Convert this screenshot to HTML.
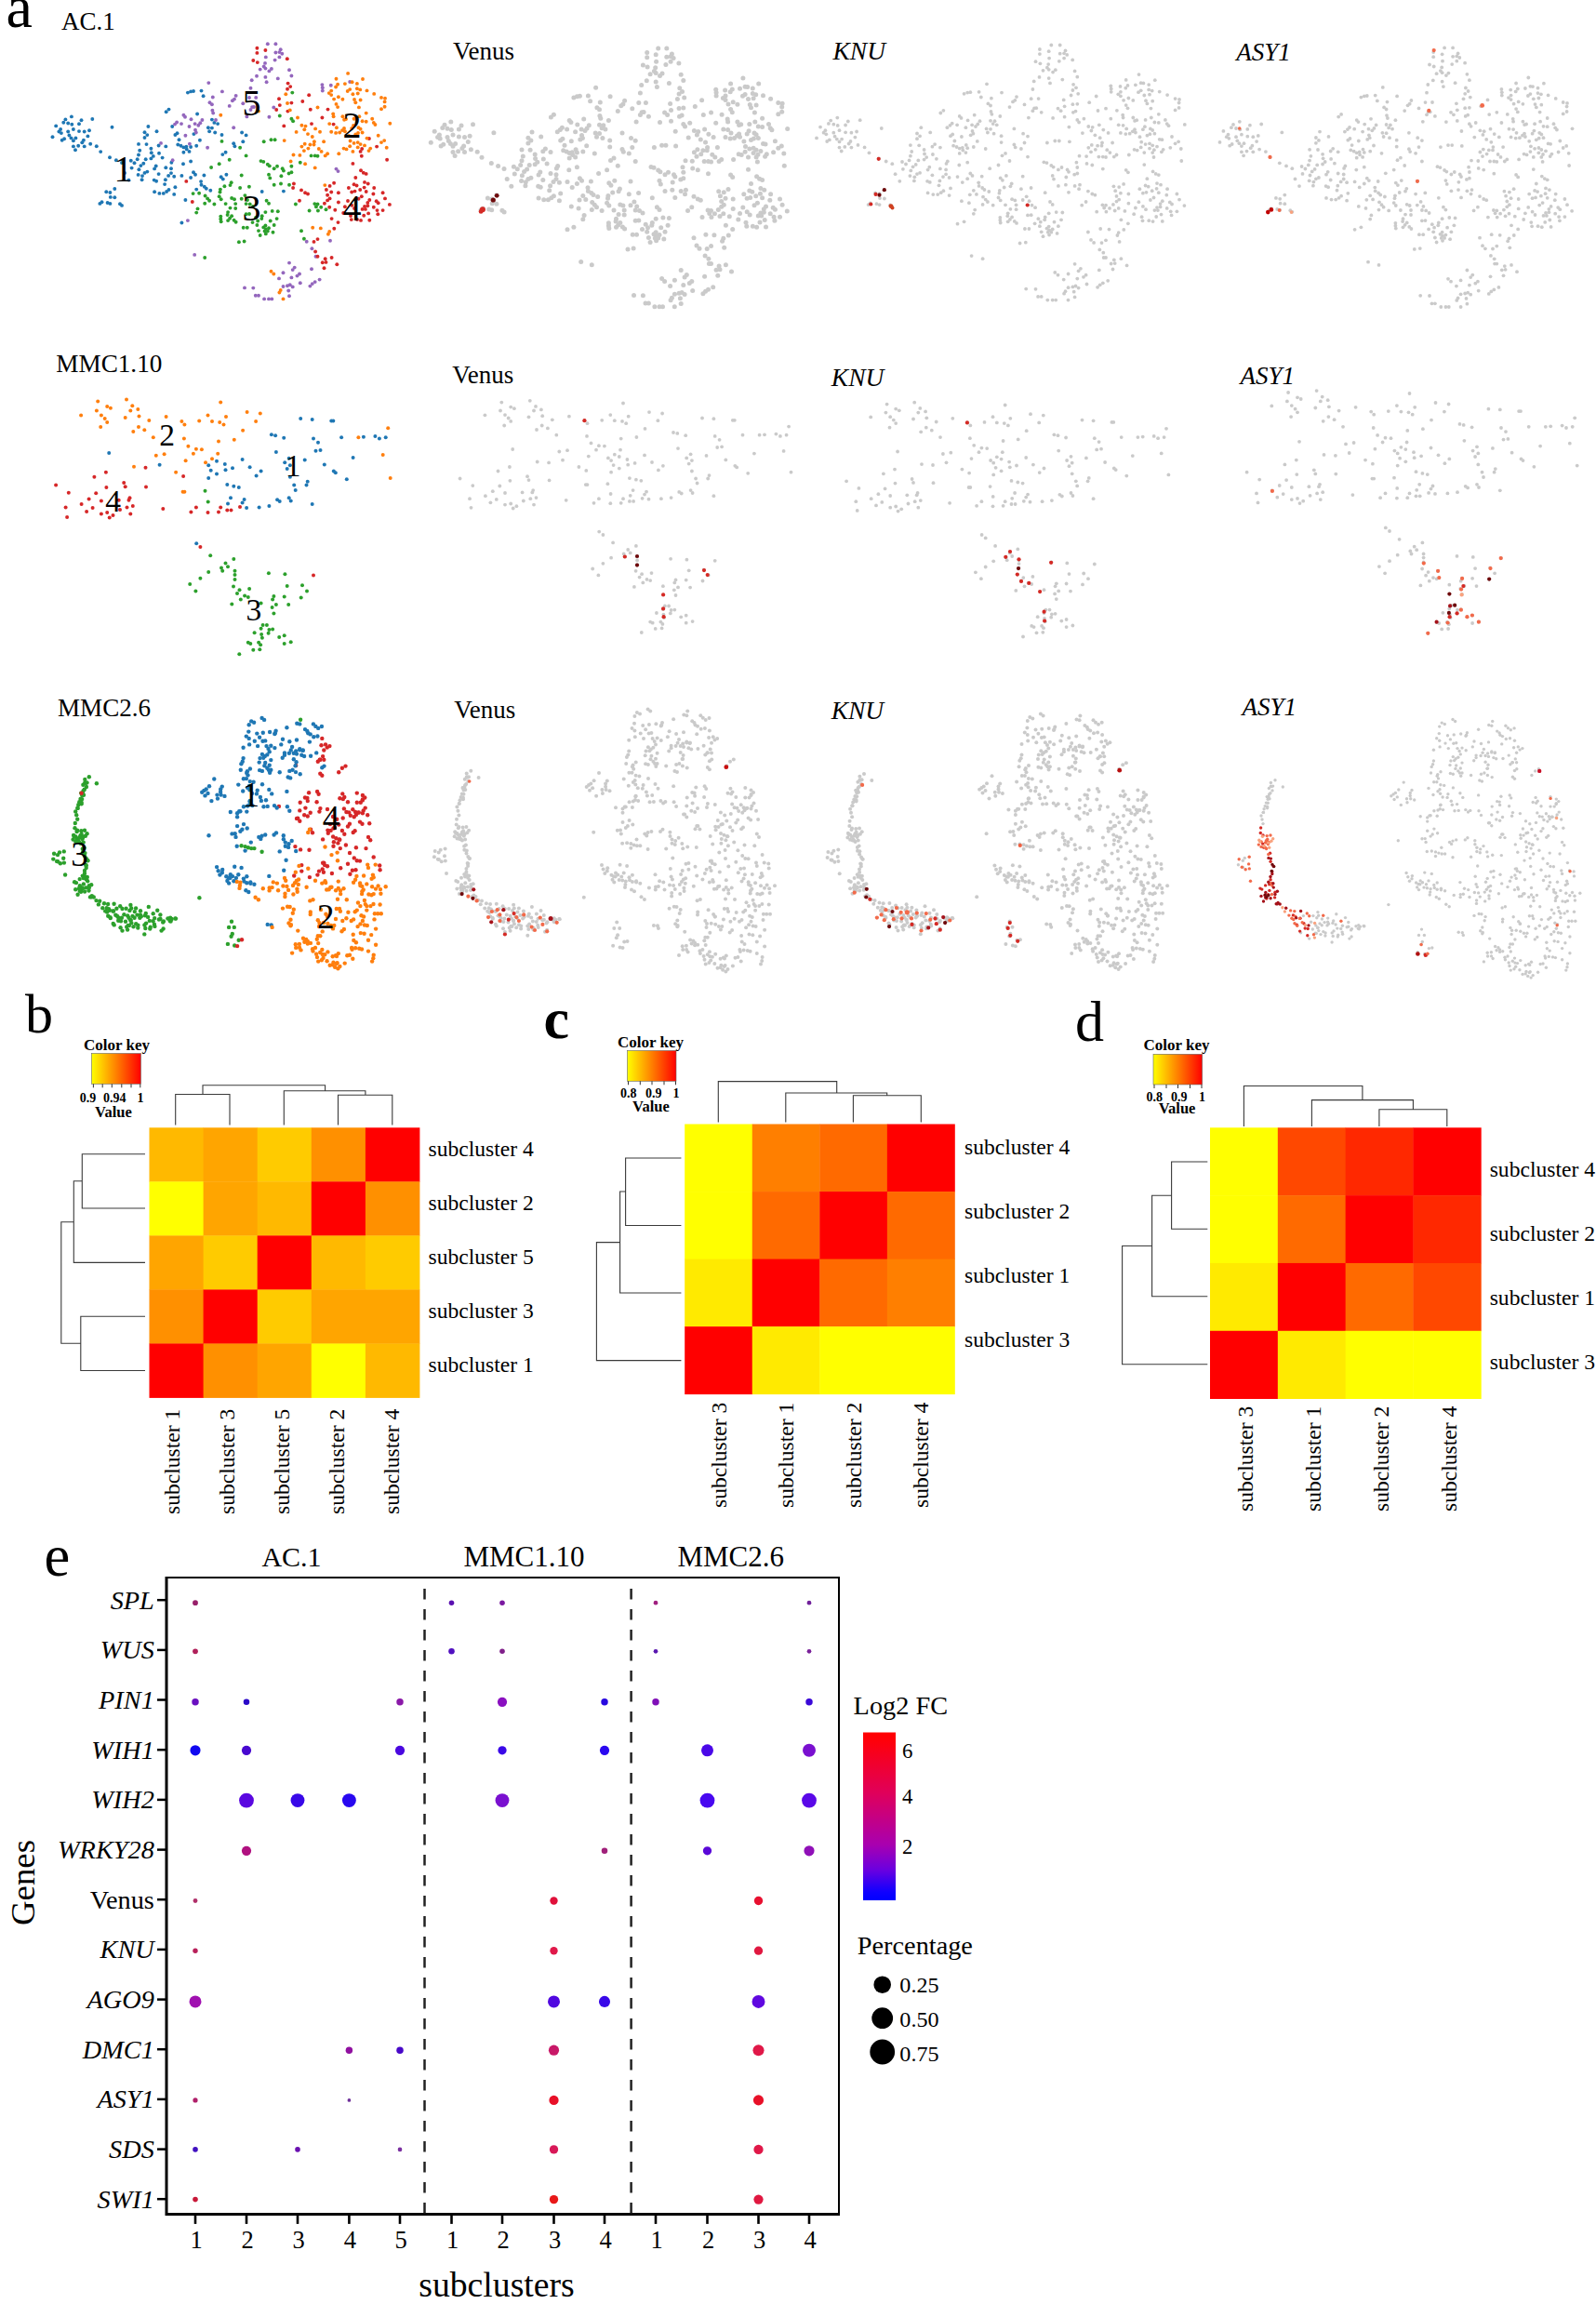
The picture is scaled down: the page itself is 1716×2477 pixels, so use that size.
<!DOCTYPE html>
<html><head><meta charset="utf-8"><title>Figure</title>
<style>
html,body{margin:0;padding:0;background:#fff}
svg{display:block}
text{font-family:"Liberation Serif",serif;fill:#000}
</style></head><body>
<svg width="1716" height="2477" viewBox="0 0 1716 2477">
<rect width="1716" height="2477" fill="#fff"/>
<g fill="#1f77b4">
<circle cx="76.9" cy="125.4" r="1.95"/><circle cx="99.3" cy="128.0" r="1.95"/><circle cx="70.4" cy="128.4" r="1.95"/><circle cx="68.3" cy="131.7" r="1.95"/><circle cx="73.2" cy="132.5" r="1.95"/><circle cx="77.3" cy="133.7" r="1.95"/><circle cx="87.5" cy="129.3" r="1.95"/><circle cx="85.0" cy="133.3" r="1.95"/><circle cx="60.2" cy="135.4" r="1.95"/><circle cx="65.1" cy="139.0" r="1.95"/><circle cx="78.9" cy="139.0" r="1.95"/><circle cx="85.0" cy="141.1" r="1.95"/><circle cx="73.2" cy="141.5" r="1.95"/><circle cx="63.4" cy="141.5" r="1.95"/><circle cx="65.9" cy="143.1" r="1.95"/><circle cx="90.7" cy="141.5" r="1.95"/><circle cx="96.0" cy="140.3" r="1.95"/><circle cx="74.4" cy="145.5" r="1.95"/><circle cx="94.4" cy="146.4" r="1.95"/><circle cx="56.5" cy="147.2" r="1.95"/><circle cx="76.5" cy="148.4" r="1.95"/><circle cx="81.4" cy="148.4" r="1.95"/><circle cx="78.9" cy="151.2" r="1.95"/><circle cx="69.1" cy="149.2" r="1.95"/><circle cx="66.7" cy="150.8" r="1.95"/><circle cx="89.9" cy="150.8" r="1.95"/><circle cx="88.3" cy="153.3" r="1.95"/><circle cx="97.2" cy="154.7" r="1.95"/><circle cx="90.7" cy="157.4" r="1.95"/><circle cx="84.2" cy="156.7" r="1.95"/><circle cx="78.9" cy="157.4" r="1.95"/><circle cx="81.0" cy="161.3" r="1.95"/><circle cx="103.8" cy="157.2" r="1.95"/><circle cx="108.2" cy="163.1" r="1.95"/><circle cx="118.0" cy="169.2" r="1.95"/><circle cx="124.9" cy="172.3" r="1.95"/><circle cx="120.5" cy="136.8" r="1.95"/><circle cx="159.4" cy="136.0" r="1.95"/><circle cx="168.5" cy="141.2" r="1.95"/><circle cx="155.5" cy="142.3" r="1.95"/><circle cx="158.3" cy="145.1" r="1.95"/><circle cx="155.5" cy="148.0" r="1.95"/><circle cx="149.0" cy="154.9" r="1.95"/><circle cx="157.5" cy="155.1" r="1.95"/><circle cx="170.6" cy="156.5" r="1.95"/><circle cx="162.4" cy="159.8" r="1.95"/><circle cx="150.2" cy="161.8" r="1.95"/><circle cx="162.8" cy="164.3" r="1.95"/><circle cx="171.0" cy="164.8" r="1.95"/><circle cx="149.0" cy="166.5" r="1.95"/><circle cx="164.8" cy="167.9" r="1.95"/><circle cx="162.4" cy="170.4" r="1.95"/><circle cx="174.6" cy="169.6" r="1.95"/><circle cx="147.7" cy="171.2" r="1.95"/><circle cx="156.7" cy="171.2" r="1.95"/><circle cx="140.8" cy="172.8" r="1.95"/><circle cx="144.5" cy="175.3" r="1.95"/><circle cx="154.3" cy="175.7" r="1.95"/><circle cx="151.4" cy="178.1" r="1.95"/><circle cx="167.7" cy="178.5" r="1.95"/><circle cx="141.6" cy="180.6" r="1.95"/><circle cx="149.4" cy="182.2" r="1.95"/><circle cx="166.1" cy="181.4" r="1.95"/><circle cx="158.3" cy="184.6" r="1.95"/><circle cx="155.5" cy="185.9" r="1.95"/><circle cx="148.6" cy="187.9" r="1.95"/><circle cx="153.0" cy="189.1" r="1.95"/><circle cx="170.6" cy="187.1" r="1.95"/><circle cx="152.6" cy="193.2" r="1.95"/><circle cx="138.4" cy="193.6" r="1.95"/><circle cx="165.7" cy="193.6" r="1.95"/><circle cx="168.1" cy="194.7" r="1.95"/><circle cx="177.9" cy="193.2" r="1.95"/><circle cx="177.1" cy="198.1" r="1.95"/><circle cx="178.3" cy="180.2" r="1.95"/><circle cx="178.3" cy="157.4" r="1.95"/><circle cx="166.1" cy="206.2" r="1.95"/><circle cx="171.4" cy="207.9" r="1.95"/><circle cx="175.8" cy="207.9" r="1.95"/><circle cx="178.7" cy="120.3" r="1.95"/><circle cx="123.3" cy="203.0" r="1.95"/><circle cx="114.3" cy="206.2" r="1.95"/><circle cx="118.4" cy="207.0" r="1.95"/><circle cx="118.8" cy="211.9" r="1.95"/><circle cx="123.3" cy="212.3" r="1.95"/><circle cx="109.5" cy="217.2" r="1.95"/><circle cx="107.4" cy="218.9" r="1.95"/><circle cx="115.6" cy="218.0" r="1.95"/><circle cx="118.4" cy="218.9" r="1.95"/><circle cx="129.0" cy="219.3" r="1.95"/><circle cx="131.0" cy="220.9" r="1.95"/><circle cx="201.9" cy="99.6" r="1.95"/><circle cx="205.1" cy="98.4" r="1.95"/><circle cx="208.0" cy="98.0" r="1.95"/><circle cx="216.5" cy="97.6" r="1.95"/><circle cx="218.6" cy="103.3" r="1.95"/><circle cx="181.5" cy="117.6" r="1.95"/><circle cx="212.1" cy="122.5" r="1.95"/><circle cx="227.9" cy="128.6" r="1.95"/><circle cx="304.9" cy="205.6" r="1.95"/><circle cx="230.4" cy="131.9" r="1.95"/><circle cx="234.1" cy="133.1" r="1.95"/><circle cx="223.9" cy="137.2" r="1.95"/><circle cx="227.9" cy="137.6" r="1.95"/><circle cx="225.1" cy="141.3" r="1.95"/><circle cx="231.2" cy="142.5" r="1.95"/><circle cx="185.2" cy="136.0" r="1.95"/><circle cx="190.5" cy="143.3" r="1.95"/><circle cx="188.4" cy="145.0" r="1.95"/><circle cx="208.4" cy="144.1" r="1.95"/><circle cx="238.5" cy="145.0" r="1.95"/><circle cx="260.1" cy="142.5" r="1.95"/><circle cx="264.6" cy="145.4" r="1.95"/><circle cx="214.9" cy="150.7" r="1.95"/><circle cx="192.5" cy="150.3" r="1.95"/><circle cx="261.3" cy="152.3" r="1.95"/><circle cx="191.3" cy="155.5" r="1.95"/><circle cx="194.5" cy="156.8" r="1.95"/><circle cx="197.4" cy="158.4" r="1.95"/><circle cx="200.3" cy="157.6" r="1.95"/><circle cx="205.1" cy="158.0" r="1.95"/><circle cx="211.2" cy="156.8" r="1.95"/><circle cx="200.7" cy="160.4" r="1.95"/><circle cx="197.4" cy="163.7" r="1.95"/><circle cx="203.5" cy="162.9" r="1.95"/><circle cx="251.2" cy="154.3" r="1.95"/><circle cx="252.4" cy="157.2" r="1.95"/><circle cx="242.6" cy="163.7" r="1.95"/><circle cx="239.3" cy="166.1" r="1.95"/><circle cx="205.1" cy="173.5" r="1.95"/><circle cx="184.4" cy="174.7" r="1.95"/><circle cx="197.0" cy="176.3" r="1.95"/><circle cx="184.0" cy="181.2" r="1.95"/><circle cx="208.0" cy="185.3" r="1.95"/><circle cx="210.0" cy="187.7" r="1.95"/><circle cx="184.0" cy="186.1" r="1.95"/><circle cx="181.1" cy="188.9" r="1.95"/><circle cx="187.2" cy="189.8" r="1.95"/><circle cx="195.4" cy="188.9" r="1.95"/><circle cx="219.4" cy="188.5" r="1.95"/><circle cx="205.1" cy="191.0" r="1.95"/><circle cx="237.7" cy="190.2" r="1.95"/><circle cx="239.8" cy="192.6" r="1.95"/><circle cx="243.4" cy="187.7" r="1.95"/><circle cx="216.1" cy="195.1" r="1.95"/><circle cx="216.5" cy="198.7" r="1.95"/><circle cx="219.8" cy="200.8" r="1.95"/><circle cx="221.8" cy="202.8" r="1.95"/><circle cx="188.4" cy="201.2" r="1.95"/><circle cx="211.2" cy="203.6" r="1.95"/><circle cx="226.3" cy="204.8" r="1.95"/><circle cx="181.5" cy="204.0" r="1.95"/><circle cx="179.1" cy="206.0" r="1.95"/><circle cx="187.2" cy="208.9" r="1.95"/><circle cx="199.4" cy="215.0" r="1.95"/><circle cx="281.7" cy="206.0" r="1.95"/><circle cx="195.4" cy="239.5" r="1.95"/><circle cx="131.0" cy="175.0" r="1.95"/><circle cx="134.0" cy="186.0" r="1.95"/>
</g>
<g fill="#9467bd">
<circle cx="173.0" cy="153.9" r="1.95"/><circle cx="287.8" cy="47.3" r="1.95"/><circle cx="296.4" cy="47.3" r="1.95"/><circle cx="301.7" cy="53.2" r="1.95"/><circle cx="296.4" cy="56.5" r="1.95"/><circle cx="300.4" cy="56.1" r="1.95"/><circle cx="303.3" cy="57.7" r="1.95"/><circle cx="285.8" cy="61.4" r="1.95"/><circle cx="300.4" cy="61.4" r="1.95"/><circle cx="295.6" cy="64.6" r="1.95"/><circle cx="285.0" cy="67.9" r="1.95"/><circle cx="283.7" cy="71.5" r="1.95"/><circle cx="285.4" cy="73.6" r="1.95"/><circle cx="279.7" cy="74.6" r="1.95"/><circle cx="291.9" cy="74.0" r="1.95"/><circle cx="289.4" cy="76.4" r="1.95"/><circle cx="276.0" cy="81.7" r="1.95"/><circle cx="285.4" cy="82.9" r="1.95"/><circle cx="270.7" cy="86.2" r="1.95"/><circle cx="286.6" cy="88.2" r="1.95"/><circle cx="298.8" cy="84.4" r="1.95"/><circle cx="269.5" cy="94.8" r="1.95"/><circle cx="238.9" cy="98.4" r="1.95"/><circle cx="253.6" cy="102.9" r="1.95"/><circle cx="252.0" cy="106.6" r="1.95"/><circle cx="249.9" cy="108.2" r="1.95"/><circle cx="228.8" cy="104.5" r="1.95"/><circle cx="225.5" cy="110.2" r="1.95"/><circle cx="227.9" cy="112.3" r="1.95"/><circle cx="246.7" cy="113.9" r="1.95"/><circle cx="261.3" cy="111.2" r="1.95"/><circle cx="275.2" cy="104.9" r="1.95"/><circle cx="271.1" cy="115.1" r="1.95"/><circle cx="269.5" cy="118.0" r="1.95"/><circle cx="228.4" cy="118.8" r="1.95"/><circle cx="229.2" cy="121.6" r="1.95"/><circle cx="197.4" cy="123.7" r="1.95"/><circle cx="199.0" cy="125.7" r="1.95"/><circle cx="205.5" cy="128.2" r="1.95"/><circle cx="289.4" cy="125.7" r="1.95"/><circle cx="294.3" cy="115.5" r="1.95"/><circle cx="217.4" cy="129.0" r="1.95"/><circle cx="232.0" cy="129.0" r="1.95"/><circle cx="224.3" cy="89.1" r="1.95"/><circle cx="311.0" cy="75.2" r="1.95"/><circle cx="313.4" cy="81.5" r="1.95"/><circle cx="346.4" cy="91.1" r="1.95"/><circle cx="346.8" cy="94.3" r="1.95"/><circle cx="346.8" cy="97.6" r="1.95"/><circle cx="355.8" cy="91.7" r="1.95"/><circle cx="376.2" cy="88.0" r="1.95"/><circle cx="361.5" cy="181.6" r="1.95"/><circle cx="363.5" cy="184.1" r="1.95"/><circle cx="190.1" cy="131.5" r="1.95"/><circle cx="188.0" cy="133.6" r="1.95"/><circle cx="195.0" cy="133.1" r="1.95"/><circle cx="215.3" cy="132.3" r="1.95"/><circle cx="213.3" cy="134.8" r="1.95"/><circle cx="209.6" cy="133.1" r="1.95"/><circle cx="203.5" cy="136.0" r="1.95"/><circle cx="210.0" cy="139.7" r="1.95"/><circle cx="210.8" cy="142.5" r="1.95"/><circle cx="199.4" cy="145.8" r="1.95"/><circle cx="251.2" cy="137.2" r="1.95"/><circle cx="265.4" cy="125.4" r="1.95"/><circle cx="203.9" cy="154.7" r="1.95"/><circle cx="223.1" cy="158.8" r="1.95"/><circle cx="185.6" cy="172.2" r="1.95"/><circle cx="201.9" cy="237.1" r="1.95"/><circle cx="209.2" cy="273.9" r="1.95"/><circle cx="263.0" cy="309.4" r="1.95"/><circle cx="272.3" cy="309.6" r="1.95"/><circle cx="274.8" cy="317.7" r="1.95"/><circle cx="278.0" cy="317.7" r="1.95"/><circle cx="284.1" cy="321.4" r="1.95"/><circle cx="289.0" cy="321.4" r="1.95"/><circle cx="292.3" cy="321.4" r="1.95"/><circle cx="300.0" cy="299.4" r="1.95"/><circle cx="304.5" cy="293.3" r="1.95"/><circle cx="304.5" cy="308.0" r="1.95"/><circle cx="329.7" cy="259.7" r="1.95"/><circle cx="355.0" cy="258.7" r="1.95"/><circle cx="335.4" cy="267.2" r="1.95"/><circle cx="339.5" cy="275.8" r="1.95"/><circle cx="311.0" cy="282.6" r="1.95"/><circle cx="316.7" cy="287.6" r="1.95"/><circle cx="314.7" cy="290.1" r="1.95"/><circle cx="335.0" cy="289.2" r="1.95"/><circle cx="322.0" cy="294.5" r="1.95"/><circle cx="319.5" cy="296.6" r="1.95"/><circle cx="313.4" cy="298.4" r="1.95"/><circle cx="343.6" cy="300.6" r="1.95"/><circle cx="338.7" cy="303.1" r="1.95"/><circle cx="335.8" cy="305.1" r="1.95"/><circle cx="333.4" cy="307.6" r="1.95"/><circle cx="322.8" cy="304.3" r="1.95"/><circle cx="309.0" cy="307.2" r="1.95"/><circle cx="311.8" cy="306.3" r="1.95"/><circle cx="314.7" cy="308.4" r="1.95"/><circle cx="310.2" cy="312.5" r="1.95"/><circle cx="311.0" cy="318.2" r="1.95"/><circle cx="268.0" cy="105.0" r="1.95"/><circle cx="273.0" cy="115.0" r="1.95"/>
</g>
<g fill="#d62728">
<circle cx="276.4" cy="51.8" r="1.95"/><circle cx="285.4" cy="54.0" r="1.95"/><circle cx="276.4" cy="56.9" r="1.95"/><circle cx="272.3" cy="65.0" r="1.95"/><circle cx="276.8" cy="67.1" r="1.95"/><circle cx="300.0" cy="106.2" r="1.95"/><circle cx="300.8" cy="113.1" r="1.95"/><circle cx="297.2" cy="118.0" r="1.95"/><circle cx="308.8" cy="63.2" r="1.95"/><circle cx="309.6" cy="89.6" r="1.95"/><circle cx="312.2" cy="93.1" r="1.95"/><circle cx="309.0" cy="95.8" r="1.95"/><circle cx="313.4" cy="110.6" r="1.95"/><circle cx="325.3" cy="109.0" r="1.95"/><circle cx="332.2" cy="102.3" r="1.95"/><circle cx="333.8" cy="117.8" r="1.95"/><circle cx="352.5" cy="117.6" r="1.95"/><circle cx="309.4" cy="119.6" r="1.95"/><circle cx="346.4" cy="126.5" r="1.95"/><circle cx="305.3" cy="135.4" r="1.95"/><circle cx="335.0" cy="133.1" r="1.95"/><circle cx="358.6" cy="133.6" r="1.95"/><circle cx="396.9" cy="149.0" r="1.95"/><circle cx="405.1" cy="157.6" r="1.95"/><circle cx="389.2" cy="160.0" r="1.95"/><circle cx="387.6" cy="162.9" r="1.95"/><circle cx="388.8" cy="167.8" r="1.95"/><circle cx="416.1" cy="171.8" r="1.95"/><circle cx="379.4" cy="175.9" r="1.95"/><circle cx="388.0" cy="183.2" r="1.95"/><circle cx="390.8" cy="185.7" r="1.95"/><circle cx="393.7" cy="186.9" r="1.95"/><circle cx="382.3" cy="191.0" r="1.95"/><circle cx="359.1" cy="196.7" r="1.95"/><circle cx="392.0" cy="195.9" r="1.95"/><circle cx="395.7" cy="197.5" r="1.95"/><circle cx="380.6" cy="198.3" r="1.95"/><circle cx="383.5" cy="199.5" r="1.95"/><circle cx="354.6" cy="199.9" r="1.95"/><circle cx="374.9" cy="202.0" r="1.95"/><circle cx="391.6" cy="201.6" r="1.95"/><circle cx="402.2" cy="202.0" r="1.95"/><circle cx="387.2" cy="204.0" r="1.95"/><circle cx="350.9" cy="204.0" r="1.95"/><circle cx="315.9" cy="197.5" r="1.95"/><circle cx="315.1" cy="202.0" r="1.95"/><circle cx="324.0" cy="204.4" r="1.95"/><circle cx="356.2" cy="206.5" r="1.95"/><circle cx="363.9" cy="207.3" r="1.95"/><circle cx="378.2" cy="206.5" r="1.95"/><circle cx="381.5" cy="205.6" r="1.95"/><circle cx="393.7" cy="206.0" r="1.95"/><circle cx="401.4" cy="208.5" r="1.95"/><circle cx="411.6" cy="207.3" r="1.95"/><circle cx="328.1" cy="207.3" r="1.95"/><circle cx="331.0" cy="208.5" r="1.95"/><circle cx="352.1" cy="209.7" r="1.95"/><circle cx="354.6" cy="213.4" r="1.95"/><circle cx="352.1" cy="215.4" r="1.95"/><circle cx="348.9" cy="218.7" r="1.95"/><circle cx="363.9" cy="217.5" r="1.95"/><circle cx="388.8" cy="211.3" r="1.95"/><circle cx="385.5" cy="213.8" r="1.95"/><circle cx="397.3" cy="215.0" r="1.95"/><circle cx="395.3" cy="217.9" r="1.95"/><circle cx="404.7" cy="216.2" r="1.95"/><circle cx="406.7" cy="218.3" r="1.95"/><circle cx="414.0" cy="213.4" r="1.95"/><circle cx="418.9" cy="219.9" r="1.95"/><circle cx="322.0" cy="215.8" r="1.95"/><circle cx="378.2" cy="220.7" r="1.95"/><circle cx="370.9" cy="222.3" r="1.95"/><circle cx="392.0" cy="221.9" r="1.95"/><circle cx="401.8" cy="222.7" r="1.95"/><circle cx="354.2" cy="222.7" r="1.95"/><circle cx="200.3" cy="194.9" r="1.95"/><circle cx="206.8" cy="217.0" r="1.95"/><circle cx="360.3" cy="225.7" r="1.95"/><circle cx="369.2" cy="229.0" r="1.95"/><circle cx="395.3" cy="221.2" r="1.95"/><circle cx="389.6" cy="224.9" r="1.95"/><circle cx="392.9" cy="224.9" r="1.95"/><circle cx="396.1" cy="229.4" r="1.95"/><circle cx="391.2" cy="231.8" r="1.95"/><circle cx="405.5" cy="226.1" r="1.95"/><circle cx="406.3" cy="230.2" r="1.95"/><circle cx="411.6" cy="226.1" r="1.95"/><circle cx="356.6" cy="235.1" r="1.95"/><circle cx="363.5" cy="239.1" r="1.95"/><circle cx="377.8" cy="236.1" r="1.95"/><circle cx="388.0" cy="236.9" r="1.95"/><circle cx="397.3" cy="236.7" r="1.95"/><circle cx="359.3" cy="245.7" r="1.95"/><circle cx="341.5" cy="257.1" r="1.95"/><circle cx="337.5" cy="259.9" r="1.95"/><circle cx="339.1" cy="270.5" r="1.95"/><circle cx="341.5" cy="275.8" r="1.95"/><circle cx="356.6" cy="277.0" r="1.95"/><circle cx="349.7" cy="278.2" r="1.95"/><circle cx="346.8" cy="282.3" r="1.95"/><circle cx="350.5" cy="281.9" r="1.95"/><circle cx="362.3" cy="284.2" r="1.95"/><circle cx="348.5" cy="288.3" r="1.95"/><circle cx="374.0" cy="216.0" r="1.95"/><circle cx="381.0" cy="224.0" r="1.95"/><circle cx="377.0" cy="232.0" r="1.95"/><circle cx="384.0" cy="236.0" r="1.95"/>
</g>
<g fill="#ff7f0e">
<circle cx="237.3" cy="123.8" r="1.95"/><circle cx="278.0" cy="119.6" r="1.95"/><circle cx="374.1" cy="78.9" r="1.95"/><circle cx="361.5" cy="84.7" r="1.95"/><circle cx="390.0" cy="85.0" r="1.95"/><circle cx="378.6" cy="88.2" r="1.95"/><circle cx="370.9" cy="90.1" r="1.95"/><circle cx="383.9" cy="89.9" r="1.95"/><circle cx="363.1" cy="90.7" r="1.95"/><circle cx="361.1" cy="93.5" r="1.95"/><circle cx="356.2" cy="97.6" r="1.95"/><circle cx="353.8" cy="100.1" r="1.95"/><circle cx="356.2" cy="102.1" r="1.95"/><circle cx="376.2" cy="96.1" r="1.95"/><circle cx="373.7" cy="98.0" r="1.95"/><circle cx="383.9" cy="95.2" r="1.95"/><circle cx="387.2" cy="96.4" r="1.95"/><circle cx="394.5" cy="97.4" r="1.95"/><circle cx="384.7" cy="100.5" r="1.95"/><circle cx="379.4" cy="101.3" r="1.95"/><circle cx="402.2" cy="100.9" r="1.95"/><circle cx="363.9" cy="104.3" r="1.95"/><circle cx="359.1" cy="106.6" r="1.95"/><circle cx="368.4" cy="106.7" r="1.95"/><circle cx="381.0" cy="107.0" r="1.95"/><circle cx="387.6" cy="107.5" r="1.95"/><circle cx="382.3" cy="110.2" r="1.95"/><circle cx="410.0" cy="104.9" r="1.95"/><circle cx="414.0" cy="105.8" r="1.95"/><circle cx="413.6" cy="109.4" r="1.95"/><circle cx="361.5" cy="111.9" r="1.95"/><circle cx="363.1" cy="115.1" r="1.95"/><circle cx="385.9" cy="115.4" r="1.95"/><circle cx="413.6" cy="114.7" r="1.95"/><circle cx="410.0" cy="117.2" r="1.95"/><circle cx="307.3" cy="101.3" r="1.95"/><circle cx="309.0" cy="111.0" r="1.95"/><circle cx="341.5" cy="115.5" r="1.95"/><circle cx="311.8" cy="118.4" r="1.95"/><circle cx="393.7" cy="121.6" r="1.95"/><circle cx="358.2" cy="122.5" r="1.95"/><circle cx="358.6" cy="125.3" r="1.95"/><circle cx="320.0" cy="126.5" r="1.95"/><circle cx="368.4" cy="125.3" r="1.95"/><circle cx="386.3" cy="125.3" r="1.95"/><circle cx="380.6" cy="127.7" r="1.95"/><circle cx="400.2" cy="127.7" r="1.95"/><circle cx="370.1" cy="128.7" r="1.95"/><circle cx="389.6" cy="130.3" r="1.95"/><circle cx="393.7" cy="130.7" r="1.95"/><circle cx="401.8" cy="131.9" r="1.95"/><circle cx="403.4" cy="134.0" r="1.95"/><circle cx="419.3" cy="132.7" r="1.95"/><circle cx="324.4" cy="134.8" r="1.95"/><circle cx="328.5" cy="135.6" r="1.95"/><circle cx="327.3" cy="139.3" r="1.95"/><circle cx="354.2" cy="133.1" r="1.95"/><circle cx="361.9" cy="137.2" r="1.95"/><circle cx="339.1" cy="138.4" r="1.95"/><circle cx="344.0" cy="141.7" r="1.95"/><circle cx="356.2" cy="141.7" r="1.95"/><circle cx="361.1" cy="142.9" r="1.95"/><circle cx="365.2" cy="142.5" r="1.95"/><circle cx="368.0" cy="140.1" r="1.95"/><circle cx="370.9" cy="141.3" r="1.95"/><circle cx="378.2" cy="138.0" r="1.95"/><circle cx="385.5" cy="137.2" r="1.95"/><circle cx="387.6" cy="138.8" r="1.95"/><circle cx="389.6" cy="142.5" r="1.95"/><circle cx="382.3" cy="144.5" r="1.95"/><circle cx="318.6" cy="141.9" r="1.95"/><circle cx="331.0" cy="144.1" r="1.95"/><circle cx="335.8" cy="147.0" r="1.95"/><circle cx="406.7" cy="145.8" r="1.95"/><circle cx="394.5" cy="148.6" r="1.95"/><circle cx="305.7" cy="151.1" r="1.95"/><circle cx="348.1" cy="152.3" r="1.95"/><circle cx="337.9" cy="152.3" r="1.95"/><circle cx="337.5" cy="155.5" r="1.95"/><circle cx="376.6" cy="151.5" r="1.95"/><circle cx="380.6" cy="153.9" r="1.95"/><circle cx="384.7" cy="153.1" r="1.95"/><circle cx="387.6" cy="155.1" r="1.95"/><circle cx="392.0" cy="156.4" r="1.95"/><circle cx="410.0" cy="153.1" r="1.95"/><circle cx="413.2" cy="151.1" r="1.95"/><circle cx="327.7" cy="154.7" r="1.95"/><circle cx="333.4" cy="155.5" r="1.95"/><circle cx="324.4" cy="157.6" r="1.95"/><circle cx="331.4" cy="159.6" r="1.95"/><circle cx="326.9" cy="162.1" r="1.95"/><circle cx="342.8" cy="160.0" r="1.95"/><circle cx="345.6" cy="162.9" r="1.95"/><circle cx="352.1" cy="165.3" r="1.95"/><circle cx="349.7" cy="167.4" r="1.95"/><circle cx="369.6" cy="159.6" r="1.95"/><circle cx="372.5" cy="160.4" r="1.95"/><circle cx="376.2" cy="157.2" r="1.95"/><circle cx="384.7" cy="158.4" r="1.95"/><circle cx="398.2" cy="159.6" r="1.95"/><circle cx="396.5" cy="162.1" r="1.95"/><circle cx="415.7" cy="158.8" r="1.95"/><circle cx="379.4" cy="162.9" r="1.95"/><circle cx="364.3" cy="165.3" r="1.95"/><circle cx="315.5" cy="166.5" r="1.95"/><circle cx="322.4" cy="166.9" r="1.95"/><circle cx="312.6" cy="173.5" r="1.95"/><circle cx="328.1" cy="176.3" r="1.95"/><circle cx="338.7" cy="180.4" r="1.95"/><circle cx="349.3" cy="199.1" r="1.95"/><circle cx="291.5" cy="291.7" r="1.95"/><circle cx="294.3" cy="294.5" r="1.95"/><circle cx="301.7" cy="312.0" r="1.95"/><circle cx="300.4" cy="314.5" r="1.95"/><circle cx="336.2" cy="244.8" r="1.95"/><circle cx="344.8" cy="245.4" r="1.95"/><circle cx="354.2" cy="248.9" r="1.95"/><circle cx="352.9" cy="251.8" r="1.95"/><circle cx="304.5" cy="321.4" r="1.95"/><circle cx="372.0" cy="128.0" r="1.95"/><circle cx="380.0" cy="135.0" r="1.95"/><circle cx="385.0" cy="143.0" r="1.95"/><circle cx="375.0" cy="146.0" r="1.95"/><circle cx="370.0" cy="138.0" r="1.95"/>
</g>
<g fill="#2ca02c">
<circle cx="300.8" cy="124.5" r="1.95"/><circle cx="314.3" cy="99.6" r="1.95"/><circle cx="313.4" cy="127.7" r="1.95"/><circle cx="315.1" cy="130.3" r="1.95"/><circle cx="334.6" cy="167.4" r="1.95"/><circle cx="338.7" cy="167.4" r="1.95"/><circle cx="341.5" cy="167.8" r="1.95"/><circle cx="322.8" cy="174.7" r="1.95"/><circle cx="313.4" cy="178.8" r="1.95"/><circle cx="303.7" cy="181.2" r="1.95"/><circle cx="304.9" cy="183.6" r="1.95"/><circle cx="310.6" cy="186.5" r="1.95"/><circle cx="313.4" cy="185.3" r="1.95"/><circle cx="302.4" cy="189.3" r="1.95"/><circle cx="302.0" cy="197.5" r="1.95"/><circle cx="311.0" cy="198.7" r="1.95"/><circle cx="317.9" cy="219.5" r="1.95"/><circle cx="338.3" cy="219.1" r="1.95"/><circle cx="341.5" cy="219.5" r="1.95"/><circle cx="339.9" cy="222.3" r="1.95"/><circle cx="345.2" cy="222.7" r="1.95"/><circle cx="238.5" cy="151.9" r="1.95"/><circle cx="258.1" cy="158.8" r="1.95"/><circle cx="283.7" cy="152.3" r="1.95"/><circle cx="291.5" cy="150.3" r="1.95"/><circle cx="295.6" cy="150.3" r="1.95"/><circle cx="264.6" cy="167.4" r="1.95"/><circle cx="246.7" cy="171.8" r="1.95"/><circle cx="235.7" cy="176.3" r="1.95"/><circle cx="227.1" cy="180.0" r="1.95"/><circle cx="280.5" cy="173.1" r="1.95"/><circle cx="283.3" cy="173.9" r="1.95"/><circle cx="287.8" cy="176.7" r="1.95"/><circle cx="289.8" cy="178.4" r="1.95"/><circle cx="294.7" cy="181.2" r="1.95"/><circle cx="298.0" cy="178.8" r="1.95"/><circle cx="259.7" cy="188.5" r="1.95"/><circle cx="289.0" cy="187.7" r="1.95"/><circle cx="290.3" cy="191.4" r="1.95"/><circle cx="248.7" cy="196.3" r="1.95"/><circle cx="247.5" cy="199.1" r="1.95"/><circle cx="241.4" cy="200.3" r="1.95"/><circle cx="258.1" cy="202.0" r="1.95"/><circle cx="267.9" cy="200.8" r="1.95"/><circle cx="294.7" cy="198.7" r="1.95"/><circle cx="236.9" cy="203.6" r="1.95"/><circle cx="236.5" cy="206.5" r="1.95"/><circle cx="207.6" cy="208.1" r="1.95"/><circle cx="214.1" cy="207.7" r="1.95"/><circle cx="220.6" cy="210.5" r="1.95"/><circle cx="223.1" cy="213.4" r="1.95"/><circle cx="225.1" cy="215.8" r="1.95"/><circle cx="235.7" cy="211.3" r="1.95"/><circle cx="237.7" cy="214.2" r="1.95"/><circle cx="249.1" cy="213.0" r="1.95"/><circle cx="252.0" cy="214.2" r="1.95"/><circle cx="259.7" cy="213.8" r="1.95"/><circle cx="263.4" cy="210.1" r="1.95"/><circle cx="220.2" cy="218.7" r="1.95"/><circle cx="230.4" cy="219.5" r="1.95"/><circle cx="242.6" cy="219.1" r="1.95"/><circle cx="253.2" cy="219.1" r="1.95"/><circle cx="264.6" cy="219.1" r="1.95"/><circle cx="268.7" cy="219.5" r="1.95"/><circle cx="286.6" cy="215.8" r="1.95"/><circle cx="289.0" cy="218.7" r="1.95"/><circle cx="247.5" cy="223.6" r="1.95"/><circle cx="253.2" cy="224.0" r="1.95"/><circle cx="212.5" cy="224.4" r="1.95"/><circle cx="211.2" cy="228.6" r="1.95"/><circle cx="245.1" cy="228.1" r="1.95"/><circle cx="244.6" cy="231.0" r="1.95"/><circle cx="237.3" cy="232.6" r="1.95"/><circle cx="237.3" cy="235.5" r="1.95"/><circle cx="237.7" cy="238.3" r="1.95"/><circle cx="249.1" cy="232.2" r="1.95"/><circle cx="247.1" cy="234.7" r="1.95"/><circle cx="245.1" cy="237.1" r="1.95"/><circle cx="251.6" cy="236.7" r="1.95"/><circle cx="253.6" cy="238.7" r="1.95"/><circle cx="264.6" cy="230.2" r="1.95"/><circle cx="285.4" cy="228.1" r="1.95"/><circle cx="292.7" cy="226.9" r="1.95"/><circle cx="298.8" cy="227.3" r="1.95"/><circle cx="281.7" cy="232.2" r="1.95"/><circle cx="281.3" cy="235.1" r="1.95"/><circle cx="297.6" cy="235.1" r="1.95"/><circle cx="277.2" cy="237.5" r="1.95"/><circle cx="271.5" cy="239.1" r="1.95"/><circle cx="290.7" cy="237.5" r="1.95"/><circle cx="276.4" cy="242.0" r="1.95"/><circle cx="294.7" cy="242.0" r="1.95"/><circle cx="285.4" cy="242.4" r="1.95"/><circle cx="283.3" cy="244.4" r="1.95"/><circle cx="261.7" cy="244.8" r="1.95"/><circle cx="265.8" cy="244.8" r="1.95"/><circle cx="285.8" cy="246.1" r="1.95"/><circle cx="289.0" cy="245.3" r="1.95"/><circle cx="278.0" cy="248.1" r="1.95"/><circle cx="284.6" cy="248.5" r="1.95"/><circle cx="287.8" cy="248.5" r="1.95"/><circle cx="293.5" cy="249.7" r="1.95"/><circle cx="285.8" cy="251.4" r="1.95"/><circle cx="279.7" cy="253.0" r="1.95"/><circle cx="256.9" cy="260.3" r="1.95"/><circle cx="262.6" cy="259.5" r="1.95"/><circle cx="220.2" cy="277.0" r="1.95"/><circle cx="332.6" cy="226.5" r="1.95"/><circle cx="341.9" cy="226.5" r="1.95"/><circle cx="350.5" cy="225.3" r="1.95"/><circle cx="324.0" cy="248.3" r="1.95"/><circle cx="326.9" cy="256.7" r="1.95"/><circle cx="266.0" cy="215.0" r="1.95"/><circle cx="272.0" cy="222.0" r="1.95"/><circle cx="268.0" cy="230.0" r="1.95"/><circle cx="275.0" cy="234.0" r="1.95"/>
</g>
<g fill="#ff7f0e">
<circle cx="87.1" cy="446.6" r="2.0"/><circle cx="105.2" cy="431.6" r="2.0"/><circle cx="103.9" cy="441.4" r="2.0"/><circle cx="115.2" cy="437.1" r="2.0"/><circle cx="118.9" cy="438.8" r="2.0"/><circle cx="108.9" cy="446.4" r="2.0"/><circle cx="112.7" cy="450.1" r="2.0"/><circle cx="115.2" cy="453.9" r="2.0"/><circle cx="108.2" cy="458.9" r="2.0"/><circle cx="136.0" cy="429.6" r="2.0"/><circle cx="142.3" cy="436.3" r="2.0"/><circle cx="140.3" cy="441.4" r="2.0"/><circle cx="148.3" cy="440.1" r="2.0"/><circle cx="134.7" cy="448.9" r="2.0"/><circle cx="149.5" cy="447.6" r="2.0"/><circle cx="160.3" cy="452.1" r="2.0"/><circle cx="149.0" cy="458.9" r="2.0"/><circle cx="143.3" cy="463.9" r="2.0"/><circle cx="155.3" cy="462.2" r="2.0"/><circle cx="178.6" cy="448.1" r="2.0"/><circle cx="195.4" cy="453.1" r="2.0"/><circle cx="198.4" cy="456.4" r="2.0"/><circle cx="164.8" cy="470.2" r="2.0"/><circle cx="197.9" cy="471.4" r="2.0"/><circle cx="202.4" cy="479.7" r="2.0"/><circle cx="210.9" cy="482.7" r="2.0"/><circle cx="216.9" cy="483.2" r="2.0"/><circle cx="207.9" cy="487.7" r="2.0"/><circle cx="176.6" cy="488.2" r="2.0"/><circle cx="167.8" cy="489.7" r="2.0"/><circle cx="199.6" cy="495.2" r="2.0"/><circle cx="189.1" cy="507.8" r="2.0"/><circle cx="144.0" cy="501.8" r="2.0"/><circle cx="196.6" cy="528.8" r="2.0"/><circle cx="198.4" cy="528.8" r="2.0"/><circle cx="214.2" cy="452.6" r="2.0"/><circle cx="223.5" cy="446.4" r="2.0"/><circle cx="228.0" cy="453.1" r="2.0"/><circle cx="237.2" cy="432.6" r="2.0"/><circle cx="243.0" cy="448.1" r="2.0"/><circle cx="236.2" cy="453.9" r="2.0"/><circle cx="240.5" cy="456.4" r="2.0"/><circle cx="265.6" cy="443.1" r="2.0"/><circle cx="279.8" cy="444.6" r="2.0"/><circle cx="275.1" cy="453.1" r="2.0"/><circle cx="261.1" cy="462.7" r="2.0"/><circle cx="251.8" cy="472.7" r="2.0"/><circle cx="235.0" cy="474.4" r="2.0"/><circle cx="234.2" cy="487.7" r="2.0"/><circle cx="228.0" cy="493.2" r="2.0"/><circle cx="221.0" cy="497.2" r="2.0"/><circle cx="417.2" cy="460.2" r="2.0"/><circle cx="385.4" cy="470.2" r="2.0"/><circle cx="411.7" cy="489.0" r="2.0"/><circle cx="419.7" cy="514.0" r="2.0"/>
</g>
<g fill="#1f77b4">
<circle cx="117.2" cy="487.0" r="2.0"/><circle cx="171.6" cy="499.7" r="2.0"/><circle cx="323.2" cy="450.1" r="2.0"/><circle cx="335.7" cy="450.9" r="2.0"/><circle cx="356.3" cy="452.6" r="2.0"/><circle cx="358.3" cy="452.6" r="2.0"/><circle cx="291.9" cy="467.2" r="2.0"/><circle cx="296.1" cy="468.2" r="2.0"/><circle cx="305.2" cy="470.7" r="2.0"/><circle cx="337.0" cy="471.4" r="2.0"/><circle cx="342.0" cy="475.7" r="2.0"/><circle cx="367.1" cy="470.2" r="2.0"/><circle cx="390.9" cy="469.7" r="2.0"/><circle cx="403.4" cy="468.9" r="2.0"/><circle cx="407.9" cy="471.4" r="2.0"/><circle cx="414.7" cy="470.2" r="2.0"/><circle cx="296.9" cy="486.0" r="2.0"/><circle cx="339.5" cy="484.7" r="2.0"/><circle cx="344.5" cy="484.0" r="2.0"/><circle cx="379.6" cy="492.0" r="2.0"/><circle cx="260.6" cy="494.0" r="2.0"/><circle cx="233.0" cy="495.7" r="2.0"/><circle cx="224.2" cy="500.3" r="2.0"/><circle cx="241.8" cy="499.0" r="2.0"/><circle cx="242.5" cy="505.3" r="2.0"/><circle cx="250.0" cy="503.3" r="2.0"/><circle cx="268.6" cy="502.3" r="2.0"/><circle cx="280.6" cy="506.5" r="2.0"/><circle cx="275.6" cy="511.5" r="2.0"/><circle cx="226.7" cy="505.8" r="2.0"/><circle cx="233.0" cy="509.5" r="2.0"/><circle cx="224.2" cy="514.0" r="2.0"/><circle cx="310.7" cy="492.7" r="2.0"/><circle cx="306.2" cy="497.2" r="2.0"/><circle cx="311.9" cy="500.3" r="2.0"/><circle cx="308.7" cy="504.0" r="2.0"/><circle cx="327.7" cy="494.5" r="2.0"/><circle cx="348.8" cy="499.5" r="2.0"/><circle cx="358.8" cy="506.5" r="2.0"/><circle cx="360.8" cy="508.3" r="2.0"/><circle cx="372.8" cy="515.3" r="2.0"/><circle cx="311.9" cy="512.8" r="2.0"/><circle cx="330.7" cy="517.8" r="2.0"/><circle cx="329.5" cy="521.6" r="2.0"/><circle cx="316.2" cy="521.6" r="2.0"/><circle cx="317.7" cy="527.1" r="2.0"/><circle cx="244.3" cy="521.1" r="2.0"/><circle cx="251.3" cy="522.8" r="2.0"/><circle cx="256.8" cy="524.1" r="2.0"/><circle cx="248.0" cy="535.3" r="2.0"/><circle cx="262.6" cy="537.1" r="2.0"/><circle cx="245.0" cy="541.6" r="2.0"/><circle cx="260.6" cy="540.4" r="2.0"/><circle cx="265.1" cy="545.9" r="2.0"/><circle cx="278.6" cy="545.4" r="2.0"/><circle cx="289.4" cy="544.1" r="2.0"/><circle cx="298.1" cy="537.3" r="2.0"/><circle cx="300.7" cy="539.1" r="2.0"/><circle cx="310.7" cy="535.3" r="2.0"/><circle cx="312.7" cy="538.6" r="2.0"/><circle cx="335.7" cy="542.1" r="2.0"/><circle cx="211.2" cy="584.2" r="2.0"/>
</g>
<g fill="#d62728">
<circle cx="60.1" cy="521.6" r="2.0"/><circle cx="101.4" cy="512.8" r="2.0"/><circle cx="113.9" cy="507.8" r="2.0"/><circle cx="156.5" cy="502.8" r="2.0"/><circle cx="197.1" cy="512.0" r="2.0"/><circle cx="133.2" cy="519.0" r="2.0"/><circle cx="134.7" cy="523.3" r="2.0"/><circle cx="157.0" cy="523.6" r="2.0"/><circle cx="114.4" cy="524.1" r="2.0"/><circle cx="73.8" cy="529.8" r="2.0"/><circle cx="103.2" cy="530.3" r="2.0"/><circle cx="95.6" cy="536.6" r="2.0"/><circle cx="108.9" cy="538.6" r="2.0"/><circle cx="127.7" cy="537.8" r="2.0"/><circle cx="139.5" cy="535.3" r="2.0"/><circle cx="138.5" cy="537.8" r="2.0"/><circle cx="87.6" cy="542.1" r="2.0"/><circle cx="70.6" cy="545.4" r="2.0"/><circle cx="99.6" cy="546.1" r="2.0"/><circle cx="93.1" cy="549.9" r="2.0"/><circle cx="108.9" cy="552.4" r="2.0"/><circle cx="115.2" cy="551.1" r="2.0"/><circle cx="121.5" cy="554.1" r="2.0"/><circle cx="117.7" cy="556.6" r="2.0"/><circle cx="129.0" cy="547.9" r="2.0"/><circle cx="136.5" cy="545.4" r="2.0"/><circle cx="142.8" cy="544.1" r="2.0"/><circle cx="140.3" cy="552.4" r="2.0"/><circle cx="72.1" cy="555.9" r="2.0"/><circle cx="175.3" cy="547.1" r="2.0"/><circle cx="205.4" cy="550.4" r="2.0"/><circle cx="210.9" cy="545.4" r="2.0"/><circle cx="223.5" cy="550.9" r="2.0"/><circle cx="235.0" cy="550.4" r="2.0"/><circle cx="237.2" cy="545.4" r="2.0"/><circle cx="244.3" cy="548.4" r="2.0"/><circle cx="248.5" cy="548.4" r="2.0"/><circle cx="258.0" cy="544.9" r="2.0"/><circle cx="215.4" cy="588.0" r="2.0"/><circle cx="337.0" cy="618.5" r="2.0"/>
</g>
<g fill="#2ca02c">
<circle cx="220.5" cy="527.8" r="2.0"/><circle cx="223.7" cy="539.6" r="2.0"/><circle cx="226.2" cy="597.2" r="2.0"/><circle cx="251.3" cy="601.0" r="2.0"/><circle cx="242.5" cy="605.5" r="2.0"/><circle cx="245.0" cy="609.3" r="2.0"/><circle cx="238.0" cy="610.5" r="2.0"/><circle cx="239.2" cy="613.8" r="2.0"/><circle cx="252.5" cy="613.8" r="2.0"/><circle cx="252.5" cy="618.0" r="2.0"/><circle cx="224.2" cy="615.0" r="2.0"/><circle cx="215.4" cy="621.8" r="2.0"/><circle cx="204.2" cy="628.1" r="2.0"/><circle cx="210.4" cy="635.6" r="2.0"/><circle cx="252.5" cy="623.1" r="2.0"/><circle cx="251.0" cy="630.6" r="2.0"/><circle cx="257.5" cy="634.3" r="2.0"/><circle cx="255.0" cy="638.1" r="2.0"/><circle cx="268.1" cy="633.1" r="2.0"/><circle cx="263.1" cy="640.6" r="2.0"/><circle cx="266.8" cy="641.9" r="2.0"/><circle cx="258.8" cy="644.4" r="2.0"/><circle cx="249.3" cy="649.4" r="2.0"/><circle cx="288.9" cy="616.3" r="2.0"/><circle cx="306.4" cy="617.3" r="2.0"/><circle cx="308.7" cy="630.1" r="2.0"/><circle cx="325.0" cy="629.3" r="2.0"/><circle cx="330.0" cy="635.6" r="2.0"/><circle cx="323.7" cy="642.4" r="2.0"/><circle cx="305.7" cy="641.4" r="2.0"/><circle cx="294.4" cy="641.1" r="2.0"/><circle cx="293.1" cy="644.4" r="2.0"/><circle cx="280.6" cy="648.6" r="2.0"/><circle cx="296.9" cy="649.9" r="2.0"/><circle cx="292.6" cy="653.1" r="2.0"/><circle cx="310.2" cy="650.1" r="2.0"/><circle cx="294.4" cy="659.4" r="2.0"/><circle cx="282.6" cy="671.9" r="2.0"/><circle cx="286.9" cy="671.9" r="2.0"/><circle cx="280.6" cy="675.7" r="2.0"/><circle cx="289.4" cy="676.9" r="2.0"/><circle cx="293.1" cy="676.4" r="2.0"/><circle cx="288.6" cy="680.7" r="2.0"/><circle cx="273.6" cy="680.2" r="2.0"/><circle cx="281.1" cy="682.0" r="2.0"/><circle cx="281.9" cy="685.7" r="2.0"/><circle cx="305.7" cy="683.2" r="2.0"/><circle cx="300.2" cy="685.0" r="2.0"/><circle cx="266.8" cy="690.7" r="2.0"/><circle cx="269.3" cy="692.0" r="2.0"/><circle cx="278.1" cy="690.7" r="2.0"/><circle cx="280.1" cy="693.2" r="2.0"/><circle cx="305.7" cy="692.0" r="2.0"/><circle cx="312.7" cy="690.2" r="2.0"/><circle cx="272.3" cy="698.7" r="2.0"/><circle cx="279.3" cy="698.2" r="2.0"/><circle cx="257.3" cy="703.3" r="2.0"/>
</g>
<g fill="#2ca02c">
<circle cx="95.8" cy="835.3" r="2.2"/><circle cx="91.3" cy="837.9" r="2.2"/><circle cx="91.3" cy="841.5" r="2.2"/><circle cx="92.1" cy="841.9" r="2.2"/><circle cx="93.5" cy="841.4" r="2.2"/><circle cx="89.4" cy="843.8" r="2.2"/><circle cx="92.9" cy="846.0" r="2.2"/><circle cx="89.6" cy="850.1" r="2.2"/><circle cx="90.8" cy="848.8" r="2.2"/><circle cx="88.9" cy="852.4" r="2.2"/><circle cx="90.0" cy="854.7" r="2.2"/><circle cx="87.2" cy="852.6" r="2.2"/><circle cx="88.2" cy="855.1" r="2.2"/><circle cx="88.2" cy="859.1" r="2.2"/><circle cx="86.5" cy="858.9" r="2.2"/><circle cx="85.3" cy="862.3" r="2.2"/><circle cx="87.6" cy="862.8" r="2.2"/><circle cx="87.6" cy="864.3" r="2.2"/><circle cx="84.3" cy="865.3" r="2.2"/><circle cx="83.4" cy="868.8" r="2.2"/><circle cx="83.6" cy="868.9" r="2.2"/><circle cx="81.2" cy="872.4" r="2.2"/><circle cx="82.2" cy="876.3" r="2.2"/><circle cx="83.2" cy="880.7" r="2.2"/><circle cx="80.8" cy="885.0" r="2.2"/><circle cx="80.5" cy="890.3" r="2.2"/><circle cx="82.8" cy="901.5" r="2.2"/><circle cx="87.3" cy="893.3" r="2.2"/><circle cx="81.4" cy="899.5" r="2.2"/><circle cx="89.2" cy="899.9" r="2.2"/><circle cx="78.6" cy="902.5" r="2.2"/><circle cx="82.6" cy="894.0" r="2.2"/><circle cx="85.5" cy="905.7" r="2.2"/><circle cx="87.5" cy="898.6" r="2.2"/><circle cx="93.6" cy="896.3" r="2.2"/><circle cx="83.1" cy="892.7" r="2.2"/><circle cx="85.6" cy="900.5" r="2.2"/><circle cx="81.3" cy="904.8" r="2.2"/><circle cx="91.0" cy="892.8" r="2.2"/><circle cx="86.5" cy="898.3" r="2.2"/><circle cx="91.9" cy="898.8" r="2.2"/><circle cx="89.7" cy="905.6" r="2.2"/><circle cx="84.3" cy="903.9" r="2.2"/><circle cx="86.7" cy="906.8" r="2.2"/><circle cx="83.8" cy="905.3" r="2.2"/><circle cx="79.1" cy="897.9" r="2.2"/><circle cx="80.0" cy="899.4" r="2.2"/><circle cx="87.7" cy="896.9" r="2.2"/><circle cx="88.5" cy="902.0" r="2.2"/><circle cx="88.9" cy="900.6" r="2.2"/><circle cx="88.8" cy="912.7" r="2.2"/><circle cx="90.5" cy="911.4" r="2.2"/><circle cx="91.4" cy="917.1" r="2.2"/><circle cx="89.0" cy="916.5" r="2.2"/><circle cx="91.1" cy="920.2" r="2.2"/><circle cx="92.9" cy="923.2" r="2.2"/><circle cx="94.0" cy="925.1" r="2.2"/><circle cx="94.5" cy="925.3" r="2.2"/><circle cx="92.2" cy="930.0" r="2.2"/><circle cx="92.8" cy="930.5" r="2.2"/><circle cx="92.7" cy="933.1" r="2.2"/><circle cx="91.0" cy="935.9" r="2.2"/><circle cx="91.0" cy="939.0" r="2.2"/><circle cx="88.8" cy="941.6" r="2.2"/><circle cx="68.9" cy="927.6" r="2.2"/><circle cx="61.1" cy="925.9" r="2.2"/><circle cx="68.2" cy="922.7" r="2.2"/><circle cx="62.0" cy="919.1" r="2.2"/><circle cx="57.3" cy="923.6" r="2.2"/><circle cx="58.1" cy="917.7" r="2.2"/><circle cx="64.0" cy="916.4" r="2.2"/><circle cx="62.2" cy="926.3" r="2.2"/><circle cx="64.9" cy="928.3" r="2.2"/><circle cx="68.8" cy="915.4" r="2.2"/><circle cx="97.0" cy="964.4" r="2.2"/><circle cx="87.0" cy="957.2" r="2.2"/><circle cx="94.2" cy="947.2" r="2.2"/><circle cx="88.5" cy="954.5" r="2.2"/><circle cx="92.4" cy="954.4" r="2.2"/><circle cx="82.0" cy="949.1" r="2.2"/><circle cx="80.1" cy="948.2" r="2.2"/><circle cx="81.2" cy="956.3" r="2.2"/><circle cx="85.9" cy="952.3" r="2.2"/><circle cx="85.7" cy="945.1" r="2.2"/><circle cx="95.5" cy="957.6" r="2.2"/><circle cx="88.9" cy="955.4" r="2.2"/><circle cx="91.1" cy="958.6" r="2.2"/><circle cx="85.4" cy="955.0" r="2.2"/><circle cx="89.9" cy="950.4" r="2.2"/><circle cx="93.8" cy="942.9" r="2.2"/><circle cx="95.8" cy="954.4" r="2.2"/><circle cx="98.2" cy="951.3" r="2.2"/><circle cx="91.8" cy="942.6" r="2.2"/><circle cx="95.8" cy="952.2" r="2.2"/><circle cx="92.6" cy="945.2" r="2.2"/><circle cx="87.0" cy="958.8" r="2.2"/><circle cx="83.6" cy="961.7" r="2.2"/><circle cx="89.7" cy="944.0" r="2.2"/><circle cx="85.1" cy="955.3" r="2.2"/><circle cx="85.7" cy="957.9" r="2.2"/><circle cx="98.8" cy="963.2" r="2.2"/><circle cx="98.2" cy="964.3" r="2.2"/><circle cx="100.8" cy="964.5" r="2.2"/><circle cx="103.5" cy="968.1" r="2.2"/><circle cx="107.2" cy="968.7" r="2.2"/><circle cx="105.9" cy="972.4" r="2.2"/><circle cx="155.4" cy="994.5" r="2.2"/><circle cx="140.6" cy="989.1" r="2.2"/><circle cx="146.1" cy="976.4" r="2.2"/><circle cx="124.3" cy="983.8" r="2.2"/><circle cx="137.1" cy="999.6" r="2.2"/><circle cx="133.4" cy="983.2" r="2.2"/><circle cx="112.0" cy="971.3" r="2.2"/><circle cx="129.2" cy="974.2" r="2.2"/><circle cx="136.2" cy="996.4" r="2.2"/><circle cx="148.3" cy="997.5" r="2.2"/><circle cx="172.4" cy="983.5" r="2.2"/><circle cx="182.7" cy="990.0" r="2.2"/><circle cx="139.4" cy="978.9" r="2.2"/><circle cx="150.3" cy="986.8" r="2.2"/><circle cx="117.8" cy="978.8" r="2.2"/><circle cx="151.0" cy="979.2" r="2.2"/><circle cx="125.4" cy="976.8" r="2.2"/><circle cx="156.0" cy="984.3" r="2.2"/><circle cx="166.4" cy="995.9" r="2.2"/><circle cx="180.4" cy="987.5" r="2.2"/><circle cx="147.5" cy="983.6" r="2.2"/><circle cx="173.6" cy="1000.6" r="2.2"/><circle cx="188.4" cy="987.4" r="2.2"/><circle cx="164.7" cy="982.2" r="2.2"/><circle cx="175.9" cy="990.4" r="2.2"/><circle cx="130.9" cy="986.8" r="2.2"/><circle cx="122.6" cy="971.8" r="2.2"/><circle cx="166.2" cy="987.1" r="2.2"/><circle cx="157.1" cy="992.6" r="2.2"/><circle cx="121.7" cy="992.9" r="2.2"/><circle cx="169.2" cy="978.7" r="2.2"/><circle cx="110.3" cy="976.3" r="2.2"/><circle cx="113.2" cy="979.4" r="2.2"/><circle cx="160.8" cy="989.9" r="2.2"/><circle cx="140.4" cy="972.9" r="2.2"/><circle cx="127.3" cy="986.5" r="2.2"/><circle cx="142.5" cy="984.9" r="2.2"/><circle cx="175.6" cy="998.5" r="2.2"/><circle cx="135.0" cy="990.8" r="2.2"/><circle cx="165.9" cy="993.8" r="2.2"/><circle cx="116.1" cy="972.0" r="2.2"/><circle cx="156.8" cy="982.0" r="2.2"/><circle cx="148.4" cy="994.7" r="2.2"/><circle cx="161.7" cy="996.8" r="2.2"/><circle cx="143.5" cy="996.3" r="2.2"/><circle cx="115.1" cy="980.6" r="2.2"/><circle cx="189.0" cy="987.6" r="2.2"/><circle cx="141.3" cy="992.3" r="2.2"/><circle cx="127.2" cy="989.8" r="2.2"/><circle cx="159.8" cy="974.9" r="2.2"/><circle cx="116.2" cy="984.7" r="2.2"/><circle cx="161.3" cy="998.5" r="2.2"/><circle cx="118.8" cy="987.1" r="2.2"/><circle cx="175.2" cy="991.6" r="2.2"/><circle cx="184.6" cy="988.0" r="2.2"/><circle cx="159.1" cy="985.9" r="2.2"/><circle cx="131.5" cy="977.0" r="2.2"/><circle cx="114.7" cy="976.1" r="2.2"/><circle cx="117.0" cy="977.3" r="2.2"/><circle cx="156.3" cy="998.0" r="2.2"/><circle cx="172.5" cy="988.0" r="2.2"/><circle cx="130.0" cy="990.3" r="2.2"/><circle cx="122.1" cy="979.5" r="2.2"/><circle cx="140.3" cy="989.3" r="2.2"/><circle cx="164.6" cy="990.3" r="2.2"/><circle cx="138.5" cy="986.8" r="2.2"/><circle cx="141.2" cy="976.5" r="2.2"/><circle cx="137.8" cy="994.9" r="2.2"/><circle cx="121.4" cy="979.5" r="2.2"/><circle cx="137.2" cy="984.4" r="2.2"/><circle cx="135.6" cy="976.8" r="2.2"/><circle cx="183.1" cy="986.6" r="2.2"/><circle cx="129.6" cy="997.2" r="2.2"/><circle cx="144.8" cy="980.1" r="2.2"/><circle cx="122.7" cy="994.4" r="2.2"/><circle cx="118.5" cy="986.2" r="2.2"/><circle cx="150.9" cy="983.4" r="2.2"/><circle cx="138.9" cy="995.0" r="2.2"/><circle cx="125.9" cy="984.7" r="2.2"/><circle cx="144.6" cy="986.7" r="2.2"/><circle cx="170.9" cy="988.5" r="2.2"/><circle cx="146.2" cy="993.3" r="2.2"/><circle cx="151.8" cy="985.2" r="2.2"/><circle cx="183.6" cy="990.5" r="2.2"/><circle cx="103.9" cy="842.2" r="2.2"/><circle cx="70.1" cy="940.5" r="2.2"/><circle cx="131.5" cy="1000.6" r="2.2"/><circle cx="155.3" cy="1004.4" r="2.2"/><circle cx="323.1" cy="773.8" r="2.2"/><circle cx="259.6" cy="909.3" r="2.2"/><circle cx="263.6" cy="910.1" r="2.2"/><circle cx="266.9" cy="911.3" r="2.2"/><circle cx="270.2" cy="912.1" r="2.2"/><circle cx="273.4" cy="912.1" r="2.2"/><circle cx="281.6" cy="915.8" r="2.2"/><circle cx="214.4" cy="965.2" r="2.2"/><circle cx="249.0" cy="990.8" r="2.2"/><circle cx="246.1" cy="996.9" r="2.2"/><circle cx="251.8" cy="996.9" r="2.2"/><circle cx="249.8" cy="1003.9" r="2.2"/><circle cx="248.6" cy="1006.7" r="2.2"/><circle cx="256.7" cy="1010.8" r="2.2"/><circle cx="244.9" cy="1014.9" r="2.2"/><circle cx="252.2" cy="1016.5" r="2.2"/>
</g>
<g fill="#d62728">
<circle cx="87.6" cy="852.8" r="2.2"/><circle cx="318.2" cy="823.0" r="2.2"/><circle cx="332.1" cy="852.2" r="2.2"/><circle cx="328.0" cy="857.5" r="2.2"/><circle cx="330.8" cy="861.1" r="2.2"/><circle cx="322.7" cy="862.7" r="2.2"/><circle cx="346.3" cy="793.9" r="2.2"/><circle cx="345.5" cy="801.2" r="2.2"/><circle cx="350.0" cy="800.4" r="2.2"/><circle cx="354.4" cy="802.1" r="2.2"/><circle cx="348.3" cy="806.5" r="2.2"/><circle cx="347.1" cy="813.1" r="2.2"/><circle cx="344.3" cy="816.7" r="2.2"/><circle cx="341.8" cy="818.8" r="2.2"/><circle cx="371.5" cy="823.6" r="2.2"/><circle cx="367.9" cy="825.7" r="2.2"/><circle cx="364.2" cy="830.2" r="2.2"/><circle cx="344.3" cy="831.8" r="2.2"/><circle cx="346.3" cy="833.8" r="2.2"/><circle cx="342.6" cy="853.8" r="2.2"/><circle cx="330.4" cy="857.9" r="2.2"/><circle cx="340.6" cy="862.3" r="2.2"/><circle cx="368.3" cy="853.4" r="2.2"/><circle cx="370.3" cy="857.0" r="2.2"/><circle cx="365.4" cy="858.3" r="2.2"/><circle cx="374.0" cy="862.3" r="2.2"/><circle cx="383.8" cy="852.6" r="2.2"/><circle cx="389.9" cy="855.0" r="2.2"/><circle cx="392.3" cy="857.5" r="2.2"/><circle cx="383.8" cy="862.7" r="2.2"/><circle cx="387.8" cy="862.7" r="2.2"/><circle cx="299.9" cy="866.9" r="2.2"/><circle cx="322.3" cy="871.4" r="2.2"/><circle cx="328.4" cy="868.6" r="2.2"/><circle cx="319.0" cy="880.0" r="2.2"/><circle cx="322.3" cy="882.8" r="2.2"/><circle cx="327.2" cy="876.3" r="2.2"/><circle cx="330.8" cy="877.5" r="2.2"/><circle cx="333.7" cy="873.8" r="2.2"/><circle cx="317.4" cy="910.1" r="2.2"/><circle cx="323.1" cy="913.4" r="2.2"/><circle cx="332.5" cy="913.8" r="2.2"/><circle cx="324.3" cy="930.1" r="2.2"/><circle cx="324.3" cy="936.6" r="2.2"/><circle cx="316.2" cy="941.5" r="2.2"/><circle cx="332.9" cy="943.1" r="2.2"/><circle cx="343.4" cy="872.6" r="2.2"/><circle cx="369.9" cy="869.4" r="2.2"/><circle cx="379.3" cy="870.2" r="2.2"/><circle cx="375.2" cy="873.4" r="2.2"/><circle cx="382.1" cy="873.0" r="2.2"/><circle cx="376.8" cy="876.7" r="2.2"/><circle cx="382.9" cy="875.9" r="2.2"/><circle cx="392.7" cy="868.6" r="2.2"/><circle cx="390.7" cy="871.4" r="2.2"/><circle cx="389.9" cy="874.3" r="2.2"/><circle cx="395.2" cy="876.3" r="2.2"/><circle cx="368.7" cy="879.5" r="2.2"/><circle cx="362.2" cy="880.8" r="2.2"/><circle cx="387.0" cy="883.6" r="2.2"/><circle cx="389.5" cy="885.7" r="2.2"/><circle cx="397.2" cy="885.3" r="2.2"/><circle cx="364.2" cy="886.5" r="2.2"/><circle cx="374.0" cy="888.5" r="2.2"/><circle cx="334.1" cy="891.8" r="2.2"/><circle cx="358.5" cy="890.5" r="2.2"/><circle cx="352.4" cy="892.6" r="2.2"/><circle cx="352.8" cy="895.8" r="2.2"/><circle cx="367.9" cy="893.0" r="2.2"/><circle cx="370.3" cy="896.7" r="2.2"/><circle cx="379.7" cy="895.0" r="2.2"/><circle cx="358.1" cy="899.5" r="2.2"/><circle cx="396.0" cy="899.9" r="2.2"/><circle cx="347.1" cy="902.4" r="2.2"/><circle cx="364.6" cy="902.4" r="2.2"/><circle cx="358.9" cy="905.2" r="2.2"/><circle cx="363.4" cy="906.4" r="2.2"/><circle cx="371.9" cy="908.5" r="2.2"/><circle cx="358.5" cy="909.7" r="2.2"/><circle cx="365.8" cy="912.1" r="2.2"/><circle cx="382.9" cy="911.3" r="2.2"/><circle cx="393.5" cy="912.1" r="2.2"/><circle cx="376.0" cy="917.0" r="2.2"/><circle cx="401.7" cy="921.5" r="2.2"/><circle cx="383.8" cy="925.2" r="2.2"/><circle cx="387.0" cy="925.6" r="2.2"/><circle cx="374.0" cy="928.8" r="2.2"/><circle cx="348.3" cy="927.6" r="2.2"/><circle cx="352.0" cy="931.3" r="2.2"/><circle cx="349.1" cy="930.1" r="2.2"/><circle cx="408.2" cy="930.5" r="2.2"/><circle cx="408.6" cy="935.3" r="2.2"/><circle cx="366.2" cy="933.3" r="2.2"/><circle cx="346.7" cy="934.5" r="2.2"/><circle cx="343.0" cy="936.6" r="2.2"/><circle cx="347.9" cy="937.8" r="2.2"/><circle cx="356.9" cy="939.0" r="2.2"/><circle cx="341.4" cy="940.6" r="2.2"/><circle cx="378.9" cy="935.8" r="2.2"/><circle cx="382.5" cy="935.3" r="2.2"/><circle cx="376.4" cy="939.8" r="2.2"/><circle cx="260.0" cy="1010.2" r="2.2"/><circle cx="255.1" cy="1017.1" r="2.2"/><circle cx="351.8" cy="803.6" r="2.2"/><circle cx="348.3" cy="816.8" r="2.2"/><circle cx="343.8" cy="816.8" r="2.2"/><circle cx="341.1" cy="851.0" r="2.2"/><circle cx="368.9" cy="859.0" r="2.2"/><circle cx="389.8" cy="860.4" r="2.2"/><circle cx="389.9" cy="859.4" r="2.2"/><circle cx="320.2" cy="879.8" r="2.2"/><circle cx="344.4" cy="869.1" r="2.2"/><circle cx="372.4" cy="873.0" r="2.2"/><circle cx="385.2" cy="873.6" r="2.2"/><circle cx="380.7" cy="878.3" r="2.2"/><circle cx="385.8" cy="873.5" r="2.2"/><circle cx="375.9" cy="885.7" r="2.2"/><circle cx="336.0" cy="895.2" r="2.2"/><circle cx="355.6" cy="892.9" r="2.2"/><circle cx="381.6" cy="893.2" r="2.2"/><circle cx="398.2" cy="903.2" r="2.2"/><circle cx="361.4" cy="901.2" r="2.2"/><circle cx="365.3" cy="902.7" r="2.2"/><circle cx="380.8" cy="922.4" r="2.2"/><circle cx="347.1" cy="927.8" r="2.2"/><circle cx="352.0" cy="870.0" r="2.2"/><circle cx="358.0" cy="878.0" r="2.2"/><circle cx="355.0" cy="886.0" r="2.2"/><circle cx="360.0" cy="890.0" r="2.2"/>
</g>
<g fill="#1f77b4">
<circle cx="281.6" cy="771.9" r="2.2"/><circle cx="270.2" cy="775.4" r="2.2"/><circle cx="267.7" cy="779.3" r="2.2"/><circle cx="267.3" cy="786.6" r="2.2"/><circle cx="308.4" cy="782.3" r="2.2"/><circle cx="322.3" cy="778.4" r="2.2"/><circle cx="328.0" cy="784.1" r="2.2"/><circle cx="331.3" cy="788.2" r="2.2"/><circle cx="333.7" cy="789.4" r="2.2"/><circle cx="282.8" cy="787.8" r="2.2"/><circle cx="290.1" cy="787.0" r="2.2"/><circle cx="296.6" cy="785.8" r="2.2"/><circle cx="295.8" cy="788.2" r="2.2"/><circle cx="276.3" cy="788.6" r="2.2"/><circle cx="279.1" cy="792.7" r="2.2"/><circle cx="267.7" cy="793.9" r="2.2"/><circle cx="273.8" cy="796.8" r="2.2"/><circle cx="285.2" cy="796.4" r="2.2"/><circle cx="304.0" cy="794.7" r="2.2"/><circle cx="319.0" cy="795.5" r="2.2"/><circle cx="311.3" cy="797.2" r="2.2"/><circle cx="332.9" cy="797.6" r="2.2"/><circle cx="268.1" cy="800.4" r="2.2"/><circle cx="277.1" cy="802.1" r="2.2"/><circle cx="302.3" cy="800.4" r="2.2"/><circle cx="261.6" cy="803.7" r="2.2"/><circle cx="286.5" cy="802.1" r="2.2"/><circle cx="291.3" cy="801.7" r="2.2"/><circle cx="288.5" cy="804.9" r="2.2"/><circle cx="295.4" cy="804.1" r="2.2"/><circle cx="314.1" cy="802.9" r="2.2"/><circle cx="322.3" cy="805.3" r="2.2"/><circle cx="325.6" cy="806.9" r="2.2"/><circle cx="289.7" cy="808.2" r="2.2"/><circle cx="318.2" cy="807.4" r="2.2"/><circle cx="287.3" cy="811.4" r="2.2"/><circle cx="306.0" cy="809.4" r="2.2"/><circle cx="306.0" cy="811.8" r="2.2"/><circle cx="310.9" cy="809.8" r="2.2"/><circle cx="315.8" cy="809.8" r="2.2"/><circle cx="319.0" cy="810.6" r="2.2"/><circle cx="324.3" cy="811.8" r="2.2"/><circle cx="334.1" cy="812.7" r="2.2"/><circle cx="261.6" cy="815.1" r="2.2"/><circle cx="260.8" cy="818.8" r="2.2"/><circle cx="279.5" cy="815.1" r="2.2"/><circle cx="283.2" cy="814.7" r="2.2"/><circle cx="278.7" cy="819.6" r="2.2"/><circle cx="291.3" cy="817.1" r="2.2"/><circle cx="315.8" cy="816.3" r="2.2"/><circle cx="318.6" cy="819.2" r="2.2"/><circle cx="285.2" cy="820.0" r="2.2"/><circle cx="284.4" cy="823.2" r="2.2"/><circle cx="289.7" cy="822.8" r="2.2"/><circle cx="287.3" cy="825.7" r="2.2"/><circle cx="291.3" cy="827.7" r="2.2"/><circle cx="288.9" cy="827.7" r="2.2"/><circle cx="268.9" cy="826.5" r="2.2"/><circle cx="258.8" cy="827.7" r="2.2"/><circle cx="279.1" cy="828.1" r="2.2"/><circle cx="300.7" cy="830.2" r="2.2"/><circle cx="311.3" cy="828.9" r="2.2"/><circle cx="314.6" cy="827.7" r="2.2"/><circle cx="322.7" cy="832.2" r="2.2"/><circle cx="309.7" cy="835.5" r="2.2"/><circle cx="266.5" cy="833.4" r="2.2"/><circle cx="264.9" cy="837.1" r="2.2"/><circle cx="230.3" cy="837.5" r="2.2"/><circle cx="272.6" cy="840.8" r="2.2"/><circle cx="282.0" cy="843.2" r="2.2"/><circle cx="256.3" cy="843.6" r="2.2"/><circle cx="225.0" cy="845.2" r="2.2"/><circle cx="221.7" cy="848.5" r="2.2"/><circle cx="217.2" cy="851.7" r="2.2"/><circle cx="220.5" cy="855.4" r="2.2"/><circle cx="238.8" cy="845.6" r="2.2"/><circle cx="237.2" cy="848.5" r="2.2"/><circle cx="233.5" cy="854.6" r="2.2"/><circle cx="237.6" cy="854.6" r="2.2"/><circle cx="266.1" cy="846.9" r="2.2"/><circle cx="268.5" cy="849.3" r="2.2"/><circle cx="261.2" cy="850.5" r="2.2"/><circle cx="276.7" cy="849.7" r="2.2"/><circle cx="275.9" cy="853.4" r="2.2"/><circle cx="289.3" cy="848.9" r="2.2"/><circle cx="292.2" cy="853.4" r="2.2"/><circle cx="308.4" cy="850.9" r="2.2"/><circle cx="279.9" cy="857.0" r="2.2"/><circle cx="286.0" cy="860.3" r="2.2"/><circle cx="227.4" cy="861.1" r="2.2"/><circle cx="268.5" cy="861.5" r="2.2"/><circle cx="336.9" cy="778.4" r="2.2"/><circle cx="339.4" cy="780.9" r="2.2"/><circle cx="342.2" cy="782.9" r="2.2"/><circle cx="337.3" cy="792.3" r="2.2"/><circle cx="340.2" cy="809.4" r="2.2"/><circle cx="346.3" cy="825.3" r="2.2"/><circle cx="271.4" cy="866.1" r="2.2"/><circle cx="266.1" cy="866.5" r="2.2"/><circle cx="262.0" cy="867.3" r="2.2"/><circle cx="287.7" cy="866.9" r="2.2"/><circle cx="295.0" cy="866.1" r="2.2"/><circle cx="308.9" cy="867.3" r="2.2"/><circle cx="311.3" cy="871.8" r="2.2"/><circle cx="247.8" cy="873.0" r="2.2"/><circle cx="265.3" cy="872.6" r="2.2"/><circle cx="258.4" cy="872.2" r="2.2"/><circle cx="255.1" cy="874.3" r="2.2"/><circle cx="255.1" cy="878.3" r="2.2"/><circle cx="262.0" cy="886.1" r="2.2"/><circle cx="255.1" cy="888.1" r="2.2"/><circle cx="265.7" cy="890.5" r="2.2"/><circle cx="258.4" cy="893.8" r="2.2"/><circle cx="252.7" cy="896.2" r="2.2"/><circle cx="253.5" cy="899.9" r="2.2"/><circle cx="224.5" cy="898.3" r="2.2"/><circle cx="285.2" cy="897.5" r="2.2"/><circle cx="281.6" cy="898.7" r="2.2"/><circle cx="278.3" cy="899.9" r="2.2"/><circle cx="297.0" cy="895.4" r="2.2"/><circle cx="294.6" cy="897.5" r="2.2"/><circle cx="304.8" cy="898.3" r="2.2"/><circle cx="269.8" cy="905.6" r="2.2"/><circle cx="313.7" cy="904.0" r="2.2"/><circle cx="306.8" cy="905.6" r="2.2"/><circle cx="310.5" cy="907.2" r="2.2"/><circle cx="306.8" cy="909.7" r="2.2"/><circle cx="310.1" cy="910.9" r="2.2"/><circle cx="254.7" cy="909.7" r="2.2"/><circle cx="263.6" cy="914.6" r="2.2"/><circle cx="300.7" cy="915.4" r="2.2"/><circle cx="318.2" cy="915.0" r="2.2"/><circle cx="307.6" cy="924.8" r="2.2"/><circle cx="233.1" cy="932.1" r="2.2"/><circle cx="252.2" cy="931.7" r="2.2"/><circle cx="259.6" cy="932.9" r="2.2"/><circle cx="234.7" cy="936.2" r="2.2"/><circle cx="238.8" cy="938.2" r="2.2"/><circle cx="236.4" cy="940.6" r="2.2"/><circle cx="243.3" cy="942.3" r="2.2"/><circle cx="247.8" cy="940.2" r="2.2"/><circle cx="247.4" cy="943.9" r="2.2"/><circle cx="256.3" cy="940.2" r="2.2"/><circle cx="253.9" cy="943.9" r="2.2"/><circle cx="251.4" cy="947.2" r="2.2"/><circle cx="265.3" cy="942.3" r="2.2"/><circle cx="246.1" cy="949.6" r="2.2"/><circle cx="262.4" cy="947.6" r="2.2"/><circle cx="265.3" cy="949.2" r="2.2"/><circle cx="269.3" cy="948.4" r="2.2"/><circle cx="273.4" cy="950.8" r="2.2"/><circle cx="289.3" cy="941.9" r="2.2"/><circle cx="305.2" cy="935.8" r="2.2"/><circle cx="267.3" cy="959.0" r="2.2"/><circle cx="287.7" cy="993.9" r="2.2"/><circle cx="284.1" cy="773.9" r="2.2"/><circle cx="273.1" cy="776.7" r="2.2"/><circle cx="319.3" cy="777.7" r="2.2"/><circle cx="330.3" cy="786.0" r="2.2"/><circle cx="295.3" cy="789.1" r="2.2"/><circle cx="264.8" cy="791.6" r="2.2"/><circle cx="282.5" cy="796.8" r="2.2"/><circle cx="312.8" cy="806.5" r="2.2"/><circle cx="325.7" cy="806.4" r="2.2"/><circle cx="322.3" cy="806.2" r="2.2"/><circle cx="284.8" cy="813.0" r="2.2"/><circle cx="303.7" cy="814.8" r="2.2"/><circle cx="327.1" cy="813.0" r="2.2"/><circle cx="259.4" cy="821.3" r="2.2"/><circle cx="281.9" cy="810.9" r="2.2"/><circle cx="317.6" cy="823.2" r="2.2"/><circle cx="290.1" cy="830.8" r="2.2"/><circle cx="265.9" cy="829.3" r="2.2"/><circle cx="281.9" cy="828.9" r="2.2"/><circle cx="318.0" cy="830.1" r="2.2"/><circle cx="312.2" cy="836.4" r="2.2"/><circle cx="265.2" cy="830.9" r="2.2"/><circle cx="261.9" cy="837.3" r="2.2"/><circle cx="268.8" cy="840.1" r="2.2"/><circle cx="219.4" cy="849.9" r="2.2"/><circle cx="223.5" cy="852.9" r="2.2"/><circle cx="237.1" cy="851.5" r="2.2"/><circle cx="234.0" cy="858.6" r="2.2"/><circle cx="241.5" cy="855.9" r="2.2"/><circle cx="280.9" cy="860.9" r="2.2"/><circle cx="345.9" cy="781.0" r="2.2"/><circle cx="341.4" cy="791.5" r="2.2"/><circle cx="348.5" cy="823.6" r="2.2"/><circle cx="268.3" cy="865.2" r="2.2"/><circle cx="283.5" cy="867.3" r="2.2"/><circle cx="297.7" cy="868.5" r="2.2"/><circle cx="257.2" cy="872.3" r="2.2"/><circle cx="260.4" cy="891.8" r="2.2"/><circle cx="249.5" cy="896.4" r="2.2"/><circle cx="280.3" cy="901.9" r="2.2"/><circle cx="304.9" cy="902.2" r="2.2"/><circle cx="239.2" cy="935.0" r="2.2"/><circle cx="245.7" cy="943.7" r="2.2"/><circle cx="250.0" cy="942.1" r="2.2"/><circle cx="261.9" cy="944.6" r="2.2"/><circle cx="244.4" cy="947.0" r="2.2"/><circle cx="269.4" cy="949.7" r="2.2"/><circle cx="264.4" cy="957.3" r="2.2"/><circle cx="291.7" cy="994.4" r="2.2"/><circle cx="268.0" cy="845.0" r="2.2"/><circle cx="271.0" cy="853.0" r="2.2"/><circle cx="269.0" cy="861.0" r="2.2"/>
</g>
<g fill="#ff7f0e">
<circle cx="332.9" cy="891.8" r="2.2"/><circle cx="321.5" cy="930.9" r="2.2"/><circle cx="331.3" cy="933.7" r="2.2"/><circle cx="317.8" cy="937.8" r="2.2"/><circle cx="306.0" cy="943.9" r="2.2"/><circle cx="307.2" cy="946.7" r="2.2"/><circle cx="321.1" cy="945.5" r="2.2"/><circle cx="258.4" cy="948.8" r="2.2"/><circle cx="257.9" cy="952.0" r="2.2"/><circle cx="257.5" cy="954.9" r="2.2"/><circle cx="293.8" cy="948.4" r="2.2"/><circle cx="297.9" cy="949.6" r="2.2"/><circle cx="317.0" cy="949.2" r="2.2"/><circle cx="315.0" cy="952.0" r="2.2"/><circle cx="304.4" cy="952.5" r="2.2"/><circle cx="308.4" cy="952.9" r="2.2"/><circle cx="282.8" cy="955.3" r="2.2"/><circle cx="289.7" cy="954.5" r="2.2"/><circle cx="292.6" cy="954.1" r="2.2"/><circle cx="299.1" cy="957.3" r="2.2"/><circle cx="310.1" cy="956.9" r="2.2"/><circle cx="319.4" cy="955.7" r="2.2"/><circle cx="329.6" cy="953.7" r="2.2"/><circle cx="349.5" cy="910.5" r="2.2"/><circle cx="362.6" cy="916.6" r="2.2"/><circle cx="356.5" cy="919.1" r="2.2"/><circle cx="363.0" cy="925.2" r="2.2"/><circle cx="403.7" cy="929.6" r="2.2"/><circle cx="396.0" cy="932.9" r="2.2"/><circle cx="383.4" cy="941.9" r="2.2"/><circle cx="391.1" cy="941.5" r="2.2"/><circle cx="400.9" cy="940.6" r="2.2"/><circle cx="399.6" cy="944.7" r="2.2"/><circle cx="339.0" cy="946.7" r="2.2"/><circle cx="349.5" cy="947.2" r="2.2"/><circle cx="346.3" cy="949.6" r="2.2"/><circle cx="363.8" cy="947.6" r="2.2"/><circle cx="380.1" cy="948.8" r="2.2"/><circle cx="394.3" cy="950.4" r="2.2"/><circle cx="387.4" cy="952.0" r="2.2"/><circle cx="400.1" cy="953.3" r="2.2"/><circle cx="406.6" cy="952.5" r="2.2"/><circle cx="414.7" cy="953.3" r="2.2"/><circle cx="356.5" cy="953.7" r="2.2"/><circle cx="363.8" cy="954.9" r="2.2"/><circle cx="369.5" cy="955.3" r="2.2"/><circle cx="351.2" cy="956.5" r="2.2"/><circle cx="409.0" cy="956.1" r="2.2"/><circle cx="390.7" cy="956.5" r="2.2"/><circle cx="315.4" cy="961.5" r="2.2"/><circle cx="306.4" cy="964.0" r="2.2"/><circle cx="274.6" cy="964.8" r="2.2"/><circle cx="277.9" cy="967.2" r="2.2"/><circle cx="333.3" cy="968.4" r="2.2"/><circle cx="304.0" cy="976.6" r="2.2"/><circle cx="311.7" cy="975.0" r="2.2"/><circle cx="315.8" cy="977.8" r="2.2"/><circle cx="333.7" cy="983.1" r="2.2"/><circle cx="312.5" cy="988.8" r="2.2"/><circle cx="310.5" cy="992.5" r="2.2"/><circle cx="312.5" cy="995.3" r="2.2"/><circle cx="292.6" cy="996.9" r="2.2"/><circle cx="320.3" cy="1000.6" r="2.2"/><circle cx="326.0" cy="1008.8" r="2.2"/><circle cx="329.2" cy="1010.0" r="2.2"/><circle cx="317.8" cy="1015.3" r="2.2"/><circle cx="321.9" cy="1014.9" r="2.2"/><circle cx="330.8" cy="1014.5" r="2.2"/><circle cx="318.2" cy="1018.9" r="2.2"/><circle cx="323.5" cy="1021.4" r="2.2"/><circle cx="314.1" cy="1024.6" r="2.2"/><circle cx="353.6" cy="956.2" r="2.2"/><circle cx="366.2" cy="961.1" r="2.2"/><circle cx="389.1" cy="961.1" r="2.2"/><circle cx="396.4" cy="961.5" r="2.2"/><circle cx="401.7" cy="961.1" r="2.2"/><circle cx="409.4" cy="960.7" r="2.2"/><circle cx="363.0" cy="966.8" r="2.2"/><circle cx="372.8" cy="967.2" r="2.2"/><circle cx="336.5" cy="967.2" r="2.2"/><circle cx="391.9" cy="968.0" r="2.2"/><circle cx="385.0" cy="970.5" r="2.2"/><circle cx="387.4" cy="974.1" r="2.2"/><circle cx="394.3" cy="974.1" r="2.2"/><circle cx="398.4" cy="974.1" r="2.2"/><circle cx="408.6" cy="972.5" r="2.2"/><circle cx="361.8" cy="977.0" r="2.2"/><circle cx="365.0" cy="977.0" r="2.2"/><circle cx="374.4" cy="980.7" r="2.2"/><circle cx="381.7" cy="980.3" r="2.2"/><circle cx="383.8" cy="978.6" r="2.2"/><circle cx="394.3" cy="978.6" r="2.2"/><circle cx="402.9" cy="982.3" r="2.2"/><circle cx="406.2" cy="982.3" r="2.2"/><circle cx="409.8" cy="982.3" r="2.2"/><circle cx="350.4" cy="982.7" r="2.2"/><circle cx="391.1" cy="985.5" r="2.2"/><circle cx="361.0" cy="988.0" r="2.2"/><circle cx="368.3" cy="990.0" r="2.2"/><circle cx="372.4" cy="987.2" r="2.2"/><circle cx="377.7" cy="990.0" r="2.2"/><circle cx="380.1" cy="988.4" r="2.2"/><circle cx="389.9" cy="990.0" r="2.2"/><circle cx="391.9" cy="994.5" r="2.2"/><circle cx="402.5" cy="988.4" r="2.2"/><circle cx="341.8" cy="989.2" r="2.2"/><circle cx="343.4" cy="992.1" r="2.2"/><circle cx="352.4" cy="992.9" r="2.2"/><circle cx="359.3" cy="994.9" r="2.2"/><circle cx="384.6" cy="996.1" r="2.2"/><circle cx="369.9" cy="999.0" r="2.2"/><circle cx="404.1" cy="998.6" r="2.2"/><circle cx="346.7" cy="1001.4" r="2.2"/><circle cx="387.8" cy="1003.1" r="2.2"/><circle cx="379.7" cy="1004.7" r="2.2"/><circle cx="399.2" cy="1005.1" r="2.2"/><circle cx="341.8" cy="1006.3" r="2.2"/><circle cx="344.3" cy="1006.3" r="2.2"/><circle cx="396.0" cy="1010.8" r="2.2"/><circle cx="330.8" cy="1012.0" r="2.2"/><circle cx="342.2" cy="1014.1" r="2.2"/><circle cx="382.9" cy="1013.2" r="2.2"/><circle cx="404.1" cy="1015.7" r="2.2"/><circle cx="378.1" cy="1018.9" r="2.2"/><circle cx="382.1" cy="1019.3" r="2.2"/><circle cx="386.2" cy="1019.8" r="2.2"/><circle cx="339.0" cy="1018.9" r="2.2"/><circle cx="336.5" cy="1022.6" r="2.2"/><circle cx="346.3" cy="1021.0" r="2.2"/><circle cx="352.4" cy="1023.4" r="2.2"/><circle cx="346.7" cy="1025.9" r="2.2"/><circle cx="396.0" cy="1022.6" r="2.2"/><circle cx="363.8" cy="1025.1" r="2.2"/><circle cx="361.0" cy="1027.1" r="2.2"/><circle cx="357.7" cy="1028.3" r="2.2"/><circle cx="401.7" cy="1026.7" r="2.2"/><circle cx="376.0" cy="1026.7" r="2.2"/><circle cx="379.3" cy="1030.8" r="2.2"/><circle cx="401.3" cy="1030.3" r="2.2"/><circle cx="400.1" cy="1033.6" r="2.2"/><circle cx="341.0" cy="1029.1" r="2.2"/><circle cx="347.5" cy="1029.9" r="2.2"/><circle cx="342.2" cy="1033.6" r="2.2"/><circle cx="351.6" cy="1033.2" r="2.2"/><circle cx="370.7" cy="1035.6" r="2.2"/><circle cx="358.5" cy="1034.8" r="2.2"/><circle cx="362.6" cy="1035.2" r="2.2"/><circle cx="357.7" cy="1037.3" r="2.2"/><circle cx="365.4" cy="1038.9" r="2.2"/><circle cx="360.1" cy="1039.7" r="2.2"/><circle cx="363.4" cy="1041.3" r="2.2"/><circle cx="331.2" cy="895.0" r="2.2"/><circle cx="318.8" cy="946.9" r="2.2"/><circle cx="254.8" cy="947.9" r="2.2"/><circle cx="320.8" cy="950.9" r="2.2"/><circle cx="289.6" cy="957.4" r="2.2"/><circle cx="319.7" cy="958.8" r="2.2"/><circle cx="395.2" cy="929.6" r="2.2"/><circle cx="401.7" cy="943.2" r="2.2"/><circle cx="350.2" cy="949.1" r="2.2"/><circle cx="382.1" cy="945.8" r="2.2"/><circle cx="387.1" cy="949.4" r="2.2"/><circle cx="404.0" cy="955.6" r="2.2"/><circle cx="361.1" cy="957.2" r="2.2"/><circle cx="366.0" cy="957.5" r="2.2"/><circle cx="389.3" cy="952.9" r="2.2"/><circle cx="306.5" cy="960.7" r="2.2"/><circle cx="309.1" cy="974.8" r="2.2"/><circle cx="314.8" cy="981.8" r="2.2"/><circle cx="333.8" cy="980.4" r="2.2"/><circle cx="312.9" cy="994.1" r="2.2"/><circle cx="327.4" cy="1012.8" r="2.2"/><circle cx="322.0" cy="1018.8" r="2.2"/><circle cx="333.9" cy="1013.9" r="2.2"/><circle cx="355.3" cy="953.9" r="2.2"/><circle cx="389.4" cy="958.2" r="2.2"/><circle cx="399.4" cy="962.2" r="2.2"/><circle cx="392.8" cy="972.1" r="2.2"/><circle cx="401.5" cy="972.0" r="2.2"/><circle cx="365.9" cy="979.7" r="2.2"/><circle cx="352.1" cy="985.1" r="2.2"/><circle cx="388.5" cy="984.2" r="2.2"/><circle cx="387.5" cy="993.4" r="2.2"/><circle cx="394.8" cy="995.0" r="2.2"/><circle cx="358.0" cy="998.4" r="2.2"/><circle cx="367.5" cy="1001.3" r="2.2"/><circle cx="391.6" cy="1003.8" r="2.2"/><circle cx="340.8" cy="1009.7" r="2.2"/><circle cx="380.3" cy="1010.9" r="2.2"/><circle cx="378.6" cy="1020.8" r="2.2"/><circle cx="389.0" cy="1020.5" r="2.2"/><circle cx="336.1" cy="1020.2" r="2.2"/><circle cx="344.2" cy="1024.0" r="2.2"/><circle cx="362.0" cy="1028.0" r="2.2"/><circle cx="373.3" cy="1027.2" r="2.2"/><circle cx="340.1" cy="1025.7" r="2.2"/><circle cx="349.2" cy="1026.3" r="2.2"/><circle cx="345.8" cy="1032.2" r="2.2"/><circle cx="361.7" cy="1036.0" r="2.2"/><circle cx="354.7" cy="1037.8" r="2.2"/><circle cx="345.0" cy="978.0" r="2.2"/><circle cx="352.0" cy="985.0" r="2.2"/><circle cx="348.0" cy="992.0" r="2.2"/><circle cx="356.0" cy="995.0" r="2.2"/><circle cx="343.0" cy="996.0" r="2.2"/>
</g>
<g fill="#cacaca">
<circle cx="484.8" cy="131.1" r="2.5"/><circle cx="508.5" cy="133.8" r="2.5"/><circle cx="478.0" cy="134.2" r="2.5"/><circle cx="475.8" cy="137.5" r="2.5"/><circle cx="481.0" cy="138.3" r="2.5"/><circle cx="485.3" cy="139.6" r="2.5"/><circle cx="496.0" cy="135.0" r="2.5"/><circle cx="493.4" cy="139.1" r="2.5"/><circle cx="467.2" cy="141.2" r="2.5"/><circle cx="472.4" cy="144.9" r="2.5"/><circle cx="487.0" cy="144.9" r="2.5"/><circle cx="493.4" cy="147.0" r="2.5"/><circle cx="481.0" cy="147.4" r="2.5"/><circle cx="470.6" cy="147.4" r="2.5"/><circle cx="473.2" cy="149.0" r="2.5"/><circle cx="499.5" cy="147.4" r="2.5"/><circle cx="505.1" cy="146.2" r="2.5"/><circle cx="482.3" cy="151.5" r="2.5"/><circle cx="503.3" cy="152.4" r="2.5"/><circle cx="463.3" cy="153.2" r="2.5"/><circle cx="484.4" cy="154.4" r="2.5"/><circle cx="489.6" cy="154.4" r="2.5"/><circle cx="487.0" cy="157.3" r="2.5"/><circle cx="476.7" cy="155.2" r="2.5"/><circle cx="474.1" cy="156.9" r="2.5"/><circle cx="498.6" cy="156.9" r="2.5"/><circle cx="496.9" cy="159.4" r="2.5"/><circle cx="506.4" cy="160.8" r="2.5"/><circle cx="499.5" cy="163.5" r="2.5"/><circle cx="492.6" cy="162.8" r="2.5"/><circle cx="487.0" cy="163.5" r="2.5"/><circle cx="489.1" cy="167.5" r="2.5"/><circle cx="513.2" cy="163.3" r="2.5"/><circle cx="518.0" cy="169.3" r="2.5"/><circle cx="528.3" cy="175.5" r="2.5"/><circle cx="535.6" cy="178.6" r="2.5"/><circle cx="530.9" cy="142.7" r="2.5"/><circle cx="572.0" cy="141.9" r="2.5"/><circle cx="581.7" cy="147.1" r="2.5"/><circle cx="567.9" cy="148.2" r="2.5"/><circle cx="570.9" cy="151.1" r="2.5"/><circle cx="567.9" cy="154.0" r="2.5"/><circle cx="561.0" cy="161.0" r="2.5"/><circle cx="570.1" cy="161.2" r="2.5"/><circle cx="583.8" cy="162.7" r="2.5"/><circle cx="575.2" cy="166.0" r="2.5"/><circle cx="562.3" cy="168.0" r="2.5"/><circle cx="575.6" cy="170.5" r="2.5"/><circle cx="584.3" cy="171.1" r="2.5"/><circle cx="561.0" cy="172.7" r="2.5"/><circle cx="577.8" cy="174.2" r="2.5"/><circle cx="575.2" cy="176.7" r="2.5"/><circle cx="588.1" cy="175.9" r="2.5"/><circle cx="559.7" cy="177.5" r="2.5"/><circle cx="569.2" cy="177.5" r="2.5"/><circle cx="552.4" cy="179.2" r="2.5"/><circle cx="556.3" cy="181.7" r="2.5"/><circle cx="566.6" cy="182.1" r="2.5"/><circle cx="563.6" cy="184.5" r="2.5"/><circle cx="580.8" cy="185.0" r="2.5"/><circle cx="553.3" cy="187.0" r="2.5"/><circle cx="561.4" cy="188.7" r="2.5"/><circle cx="579.1" cy="187.9" r="2.5"/><circle cx="570.9" cy="191.2" r="2.5"/><circle cx="567.9" cy="192.4" r="2.5"/><circle cx="560.6" cy="194.5" r="2.5"/><circle cx="565.3" cy="195.7" r="2.5"/><circle cx="583.8" cy="193.6" r="2.5"/><circle cx="564.9" cy="199.8" r="2.5"/><circle cx="549.8" cy="200.2" r="2.5"/><circle cx="578.7" cy="200.2" r="2.5"/><circle cx="581.2" cy="201.3" r="2.5"/><circle cx="591.6" cy="199.8" r="2.5"/><circle cx="590.7" cy="204.8" r="2.5"/><circle cx="592.0" cy="186.6" r="2.5"/><circle cx="592.0" cy="163.5" r="2.5"/><circle cx="579.1" cy="213.0" r="2.5"/><circle cx="584.7" cy="214.7" r="2.5"/><circle cx="589.4" cy="214.7" r="2.5"/><circle cx="592.4" cy="125.9" r="2.5"/><circle cx="533.9" cy="209.7" r="2.5"/><circle cx="524.4" cy="213.0" r="2.5"/><circle cx="528.7" cy="213.9" r="2.5"/><circle cx="529.2" cy="218.8" r="2.5"/><circle cx="533.9" cy="219.2" r="2.5"/><circle cx="519.3" cy="224.2" r="2.5"/><circle cx="517.1" cy="225.8" r="2.5"/><circle cx="525.7" cy="225.0" r="2.5"/><circle cx="528.7" cy="225.8" r="2.5"/><circle cx="539.9" cy="226.2" r="2.5"/><circle cx="542.1" cy="227.9" r="2.5"/><circle cx="586.4" cy="160.0" r="2.5"/><circle cx="695.7" cy="56.5" r="2.5"/><circle cx="705.2" cy="58.8" r="2.5"/><circle cx="695.7" cy="61.7" r="2.5"/><circle cx="691.4" cy="69.9" r="2.5"/><circle cx="696.1" cy="72.0" r="2.5"/><circle cx="720.6" cy="111.6" r="2.5"/><circle cx="721.5" cy="118.6" r="2.5"/><circle cx="717.6" cy="123.6" r="2.5"/><circle cx="707.7" cy="51.9" r="2.5"/><circle cx="716.8" cy="51.9" r="2.5"/><circle cx="722.4" cy="57.9" r="2.5"/><circle cx="716.8" cy="61.2" r="2.5"/><circle cx="721.1" cy="60.8" r="2.5"/><circle cx="724.1" cy="62.5" r="2.5"/><circle cx="705.6" cy="66.2" r="2.5"/><circle cx="721.1" cy="66.2" r="2.5"/><circle cx="715.9" cy="69.5" r="2.5"/><circle cx="704.7" cy="72.8" r="2.5"/><circle cx="703.4" cy="76.5" r="2.5"/><circle cx="705.2" cy="78.6" r="2.5"/><circle cx="699.1" cy="79.7" r="2.5"/><circle cx="712.0" cy="79.0" r="2.5"/><circle cx="709.5" cy="81.5" r="2.5"/><circle cx="695.3" cy="86.8" r="2.5"/><circle cx="705.2" cy="88.1" r="2.5"/><circle cx="689.7" cy="91.4" r="2.5"/><circle cx="706.4" cy="93.4" r="2.5"/><circle cx="719.4" cy="89.6" r="2.5"/><circle cx="688.4" cy="100.0" r="2.5"/><circle cx="656.1" cy="103.8" r="2.5"/><circle cx="671.6" cy="108.3" r="2.5"/><circle cx="669.9" cy="112.0" r="2.5"/><circle cx="667.7" cy="113.7" r="2.5"/><circle cx="645.3" cy="110.0" r="2.5"/><circle cx="641.9" cy="115.7" r="2.5"/><circle cx="644.5" cy="117.8" r="2.5"/><circle cx="664.3" cy="119.4" r="2.5"/><circle cx="679.8" cy="116.7" r="2.5"/><circle cx="694.4" cy="110.4" r="2.5"/><circle cx="690.1" cy="120.7" r="2.5"/><circle cx="688.4" cy="123.6" r="2.5"/><circle cx="644.9" cy="124.4" r="2.5"/><circle cx="645.8" cy="127.3" r="2.5"/><circle cx="612.2" cy="129.4" r="2.5"/><circle cx="613.9" cy="131.4" r="2.5"/><circle cx="620.8" cy="133.9" r="2.5"/><circle cx="709.5" cy="131.4" r="2.5"/><circle cx="714.6" cy="121.1" r="2.5"/><circle cx="633.3" cy="134.7" r="2.5"/><circle cx="648.8" cy="134.7" r="2.5"/><circle cx="640.6" cy="94.3" r="2.5"/><circle cx="616.9" cy="105.0" r="2.5"/><circle cx="620.4" cy="103.8" r="2.5"/><circle cx="623.4" cy="103.3" r="2.5"/><circle cx="632.4" cy="102.9" r="2.5"/><circle cx="634.6" cy="108.7" r="2.5"/><circle cx="595.4" cy="123.2" r="2.5"/><circle cx="627.7" cy="128.1" r="2.5"/><circle cx="644.5" cy="134.3" r="2.5"/><circle cx="654.4" cy="129.5" r="2.5"/><circle cx="697.4" cy="125.2" r="2.5"/><circle cx="721.5" cy="130.2" r="2.5"/><circle cx="732.2" cy="80.2" r="2.5"/><circle cx="734.8" cy="86.6" r="2.5"/><circle cx="769.7" cy="96.3" r="2.5"/><circle cx="770.1" cy="99.6" r="2.5"/><circle cx="770.1" cy="102.9" r="2.5"/><circle cx="779.6" cy="97.0" r="2.5"/><circle cx="801.1" cy="93.2" r="2.5"/><circle cx="729.9" cy="68.1" r="2.5"/><circle cx="730.8" cy="94.8" r="2.5"/><circle cx="733.5" cy="98.4" r="2.5"/><circle cx="730.1" cy="101.1" r="2.5"/><circle cx="734.8" cy="116.1" r="2.5"/><circle cx="747.3" cy="114.5" r="2.5"/><circle cx="754.6" cy="107.7" r="2.5"/><circle cx="756.3" cy="123.4" r="2.5"/><circle cx="776.1" cy="123.2" r="2.5"/><circle cx="730.5" cy="125.2" r="2.5"/><circle cx="769.7" cy="132.2" r="2.5"/><circle cx="735.7" cy="105.0" r="2.5"/><circle cx="734.8" cy="133.5" r="2.5"/><circle cx="798.9" cy="83.9" r="2.5"/><circle cx="785.6" cy="89.9" r="2.5"/><circle cx="815.7" cy="90.1" r="2.5"/><circle cx="803.7" cy="93.4" r="2.5"/><circle cx="795.5" cy="95.3" r="2.5"/><circle cx="809.3" cy="95.1" r="2.5"/><circle cx="787.3" cy="95.9" r="2.5"/><circle cx="785.2" cy="98.8" r="2.5"/><circle cx="780.0" cy="102.9" r="2.5"/><circle cx="777.4" cy="105.4" r="2.5"/><circle cx="780.0" cy="107.5" r="2.5"/><circle cx="801.1" cy="101.4" r="2.5"/><circle cx="798.5" cy="103.3" r="2.5"/><circle cx="809.3" cy="100.5" r="2.5"/><circle cx="812.7" cy="101.7" r="2.5"/><circle cx="820.5" cy="102.8" r="2.5"/><circle cx="810.1" cy="105.8" r="2.5"/><circle cx="804.5" cy="106.6" r="2.5"/><circle cx="828.6" cy="106.2" r="2.5"/><circle cx="788.2" cy="109.7" r="2.5"/><circle cx="783.0" cy="112.0" r="2.5"/><circle cx="792.9" cy="112.2" r="2.5"/><circle cx="806.3" cy="112.4" r="2.5"/><circle cx="813.1" cy="113.0" r="2.5"/><circle cx="807.5" cy="115.7" r="2.5"/><circle cx="836.8" cy="110.4" r="2.5"/><circle cx="841.1" cy="111.2" r="2.5"/><circle cx="840.7" cy="114.9" r="2.5"/><circle cx="785.6" cy="117.4" r="2.5"/><circle cx="787.3" cy="120.7" r="2.5"/><circle cx="811.4" cy="120.9" r="2.5"/><circle cx="840.7" cy="120.3" r="2.5"/><circle cx="836.8" cy="122.7" r="2.5"/><circle cx="728.4" cy="106.6" r="2.5"/><circle cx="730.1" cy="116.6" r="2.5"/><circle cx="764.5" cy="121.1" r="2.5"/><circle cx="733.1" cy="124.0" r="2.5"/><circle cx="819.6" cy="127.3" r="2.5"/><circle cx="782.2" cy="128.1" r="2.5"/><circle cx="782.6" cy="131.0" r="2.5"/><circle cx="741.7" cy="132.2" r="2.5"/><circle cx="792.9" cy="131.0" r="2.5"/><circle cx="811.8" cy="131.0" r="2.5"/><circle cx="805.8" cy="133.5" r="2.5"/><circle cx="826.5" cy="133.5" r="2.5"/><circle cx="794.6" cy="134.4" r="2.5"/><circle cx="815.3" cy="136.1" r="2.5"/><circle cx="819.6" cy="136.5" r="2.5"/><circle cx="828.2" cy="137.7" r="2.5"/><circle cx="829.9" cy="139.8" r="2.5"/><circle cx="846.7" cy="138.5" r="2.5"/><circle cx="746.4" cy="140.6" r="2.5"/><circle cx="750.7" cy="141.4" r="2.5"/><circle cx="749.4" cy="145.1" r="2.5"/><circle cx="777.8" cy="139.0" r="2.5"/><circle cx="786.0" cy="143.1" r="2.5"/><circle cx="761.9" cy="144.3" r="2.5"/><circle cx="767.1" cy="147.6" r="2.5"/><circle cx="780.0" cy="147.6" r="2.5"/><circle cx="785.2" cy="148.9" r="2.5"/><circle cx="789.5" cy="148.5" r="2.5"/><circle cx="792.5" cy="146.0" r="2.5"/><circle cx="795.5" cy="147.2" r="2.5"/><circle cx="803.2" cy="143.9" r="2.5"/><circle cx="811.0" cy="143.1" r="2.5"/><circle cx="813.1" cy="144.7" r="2.5"/><circle cx="815.3" cy="148.5" r="2.5"/><circle cx="807.5" cy="150.5" r="2.5"/><circle cx="740.2" cy="147.9" r="2.5"/><circle cx="753.3" cy="150.1" r="2.5"/><circle cx="758.5" cy="153.0" r="2.5"/><circle cx="833.4" cy="151.8" r="2.5"/><circle cx="820.5" cy="154.6" r="2.5"/><circle cx="726.6" cy="157.1" r="2.5"/><circle cx="771.4" cy="158.4" r="2.5"/><circle cx="760.6" cy="158.4" r="2.5"/><circle cx="760.2" cy="161.7" r="2.5"/><circle cx="801.5" cy="157.5" r="2.5"/><circle cx="805.8" cy="160.0" r="2.5"/><circle cx="810.1" cy="159.2" r="2.5"/><circle cx="813.1" cy="161.2" r="2.5"/><circle cx="817.9" cy="162.5" r="2.5"/><circle cx="836.8" cy="159.2" r="2.5"/><circle cx="840.3" cy="157.1" r="2.5"/><circle cx="749.9" cy="160.8" r="2.5"/><circle cx="755.9" cy="161.7" r="2.5"/><circle cx="746.4" cy="163.7" r="2.5"/><circle cx="753.7" cy="165.8" r="2.5"/><circle cx="749.0" cy="168.3" r="2.5"/><circle cx="765.8" cy="166.2" r="2.5"/><circle cx="768.8" cy="169.1" r="2.5"/><circle cx="775.7" cy="171.6" r="2.5"/><circle cx="773.1" cy="173.6" r="2.5"/><circle cx="794.2" cy="165.8" r="2.5"/><circle cx="797.2" cy="166.6" r="2.5"/><circle cx="801.1" cy="163.3" r="2.5"/><circle cx="810.1" cy="164.6" r="2.5"/><circle cx="824.3" cy="165.8" r="2.5"/><circle cx="822.6" cy="168.3" r="2.5"/><circle cx="842.8" cy="165.0" r="2.5"/><circle cx="804.5" cy="169.1" r="2.5"/><circle cx="788.6" cy="171.6" r="2.5"/><circle cx="737.0" cy="172.8" r="2.5"/><circle cx="744.3" cy="173.2" r="2.5"/><circle cx="734.0" cy="179.8" r="2.5"/><circle cx="750.3" cy="182.7" r="2.5"/><circle cx="761.5" cy="186.8" r="2.5"/><circle cx="772.7" cy="205.8" r="2.5"/><circle cx="726.2" cy="141.3" r="2.5"/><circle cx="757.6" cy="139.0" r="2.5"/><circle cx="782.6" cy="139.4" r="2.5"/><circle cx="823.0" cy="155.1" r="2.5"/><circle cx="831.6" cy="163.7" r="2.5"/><circle cx="814.9" cy="166.2" r="2.5"/><circle cx="813.1" cy="169.1" r="2.5"/><circle cx="814.4" cy="174.0" r="2.5"/><circle cx="843.3" cy="178.2" r="2.5"/><circle cx="804.5" cy="182.3" r="2.5"/><circle cx="813.6" cy="189.7" r="2.5"/><circle cx="816.6" cy="192.2" r="2.5"/><circle cx="819.6" cy="193.4" r="2.5"/><circle cx="807.5" cy="197.6" r="2.5"/><circle cx="783.0" cy="203.4" r="2.5"/><circle cx="817.9" cy="202.5" r="2.5"/><circle cx="821.7" cy="204.2" r="2.5"/><circle cx="805.8" cy="205.0" r="2.5"/><circle cx="808.8" cy="206.2" r="2.5"/><circle cx="778.3" cy="206.7" r="2.5"/><circle cx="799.8" cy="208.7" r="2.5"/><circle cx="817.4" cy="208.3" r="2.5"/><circle cx="828.6" cy="208.7" r="2.5"/><circle cx="812.7" cy="210.8" r="2.5"/><circle cx="774.4" cy="210.8" r="2.5"/><circle cx="737.4" cy="204.2" r="2.5"/><circle cx="736.5" cy="208.7" r="2.5"/><circle cx="746.0" cy="211.2" r="2.5"/><circle cx="780.0" cy="213.3" r="2.5"/><circle cx="788.2" cy="214.1" r="2.5"/><circle cx="803.2" cy="213.3" r="2.5"/><circle cx="806.7" cy="212.4" r="2.5"/><circle cx="819.6" cy="212.8" r="2.5"/><circle cx="827.8" cy="215.3" r="2.5"/><circle cx="838.5" cy="214.1" r="2.5"/><circle cx="750.3" cy="214.1" r="2.5"/><circle cx="753.3" cy="215.3" r="2.5"/><circle cx="775.7" cy="216.6" r="2.5"/><circle cx="778.3" cy="220.3" r="2.5"/><circle cx="775.7" cy="222.3" r="2.5"/><circle cx="772.3" cy="225.6" r="2.5"/><circle cx="788.2" cy="224.4" r="2.5"/><circle cx="814.4" cy="218.2" r="2.5"/><circle cx="811.0" cy="220.7" r="2.5"/><circle cx="823.5" cy="221.9" r="2.5"/><circle cx="821.3" cy="224.8" r="2.5"/><circle cx="831.2" cy="223.2" r="2.5"/><circle cx="833.4" cy="225.2" r="2.5"/><circle cx="841.1" cy="220.3" r="2.5"/><circle cx="846.3" cy="226.9" r="2.5"/><circle cx="743.8" cy="222.8" r="2.5"/><circle cx="803.2" cy="227.7" r="2.5"/><circle cx="795.5" cy="229.4" r="2.5"/><circle cx="817.9" cy="228.9" r="2.5"/><circle cx="828.2" cy="229.8" r="2.5"/><circle cx="777.8" cy="229.8" r="2.5"/><circle cx="736.5" cy="136.1" r="2.5"/><circle cx="757.2" cy="173.6" r="2.5"/><circle cx="761.5" cy="173.6" r="2.5"/><circle cx="764.5" cy="174.0" r="2.5"/><circle cx="744.7" cy="181.1" r="2.5"/><circle cx="734.8" cy="185.2" r="2.5"/><circle cx="724.5" cy="187.7" r="2.5"/><circle cx="725.8" cy="190.1" r="2.5"/><circle cx="731.8" cy="193.0" r="2.5"/><circle cx="734.8" cy="191.8" r="2.5"/><circle cx="723.2" cy="195.9" r="2.5"/><circle cx="722.8" cy="204.2" r="2.5"/><circle cx="732.2" cy="205.4" r="2.5"/><circle cx="739.5" cy="226.5" r="2.5"/><circle cx="761.1" cy="226.1" r="2.5"/><circle cx="764.5" cy="226.5" r="2.5"/><circle cx="762.8" cy="229.4" r="2.5"/><circle cx="768.4" cy="229.8" r="2.5"/><circle cx="725.8" cy="212.4" r="2.5"/><circle cx="785.6" cy="188.1" r="2.5"/><circle cx="787.7" cy="190.6" r="2.5"/><circle cx="604.4" cy="137.3" r="2.5"/><circle cx="602.3" cy="139.4" r="2.5"/><circle cx="609.6" cy="139.0" r="2.5"/><circle cx="631.1" cy="138.1" r="2.5"/><circle cx="629.0" cy="140.6" r="2.5"/><circle cx="625.1" cy="139.0" r="2.5"/><circle cx="618.6" cy="141.8" r="2.5"/><circle cx="625.5" cy="145.6" r="2.5"/><circle cx="626.4" cy="148.5" r="2.5"/><circle cx="614.3" cy="151.8" r="2.5"/><circle cx="669.0" cy="143.1" r="2.5"/><circle cx="684.1" cy="131.1" r="2.5"/><circle cx="619.1" cy="160.8" r="2.5"/><circle cx="639.3" cy="165.0" r="2.5"/><circle cx="599.7" cy="178.6" r="2.5"/><circle cx="647.1" cy="137.7" r="2.5"/><circle cx="650.9" cy="139.0" r="2.5"/><circle cx="640.2" cy="143.1" r="2.5"/><circle cx="644.5" cy="143.5" r="2.5"/><circle cx="641.5" cy="147.2" r="2.5"/><circle cx="647.9" cy="148.5" r="2.5"/><circle cx="599.3" cy="141.8" r="2.5"/><circle cx="604.9" cy="149.3" r="2.5"/><circle cx="602.7" cy="150.9" r="2.5"/><circle cx="623.8" cy="150.1" r="2.5"/><circle cx="655.7" cy="150.9" r="2.5"/><circle cx="678.5" cy="148.5" r="2.5"/><circle cx="683.2" cy="151.3" r="2.5"/><circle cx="630.7" cy="156.7" r="2.5"/><circle cx="607.0" cy="156.3" r="2.5"/><circle cx="679.8" cy="158.4" r="2.5"/><circle cx="605.7" cy="161.7" r="2.5"/><circle cx="609.2" cy="162.9" r="2.5"/><circle cx="612.2" cy="164.6" r="2.5"/><circle cx="615.2" cy="163.7" r="2.5"/><circle cx="620.4" cy="164.1" r="2.5"/><circle cx="626.8" cy="162.9" r="2.5"/><circle cx="615.6" cy="166.6" r="2.5"/><circle cx="612.2" cy="169.9" r="2.5"/><circle cx="618.6" cy="169.1" r="2.5"/><circle cx="669.0" cy="160.4" r="2.5"/><circle cx="670.3" cy="163.3" r="2.5"/><circle cx="660.0" cy="169.9" r="2.5"/><circle cx="656.5" cy="172.4" r="2.5"/><circle cx="620.4" cy="179.8" r="2.5"/><circle cx="598.4" cy="181.1" r="2.5"/><circle cx="611.8" cy="182.7" r="2.5"/><circle cx="598.0" cy="187.7" r="2.5"/><circle cx="623.4" cy="191.8" r="2.5"/><circle cx="625.5" cy="194.3" r="2.5"/><circle cx="598.0" cy="192.6" r="2.5"/><circle cx="595.0" cy="195.5" r="2.5"/><circle cx="601.4" cy="196.3" r="2.5"/><circle cx="610.0" cy="195.5" r="2.5"/><circle cx="635.4" cy="195.1" r="2.5"/><circle cx="620.4" cy="197.6" r="2.5"/><circle cx="654.8" cy="196.7" r="2.5"/><circle cx="656.9" cy="199.2" r="2.5"/><circle cx="660.8" cy="194.3" r="2.5"/><circle cx="632.0" cy="201.7" r="2.5"/><circle cx="632.4" cy="205.4" r="2.5"/><circle cx="635.9" cy="207.5" r="2.5"/><circle cx="638.0" cy="209.5" r="2.5"/><circle cx="602.7" cy="207.9" r="2.5"/><circle cx="626.8" cy="210.4" r="2.5"/><circle cx="642.7" cy="211.6" r="2.5"/><circle cx="595.4" cy="210.8" r="2.5"/><circle cx="592.8" cy="212.8" r="2.5"/><circle cx="601.4" cy="215.7" r="2.5"/><circle cx="614.3" cy="221.9" r="2.5"/><circle cx="701.3" cy="212.8" r="2.5"/><circle cx="655.7" cy="157.9" r="2.5"/><circle cx="676.3" cy="165.0" r="2.5"/><circle cx="703.4" cy="158.4" r="2.5"/><circle cx="711.6" cy="156.3" r="2.5"/><circle cx="715.9" cy="156.3" r="2.5"/><circle cx="683.2" cy="173.6" r="2.5"/><circle cx="664.3" cy="178.2" r="2.5"/><circle cx="652.6" cy="182.7" r="2.5"/><circle cx="643.6" cy="186.4" r="2.5"/><circle cx="700.0" cy="179.4" r="2.5"/><circle cx="703.0" cy="180.2" r="2.5"/><circle cx="707.7" cy="183.1" r="2.5"/><circle cx="709.9" cy="184.8" r="2.5"/><circle cx="715.0" cy="187.7" r="2.5"/><circle cx="718.5" cy="185.2" r="2.5"/><circle cx="678.0" cy="195.1" r="2.5"/><circle cx="709.0" cy="194.3" r="2.5"/><circle cx="710.3" cy="198.0" r="2.5"/><circle cx="666.4" cy="202.9" r="2.5"/><circle cx="665.1" cy="205.8" r="2.5"/><circle cx="658.7" cy="207.1" r="2.5"/><circle cx="676.3" cy="208.7" r="2.5"/><circle cx="686.6" cy="207.5" r="2.5"/><circle cx="715.0" cy="205.4" r="2.5"/><circle cx="653.9" cy="210.4" r="2.5"/><circle cx="653.5" cy="213.3" r="2.5"/><circle cx="623.0" cy="214.9" r="2.5"/><circle cx="629.8" cy="214.5" r="2.5"/><circle cx="636.7" cy="217.4" r="2.5"/><circle cx="639.3" cy="220.3" r="2.5"/><circle cx="641.5" cy="222.8" r="2.5"/><circle cx="652.6" cy="218.2" r="2.5"/><circle cx="654.8" cy="221.1" r="2.5"/><circle cx="666.8" cy="219.9" r="2.5"/><circle cx="669.9" cy="221.1" r="2.5"/><circle cx="678.0" cy="220.7" r="2.5"/><circle cx="681.9" cy="217.0" r="2.5"/><circle cx="636.3" cy="225.6" r="2.5"/><circle cx="647.1" cy="226.5" r="2.5"/><circle cx="660.0" cy="226.1" r="2.5"/><circle cx="671.2" cy="226.1" r="2.5"/><circle cx="683.2" cy="226.1" r="2.5"/><circle cx="687.5" cy="226.5" r="2.5"/><circle cx="706.4" cy="222.8" r="2.5"/><circle cx="709.0" cy="225.6" r="2.5"/><circle cx="665.1" cy="230.6" r="2.5"/><circle cx="671.2" cy="231.0" r="2.5"/><circle cx="628.1" cy="231.4" r="2.5"/><circle cx="615.2" cy="201.5" r="2.5"/><circle cx="622.1" cy="224.0" r="2.5"/><circle cx="626.8" cy="235.7" r="2.5"/><circle cx="662.5" cy="235.2" r="2.5"/><circle cx="662.1" cy="238.1" r="2.5"/><circle cx="654.4" cy="239.8" r="2.5"/><circle cx="654.4" cy="242.7" r="2.5"/><circle cx="654.8" cy="245.6" r="2.5"/><circle cx="666.8" cy="239.4" r="2.5"/><circle cx="664.7" cy="241.9" r="2.5"/><circle cx="662.5" cy="244.3" r="2.5"/><circle cx="669.4" cy="243.9" r="2.5"/><circle cx="671.6" cy="246.0" r="2.5"/><circle cx="683.2" cy="237.3" r="2.5"/><circle cx="705.2" cy="235.2" r="2.5"/><circle cx="712.9" cy="234.0" r="2.5"/><circle cx="719.4" cy="234.4" r="2.5"/><circle cx="701.3" cy="239.4" r="2.5"/><circle cx="700.8" cy="242.3" r="2.5"/><circle cx="718.1" cy="242.3" r="2.5"/><circle cx="696.5" cy="244.7" r="2.5"/><circle cx="690.5" cy="246.4" r="2.5"/><circle cx="710.7" cy="244.7" r="2.5"/><circle cx="695.7" cy="249.3" r="2.5"/><circle cx="715.0" cy="249.3" r="2.5"/><circle cx="705.2" cy="249.7" r="2.5"/><circle cx="703.0" cy="251.8" r="2.5"/><circle cx="680.2" cy="252.2" r="2.5"/><circle cx="684.5" cy="252.2" r="2.5"/><circle cx="705.6" cy="253.4" r="2.5"/><circle cx="709.0" cy="252.6" r="2.5"/><circle cx="697.4" cy="255.5" r="2.5"/><circle cx="704.3" cy="255.9" r="2.5"/><circle cx="707.7" cy="255.9" r="2.5"/><circle cx="713.8" cy="257.1" r="2.5"/><circle cx="705.6" cy="258.8" r="2.5"/><circle cx="699.1" cy="260.4" r="2.5"/><circle cx="675.0" cy="267.9" r="2.5"/><circle cx="681.1" cy="267.0" r="2.5"/><circle cx="636.3" cy="284.8" r="2.5"/><circle cx="610.0" cy="246.8" r="2.5"/><circle cx="616.9" cy="244.3" r="2.5"/><circle cx="624.7" cy="281.6" r="2.5"/><circle cx="681.5" cy="317.6" r="2.5"/><circle cx="691.4" cy="317.8" r="2.5"/><circle cx="694.0" cy="326.1" r="2.5"/><circle cx="697.4" cy="326.1" r="2.5"/><circle cx="703.9" cy="329.8" r="2.5"/><circle cx="709.0" cy="329.8" r="2.5"/><circle cx="712.5" cy="329.8" r="2.5"/><circle cx="720.6" cy="307.5" r="2.5"/><circle cx="725.4" cy="301.3" r="2.5"/><circle cx="725.4" cy="316.2" r="2.5"/><circle cx="711.6" cy="299.6" r="2.5"/><circle cx="714.6" cy="302.5" r="2.5"/><circle cx="722.4" cy="320.3" r="2.5"/><circle cx="721.1" cy="322.8" r="2.5"/><circle cx="755.0" cy="233.6" r="2.5"/><circle cx="764.9" cy="233.6" r="2.5"/><circle cx="774.0" cy="232.4" r="2.5"/><circle cx="746.0" cy="255.7" r="2.5"/><circle cx="749.0" cy="264.1" r="2.5"/><circle cx="784.3" cy="232.8" r="2.5"/><circle cx="793.8" cy="236.1" r="2.5"/><circle cx="821.3" cy="228.2" r="2.5"/><circle cx="815.3" cy="231.9" r="2.5"/><circle cx="818.7" cy="231.9" r="2.5"/><circle cx="822.2" cy="236.5" r="2.5"/><circle cx="817.0" cy="239.0" r="2.5"/><circle cx="832.1" cy="233.2" r="2.5"/><circle cx="832.9" cy="237.3" r="2.5"/><circle cx="838.5" cy="233.2" r="2.5"/><circle cx="780.4" cy="242.3" r="2.5"/><circle cx="787.7" cy="246.4" r="2.5"/><circle cx="802.8" cy="243.3" r="2.5"/><circle cx="813.6" cy="244.2" r="2.5"/><circle cx="823.5" cy="243.9" r="2.5"/><circle cx="783.3" cy="253.0" r="2.5"/><circle cx="764.5" cy="264.6" r="2.5"/><circle cx="760.2" cy="267.4" r="2.5"/><circle cx="761.9" cy="278.2" r="2.5"/><circle cx="764.5" cy="283.5" r="2.5"/><circle cx="780.4" cy="284.8" r="2.5"/><circle cx="773.1" cy="286.0" r="2.5"/><circle cx="770.1" cy="290.2" r="2.5"/><circle cx="774.0" cy="289.7" r="2.5"/><circle cx="786.5" cy="292.1" r="2.5"/><circle cx="771.8" cy="296.2" r="2.5"/><circle cx="758.9" cy="252.2" r="2.5"/><circle cx="767.9" cy="252.8" r="2.5"/><circle cx="777.8" cy="256.3" r="2.5"/><circle cx="776.6" cy="259.2" r="2.5"/><circle cx="725.3" cy="329.8" r="2.5"/><circle cx="752.0" cy="267.3" r="2.5"/><circle cx="778.7" cy="266.2" r="2.5"/><circle cx="758.1" cy="274.9" r="2.5"/><circle cx="762.4" cy="283.5" r="2.5"/><circle cx="732.2" cy="290.4" r="2.5"/><circle cx="738.3" cy="295.5" r="2.5"/><circle cx="736.1" cy="298.0" r="2.5"/><circle cx="757.6" cy="297.2" r="2.5"/><circle cx="743.8" cy="302.5" r="2.5"/><circle cx="741.3" cy="304.6" r="2.5"/><circle cx="734.8" cy="306.4" r="2.5"/><circle cx="766.7" cy="308.7" r="2.5"/><circle cx="761.5" cy="311.2" r="2.5"/><circle cx="758.5" cy="313.3" r="2.5"/><circle cx="755.9" cy="315.7" r="2.5"/><circle cx="744.7" cy="312.4" r="2.5"/><circle cx="730.1" cy="315.3" r="2.5"/><circle cx="733.1" cy="314.5" r="2.5"/><circle cx="736.1" cy="316.6" r="2.5"/><circle cx="731.4" cy="320.7" r="2.5"/><circle cx="732.2" cy="326.5" r="2.5"/><circle cx="796.7" cy="133.7" r="2.5"/><circle cx="805.1" cy="140.8" r="2.5"/><circle cx="810.4" cy="148.9" r="2.5"/><circle cx="799.9" cy="152.0" r="2.5"/><circle cx="794.6" cy="143.9" r="2.5"/><circle cx="684.7" cy="221.9" r="2.5"/><circle cx="691.0" cy="229.0" r="2.5"/><circle cx="686.8" cy="237.1" r="2.5"/><circle cx="694.2" cy="241.2" r="2.5"/><circle cx="798.8" cy="222.9" r="2.5"/><circle cx="806.2" cy="231.0" r="2.5"/><circle cx="802.0" cy="239.2" r="2.5"/><circle cx="809.4" cy="243.2" r="2.5"/><circle cx="542.0" cy="181.4" r="2.5"/><circle cx="545.2" cy="192.5" r="2.5"/><circle cx="686.8" cy="110.4" r="2.5"/><circle cx="692.1" cy="120.6" r="2.5"/>
</g>
<circle cx="534.2" cy="210.3" r="2.4" fill="#6e0a0c"/>
<circle cx="530.3" cy="215.0" r="2.6" fill="#6e0a0c"/>
<circle cx="518.9" cy="225.3" r="3.0" fill="#d42a25"/>
<circle cx="517.1" cy="227.4" r="2.4" fill="#d42a25"/>
<g fill="#cacaca">
<circle cx="900.3" cy="126.6" r="1.9"/><circle cx="924.7" cy="129.2" r="1.9"/><circle cx="893.2" cy="129.6" r="1.9"/><circle cx="890.9" cy="132.9" r="1.9"/><circle cx="896.3" cy="133.7" r="1.9"/><circle cx="900.7" cy="134.9" r="1.9"/><circle cx="911.8" cy="130.5" r="1.9"/><circle cx="909.1" cy="134.5" r="1.9"/><circle cx="882.0" cy="136.6" r="1.9"/><circle cx="887.4" cy="140.2" r="1.9"/><circle cx="902.5" cy="140.2" r="1.9"/><circle cx="909.1" cy="142.3" r="1.9"/><circle cx="896.3" cy="142.7" r="1.9"/><circle cx="885.6" cy="142.7" r="1.9"/><circle cx="888.3" cy="144.3" r="1.9"/><circle cx="915.4" cy="142.7" r="1.9"/><circle cx="921.1" cy="141.5" r="1.9"/><circle cx="897.6" cy="146.7" r="1.9"/><circle cx="919.4" cy="147.6" r="1.9"/><circle cx="878.0" cy="148.4" r="1.9"/><circle cx="899.8" cy="149.6" r="1.9"/><circle cx="905.1" cy="149.6" r="1.9"/><circle cx="902.5" cy="152.4" r="1.9"/><circle cx="891.8" cy="150.4" r="1.9"/><circle cx="889.2" cy="152.0" r="1.9"/><circle cx="914.5" cy="152.0" r="1.9"/><circle cx="912.7" cy="154.5" r="1.9"/><circle cx="922.5" cy="155.9" r="1.9"/><circle cx="915.4" cy="158.6" r="1.9"/><circle cx="908.3" cy="157.9" r="1.9"/><circle cx="902.5" cy="158.6" r="1.9"/><circle cx="904.7" cy="162.5" r="1.9"/><circle cx="929.6" cy="158.4" r="1.9"/><circle cx="934.5" cy="164.3" r="1.9"/><circle cx="945.1" cy="170.4" r="1.9"/><circle cx="952.7" cy="173.5" r="1.9"/><circle cx="947.8" cy="138.0" r="1.9"/><circle cx="990.3" cy="137.2" r="1.9"/><circle cx="1000.2" cy="142.4" r="1.9"/><circle cx="986.0" cy="143.5" r="1.9"/><circle cx="989.1" cy="146.3" r="1.9"/><circle cx="986.0" cy="149.2" r="1.9"/><circle cx="978.9" cy="156.1" r="1.9"/><circle cx="988.2" cy="156.3" r="1.9"/><circle cx="1002.4" cy="157.7" r="1.9"/><circle cx="993.6" cy="161.0" r="1.9"/><circle cx="980.2" cy="163.0" r="1.9"/><circle cx="994.0" cy="165.5" r="1.9"/><circle cx="1002.9" cy="166.0" r="1.9"/><circle cx="978.9" cy="167.7" r="1.9"/><circle cx="996.2" cy="169.1" r="1.9"/><circle cx="993.6" cy="171.6" r="1.9"/><circle cx="1006.9" cy="170.8" r="1.9"/><circle cx="977.6" cy="172.4" r="1.9"/><circle cx="987.3" cy="172.4" r="1.9"/><circle cx="970.0" cy="174.0" r="1.9"/><circle cx="974.0" cy="176.5" r="1.9"/><circle cx="984.7" cy="176.9" r="1.9"/><circle cx="981.6" cy="179.3" r="1.9"/><circle cx="999.3" cy="179.7" r="1.9"/><circle cx="970.9" cy="181.8" r="1.9"/><circle cx="979.3" cy="183.4" r="1.9"/><circle cx="997.6" cy="182.6" r="1.9"/><circle cx="989.1" cy="185.8" r="1.9"/><circle cx="986.0" cy="187.1" r="1.9"/><circle cx="978.4" cy="189.1" r="1.9"/><circle cx="983.3" cy="190.3" r="1.9"/><circle cx="1002.4" cy="188.3" r="1.9"/><circle cx="982.9" cy="194.4" r="1.9"/><circle cx="967.3" cy="194.8" r="1.9"/><circle cx="997.1" cy="194.8" r="1.9"/><circle cx="999.8" cy="195.9" r="1.9"/><circle cx="1010.4" cy="194.4" r="1.9"/><circle cx="1009.5" cy="199.3" r="1.9"/><circle cx="1010.9" cy="181.4" r="1.9"/><circle cx="1010.9" cy="158.6" r="1.9"/><circle cx="997.6" cy="207.4" r="1.9"/><circle cx="1003.3" cy="209.1" r="1.9"/><circle cx="1008.2" cy="209.1" r="1.9"/><circle cx="1011.3" cy="121.5" r="1.9"/><circle cx="950.9" cy="204.2" r="1.9"/><circle cx="941.1" cy="207.4" r="1.9"/><circle cx="945.6" cy="208.2" r="1.9"/><circle cx="946.0" cy="213.1" r="1.9"/><circle cx="950.9" cy="213.5" r="1.9"/><circle cx="935.8" cy="218.4" r="1.9"/><circle cx="933.6" cy="220.1" r="1.9"/><circle cx="942.5" cy="219.2" r="1.9"/><circle cx="945.6" cy="220.1" r="1.9"/><circle cx="957.1" cy="220.5" r="1.9"/><circle cx="959.3" cy="222.1" r="1.9"/><circle cx="1005.1" cy="155.1" r="1.9"/><circle cx="1117.9" cy="53.0" r="1.9"/><circle cx="1127.7" cy="55.2" r="1.9"/><circle cx="1117.9" cy="58.1" r="1.9"/><circle cx="1113.5" cy="66.2" r="1.9"/><circle cx="1118.4" cy="68.3" r="1.9"/><circle cx="1143.7" cy="107.4" r="1.9"/><circle cx="1144.6" cy="114.3" r="1.9"/><circle cx="1140.6" cy="119.2" r="1.9"/><circle cx="1130.3" cy="48.5" r="1.9"/><circle cx="1139.7" cy="48.5" r="1.9"/><circle cx="1145.5" cy="54.4" r="1.9"/><circle cx="1139.7" cy="57.7" r="1.9"/><circle cx="1144.1" cy="57.3" r="1.9"/><circle cx="1147.2" cy="58.9" r="1.9"/><circle cx="1128.1" cy="62.6" r="1.9"/><circle cx="1144.1" cy="62.6" r="1.9"/><circle cx="1138.8" cy="65.8" r="1.9"/><circle cx="1127.2" cy="69.1" r="1.9"/><circle cx="1125.9" cy="72.7" r="1.9"/><circle cx="1127.7" cy="74.8" r="1.9"/><circle cx="1121.5" cy="75.8" r="1.9"/><circle cx="1134.8" cy="75.2" r="1.9"/><circle cx="1132.1" cy="77.6" r="1.9"/><circle cx="1117.5" cy="82.9" r="1.9"/><circle cx="1127.7" cy="84.1" r="1.9"/><circle cx="1111.7" cy="87.4" r="1.9"/><circle cx="1129.0" cy="89.4" r="1.9"/><circle cx="1142.3" cy="85.6" r="1.9"/><circle cx="1110.4" cy="96.0" r="1.9"/><circle cx="1077.0" cy="99.6" r="1.9"/><circle cx="1093.0" cy="104.1" r="1.9"/><circle cx="1091.3" cy="107.8" r="1.9"/><circle cx="1089.0" cy="109.4" r="1.9"/><circle cx="1065.9" cy="105.7" r="1.9"/><circle cx="1062.4" cy="111.4" r="1.9"/><circle cx="1065.0" cy="113.5" r="1.9"/><circle cx="1085.5" cy="115.1" r="1.9"/><circle cx="1101.5" cy="112.4" r="1.9"/><circle cx="1116.6" cy="106.1" r="1.9"/><circle cx="1112.1" cy="116.3" r="1.9"/><circle cx="1110.4" cy="119.2" r="1.9"/><circle cx="1065.5" cy="120.0" r="1.9"/><circle cx="1066.4" cy="122.8" r="1.9"/><circle cx="1031.7" cy="124.9" r="1.9"/><circle cx="1033.5" cy="126.9" r="1.9"/><circle cx="1040.6" cy="129.4" r="1.9"/><circle cx="1132.1" cy="126.9" r="1.9"/><circle cx="1137.5" cy="116.7" r="1.9"/><circle cx="1053.5" cy="130.2" r="1.9"/><circle cx="1069.5" cy="130.2" r="1.9"/><circle cx="1061.0" cy="90.3" r="1.9"/><circle cx="1036.6" cy="100.8" r="1.9"/><circle cx="1040.2" cy="99.6" r="1.9"/><circle cx="1043.3" cy="99.2" r="1.9"/><circle cx="1052.6" cy="98.8" r="1.9"/><circle cx="1054.8" cy="104.5" r="1.9"/><circle cx="1014.4" cy="118.8" r="1.9"/><circle cx="1047.7" cy="123.7" r="1.9"/><circle cx="1065.0" cy="129.8" r="1.9"/><circle cx="1075.3" cy="125.0" r="1.9"/><circle cx="1119.7" cy="120.8" r="1.9"/><circle cx="1144.6" cy="125.7" r="1.9"/><circle cx="1155.6" cy="76.4" r="1.9"/><circle cx="1158.3" cy="82.7" r="1.9"/><circle cx="1194.3" cy="92.3" r="1.9"/><circle cx="1194.7" cy="95.5" r="1.9"/><circle cx="1194.7" cy="98.8" r="1.9"/><circle cx="1204.5" cy="92.9" r="1.9"/><circle cx="1226.7" cy="89.2" r="1.9"/><circle cx="1153.2" cy="64.4" r="1.9"/><circle cx="1154.1" cy="90.8" r="1.9"/><circle cx="1157.0" cy="94.3" r="1.9"/><circle cx="1153.4" cy="97.0" r="1.9"/><circle cx="1158.3" cy="111.8" r="1.9"/><circle cx="1171.2" cy="110.2" r="1.9"/><circle cx="1178.7" cy="103.5" r="1.9"/><circle cx="1180.5" cy="119.0" r="1.9"/><circle cx="1200.9" cy="118.8" r="1.9"/><circle cx="1153.9" cy="120.8" r="1.9"/><circle cx="1194.3" cy="127.7" r="1.9"/><circle cx="1159.2" cy="100.8" r="1.9"/><circle cx="1158.3" cy="128.9" r="1.9"/><circle cx="1224.5" cy="80.1" r="1.9"/><circle cx="1210.7" cy="85.9" r="1.9"/><circle cx="1241.8" cy="86.2" r="1.9"/><circle cx="1229.4" cy="89.4" r="1.9"/><circle cx="1220.9" cy="91.3" r="1.9"/><circle cx="1235.2" cy="91.1" r="1.9"/><circle cx="1212.5" cy="91.9" r="1.9"/><circle cx="1210.3" cy="94.7" r="1.9"/><circle cx="1204.9" cy="98.8" r="1.9"/><circle cx="1202.3" cy="101.3" r="1.9"/><circle cx="1204.9" cy="103.3" r="1.9"/><circle cx="1226.7" cy="97.3" r="1.9"/><circle cx="1224.0" cy="99.2" r="1.9"/><circle cx="1235.2" cy="96.4" r="1.9"/><circle cx="1238.7" cy="97.6" r="1.9"/><circle cx="1246.7" cy="98.6" r="1.9"/><circle cx="1236.0" cy="101.7" r="1.9"/><circle cx="1230.3" cy="102.5" r="1.9"/><circle cx="1255.1" cy="102.1" r="1.9"/><circle cx="1213.4" cy="105.5" r="1.9"/><circle cx="1208.1" cy="107.8" r="1.9"/><circle cx="1218.3" cy="107.9" r="1.9"/><circle cx="1232.0" cy="108.2" r="1.9"/><circle cx="1239.2" cy="108.7" r="1.9"/><circle cx="1233.4" cy="111.4" r="1.9"/><circle cx="1263.6" cy="106.1" r="1.9"/><circle cx="1268.0" cy="107.0" r="1.9"/><circle cx="1267.6" cy="110.6" r="1.9"/><circle cx="1210.7" cy="113.1" r="1.9"/><circle cx="1212.5" cy="116.3" r="1.9"/><circle cx="1237.4" cy="116.6" r="1.9"/><circle cx="1267.6" cy="115.9" r="1.9"/><circle cx="1263.6" cy="118.4" r="1.9"/><circle cx="1151.6" cy="102.5" r="1.9"/><circle cx="1153.4" cy="112.2" r="1.9"/><circle cx="1189.0" cy="116.7" r="1.9"/><circle cx="1156.5" cy="119.6" r="1.9"/><circle cx="1245.8" cy="122.8" r="1.9"/><circle cx="1207.2" cy="123.7" r="1.9"/><circle cx="1207.6" cy="126.5" r="1.9"/><circle cx="1165.4" cy="127.7" r="1.9"/><circle cx="1218.3" cy="126.5" r="1.9"/><circle cx="1237.8" cy="126.5" r="1.9"/><circle cx="1231.6" cy="128.9" r="1.9"/><circle cx="1252.9" cy="128.9" r="1.9"/><circle cx="1220.1" cy="129.9" r="1.9"/><circle cx="1241.4" cy="131.5" r="1.9"/><circle cx="1245.8" cy="131.9" r="1.9"/><circle cx="1254.7" cy="133.1" r="1.9"/><circle cx="1256.5" cy="135.2" r="1.9"/><circle cx="1273.8" cy="133.9" r="1.9"/><circle cx="1170.3" cy="136.0" r="1.9"/><circle cx="1174.7" cy="136.8" r="1.9"/><circle cx="1173.4" cy="140.5" r="1.9"/><circle cx="1202.7" cy="134.3" r="1.9"/><circle cx="1211.2" cy="138.4" r="1.9"/><circle cx="1186.3" cy="139.6" r="1.9"/><circle cx="1191.6" cy="142.9" r="1.9"/><circle cx="1204.9" cy="142.9" r="1.9"/><circle cx="1210.3" cy="144.1" r="1.9"/><circle cx="1214.7" cy="143.7" r="1.9"/><circle cx="1217.8" cy="141.3" r="1.9"/><circle cx="1220.9" cy="142.5" r="1.9"/><circle cx="1228.9" cy="139.2" r="1.9"/><circle cx="1236.9" cy="138.4" r="1.9"/><circle cx="1239.2" cy="140.0" r="1.9"/><circle cx="1241.4" cy="143.7" r="1.9"/><circle cx="1233.4" cy="145.7" r="1.9"/><circle cx="1163.9" cy="143.1" r="1.9"/><circle cx="1177.4" cy="145.3" r="1.9"/><circle cx="1182.7" cy="148.2" r="1.9"/><circle cx="1260.0" cy="147.0" r="1.9"/><circle cx="1246.7" cy="149.8" r="1.9"/><circle cx="1149.9" cy="152.3" r="1.9"/><circle cx="1196.1" cy="153.5" r="1.9"/><circle cx="1185.0" cy="153.5" r="1.9"/><circle cx="1184.5" cy="156.7" r="1.9"/><circle cx="1227.2" cy="152.7" r="1.9"/><circle cx="1231.6" cy="155.1" r="1.9"/><circle cx="1236.0" cy="154.3" r="1.9"/><circle cx="1239.2" cy="156.3" r="1.9"/><circle cx="1244.0" cy="157.6" r="1.9"/><circle cx="1263.6" cy="154.3" r="1.9"/><circle cx="1267.1" cy="152.3" r="1.9"/><circle cx="1173.8" cy="155.9" r="1.9"/><circle cx="1180.1" cy="156.7" r="1.9"/><circle cx="1170.3" cy="158.8" r="1.9"/><circle cx="1177.8" cy="160.8" r="1.9"/><circle cx="1173.0" cy="163.3" r="1.9"/><circle cx="1190.3" cy="161.2" r="1.9"/><circle cx="1193.4" cy="164.1" r="1.9"/><circle cx="1200.5" cy="166.5" r="1.9"/><circle cx="1197.8" cy="168.6" r="1.9"/><circle cx="1219.6" cy="160.8" r="1.9"/><circle cx="1222.7" cy="161.6" r="1.9"/><circle cx="1226.7" cy="158.4" r="1.9"/><circle cx="1236.0" cy="159.6" r="1.9"/><circle cx="1250.7" cy="160.8" r="1.9"/><circle cx="1248.9" cy="163.3" r="1.9"/><circle cx="1269.8" cy="160.0" r="1.9"/><circle cx="1230.3" cy="164.1" r="1.9"/><circle cx="1213.8" cy="166.5" r="1.9"/><circle cx="1160.5" cy="167.7" r="1.9"/><circle cx="1168.1" cy="168.1" r="1.9"/><circle cx="1157.4" cy="174.7" r="1.9"/><circle cx="1174.3" cy="177.5" r="1.9"/><circle cx="1185.8" cy="181.6" r="1.9"/><circle cx="1197.4" cy="200.3" r="1.9"/><circle cx="1149.4" cy="136.6" r="1.9"/><circle cx="1181.8" cy="134.3" r="1.9"/><circle cx="1207.6" cy="134.8" r="1.9"/><circle cx="1249.4" cy="150.2" r="1.9"/><circle cx="1258.3" cy="158.8" r="1.9"/><circle cx="1240.9" cy="161.2" r="1.9"/><circle cx="1239.2" cy="164.1" r="1.9"/><circle cx="1240.5" cy="169.0" r="1.9"/><circle cx="1270.3" cy="173.0" r="1.9"/><circle cx="1230.3" cy="177.1" r="1.9"/><circle cx="1239.6" cy="184.4" r="1.9"/><circle cx="1242.7" cy="186.9" r="1.9"/><circle cx="1245.8" cy="188.1" r="1.9"/><circle cx="1233.4" cy="192.2" r="1.9"/><circle cx="1208.1" cy="197.9" r="1.9"/><circle cx="1244.0" cy="197.1" r="1.9"/><circle cx="1248.0" cy="198.7" r="1.9"/><circle cx="1231.6" cy="199.5" r="1.9"/><circle cx="1234.7" cy="200.7" r="1.9"/><circle cx="1203.2" cy="201.1" r="1.9"/><circle cx="1225.4" cy="203.2" r="1.9"/><circle cx="1243.6" cy="202.8" r="1.9"/><circle cx="1255.1" cy="203.2" r="1.9"/><circle cx="1238.7" cy="205.2" r="1.9"/><circle cx="1199.2" cy="205.2" r="1.9"/><circle cx="1161.0" cy="198.7" r="1.9"/><circle cx="1160.1" cy="203.2" r="1.9"/><circle cx="1169.9" cy="205.6" r="1.9"/><circle cx="1204.9" cy="207.7" r="1.9"/><circle cx="1213.4" cy="208.5" r="1.9"/><circle cx="1228.9" cy="207.7" r="1.9"/><circle cx="1232.5" cy="206.8" r="1.9"/><circle cx="1245.8" cy="207.2" r="1.9"/><circle cx="1254.3" cy="209.7" r="1.9"/><circle cx="1265.4" cy="208.5" r="1.9"/><circle cx="1174.3" cy="208.5" r="1.9"/><circle cx="1177.4" cy="209.7" r="1.9"/><circle cx="1200.5" cy="210.9" r="1.9"/><circle cx="1203.2" cy="214.6" r="1.9"/><circle cx="1200.5" cy="216.6" r="1.9"/><circle cx="1196.9" cy="219.9" r="1.9"/><circle cx="1213.4" cy="218.7" r="1.9"/><circle cx="1240.5" cy="212.5" r="1.9"/><circle cx="1236.9" cy="215.0" r="1.9"/><circle cx="1249.8" cy="216.2" r="1.9"/><circle cx="1247.6" cy="219.1" r="1.9"/><circle cx="1257.8" cy="217.4" r="1.9"/><circle cx="1260.0" cy="219.5" r="1.9"/><circle cx="1268.0" cy="214.6" r="1.9"/><circle cx="1273.4" cy="221.1" r="1.9"/><circle cx="1167.6" cy="217.0" r="1.9"/><circle cx="1228.9" cy="221.9" r="1.9"/><circle cx="1220.9" cy="223.5" r="1.9"/><circle cx="1244.0" cy="223.1" r="1.9"/><circle cx="1254.7" cy="223.9" r="1.9"/><circle cx="1202.7" cy="223.9" r="1.9"/><circle cx="1160.1" cy="131.5" r="1.9"/><circle cx="1181.4" cy="168.6" r="1.9"/><circle cx="1185.8" cy="168.6" r="1.9"/><circle cx="1189.0" cy="169.0" r="1.9"/><circle cx="1168.5" cy="175.9" r="1.9"/><circle cx="1158.3" cy="180.0" r="1.9"/><circle cx="1147.6" cy="182.4" r="1.9"/><circle cx="1149.0" cy="184.8" r="1.9"/><circle cx="1155.2" cy="187.7" r="1.9"/><circle cx="1158.3" cy="186.5" r="1.9"/><circle cx="1146.3" cy="190.5" r="1.9"/><circle cx="1145.9" cy="198.7" r="1.9"/><circle cx="1155.6" cy="199.9" r="1.9"/><circle cx="1163.2" cy="220.7" r="1.9"/><circle cx="1185.4" cy="220.3" r="1.9"/><circle cx="1189.0" cy="220.7" r="1.9"/><circle cx="1187.2" cy="223.5" r="1.9"/><circle cx="1193.0" cy="223.9" r="1.9"/><circle cx="1149.0" cy="206.8" r="1.9"/><circle cx="1210.7" cy="182.8" r="1.9"/><circle cx="1212.9" cy="185.3" r="1.9"/><circle cx="1023.7" cy="132.7" r="1.9"/><circle cx="1021.5" cy="134.8" r="1.9"/><circle cx="1029.1" cy="134.3" r="1.9"/><circle cx="1051.3" cy="133.5" r="1.9"/><circle cx="1049.0" cy="136.0" r="1.9"/><circle cx="1045.1" cy="134.3" r="1.9"/><circle cx="1038.4" cy="137.2" r="1.9"/><circle cx="1045.5" cy="140.9" r="1.9"/><circle cx="1046.4" cy="143.7" r="1.9"/><circle cx="1033.9" cy="147.0" r="1.9"/><circle cx="1090.4" cy="138.4" r="1.9"/><circle cx="1105.9" cy="126.6" r="1.9"/><circle cx="1038.8" cy="155.9" r="1.9"/><circle cx="1059.7" cy="160.0" r="1.9"/><circle cx="1018.8" cy="173.4" r="1.9"/><circle cx="1067.7" cy="133.1" r="1.9"/><circle cx="1071.7" cy="134.3" r="1.9"/><circle cx="1060.6" cy="138.4" r="1.9"/><circle cx="1065.0" cy="138.8" r="1.9"/><circle cx="1061.9" cy="142.5" r="1.9"/><circle cx="1068.6" cy="143.7" r="1.9"/><circle cx="1018.4" cy="137.2" r="1.9"/><circle cx="1024.2" cy="144.5" r="1.9"/><circle cx="1022.0" cy="146.2" r="1.9"/><circle cx="1043.7" cy="145.3" r="1.9"/><circle cx="1076.6" cy="146.2" r="1.9"/><circle cx="1100.1" cy="143.7" r="1.9"/><circle cx="1105.0" cy="146.6" r="1.9"/><circle cx="1050.8" cy="151.9" r="1.9"/><circle cx="1026.4" cy="151.5" r="1.9"/><circle cx="1101.5" cy="153.5" r="1.9"/><circle cx="1025.1" cy="156.7" r="1.9"/><circle cx="1028.6" cy="158.0" r="1.9"/><circle cx="1031.7" cy="159.6" r="1.9"/><circle cx="1034.8" cy="158.8" r="1.9"/><circle cx="1040.2" cy="159.2" r="1.9"/><circle cx="1046.8" cy="158.0" r="1.9"/><circle cx="1035.3" cy="161.6" r="1.9"/><circle cx="1031.7" cy="164.9" r="1.9"/><circle cx="1038.4" cy="164.1" r="1.9"/><circle cx="1090.4" cy="155.5" r="1.9"/><circle cx="1091.7" cy="158.4" r="1.9"/><circle cx="1081.0" cy="164.9" r="1.9"/><circle cx="1077.5" cy="167.3" r="1.9"/><circle cx="1040.2" cy="174.7" r="1.9"/><circle cx="1017.5" cy="175.9" r="1.9"/><circle cx="1031.3" cy="177.5" r="1.9"/><circle cx="1017.1" cy="182.4" r="1.9"/><circle cx="1043.3" cy="186.5" r="1.9"/><circle cx="1045.5" cy="188.9" r="1.9"/><circle cx="1017.1" cy="187.3" r="1.9"/><circle cx="1014.0" cy="190.1" r="1.9"/><circle cx="1020.6" cy="191.0" r="1.9"/><circle cx="1029.5" cy="190.1" r="1.9"/><circle cx="1055.7" cy="189.7" r="1.9"/><circle cx="1040.2" cy="192.2" r="1.9"/><circle cx="1075.7" cy="191.4" r="1.9"/><circle cx="1077.9" cy="193.8" r="1.9"/><circle cx="1081.9" cy="188.9" r="1.9"/><circle cx="1052.2" cy="196.3" r="1.9"/><circle cx="1052.6" cy="199.9" r="1.9"/><circle cx="1056.2" cy="202.0" r="1.9"/><circle cx="1058.4" cy="204.0" r="1.9"/><circle cx="1022.0" cy="202.4" r="1.9"/><circle cx="1046.8" cy="204.8" r="1.9"/><circle cx="1063.3" cy="206.0" r="1.9"/><circle cx="1014.4" cy="205.2" r="1.9"/><circle cx="1011.7" cy="207.2" r="1.9"/><circle cx="1020.6" cy="210.1" r="1.9"/><circle cx="1033.9" cy="216.2" r="1.9"/><circle cx="1123.7" cy="207.2" r="1.9"/><circle cx="1076.6" cy="153.1" r="1.9"/><circle cx="1097.9" cy="160.0" r="1.9"/><circle cx="1125.9" cy="153.5" r="1.9"/><circle cx="1134.3" cy="151.5" r="1.9"/><circle cx="1138.8" cy="151.5" r="1.9"/><circle cx="1105.0" cy="168.6" r="1.9"/><circle cx="1085.5" cy="173.0" r="1.9"/><circle cx="1073.5" cy="177.5" r="1.9"/><circle cx="1064.2" cy="181.2" r="1.9"/><circle cx="1122.4" cy="174.3" r="1.9"/><circle cx="1125.5" cy="175.1" r="1.9"/><circle cx="1130.3" cy="177.9" r="1.9"/><circle cx="1132.6" cy="179.6" r="1.9"/><circle cx="1137.9" cy="182.4" r="1.9"/><circle cx="1141.5" cy="180.0" r="1.9"/><circle cx="1099.7" cy="189.7" r="1.9"/><circle cx="1131.7" cy="188.9" r="1.9"/><circle cx="1133.0" cy="192.6" r="1.9"/><circle cx="1087.7" cy="197.5" r="1.9"/><circle cx="1086.4" cy="200.3" r="1.9"/><circle cx="1079.7" cy="201.5" r="1.9"/><circle cx="1097.9" cy="203.2" r="1.9"/><circle cx="1108.6" cy="202.0" r="1.9"/><circle cx="1137.9" cy="199.9" r="1.9"/><circle cx="1074.8" cy="204.8" r="1.9"/><circle cx="1074.4" cy="207.7" r="1.9"/><circle cx="1042.8" cy="209.3" r="1.9"/><circle cx="1049.9" cy="208.9" r="1.9"/><circle cx="1057.0" cy="211.7" r="1.9"/><circle cx="1059.7" cy="214.6" r="1.9"/><circle cx="1061.9" cy="217.0" r="1.9"/><circle cx="1073.5" cy="212.5" r="1.9"/><circle cx="1075.7" cy="215.4" r="1.9"/><circle cx="1088.1" cy="214.2" r="1.9"/><circle cx="1091.3" cy="215.4" r="1.9"/><circle cx="1099.7" cy="215.0" r="1.9"/><circle cx="1103.7" cy="211.3" r="1.9"/><circle cx="1056.6" cy="219.9" r="1.9"/><circle cx="1067.7" cy="220.7" r="1.9"/><circle cx="1081.0" cy="220.3" r="1.9"/><circle cx="1092.6" cy="220.3" r="1.9"/><circle cx="1105.0" cy="220.3" r="1.9"/><circle cx="1109.5" cy="220.7" r="1.9"/><circle cx="1129.0" cy="217.0" r="1.9"/><circle cx="1131.7" cy="219.9" r="1.9"/><circle cx="1086.4" cy="224.8" r="1.9"/><circle cx="1092.6" cy="225.2" r="1.9"/><circle cx="1048.2" cy="225.6" r="1.9"/><circle cx="1034.8" cy="196.1" r="1.9"/><circle cx="1041.9" cy="218.2" r="1.9"/><circle cx="1046.8" cy="229.8" r="1.9"/><circle cx="1083.7" cy="229.3" r="1.9"/><circle cx="1083.3" cy="232.2" r="1.9"/><circle cx="1075.3" cy="233.8" r="1.9"/><circle cx="1075.3" cy="236.7" r="1.9"/><circle cx="1075.7" cy="239.5" r="1.9"/><circle cx="1088.1" cy="233.4" r="1.9"/><circle cx="1085.9" cy="235.9" r="1.9"/><circle cx="1083.7" cy="238.3" r="1.9"/><circle cx="1090.8" cy="237.9" r="1.9"/><circle cx="1093.0" cy="239.9" r="1.9"/><circle cx="1105.0" cy="231.4" r="1.9"/><circle cx="1127.7" cy="229.3" r="1.9"/><circle cx="1135.7" cy="228.1" r="1.9"/><circle cx="1142.3" cy="228.5" r="1.9"/><circle cx="1123.7" cy="233.4" r="1.9"/><circle cx="1123.2" cy="236.3" r="1.9"/><circle cx="1141.0" cy="236.3" r="1.9"/><circle cx="1118.8" cy="238.7" r="1.9"/><circle cx="1112.6" cy="240.3" r="1.9"/><circle cx="1133.5" cy="238.7" r="1.9"/><circle cx="1117.9" cy="243.2" r="1.9"/><circle cx="1137.9" cy="243.2" r="1.9"/><circle cx="1127.7" cy="243.6" r="1.9"/><circle cx="1125.5" cy="245.6" r="1.9"/><circle cx="1101.9" cy="246.0" r="1.9"/><circle cx="1106.4" cy="246.0" r="1.9"/><circle cx="1128.1" cy="247.3" r="1.9"/><circle cx="1131.7" cy="246.5" r="1.9"/><circle cx="1119.7" cy="249.3" r="1.9"/><circle cx="1126.8" cy="249.7" r="1.9"/><circle cx="1130.3" cy="249.7" r="1.9"/><circle cx="1136.6" cy="250.9" r="1.9"/><circle cx="1128.1" cy="252.6" r="1.9"/><circle cx="1121.5" cy="254.2" r="1.9"/><circle cx="1096.6" cy="261.5" r="1.9"/><circle cx="1102.8" cy="260.7" r="1.9"/><circle cx="1056.6" cy="278.2" r="1.9"/><circle cx="1029.5" cy="240.7" r="1.9"/><circle cx="1036.6" cy="238.3" r="1.9"/><circle cx="1044.6" cy="275.1" r="1.9"/><circle cx="1103.2" cy="310.6" r="1.9"/><circle cx="1113.5" cy="310.8" r="1.9"/><circle cx="1116.1" cy="318.9" r="1.9"/><circle cx="1119.7" cy="318.9" r="1.9"/><circle cx="1126.3" cy="322.6" r="1.9"/><circle cx="1131.7" cy="322.6" r="1.9"/><circle cx="1135.2" cy="322.6" r="1.9"/><circle cx="1143.7" cy="300.6" r="1.9"/><circle cx="1148.6" cy="294.5" r="1.9"/><circle cx="1148.6" cy="309.2" r="1.9"/><circle cx="1134.3" cy="292.9" r="1.9"/><circle cx="1137.5" cy="295.7" r="1.9"/><circle cx="1145.5" cy="313.2" r="1.9"/><circle cx="1144.1" cy="315.7" r="1.9"/><circle cx="1179.2" cy="227.7" r="1.9"/><circle cx="1189.4" cy="227.7" r="1.9"/><circle cx="1198.7" cy="226.5" r="1.9"/><circle cx="1169.9" cy="249.5" r="1.9"/><circle cx="1173.0" cy="257.9" r="1.9"/><circle cx="1209.4" cy="226.9" r="1.9"/><circle cx="1219.2" cy="230.2" r="1.9"/><circle cx="1247.6" cy="222.4" r="1.9"/><circle cx="1241.4" cy="226.1" r="1.9"/><circle cx="1244.9" cy="226.1" r="1.9"/><circle cx="1248.5" cy="230.6" r="1.9"/><circle cx="1243.2" cy="233.0" r="1.9"/><circle cx="1258.7" cy="227.3" r="1.9"/><circle cx="1259.6" cy="231.4" r="1.9"/><circle cx="1265.4" cy="227.3" r="1.9"/><circle cx="1205.4" cy="236.3" r="1.9"/><circle cx="1212.9" cy="240.3" r="1.9"/><circle cx="1228.5" cy="237.3" r="1.9"/><circle cx="1239.6" cy="238.1" r="1.9"/><circle cx="1249.8" cy="237.9" r="1.9"/><circle cx="1208.3" cy="246.9" r="1.9"/><circle cx="1189.0" cy="258.3" r="1.9"/><circle cx="1184.5" cy="261.1" r="1.9"/><circle cx="1186.3" cy="271.7" r="1.9"/><circle cx="1189.0" cy="277.0" r="1.9"/><circle cx="1205.4" cy="278.2" r="1.9"/><circle cx="1197.8" cy="279.4" r="1.9"/><circle cx="1194.7" cy="283.5" r="1.9"/><circle cx="1198.7" cy="283.1" r="1.9"/><circle cx="1211.6" cy="285.4" r="1.9"/><circle cx="1196.5" cy="289.5" r="1.9"/><circle cx="1183.2" cy="246.0" r="1.9"/><circle cx="1192.5" cy="246.6" r="1.9"/><circle cx="1202.7" cy="250.1" r="1.9"/><circle cx="1201.4" cy="253.0" r="1.9"/><circle cx="1148.5" cy="322.6" r="1.9"/><circle cx="1176.1" cy="260.9" r="1.9"/><circle cx="1203.6" cy="259.9" r="1.9"/><circle cx="1182.3" cy="268.4" r="1.9"/><circle cx="1186.7" cy="277.0" r="1.9"/><circle cx="1155.6" cy="283.8" r="1.9"/><circle cx="1161.9" cy="288.8" r="1.9"/><circle cx="1159.6" cy="291.3" r="1.9"/><circle cx="1181.8" cy="290.4" r="1.9"/><circle cx="1167.6" cy="295.7" r="1.9"/><circle cx="1165.0" cy="297.8" r="1.9"/><circle cx="1158.3" cy="299.6" r="1.9"/><circle cx="1191.2" cy="301.8" r="1.9"/><circle cx="1185.8" cy="304.3" r="1.9"/><circle cx="1182.7" cy="306.3" r="1.9"/><circle cx="1180.1" cy="308.8" r="1.9"/><circle cx="1168.5" cy="305.5" r="1.9"/><circle cx="1153.4" cy="308.4" r="1.9"/><circle cx="1156.5" cy="307.5" r="1.9"/><circle cx="1159.6" cy="309.6" r="1.9"/><circle cx="1154.7" cy="313.7" r="1.9"/><circle cx="1155.6" cy="319.4" r="1.9"/><circle cx="1222.2" cy="129.2" r="1.9"/><circle cx="1230.9" cy="136.2" r="1.9"/><circle cx="1236.4" cy="144.2" r="1.9"/><circle cx="1225.5" cy="147.2" r="1.9"/><circle cx="1220.0" cy="139.2" r="1.9"/><circle cx="1106.6" cy="216.2" r="1.9"/><circle cx="1113.1" cy="223.2" r="1.9"/><circle cx="1108.7" cy="231.2" r="1.9"/><circle cx="1116.4" cy="235.2" r="1.9"/><circle cx="1224.4" cy="217.2" r="1.9"/><circle cx="1232.0" cy="225.2" r="1.9"/><circle cx="1227.6" cy="233.2" r="1.9"/><circle cx="1235.3" cy="237.2" r="1.9"/><circle cx="959.3" cy="176.2" r="1.9"/><circle cx="962.6" cy="187.2" r="1.9"/><circle cx="1108.7" cy="106.2" r="1.9"/><circle cx="1114.2" cy="116.2" r="1.9"/>
</g>
<circle cx="944.7" cy="170.8" r="2.1" fill="#d42a25"/>
<circle cx="950.8" cy="204.2" r="2.1" fill="#6e0a0c"/>
<circle cx="945.5" cy="209.7" r="2.1" fill="#6e0a0c"/>
<circle cx="941.6" cy="208.9" r="2.1" fill="#d42a25"/>
<circle cx="936.3" cy="219.5" r="2.1" fill="#d42a25"/>
<circle cx="957.9" cy="221.6" r="2.4" fill="#d04020"/>
<circle cx="959.5" cy="223.4" r="2.0" fill="#d04020"/>
<circle cx="1104.7" cy="220.5" r="2.1" fill="#d42a25"/>
<g fill="#cacaca">
<circle cx="1332.8" cy="130.8" r="1.9"/><circle cx="1356.2" cy="133.5" r="1.9"/><circle cx="1326.0" cy="133.9" r="1.9"/><circle cx="1323.9" cy="137.2" r="1.9"/><circle cx="1329.0" cy="138.0" r="1.9"/><circle cx="1333.2" cy="139.3" r="1.9"/><circle cx="1343.9" cy="134.7" r="1.9"/><circle cx="1341.3" cy="138.9" r="1.9"/><circle cx="1315.4" cy="140.9" r="1.9"/><circle cx="1320.5" cy="144.7" r="1.9"/><circle cx="1334.9" cy="144.7" r="1.9"/><circle cx="1341.3" cy="146.7" r="1.9"/><circle cx="1329.0" cy="147.2" r="1.9"/><circle cx="1318.8" cy="147.2" r="1.9"/><circle cx="1321.3" cy="148.8" r="1.9"/><circle cx="1347.3" cy="147.2" r="1.9"/><circle cx="1352.8" cy="145.9" r="1.9"/><circle cx="1330.3" cy="151.3" r="1.9"/><circle cx="1351.1" cy="152.1" r="1.9"/><circle cx="1311.5" cy="152.9" r="1.9"/><circle cx="1332.4" cy="154.2" r="1.9"/><circle cx="1337.5" cy="154.2" r="1.9"/><circle cx="1334.9" cy="157.1" r="1.9"/><circle cx="1324.7" cy="155.0" r="1.9"/><circle cx="1322.2" cy="156.7" r="1.9"/><circle cx="1346.4" cy="156.7" r="1.9"/><circle cx="1344.7" cy="159.2" r="1.9"/><circle cx="1354.1" cy="160.6" r="1.9"/><circle cx="1347.3" cy="163.3" r="1.9"/><circle cx="1340.5" cy="162.6" r="1.9"/><circle cx="1334.9" cy="163.3" r="1.9"/><circle cx="1337.1" cy="167.3" r="1.9"/><circle cx="1360.9" cy="163.1" r="1.9"/><circle cx="1365.6" cy="169.1" r="1.9"/><circle cx="1375.8" cy="175.3" r="1.9"/><circle cx="1383.0" cy="178.4" r="1.9"/><circle cx="1378.3" cy="142.4" r="1.9"/><circle cx="1419.0" cy="141.6" r="1.9"/><circle cx="1428.5" cy="146.9" r="1.9"/><circle cx="1414.9" cy="148.0" r="1.9"/><circle cx="1417.9" cy="150.9" r="1.9"/><circle cx="1414.9" cy="153.8" r="1.9"/><circle cx="1408.1" cy="160.8" r="1.9"/><circle cx="1417.0" cy="161.0" r="1.9"/><circle cx="1430.7" cy="162.5" r="1.9"/><circle cx="1422.1" cy="165.8" r="1.9"/><circle cx="1409.4" cy="167.8" r="1.9"/><circle cx="1422.6" cy="170.3" r="1.9"/><circle cx="1431.1" cy="170.9" r="1.9"/><circle cx="1408.1" cy="172.6" r="1.9"/><circle cx="1424.7" cy="174.0" r="1.9"/><circle cx="1422.1" cy="176.5" r="1.9"/><circle cx="1434.9" cy="175.7" r="1.9"/><circle cx="1406.8" cy="177.4" r="1.9"/><circle cx="1416.2" cy="177.4" r="1.9"/><circle cx="1399.6" cy="179.0" r="1.9"/><circle cx="1403.4" cy="181.5" r="1.9"/><circle cx="1413.6" cy="181.9" r="1.9"/><circle cx="1410.7" cy="184.4" r="1.9"/><circle cx="1427.7" cy="184.8" r="1.9"/><circle cx="1400.5" cy="186.9" r="1.9"/><circle cx="1408.5" cy="188.5" r="1.9"/><circle cx="1426.0" cy="187.7" r="1.9"/><circle cx="1417.9" cy="191.0" r="1.9"/><circle cx="1414.9" cy="192.3" r="1.9"/><circle cx="1407.7" cy="194.3" r="1.9"/><circle cx="1412.4" cy="195.6" r="1.9"/><circle cx="1430.7" cy="193.5" r="1.9"/><circle cx="1411.9" cy="199.7" r="1.9"/><circle cx="1397.0" cy="200.1" r="1.9"/><circle cx="1425.6" cy="200.1" r="1.9"/><circle cx="1428.1" cy="201.2" r="1.9"/><circle cx="1438.3" cy="199.7" r="1.9"/><circle cx="1437.5" cy="204.7" r="1.9"/><circle cx="1438.7" cy="186.5" r="1.9"/><circle cx="1438.7" cy="163.3" r="1.9"/><circle cx="1426.0" cy="212.9" r="1.9"/><circle cx="1431.5" cy="214.6" r="1.9"/><circle cx="1436.2" cy="214.6" r="1.9"/><circle cx="1439.2" cy="125.6" r="1.9"/><circle cx="1381.3" cy="209.6" r="1.9"/><circle cx="1371.9" cy="212.9" r="1.9"/><circle cx="1376.2" cy="213.8" r="1.9"/><circle cx="1376.6" cy="218.7" r="1.9"/><circle cx="1381.3" cy="219.2" r="1.9"/><circle cx="1366.8" cy="224.1" r="1.9"/><circle cx="1364.7" cy="225.8" r="1.9"/><circle cx="1373.2" cy="224.9" r="1.9"/><circle cx="1376.2" cy="225.8" r="1.9"/><circle cx="1387.3" cy="226.2" r="1.9"/><circle cx="1389.4" cy="227.8" r="1.9"/><circle cx="1433.2" cy="159.8" r="1.9"/><circle cx="1541.2" cy="56.1" r="1.9"/><circle cx="1550.6" cy="58.3" r="1.9"/><circle cx="1541.2" cy="61.2" r="1.9"/><circle cx="1537.0" cy="69.5" r="1.9"/><circle cx="1541.7" cy="71.5" r="1.9"/><circle cx="1565.9" cy="111.3" r="1.9"/><circle cx="1566.8" cy="118.3" r="1.9"/><circle cx="1562.9" cy="123.3" r="1.9"/><circle cx="1553.1" cy="51.4" r="1.9"/><circle cx="1562.1" cy="51.4" r="1.9"/><circle cx="1567.6" cy="57.5" r="1.9"/><circle cx="1562.1" cy="60.8" r="1.9"/><circle cx="1566.3" cy="60.4" r="1.9"/><circle cx="1569.3" cy="62.0" r="1.9"/><circle cx="1551.0" cy="65.7" r="1.9"/><circle cx="1566.3" cy="65.7" r="1.9"/><circle cx="1561.2" cy="69.1" r="1.9"/><circle cx="1550.2" cy="72.4" r="1.9"/><circle cx="1548.9" cy="76.1" r="1.9"/><circle cx="1550.6" cy="78.2" r="1.9"/><circle cx="1544.6" cy="79.2" r="1.9"/><circle cx="1557.4" cy="78.6" r="1.9"/><circle cx="1554.9" cy="81.1" r="1.9"/><circle cx="1540.8" cy="86.4" r="1.9"/><circle cx="1550.6" cy="87.7" r="1.9"/><circle cx="1535.3" cy="91.0" r="1.9"/><circle cx="1551.9" cy="93.1" r="1.9"/><circle cx="1564.6" cy="89.2" r="1.9"/><circle cx="1534.0" cy="99.7" r="1.9"/><circle cx="1502.1" cy="103.4" r="1.9"/><circle cx="1517.4" cy="108.0" r="1.9"/><circle cx="1515.7" cy="111.7" r="1.9"/><circle cx="1513.6" cy="113.3" r="1.9"/><circle cx="1491.5" cy="109.6" r="1.9"/><circle cx="1488.1" cy="115.4" r="1.9"/><circle cx="1490.6" cy="117.5" r="1.9"/><circle cx="1510.2" cy="119.1" r="1.9"/><circle cx="1525.5" cy="116.4" r="1.9"/><circle cx="1540.0" cy="110.0" r="1.9"/><circle cx="1535.7" cy="120.4" r="1.9"/><circle cx="1534.0" cy="123.3" r="1.9"/><circle cx="1491.0" cy="124.1" r="1.9"/><circle cx="1491.9" cy="127.0" r="1.9"/><circle cx="1458.7" cy="129.1" r="1.9"/><circle cx="1460.4" cy="131.1" r="1.9"/><circle cx="1467.2" cy="133.6" r="1.9"/><circle cx="1554.9" cy="131.1" r="1.9"/><circle cx="1560.0" cy="120.8" r="1.9"/><circle cx="1479.6" cy="134.4" r="1.9"/><circle cx="1494.9" cy="134.4" r="1.9"/><circle cx="1486.8" cy="93.9" r="1.9"/><circle cx="1463.4" cy="104.6" r="1.9"/><circle cx="1466.8" cy="103.4" r="1.9"/><circle cx="1469.8" cy="103.0" r="1.9"/><circle cx="1478.7" cy="102.6" r="1.9"/><circle cx="1480.8" cy="108.4" r="1.9"/><circle cx="1442.1" cy="122.9" r="1.9"/><circle cx="1474.0" cy="127.8" r="1.9"/><circle cx="1490.6" cy="134.0" r="1.9"/><circle cx="1500.4" cy="129.2" r="1.9"/><circle cx="1542.9" cy="124.9" r="1.9"/><circle cx="1566.8" cy="129.9" r="1.9"/><circle cx="1577.4" cy="79.8" r="1.9"/><circle cx="1579.9" cy="86.2" r="1.9"/><circle cx="1614.4" cy="96.0" r="1.9"/><circle cx="1614.8" cy="99.3" r="1.9"/><circle cx="1614.8" cy="102.6" r="1.9"/><circle cx="1624.2" cy="96.6" r="1.9"/><circle cx="1645.4" cy="92.8" r="1.9"/><circle cx="1575.1" cy="67.7" r="1.9"/><circle cx="1575.9" cy="94.5" r="1.9"/><circle cx="1578.6" cy="98.0" r="1.9"/><circle cx="1575.2" cy="100.8" r="1.9"/><circle cx="1579.9" cy="115.8" r="1.9"/><circle cx="1592.3" cy="114.2" r="1.9"/><circle cx="1599.5" cy="107.4" r="1.9"/><circle cx="1601.2" cy="123.1" r="1.9"/><circle cx="1620.8" cy="122.9" r="1.9"/><circle cx="1575.7" cy="124.9" r="1.9"/><circle cx="1614.4" cy="132.0" r="1.9"/><circle cx="1580.8" cy="104.6" r="1.9"/><circle cx="1579.9" cy="133.2" r="1.9"/><circle cx="1643.3" cy="83.5" r="1.9"/><circle cx="1630.1" cy="89.5" r="1.9"/><circle cx="1659.9" cy="89.7" r="1.9"/><circle cx="1648.0" cy="93.1" r="1.9"/><circle cx="1639.9" cy="95.0" r="1.9"/><circle cx="1653.5" cy="94.7" r="1.9"/><circle cx="1631.8" cy="95.5" r="1.9"/><circle cx="1629.7" cy="98.4" r="1.9"/><circle cx="1624.6" cy="102.6" r="1.9"/><circle cx="1622.0" cy="105.1" r="1.9"/><circle cx="1624.6" cy="107.1" r="1.9"/><circle cx="1645.4" cy="101.1" r="1.9"/><circle cx="1642.9" cy="103.0" r="1.9"/><circle cx="1653.5" cy="100.1" r="1.9"/><circle cx="1656.9" cy="101.3" r="1.9"/><circle cx="1664.6" cy="102.4" r="1.9"/><circle cx="1654.4" cy="105.5" r="1.9"/><circle cx="1648.8" cy="106.3" r="1.9"/><circle cx="1672.7" cy="105.9" r="1.9"/><circle cx="1632.7" cy="109.4" r="1.9"/><circle cx="1627.6" cy="111.7" r="1.9"/><circle cx="1637.4" cy="111.8" r="1.9"/><circle cx="1650.5" cy="112.1" r="1.9"/><circle cx="1657.3" cy="112.7" r="1.9"/><circle cx="1651.8" cy="115.4" r="1.9"/><circle cx="1680.7" cy="110.0" r="1.9"/><circle cx="1685.0" cy="110.9" r="1.9"/><circle cx="1684.6" cy="114.6" r="1.9"/><circle cx="1630.1" cy="117.1" r="1.9"/><circle cx="1631.8" cy="120.4" r="1.9"/><circle cx="1655.6" cy="120.6" r="1.9"/><circle cx="1684.6" cy="120.0" r="1.9"/><circle cx="1680.7" cy="122.4" r="1.9"/><circle cx="1573.5" cy="106.3" r="1.9"/><circle cx="1575.2" cy="116.2" r="1.9"/><circle cx="1609.3" cy="120.8" r="1.9"/><circle cx="1578.2" cy="123.7" r="1.9"/><circle cx="1663.7" cy="127.0" r="1.9"/><circle cx="1626.7" cy="127.8" r="1.9"/><circle cx="1627.1" cy="130.7" r="1.9"/><circle cx="1586.7" cy="132.0" r="1.9"/><circle cx="1637.4" cy="130.7" r="1.9"/><circle cx="1656.1" cy="130.7" r="1.9"/><circle cx="1650.1" cy="133.2" r="1.9"/><circle cx="1670.5" cy="133.2" r="1.9"/><circle cx="1639.1" cy="134.1" r="1.9"/><circle cx="1659.5" cy="135.8" r="1.9"/><circle cx="1663.7" cy="136.2" r="1.9"/><circle cx="1672.2" cy="137.4" r="1.9"/><circle cx="1673.9" cy="139.5" r="1.9"/><circle cx="1690.5" cy="138.3" r="1.9"/><circle cx="1591.4" cy="140.3" r="1.9"/><circle cx="1595.7" cy="141.2" r="1.9"/><circle cx="1594.4" cy="144.9" r="1.9"/><circle cx="1622.5" cy="138.7" r="1.9"/><circle cx="1630.5" cy="142.8" r="1.9"/><circle cx="1606.7" cy="144.1" r="1.9"/><circle cx="1611.8" cy="147.4" r="1.9"/><circle cx="1624.6" cy="147.4" r="1.9"/><circle cx="1629.7" cy="148.6" r="1.9"/><circle cx="1633.9" cy="148.2" r="1.9"/><circle cx="1636.9" cy="145.7" r="1.9"/><circle cx="1639.9" cy="147.0" r="1.9"/><circle cx="1647.6" cy="143.7" r="1.9"/><circle cx="1655.2" cy="142.8" r="1.9"/><circle cx="1657.3" cy="144.5" r="1.9"/><circle cx="1659.5" cy="148.2" r="1.9"/><circle cx="1651.8" cy="150.3" r="1.9"/><circle cx="1585.3" cy="147.6" r="1.9"/><circle cx="1598.2" cy="149.9" r="1.9"/><circle cx="1603.3" cy="152.8" r="1.9"/><circle cx="1677.3" cy="151.5" r="1.9"/><circle cx="1664.6" cy="154.4" r="1.9"/><circle cx="1571.8" cy="156.9" r="1.9"/><circle cx="1616.1" cy="158.1" r="1.9"/><circle cx="1605.4" cy="158.1" r="1.9"/><circle cx="1605.0" cy="161.4" r="1.9"/><circle cx="1645.9" cy="157.3" r="1.9"/><circle cx="1650.1" cy="159.8" r="1.9"/><circle cx="1654.4" cy="159.0" r="1.9"/><circle cx="1657.3" cy="161.0" r="1.9"/><circle cx="1662.0" cy="162.3" r="1.9"/><circle cx="1680.7" cy="159.0" r="1.9"/><circle cx="1684.2" cy="156.9" r="1.9"/><circle cx="1594.8" cy="160.6" r="1.9"/><circle cx="1600.8" cy="161.4" r="1.9"/><circle cx="1591.4" cy="163.5" r="1.9"/><circle cx="1598.6" cy="165.6" r="1.9"/><circle cx="1594.0" cy="168.1" r="1.9"/><circle cx="1610.6" cy="166.0" r="1.9"/><circle cx="1613.5" cy="168.9" r="1.9"/><circle cx="1620.3" cy="171.4" r="1.9"/><circle cx="1617.8" cy="173.5" r="1.9"/><circle cx="1638.6" cy="165.6" r="1.9"/><circle cx="1641.6" cy="166.4" r="1.9"/><circle cx="1645.4" cy="163.1" r="1.9"/><circle cx="1654.4" cy="164.3" r="1.9"/><circle cx="1668.4" cy="165.6" r="1.9"/><circle cx="1666.7" cy="168.1" r="1.9"/><circle cx="1686.7" cy="164.8" r="1.9"/><circle cx="1648.8" cy="168.9" r="1.9"/><circle cx="1633.1" cy="171.4" r="1.9"/><circle cx="1582.0" cy="172.6" r="1.9"/><circle cx="1589.3" cy="173.0" r="1.9"/><circle cx="1579.1" cy="179.7" r="1.9"/><circle cx="1595.2" cy="182.6" r="1.9"/><circle cx="1606.3" cy="186.7" r="1.9"/><circle cx="1617.4" cy="205.7" r="1.9"/><circle cx="1571.4" cy="141.0" r="1.9"/><circle cx="1602.5" cy="138.7" r="1.9"/><circle cx="1627.1" cy="139.1" r="1.9"/><circle cx="1667.1" cy="154.8" r="1.9"/><circle cx="1675.6" cy="163.5" r="1.9"/><circle cx="1659.0" cy="166.0" r="1.9"/><circle cx="1657.3" cy="168.9" r="1.9"/><circle cx="1658.6" cy="173.9" r="1.9"/><circle cx="1687.1" cy="178.0" r="1.9"/><circle cx="1648.8" cy="182.1" r="1.9"/><circle cx="1657.8" cy="189.6" r="1.9"/><circle cx="1660.8" cy="192.1" r="1.9"/><circle cx="1663.7" cy="193.3" r="1.9"/><circle cx="1651.8" cy="197.5" r="1.9"/><circle cx="1627.6" cy="203.2" r="1.9"/><circle cx="1662.0" cy="202.4" r="1.9"/><circle cx="1665.9" cy="204.1" r="1.9"/><circle cx="1650.1" cy="204.9" r="1.9"/><circle cx="1653.1" cy="206.1" r="1.9"/><circle cx="1622.9" cy="206.6" r="1.9"/><circle cx="1644.2" cy="208.6" r="1.9"/><circle cx="1661.6" cy="208.2" r="1.9"/><circle cx="1672.7" cy="208.6" r="1.9"/><circle cx="1656.9" cy="210.7" r="1.9"/><circle cx="1619.1" cy="210.7" r="1.9"/><circle cx="1582.5" cy="204.1" r="1.9"/><circle cx="1581.6" cy="208.6" r="1.9"/><circle cx="1591.0" cy="211.1" r="1.9"/><circle cx="1624.6" cy="213.2" r="1.9"/><circle cx="1632.7" cy="214.0" r="1.9"/><circle cx="1647.6" cy="213.2" r="1.9"/><circle cx="1651.0" cy="212.4" r="1.9"/><circle cx="1663.7" cy="212.8" r="1.9"/><circle cx="1671.8" cy="215.2" r="1.9"/><circle cx="1682.4" cy="214.0" r="1.9"/><circle cx="1595.2" cy="214.0" r="1.9"/><circle cx="1598.2" cy="215.2" r="1.9"/><circle cx="1620.3" cy="216.5" r="1.9"/><circle cx="1622.9" cy="220.2" r="1.9"/><circle cx="1620.3" cy="222.3" r="1.9"/><circle cx="1616.9" cy="225.6" r="1.9"/><circle cx="1632.7" cy="224.4" r="1.9"/><circle cx="1658.6" cy="218.1" r="1.9"/><circle cx="1655.2" cy="220.6" r="1.9"/><circle cx="1667.6" cy="221.9" r="1.9"/><circle cx="1665.4" cy="224.8" r="1.9"/><circle cx="1675.2" cy="223.1" r="1.9"/><circle cx="1677.3" cy="225.2" r="1.9"/><circle cx="1685.0" cy="220.2" r="1.9"/><circle cx="1690.1" cy="226.8" r="1.9"/><circle cx="1588.9" cy="222.7" r="1.9"/><circle cx="1647.6" cy="227.7" r="1.9"/><circle cx="1639.9" cy="229.3" r="1.9"/><circle cx="1662.0" cy="228.9" r="1.9"/><circle cx="1672.2" cy="229.7" r="1.9"/><circle cx="1622.5" cy="229.7" r="1.9"/><circle cx="1581.6" cy="135.8" r="1.9"/><circle cx="1602.0" cy="173.5" r="1.9"/><circle cx="1606.3" cy="173.5" r="1.9"/><circle cx="1609.3" cy="173.9" r="1.9"/><circle cx="1589.7" cy="180.9" r="1.9"/><circle cx="1579.9" cy="185.0" r="1.9"/><circle cx="1569.7" cy="187.5" r="1.9"/><circle cx="1571.0" cy="190.0" r="1.9"/><circle cx="1576.9" cy="192.9" r="1.9"/><circle cx="1579.9" cy="191.7" r="1.9"/><circle cx="1568.4" cy="195.8" r="1.9"/><circle cx="1568.0" cy="204.1" r="1.9"/><circle cx="1577.4" cy="205.3" r="1.9"/><circle cx="1584.6" cy="226.4" r="1.9"/><circle cx="1605.9" cy="226.0" r="1.9"/><circle cx="1609.3" cy="226.4" r="1.9"/><circle cx="1607.6" cy="229.3" r="1.9"/><circle cx="1613.1" cy="229.7" r="1.9"/><circle cx="1571.0" cy="212.4" r="1.9"/><circle cx="1630.1" cy="187.9" r="1.9"/><circle cx="1632.2" cy="190.4" r="1.9"/><circle cx="1451.0" cy="137.0" r="1.9"/><circle cx="1448.9" cy="139.1" r="1.9"/><circle cx="1456.2" cy="138.7" r="1.9"/><circle cx="1477.4" cy="137.9" r="1.9"/><circle cx="1475.3" cy="140.3" r="1.9"/><circle cx="1471.5" cy="138.7" r="1.9"/><circle cx="1465.1" cy="141.6" r="1.9"/><circle cx="1471.9" cy="145.3" r="1.9"/><circle cx="1472.7" cy="148.2" r="1.9"/><circle cx="1460.8" cy="151.5" r="1.9"/><circle cx="1514.9" cy="142.8" r="1.9"/><circle cx="1529.8" cy="130.8" r="1.9"/><circle cx="1465.5" cy="160.6" r="1.9"/><circle cx="1485.5" cy="164.8" r="1.9"/><circle cx="1446.4" cy="178.4" r="1.9"/><circle cx="1493.2" cy="137.4" r="1.9"/><circle cx="1497.0" cy="138.7" r="1.9"/><circle cx="1486.4" cy="142.8" r="1.9"/><circle cx="1490.6" cy="143.2" r="1.9"/><circle cx="1487.6" cy="147.0" r="1.9"/><circle cx="1494.0" cy="148.2" r="1.9"/><circle cx="1445.9" cy="141.6" r="1.9"/><circle cx="1451.5" cy="149.0" r="1.9"/><circle cx="1449.3" cy="150.7" r="1.9"/><circle cx="1470.2" cy="149.9" r="1.9"/><circle cx="1501.7" cy="150.7" r="1.9"/><circle cx="1524.2" cy="148.2" r="1.9"/><circle cx="1528.9" cy="151.1" r="1.9"/><circle cx="1477.0" cy="156.5" r="1.9"/><circle cx="1453.6" cy="156.1" r="1.9"/><circle cx="1525.5" cy="158.1" r="1.9"/><circle cx="1452.3" cy="161.4" r="1.9"/><circle cx="1455.7" cy="162.7" r="1.9"/><circle cx="1458.7" cy="164.3" r="1.9"/><circle cx="1461.7" cy="163.5" r="1.9"/><circle cx="1466.8" cy="163.9" r="1.9"/><circle cx="1473.2" cy="162.7" r="1.9"/><circle cx="1462.1" cy="166.4" r="1.9"/><circle cx="1458.7" cy="169.7" r="1.9"/><circle cx="1465.1" cy="168.9" r="1.9"/><circle cx="1514.9" cy="160.2" r="1.9"/><circle cx="1516.1" cy="163.1" r="1.9"/><circle cx="1505.9" cy="169.7" r="1.9"/><circle cx="1502.5" cy="172.2" r="1.9"/><circle cx="1466.8" cy="179.7" r="1.9"/><circle cx="1445.1" cy="180.9" r="1.9"/><circle cx="1458.3" cy="182.6" r="1.9"/><circle cx="1444.7" cy="187.5" r="1.9"/><circle cx="1469.8" cy="191.7" r="1.9"/><circle cx="1471.9" cy="194.1" r="1.9"/><circle cx="1444.7" cy="192.5" r="1.9"/><circle cx="1441.7" cy="195.4" r="1.9"/><circle cx="1448.1" cy="196.2" r="1.9"/><circle cx="1456.6" cy="195.4" r="1.9"/><circle cx="1481.7" cy="195.0" r="1.9"/><circle cx="1466.8" cy="197.5" r="1.9"/><circle cx="1500.8" cy="196.6" r="1.9"/><circle cx="1502.9" cy="199.1" r="1.9"/><circle cx="1506.8" cy="194.1" r="1.9"/><circle cx="1478.3" cy="201.6" r="1.9"/><circle cx="1478.7" cy="205.3" r="1.9"/><circle cx="1482.1" cy="207.4" r="1.9"/><circle cx="1484.2" cy="209.5" r="1.9"/><circle cx="1449.3" cy="207.8" r="1.9"/><circle cx="1473.2" cy="210.3" r="1.9"/><circle cx="1488.9" cy="211.5" r="1.9"/><circle cx="1442.1" cy="210.7" r="1.9"/><circle cx="1439.6" cy="212.8" r="1.9"/><circle cx="1448.1" cy="215.7" r="1.9"/><circle cx="1460.8" cy="221.9" r="1.9"/><circle cx="1546.8" cy="212.8" r="1.9"/><circle cx="1501.7" cy="157.7" r="1.9"/><circle cx="1522.1" cy="164.8" r="1.9"/><circle cx="1548.9" cy="158.1" r="1.9"/><circle cx="1557.0" cy="156.1" r="1.9"/><circle cx="1561.2" cy="156.1" r="1.9"/><circle cx="1528.9" cy="173.5" r="1.9"/><circle cx="1510.2" cy="178.0" r="1.9"/><circle cx="1498.7" cy="182.6" r="1.9"/><circle cx="1489.8" cy="186.3" r="1.9"/><circle cx="1545.5" cy="179.2" r="1.9"/><circle cx="1548.5" cy="180.1" r="1.9"/><circle cx="1553.1" cy="183.0" r="1.9"/><circle cx="1555.3" cy="184.6" r="1.9"/><circle cx="1560.4" cy="187.5" r="1.9"/><circle cx="1563.8" cy="185.0" r="1.9"/><circle cx="1523.8" cy="195.0" r="1.9"/><circle cx="1554.4" cy="194.1" r="1.9"/><circle cx="1555.7" cy="197.9" r="1.9"/><circle cx="1512.3" cy="202.8" r="1.9"/><circle cx="1511.0" cy="205.7" r="1.9"/><circle cx="1504.7" cy="207.0" r="1.9"/><circle cx="1522.1" cy="208.6" r="1.9"/><circle cx="1532.3" cy="207.4" r="1.9"/><circle cx="1560.4" cy="205.3" r="1.9"/><circle cx="1500.0" cy="210.3" r="1.9"/><circle cx="1499.5" cy="213.2" r="1.9"/><circle cx="1469.3" cy="214.8" r="1.9"/><circle cx="1476.1" cy="214.4" r="1.9"/><circle cx="1483.0" cy="217.3" r="1.9"/><circle cx="1485.5" cy="220.2" r="1.9"/><circle cx="1487.6" cy="222.7" r="1.9"/><circle cx="1498.7" cy="218.1" r="1.9"/><circle cx="1500.8" cy="221.0" r="1.9"/><circle cx="1512.7" cy="219.8" r="1.9"/><circle cx="1515.7" cy="221.0" r="1.9"/><circle cx="1523.8" cy="220.6" r="1.9"/><circle cx="1527.6" cy="216.9" r="1.9"/><circle cx="1482.5" cy="225.6" r="1.9"/><circle cx="1493.2" cy="226.4" r="1.9"/><circle cx="1505.9" cy="226.0" r="1.9"/><circle cx="1517.0" cy="226.0" r="1.9"/><circle cx="1528.9" cy="226.0" r="1.9"/><circle cx="1533.2" cy="226.4" r="1.9"/><circle cx="1551.9" cy="222.7" r="1.9"/><circle cx="1554.4" cy="225.6" r="1.9"/><circle cx="1511.0" cy="230.6" r="1.9"/><circle cx="1517.0" cy="231.0" r="1.9"/><circle cx="1474.4" cy="231.4" r="1.9"/><circle cx="1461.7" cy="201.4" r="1.9"/><circle cx="1468.5" cy="223.9" r="1.9"/><circle cx="1473.2" cy="235.6" r="1.9"/><circle cx="1508.5" cy="235.2" r="1.9"/><circle cx="1508.1" cy="238.1" r="1.9"/><circle cx="1500.4" cy="239.8" r="1.9"/><circle cx="1500.4" cy="242.7" r="1.9"/><circle cx="1500.8" cy="245.6" r="1.9"/><circle cx="1512.7" cy="239.4" r="1.9"/><circle cx="1510.6" cy="241.8" r="1.9"/><circle cx="1508.5" cy="244.3" r="1.9"/><circle cx="1515.3" cy="243.9" r="1.9"/><circle cx="1517.4" cy="246.0" r="1.9"/><circle cx="1528.9" cy="237.3" r="1.9"/><circle cx="1550.6" cy="235.2" r="1.9"/><circle cx="1558.3" cy="234.0" r="1.9"/><circle cx="1564.6" cy="234.4" r="1.9"/><circle cx="1546.8" cy="239.4" r="1.9"/><circle cx="1546.3" cy="242.3" r="1.9"/><circle cx="1563.4" cy="242.3" r="1.9"/><circle cx="1542.1" cy="244.7" r="1.9"/><circle cx="1536.1" cy="246.4" r="1.9"/><circle cx="1556.1" cy="244.7" r="1.9"/><circle cx="1541.2" cy="249.3" r="1.9"/><circle cx="1560.4" cy="249.3" r="1.9"/><circle cx="1550.6" cy="249.7" r="1.9"/><circle cx="1548.5" cy="251.8" r="1.9"/><circle cx="1525.9" cy="252.2" r="1.9"/><circle cx="1530.2" cy="252.2" r="1.9"/><circle cx="1551.0" cy="253.4" r="1.9"/><circle cx="1554.4" cy="252.6" r="1.9"/><circle cx="1542.9" cy="255.5" r="1.9"/><circle cx="1549.7" cy="255.9" r="1.9"/><circle cx="1553.1" cy="255.9" r="1.9"/><circle cx="1559.1" cy="257.2" r="1.9"/><circle cx="1551.0" cy="258.8" r="1.9"/><circle cx="1544.6" cy="260.5" r="1.9"/><circle cx="1520.8" cy="267.9" r="1.9"/><circle cx="1526.8" cy="267.1" r="1.9"/><circle cx="1482.5" cy="284.9" r="1.9"/><circle cx="1456.6" cy="246.8" r="1.9"/><circle cx="1463.4" cy="244.3" r="1.9"/><circle cx="1471.0" cy="281.7" r="1.9"/><circle cx="1527.2" cy="317.8" r="1.9"/><circle cx="1537.0" cy="318.0" r="1.9"/><circle cx="1539.5" cy="326.3" r="1.9"/><circle cx="1542.9" cy="326.3" r="1.9"/><circle cx="1549.3" cy="330.0" r="1.9"/><circle cx="1554.4" cy="330.0" r="1.9"/><circle cx="1557.8" cy="330.0" r="1.9"/><circle cx="1565.9" cy="307.6" r="1.9"/><circle cx="1570.6" cy="301.4" r="1.9"/><circle cx="1570.6" cy="316.3" r="1.9"/><circle cx="1557.0" cy="299.8" r="1.9"/><circle cx="1560.0" cy="302.7" r="1.9"/><circle cx="1567.6" cy="320.5" r="1.9"/><circle cx="1566.3" cy="322.9" r="1.9"/><circle cx="1599.9" cy="233.6" r="1.9"/><circle cx="1609.7" cy="233.6" r="1.9"/><circle cx="1618.6" cy="232.3" r="1.9"/><circle cx="1591.0" cy="255.7" r="1.9"/><circle cx="1594.0" cy="264.2" r="1.9"/><circle cx="1628.8" cy="232.7" r="1.9"/><circle cx="1638.2" cy="236.0" r="1.9"/><circle cx="1665.4" cy="228.2" r="1.9"/><circle cx="1659.5" cy="231.9" r="1.9"/><circle cx="1662.9" cy="231.9" r="1.9"/><circle cx="1666.3" cy="236.5" r="1.9"/><circle cx="1661.2" cy="238.9" r="1.9"/><circle cx="1676.1" cy="233.1" r="1.9"/><circle cx="1676.9" cy="237.3" r="1.9"/><circle cx="1682.4" cy="233.1" r="1.9"/><circle cx="1625.0" cy="242.3" r="1.9"/><circle cx="1632.2" cy="246.4" r="1.9"/><circle cx="1647.1" cy="243.3" r="1.9"/><circle cx="1657.8" cy="244.2" r="1.9"/><circle cx="1667.6" cy="243.9" r="1.9"/><circle cx="1627.8" cy="253.0" r="1.9"/><circle cx="1609.3" cy="264.6" r="1.9"/><circle cx="1605.0" cy="267.5" r="1.9"/><circle cx="1606.7" cy="278.3" r="1.9"/><circle cx="1609.3" cy="283.6" r="1.9"/><circle cx="1625.0" cy="284.9" r="1.9"/><circle cx="1617.8" cy="286.1" r="1.9"/><circle cx="1614.8" cy="290.3" r="1.9"/><circle cx="1618.6" cy="289.8" r="1.9"/><circle cx="1631.0" cy="292.2" r="1.9"/><circle cx="1616.5" cy="296.3" r="1.9"/><circle cx="1603.7" cy="252.2" r="1.9"/><circle cx="1612.7" cy="252.8" r="1.9"/><circle cx="1622.5" cy="256.3" r="1.9"/><circle cx="1621.2" cy="259.2" r="1.9"/><circle cx="1570.6" cy="330.0" r="1.9"/><circle cx="1596.9" cy="267.3" r="1.9"/><circle cx="1623.3" cy="266.3" r="1.9"/><circle cx="1602.9" cy="274.9" r="1.9"/><circle cx="1607.1" cy="283.6" r="1.9"/><circle cx="1577.4" cy="290.5" r="1.9"/><circle cx="1583.3" cy="295.6" r="1.9"/><circle cx="1581.2" cy="298.1" r="1.9"/><circle cx="1602.5" cy="297.3" r="1.9"/><circle cx="1588.9" cy="302.7" r="1.9"/><circle cx="1586.3" cy="304.7" r="1.9"/><circle cx="1579.9" cy="306.6" r="1.9"/><circle cx="1611.4" cy="308.9" r="1.9"/><circle cx="1606.3" cy="311.4" r="1.9"/><circle cx="1603.3" cy="313.4" r="1.9"/><circle cx="1600.8" cy="315.9" r="1.9"/><circle cx="1589.7" cy="312.6" r="1.9"/><circle cx="1575.2" cy="315.5" r="1.9"/><circle cx="1578.2" cy="314.7" r="1.9"/><circle cx="1581.2" cy="316.7" r="1.9"/><circle cx="1576.5" cy="320.9" r="1.9"/><circle cx="1577.4" cy="326.7" r="1.9"/><circle cx="1641.1" cy="133.5" r="1.9"/><circle cx="1649.4" cy="140.6" r="1.9"/><circle cx="1654.7" cy="148.7" r="1.9"/><circle cx="1644.2" cy="151.8" r="1.9"/><circle cx="1639.0" cy="143.6" r="1.9"/><circle cx="1530.4" cy="221.9" r="1.9"/><circle cx="1536.6" cy="229.0" r="1.9"/><circle cx="1532.5" cy="237.1" r="1.9"/><circle cx="1539.8" cy="241.2" r="1.9"/><circle cx="1643.2" cy="222.9" r="1.9"/><circle cx="1650.5" cy="231.0" r="1.9"/><circle cx="1646.3" cy="239.1" r="1.9"/><circle cx="1653.6" cy="243.2" r="1.9"/><circle cx="1389.3" cy="181.2" r="1.9"/><circle cx="1392.5" cy="192.4" r="1.9"/><circle cx="1532.5" cy="110.1" r="1.9"/><circle cx="1537.7" cy="120.3" r="1.9"/>
</g>
<circle cx="1541.7" cy="54.1" r="2.1" fill="#f26a4a"/>
<circle cx="1536.3" cy="118.9" r="2.1" fill="#f26a4a"/>
<circle cx="1593.7" cy="113.4" r="2.4" fill="#f26a4a"/>
<circle cx="1332.7" cy="138.0" r="1.8" fill="#f26a4a"/>
<circle cx="1365.5" cy="168.9" r="2.1" fill="#f26a4a"/>
<circle cx="1524.0" cy="194.8" r="2.1" fill="#f26a4a"/>
<circle cx="1363.3" cy="228.1" r="2.3" fill="#c00000"/>
<circle cx="1366.9" cy="225.4" r="2.3" fill="#c00000"/>
<circle cx="1375.6" cy="226.0" r="1.9" fill="#f26a4a"/>
<circle cx="1388.5" cy="228.1" r="1.9" fill="#f9a27e"/>
<g fill="#cacaca">
<circle cx="521.4" cy="446.3" r="1.9"/><circle cx="539.3" cy="432.6" r="1.9"/><circle cx="538.0" cy="441.5" r="1.9"/><circle cx="549.2" cy="437.6" r="1.9"/><circle cx="552.9" cy="439.2" r="1.9"/><circle cx="543.0" cy="446.1" r="1.9"/><circle cx="546.7" cy="449.5" r="1.9"/><circle cx="549.2" cy="452.9" r="1.9"/><circle cx="542.2" cy="457.5" r="1.9"/><circle cx="569.8" cy="430.8" r="1.9"/><circle cx="576.0" cy="436.9" r="1.9"/><circle cx="574.0" cy="441.5" r="1.9"/><circle cx="581.9" cy="440.4" r="1.9"/><circle cx="568.5" cy="448.3" r="1.9"/><circle cx="583.2" cy="447.2" r="1.9"/><circle cx="593.8" cy="451.3" r="1.9"/><circle cx="582.7" cy="457.5" r="1.9"/><circle cx="577.0" cy="462.0" r="1.9"/><circle cx="588.9" cy="460.4" r="1.9"/><circle cx="611.9" cy="447.7" r="1.9"/><circle cx="628.6" cy="452.2" r="1.9"/><circle cx="631.5" cy="455.2" r="1.9"/><circle cx="598.3" cy="467.7" r="1.9"/><circle cx="631.0" cy="468.9" r="1.9"/><circle cx="635.5" cy="476.4" r="1.9"/><circle cx="643.9" cy="479.2" r="1.9"/><circle cx="649.9" cy="479.6" r="1.9"/><circle cx="641.0" cy="483.7" r="1.9"/><circle cx="610.0" cy="484.2" r="1.9"/><circle cx="601.3" cy="485.5" r="1.9"/><circle cx="632.8" cy="490.6" r="1.9"/><circle cx="622.4" cy="502.0" r="1.9"/><circle cx="577.7" cy="496.5" r="1.9"/><circle cx="629.8" cy="521.1" r="1.9"/><circle cx="631.5" cy="521.1" r="1.9"/><circle cx="647.2" cy="451.8" r="1.9"/><circle cx="656.3" cy="446.1" r="1.9"/><circle cx="660.8" cy="452.2" r="1.9"/><circle cx="670.0" cy="433.5" r="1.9"/><circle cx="675.7" cy="447.7" r="1.9"/><circle cx="669.0" cy="452.9" r="1.9"/><circle cx="673.2" cy="455.2" r="1.9"/><circle cx="698.0" cy="443.1" r="1.9"/><circle cx="712.1" cy="444.5" r="1.9"/><circle cx="707.4" cy="452.2" r="1.9"/><circle cx="693.5" cy="460.9" r="1.9"/><circle cx="684.4" cy="470.0" r="1.9"/><circle cx="667.7" cy="471.6" r="1.9"/><circle cx="667.0" cy="483.7" r="1.9"/><circle cx="660.8" cy="488.7" r="1.9"/><circle cx="653.9" cy="492.4" r="1.9"/><circle cx="848.1" cy="458.6" r="1.9"/><circle cx="816.6" cy="467.7" r="1.9"/><circle cx="842.6" cy="484.9" r="1.9"/><circle cx="850.5" cy="507.7" r="1.9"/><circle cx="551.2" cy="483.0" r="1.9"/><circle cx="605.0" cy="494.7" r="1.9"/><circle cx="755.0" cy="449.5" r="1.9"/><circle cx="767.4" cy="450.2" r="1.9"/><circle cx="787.8" cy="451.8" r="1.9"/><circle cx="789.8" cy="451.8" r="1.9"/><circle cx="724.0" cy="465.0" r="1.9"/><circle cx="728.3" cy="465.9" r="1.9"/><circle cx="737.2" cy="468.2" r="1.9"/><circle cx="768.7" cy="468.9" r="1.9"/><circle cx="773.6" cy="472.8" r="1.9"/><circle cx="798.5" cy="467.7" r="1.9"/><circle cx="822.0" cy="467.3" r="1.9"/><circle cx="834.4" cy="466.6" r="1.9"/><circle cx="838.9" cy="468.9" r="1.9"/><circle cx="845.6" cy="467.7" r="1.9"/><circle cx="729.0" cy="482.1" r="1.9"/><circle cx="771.2" cy="481.0" r="1.9"/><circle cx="776.1" cy="480.3" r="1.9"/><circle cx="810.9" cy="487.6" r="1.9"/><circle cx="693.0" cy="489.4" r="1.9"/><circle cx="665.8" cy="491.0" r="1.9"/><circle cx="657.1" cy="495.1" r="1.9"/><circle cx="674.4" cy="494.0" r="1.9"/><circle cx="675.2" cy="499.7" r="1.9"/><circle cx="682.6" cy="497.9" r="1.9"/><circle cx="701.0" cy="497.0" r="1.9"/><circle cx="712.9" cy="500.8" r="1.9"/><circle cx="707.9" cy="505.4" r="1.9"/><circle cx="659.6" cy="500.1" r="1.9"/><circle cx="665.8" cy="503.6" r="1.9"/><circle cx="657.1" cy="507.7" r="1.9"/><circle cx="742.6" cy="488.3" r="1.9"/><circle cx="738.2" cy="492.4" r="1.9"/><circle cx="743.9" cy="495.1" r="1.9"/><circle cx="740.7" cy="498.6" r="1.9"/><circle cx="759.5" cy="489.9" r="1.9"/><circle cx="780.3" cy="494.4" r="1.9"/><circle cx="790.3" cy="500.8" r="1.9"/><circle cx="792.2" cy="502.4" r="1.9"/><circle cx="804.2" cy="508.8" r="1.9"/><circle cx="743.9" cy="506.5" r="1.9"/><circle cx="762.5" cy="511.1" r="1.9"/><circle cx="761.2" cy="514.5" r="1.9"/><circle cx="748.1" cy="514.5" r="1.9"/><circle cx="749.6" cy="519.5" r="1.9"/><circle cx="676.9" cy="514.1" r="1.9"/><circle cx="683.9" cy="515.7" r="1.9"/><circle cx="689.3" cy="516.8" r="1.9"/><circle cx="680.6" cy="527.1" r="1.9"/><circle cx="695.0" cy="528.7" r="1.9"/><circle cx="677.7" cy="532.8" r="1.9"/><circle cx="693.0" cy="531.6" r="1.9"/><circle cx="697.5" cy="536.7" r="1.9"/><circle cx="710.9" cy="536.2" r="1.9"/><circle cx="721.6" cy="535.1" r="1.9"/><circle cx="730.2" cy="528.9" r="1.9"/><circle cx="732.7" cy="530.5" r="1.9"/><circle cx="742.6" cy="527.1" r="1.9"/><circle cx="744.6" cy="530.0" r="1.9"/><circle cx="767.4" cy="533.2" r="1.9"/><circle cx="644.2" cy="571.6" r="1.9"/><circle cx="494.6" cy="514.5" r="1.9"/><circle cx="535.5" cy="506.5" r="1.9"/><circle cx="547.9" cy="502.0" r="1.9"/><circle cx="590.1" cy="497.4" r="1.9"/><circle cx="630.3" cy="505.9" r="1.9"/><circle cx="567.0" cy="512.2" r="1.9"/><circle cx="568.5" cy="516.1" r="1.9"/><circle cx="590.6" cy="516.4" r="1.9"/><circle cx="548.4" cy="516.8" r="1.9"/><circle cx="508.3" cy="522.1" r="1.9"/><circle cx="537.3" cy="522.5" r="1.9"/><circle cx="529.8" cy="528.2" r="1.9"/><circle cx="543.0" cy="530.0" r="1.9"/><circle cx="561.6" cy="529.4" r="1.9"/><circle cx="573.2" cy="527.1" r="1.9"/><circle cx="572.3" cy="529.4" r="1.9"/><circle cx="521.9" cy="533.2" r="1.9"/><circle cx="505.0" cy="536.2" r="1.9"/><circle cx="533.8" cy="536.9" r="1.9"/><circle cx="527.4" cy="540.3" r="1.9"/><circle cx="543.0" cy="542.6" r="1.9"/><circle cx="549.2" cy="541.5" r="1.9"/><circle cx="555.4" cy="544.2" r="1.9"/><circle cx="551.7" cy="546.5" r="1.9"/><circle cx="562.8" cy="538.5" r="1.9"/><circle cx="570.3" cy="536.2" r="1.9"/><circle cx="576.5" cy="535.1" r="1.9"/><circle cx="574.0" cy="542.6" r="1.9"/><circle cx="506.5" cy="545.8" r="1.9"/><circle cx="608.7" cy="537.8" r="1.9"/><circle cx="638.5" cy="540.8" r="1.9"/><circle cx="643.9" cy="536.2" r="1.9"/><circle cx="656.3" cy="541.2" r="1.9"/><circle cx="667.7" cy="540.8" r="1.9"/><circle cx="670.0" cy="536.2" r="1.9"/><circle cx="676.9" cy="538.9" r="1.9"/><circle cx="681.1" cy="538.9" r="1.9"/><circle cx="690.6" cy="535.8" r="1.9"/><circle cx="648.4" cy="575.0" r="1.9"/><circle cx="768.7" cy="602.8" r="1.9"/><circle cx="653.4" cy="520.2" r="1.9"/><circle cx="656.6" cy="531.0" r="1.9"/><circle cx="659.1" cy="583.4" r="1.9"/><circle cx="683.9" cy="586.9" r="1.9"/><circle cx="675.2" cy="591.0" r="1.9"/><circle cx="677.7" cy="594.4" r="1.9"/><circle cx="670.7" cy="595.5" r="1.9"/><circle cx="672.0" cy="598.5" r="1.9"/><circle cx="685.1" cy="598.5" r="1.9"/><circle cx="685.1" cy="602.4" r="1.9"/><circle cx="657.1" cy="599.7" r="1.9"/><circle cx="648.4" cy="605.8" r="1.9"/><circle cx="637.2" cy="611.5" r="1.9"/><circle cx="643.4" cy="618.4" r="1.9"/><circle cx="685.1" cy="607.0" r="1.9"/><circle cx="683.6" cy="613.8" r="1.9"/><circle cx="690.1" cy="617.2" r="1.9"/><circle cx="687.6" cy="620.6" r="1.9"/><circle cx="700.5" cy="616.1" r="1.9"/><circle cx="695.5" cy="622.9" r="1.9"/><circle cx="699.2" cy="624.1" r="1.9"/><circle cx="691.3" cy="626.4" r="1.9"/><circle cx="681.9" cy="630.9" r="1.9"/><circle cx="721.1" cy="600.8" r="1.9"/><circle cx="738.4" cy="601.7" r="1.9"/><circle cx="740.7" cy="613.3" r="1.9"/><circle cx="756.8" cy="612.7" r="1.9"/><circle cx="761.7" cy="618.4" r="1.9"/><circle cx="755.5" cy="624.5" r="1.9"/><circle cx="737.7" cy="623.6" r="1.9"/><circle cx="726.5" cy="623.4" r="1.9"/><circle cx="725.3" cy="626.4" r="1.9"/><circle cx="712.9" cy="630.2" r="1.9"/><circle cx="729.0" cy="631.4" r="1.9"/><circle cx="724.8" cy="634.3" r="1.9"/><circle cx="742.1" cy="631.6" r="1.9"/><circle cx="726.5" cy="640.0" r="1.9"/><circle cx="714.9" cy="651.5" r="1.9"/><circle cx="719.1" cy="651.5" r="1.9"/><circle cx="712.9" cy="654.9" r="1.9"/><circle cx="721.6" cy="656.0" r="1.9"/><circle cx="725.3" cy="655.6" r="1.9"/><circle cx="720.8" cy="659.4" r="1.9"/><circle cx="705.9" cy="659.0" r="1.9"/><circle cx="713.4" cy="660.6" r="1.9"/><circle cx="714.1" cy="664.0" r="1.9"/><circle cx="737.7" cy="661.7" r="1.9"/><circle cx="732.2" cy="663.3" r="1.9"/><circle cx="699.2" cy="668.6" r="1.9"/><circle cx="701.7" cy="669.7" r="1.9"/><circle cx="710.4" cy="668.6" r="1.9"/><circle cx="712.4" cy="670.9" r="1.9"/><circle cx="737.7" cy="669.7" r="1.9"/><circle cx="744.6" cy="668.1" r="1.9"/><circle cx="704.7" cy="675.9" r="1.9"/><circle cx="711.6" cy="675.4" r="1.9"/><circle cx="689.8" cy="680.0" r="1.9"/>
</g>
<circle cx="628.4" cy="452.2" r="2.1" fill="#d42a25"/>
<circle cx="671.8" cy="598.5" r="2.1" fill="#d42a25"/>
<circle cx="685.0" cy="598.0" r="2.1" fill="#6e0a0c"/>
<circle cx="685.0" cy="607.6" r="2.1" fill="#6e0a0c"/>
<circle cx="757.0" cy="613.1" r="2.1" fill="#d42a25"/>
<circle cx="760.7" cy="618.1" r="2.1" fill="#d42a25"/>
<circle cx="713.1" cy="639.4" r="2.1" fill="#d42a25"/>
<circle cx="713.1" cy="654.4" r="2.1" fill="#d42a25"/>
<circle cx="713.6" cy="663.2" r="2.1" fill="#d42a25"/>
<g fill="#cacaca">
<circle cx="936.2" cy="448.4" r="1.9"/><circle cx="953.6" cy="434.6" r="1.9"/><circle cx="952.4" cy="443.6" r="1.9"/><circle cx="963.2" cy="439.6" r="1.9"/><circle cx="966.8" cy="441.3" r="1.9"/><circle cx="957.2" cy="448.2" r="1.9"/><circle cx="960.8" cy="451.6" r="1.9"/><circle cx="963.2" cy="455.1" r="1.9"/><circle cx="956.5" cy="459.7" r="1.9"/><circle cx="983.2" cy="432.7" r="1.9"/><circle cx="989.3" cy="438.9" r="1.9"/><circle cx="987.3" cy="443.6" r="1.9"/><circle cx="995.1" cy="442.4" r="1.9"/><circle cx="982.0" cy="450.5" r="1.9"/><circle cx="996.3" cy="449.3" r="1.9"/><circle cx="1006.7" cy="453.5" r="1.9"/><circle cx="995.8" cy="459.7" r="1.9"/><circle cx="990.2" cy="464.3" r="1.9"/><circle cx="1001.8" cy="462.7" r="1.9"/><circle cx="1024.3" cy="449.8" r="1.9"/><circle cx="1040.4" cy="454.4" r="1.9"/><circle cx="1043.3" cy="457.4" r="1.9"/><circle cx="1011.0" cy="470.1" r="1.9"/><circle cx="1042.9" cy="471.2" r="1.9"/><circle cx="1047.2" cy="478.8" r="1.9"/><circle cx="1055.4" cy="481.6" r="1.9"/><circle cx="1061.2" cy="482.1" r="1.9"/><circle cx="1052.5" cy="486.2" r="1.9"/><circle cx="1022.3" cy="486.7" r="1.9"/><circle cx="1013.9" cy="488.0" r="1.9"/><circle cx="1044.5" cy="493.1" r="1.9"/><circle cx="1034.4" cy="504.6" r="1.9"/><circle cx="991.0" cy="499.1" r="1.9"/><circle cx="1041.6" cy="524.0" r="1.9"/><circle cx="1043.3" cy="524.0" r="1.9"/><circle cx="1058.5" cy="453.9" r="1.9"/><circle cx="1067.5" cy="448.2" r="1.9"/><circle cx="1071.8" cy="454.4" r="1.9"/><circle cx="1080.7" cy="435.5" r="1.9"/><circle cx="1086.3" cy="449.8" r="1.9"/><circle cx="1079.8" cy="455.1" r="1.9"/><circle cx="1083.9" cy="457.4" r="1.9"/><circle cx="1108.0" cy="445.2" r="1.9"/><circle cx="1121.8" cy="446.6" r="1.9"/><circle cx="1117.2" cy="454.4" r="1.9"/><circle cx="1103.7" cy="463.2" r="1.9"/><circle cx="1094.7" cy="472.4" r="1.9"/><circle cx="1078.6" cy="474.0" r="1.9"/><circle cx="1077.8" cy="486.2" r="1.9"/><circle cx="1071.8" cy="491.3" r="1.9"/><circle cx="1065.1" cy="495.0" r="1.9"/><circle cx="1254.0" cy="460.8" r="1.9"/><circle cx="1223.4" cy="470.1" r="1.9"/><circle cx="1248.7" cy="487.4" r="1.9"/><circle cx="1256.4" cy="510.4" r="1.9"/><circle cx="965.1" cy="485.5" r="1.9"/><circle cx="1017.5" cy="497.3" r="1.9"/><circle cx="1163.5" cy="451.6" r="1.9"/><circle cx="1175.6" cy="452.3" r="1.9"/><circle cx="1195.4" cy="453.9" r="1.9"/><circle cx="1197.3" cy="453.9" r="1.9"/><circle cx="1133.4" cy="467.3" r="1.9"/><circle cx="1137.5" cy="468.2" r="1.9"/><circle cx="1146.1" cy="470.5" r="1.9"/><circle cx="1176.8" cy="471.2" r="1.9"/><circle cx="1181.6" cy="475.1" r="1.9"/><circle cx="1205.7" cy="470.1" r="1.9"/><circle cx="1228.7" cy="469.6" r="1.9"/><circle cx="1240.7" cy="468.9" r="1.9"/><circle cx="1245.1" cy="471.2" r="1.9"/><circle cx="1251.6" cy="470.1" r="1.9"/><circle cx="1138.2" cy="484.6" r="1.9"/><circle cx="1179.2" cy="483.4" r="1.9"/><circle cx="1184.0" cy="482.7" r="1.9"/><circle cx="1217.8" cy="490.1" r="1.9"/><circle cx="1103.2" cy="492.0" r="1.9"/><circle cx="1076.6" cy="493.6" r="1.9"/><circle cx="1068.2" cy="497.7" r="1.9"/><circle cx="1085.1" cy="496.6" r="1.9"/><circle cx="1085.8" cy="502.3" r="1.9"/><circle cx="1093.0" cy="500.5" r="1.9"/><circle cx="1110.9" cy="499.6" r="1.9"/><circle cx="1122.5" cy="503.5" r="1.9"/><circle cx="1117.7" cy="508.1" r="1.9"/><circle cx="1070.6" cy="502.8" r="1.9"/><circle cx="1076.6" cy="506.3" r="1.9"/><circle cx="1068.2" cy="510.4" r="1.9"/><circle cx="1151.5" cy="490.8" r="1.9"/><circle cx="1147.1" cy="495.0" r="1.9"/><circle cx="1152.7" cy="497.7" r="1.9"/><circle cx="1149.5" cy="501.2" r="1.9"/><circle cx="1167.9" cy="492.4" r="1.9"/><circle cx="1188.1" cy="497.0" r="1.9"/><circle cx="1197.8" cy="503.5" r="1.9"/><circle cx="1199.7" cy="505.1" r="1.9"/><circle cx="1211.3" cy="511.6" r="1.9"/><circle cx="1152.7" cy="509.3" r="1.9"/><circle cx="1170.8" cy="513.9" r="1.9"/><circle cx="1169.6" cy="517.3" r="1.9"/><circle cx="1156.8" cy="517.3" r="1.9"/><circle cx="1158.2" cy="522.4" r="1.9"/><circle cx="1087.5" cy="516.9" r="1.9"/><circle cx="1094.3" cy="518.5" r="1.9"/><circle cx="1099.6" cy="519.6" r="1.9"/><circle cx="1091.1" cy="530.0" r="1.9"/><circle cx="1105.1" cy="531.6" r="1.9"/><circle cx="1088.2" cy="535.8" r="1.9"/><circle cx="1103.2" cy="534.6" r="1.9"/><circle cx="1107.5" cy="539.7" r="1.9"/><circle cx="1120.6" cy="539.2" r="1.9"/><circle cx="1130.9" cy="538.1" r="1.9"/><circle cx="1139.4" cy="531.8" r="1.9"/><circle cx="1141.8" cy="533.5" r="1.9"/><circle cx="1151.5" cy="530.0" r="1.9"/><circle cx="1153.4" cy="533.0" r="1.9"/><circle cx="1175.6" cy="536.2" r="1.9"/><circle cx="1055.6" cy="575.0" r="1.9"/><circle cx="910.1" cy="517.3" r="1.9"/><circle cx="949.9" cy="509.3" r="1.9"/><circle cx="962.0" cy="504.6" r="1.9"/><circle cx="1003.0" cy="500.0" r="1.9"/><circle cx="1042.1" cy="508.6" r="1.9"/><circle cx="980.6" cy="515.0" r="1.9"/><circle cx="982.0" cy="518.9" r="1.9"/><circle cx="1003.5" cy="519.2" r="1.9"/><circle cx="962.5" cy="519.6" r="1.9"/><circle cx="923.4" cy="524.9" r="1.9"/><circle cx="951.6" cy="525.4" r="1.9"/><circle cx="944.4" cy="531.2" r="1.9"/><circle cx="957.2" cy="533.0" r="1.9"/><circle cx="975.3" cy="532.3" r="1.9"/><circle cx="986.6" cy="530.0" r="1.9"/><circle cx="985.7" cy="532.3" r="1.9"/><circle cx="936.7" cy="536.2" r="1.9"/><circle cx="920.3" cy="539.2" r="1.9"/><circle cx="948.3" cy="539.9" r="1.9"/><circle cx="942.0" cy="543.4" r="1.9"/><circle cx="957.2" cy="545.7" r="1.9"/><circle cx="963.2" cy="544.5" r="1.9"/><circle cx="969.2" cy="547.3" r="1.9"/><circle cx="965.6" cy="549.6" r="1.9"/><circle cx="976.5" cy="541.5" r="1.9"/><circle cx="983.7" cy="539.2" r="1.9"/><circle cx="989.8" cy="538.1" r="1.9"/><circle cx="987.3" cy="545.7" r="1.9"/><circle cx="921.7" cy="548.9" r="1.9"/><circle cx="1021.1" cy="540.8" r="1.9"/><circle cx="1050.1" cy="543.8" r="1.9"/><circle cx="1055.4" cy="539.2" r="1.9"/><circle cx="1067.5" cy="544.3" r="1.9"/><circle cx="1078.6" cy="543.8" r="1.9"/><circle cx="1080.7" cy="539.2" r="1.9"/><circle cx="1087.5" cy="542.0" r="1.9"/><circle cx="1091.6" cy="542.0" r="1.9"/><circle cx="1100.8" cy="538.8" r="1.9"/><circle cx="1059.7" cy="578.4" r="1.9"/><circle cx="1176.8" cy="606.5" r="1.9"/><circle cx="1064.6" cy="523.1" r="1.9"/><circle cx="1067.7" cy="533.9" r="1.9"/><circle cx="1070.1" cy="586.9" r="1.9"/><circle cx="1094.3" cy="590.4" r="1.9"/><circle cx="1085.8" cy="594.6" r="1.9"/><circle cx="1088.2" cy="598.0" r="1.9"/><circle cx="1081.5" cy="599.2" r="1.9"/><circle cx="1082.7" cy="602.2" r="1.9"/><circle cx="1095.5" cy="602.2" r="1.9"/><circle cx="1095.5" cy="606.1" r="1.9"/><circle cx="1068.2" cy="603.3" r="1.9"/><circle cx="1059.7" cy="609.5" r="1.9"/><circle cx="1048.9" cy="615.3" r="1.9"/><circle cx="1054.9" cy="622.2" r="1.9"/><circle cx="1095.5" cy="610.7" r="1.9"/><circle cx="1094.0" cy="617.6" r="1.9"/><circle cx="1100.3" cy="621.1" r="1.9"/><circle cx="1097.9" cy="624.5" r="1.9"/><circle cx="1110.4" cy="619.9" r="1.9"/><circle cx="1105.6" cy="626.8" r="1.9"/><circle cx="1109.2" cy="628.0" r="1.9"/><circle cx="1101.5" cy="630.3" r="1.9"/><circle cx="1092.3" cy="634.9" r="1.9"/><circle cx="1130.5" cy="604.5" r="1.9"/><circle cx="1147.3" cy="605.4" r="1.9"/><circle cx="1149.5" cy="617.1" r="1.9"/><circle cx="1165.2" cy="616.5" r="1.9"/><circle cx="1170.0" cy="622.2" r="1.9"/><circle cx="1164.0" cy="628.4" r="1.9"/><circle cx="1146.6" cy="627.5" r="1.9"/><circle cx="1135.8" cy="627.3" r="1.9"/><circle cx="1134.6" cy="630.3" r="1.9"/><circle cx="1122.5" cy="634.2" r="1.9"/><circle cx="1138.2" cy="635.4" r="1.9"/><circle cx="1134.1" cy="638.4" r="1.9"/><circle cx="1151.0" cy="635.6" r="1.9"/><circle cx="1135.8" cy="644.1" r="1.9"/><circle cx="1124.4" cy="655.6" r="1.9"/><circle cx="1128.5" cy="655.6" r="1.9"/><circle cx="1122.5" cy="659.1" r="1.9"/><circle cx="1130.9" cy="660.3" r="1.9"/><circle cx="1134.6" cy="659.8" r="1.9"/><circle cx="1130.2" cy="663.7" r="1.9"/><circle cx="1115.7" cy="663.2" r="1.9"/><circle cx="1123.0" cy="664.9" r="1.9"/><circle cx="1123.7" cy="668.3" r="1.9"/><circle cx="1146.6" cy="666.0" r="1.9"/><circle cx="1141.3" cy="667.6" r="1.9"/><circle cx="1109.2" cy="672.9" r="1.9"/><circle cx="1111.6" cy="674.1" r="1.9"/><circle cx="1120.1" cy="672.9" r="1.9"/><circle cx="1122.0" cy="675.2" r="1.9"/><circle cx="1146.6" cy="674.1" r="1.9"/><circle cx="1153.4" cy="672.5" r="1.9"/><circle cx="1114.5" cy="680.3" r="1.9"/><circle cx="1121.3" cy="679.8" r="1.9"/><circle cx="1100.0" cy="684.5" r="1.9"/>
</g>
<circle cx="1039.9" cy="454.4" r="2.1" fill="#d42a25"/>
<circle cx="1086.0" cy="593.0" r="2.1" fill="#d42a25"/>
<circle cx="1081.3" cy="598.8" r="2.1" fill="#d42a25"/>
<circle cx="1095.5" cy="601.3" r="2.1" fill="#d42a25"/>
<circle cx="1095.0" cy="611.1" r="2.1" fill="#6e0a0c"/>
<circle cx="1093.8" cy="617.6" r="2.1" fill="#d42a25"/>
<circle cx="1098.0" cy="624.9" r="2.1" fill="#d42a25"/>
<circle cx="1106.3" cy="626.9" r="2.1" fill="#d42a25"/>
<circle cx="1130.1" cy="604.8" r="2.1" fill="#d42a25"/>
<circle cx="1118.1" cy="636.1" r="2.1" fill="#d42a25"/>
<circle cx="1122.6" cy="657.7" r="2.1" fill="#d42a25"/>
<circle cx="1123.1" cy="667.5" r="2.1" fill="#d42a25"/>
<g fill="#cacaca">
<circle cx="1367.3" cy="436.4" r="1.9"/><circle cx="1385.1" cy="422.0" r="1.9"/><circle cx="1383.9" cy="431.4" r="1.9"/><circle cx="1395.0" cy="427.3" r="1.9"/><circle cx="1398.7" cy="429.0" r="1.9"/><circle cx="1388.8" cy="436.1" r="1.9"/><circle cx="1392.6" cy="439.7" r="1.9"/><circle cx="1395.0" cy="443.3" r="1.9"/><circle cx="1388.1" cy="448.1" r="1.9"/><circle cx="1415.6" cy="420.1" r="1.9"/><circle cx="1421.7" cy="426.6" r="1.9"/><circle cx="1419.8" cy="431.4" r="1.9"/><circle cx="1427.7" cy="430.2" r="1.9"/><circle cx="1414.3" cy="438.5" r="1.9"/><circle cx="1428.9" cy="437.3" r="1.9"/><circle cx="1439.6" cy="441.6" r="1.9"/><circle cx="1428.4" cy="448.1" r="1.9"/><circle cx="1422.7" cy="452.8" r="1.9"/><circle cx="1434.6" cy="451.2" r="1.9"/><circle cx="1457.6" cy="437.8" r="1.9"/><circle cx="1474.2" cy="442.6" r="1.9"/><circle cx="1477.2" cy="445.7" r="1.9"/><circle cx="1444.0" cy="458.8" r="1.9"/><circle cx="1476.7" cy="460.0" r="1.9"/><circle cx="1481.1" cy="467.9" r="1.9"/><circle cx="1489.5" cy="470.7" r="1.9"/><circle cx="1495.5" cy="471.2" r="1.9"/><circle cx="1486.6" cy="475.5" r="1.9"/><circle cx="1455.6" cy="476.0" r="1.9"/><circle cx="1447.0" cy="477.4" r="1.9"/><circle cx="1478.4" cy="482.7" r="1.9"/><circle cx="1468.0" cy="494.6" r="1.9"/><circle cx="1423.5" cy="488.9" r="1.9"/><circle cx="1475.4" cy="514.6" r="1.9"/><circle cx="1477.2" cy="514.6" r="1.9"/><circle cx="1492.8" cy="442.1" r="1.9"/><circle cx="1501.9" cy="436.1" r="1.9"/><circle cx="1506.4" cy="442.6" r="1.9"/><circle cx="1515.5" cy="423.0" r="1.9"/><circle cx="1521.2" cy="437.8" r="1.9"/><circle cx="1514.5" cy="443.3" r="1.9"/><circle cx="1518.7" cy="445.7" r="1.9"/><circle cx="1543.5" cy="433.0" r="1.9"/><circle cx="1557.6" cy="434.5" r="1.9"/><circle cx="1552.9" cy="442.6" r="1.9"/><circle cx="1539.0" cy="451.6" r="1.9"/><circle cx="1529.9" cy="461.2" r="1.9"/><circle cx="1513.3" cy="462.9" r="1.9"/><circle cx="1512.6" cy="475.5" r="1.9"/><circle cx="1506.4" cy="480.8" r="1.9"/><circle cx="1499.4" cy="484.6" r="1.9"/><circle cx="1693.2" cy="449.3" r="1.9"/><circle cx="1661.8" cy="458.8" r="1.9"/><circle cx="1687.8" cy="476.7" r="1.9"/><circle cx="1695.7" cy="500.6" r="1.9"/><circle cx="1397.0" cy="474.8" r="1.9"/><circle cx="1450.7" cy="487.0" r="1.9"/><circle cx="1600.4" cy="439.7" r="1.9"/><circle cx="1612.8" cy="440.4" r="1.9"/><circle cx="1633.1" cy="442.1" r="1.9"/><circle cx="1635.0" cy="442.1" r="1.9"/><circle cx="1569.5" cy="455.9" r="1.9"/><circle cx="1573.7" cy="456.9" r="1.9"/><circle cx="1582.6" cy="459.3" r="1.9"/><circle cx="1614.0" cy="460.0" r="1.9"/><circle cx="1619.0" cy="464.1" r="1.9"/><circle cx="1643.7" cy="458.8" r="1.9"/><circle cx="1667.2" cy="458.3" r="1.9"/><circle cx="1679.6" cy="457.6" r="1.9"/><circle cx="1684.0" cy="460.0" r="1.9"/><circle cx="1690.7" cy="458.8" r="1.9"/><circle cx="1574.4" cy="473.8" r="1.9"/><circle cx="1616.5" cy="472.6" r="1.9"/><circle cx="1621.4" cy="471.9" r="1.9"/><circle cx="1656.1" cy="479.6" r="1.9"/><circle cx="1538.5" cy="481.5" r="1.9"/><circle cx="1511.3" cy="483.1" r="1.9"/><circle cx="1502.7" cy="487.4" r="1.9"/><circle cx="1520.0" cy="486.2" r="1.9"/><circle cx="1520.7" cy="492.2" r="1.9"/><circle cx="1528.1" cy="490.3" r="1.9"/><circle cx="1546.5" cy="489.3" r="1.9"/><circle cx="1558.3" cy="493.4" r="1.9"/><circle cx="1553.4" cy="498.2" r="1.9"/><circle cx="1505.1" cy="492.7" r="1.9"/><circle cx="1511.3" cy="496.3" r="1.9"/><circle cx="1502.7" cy="500.6" r="1.9"/><circle cx="1588.0" cy="480.3" r="1.9"/><circle cx="1583.6" cy="484.6" r="1.9"/><circle cx="1589.3" cy="487.4" r="1.9"/><circle cx="1586.1" cy="491.0" r="1.9"/><circle cx="1604.9" cy="481.9" r="1.9"/><circle cx="1625.6" cy="486.7" r="1.9"/><circle cx="1635.5" cy="493.4" r="1.9"/><circle cx="1637.5" cy="495.1" r="1.9"/><circle cx="1649.4" cy="501.8" r="1.9"/><circle cx="1589.3" cy="499.4" r="1.9"/><circle cx="1607.8" cy="504.1" r="1.9"/><circle cx="1606.6" cy="507.7" r="1.9"/><circle cx="1593.5" cy="507.7" r="1.9"/><circle cx="1595.0" cy="513.0" r="1.9"/><circle cx="1522.5" cy="507.2" r="1.9"/><circle cx="1529.4" cy="508.9" r="1.9"/><circle cx="1534.8" cy="510.1" r="1.9"/><circle cx="1526.2" cy="520.8" r="1.9"/><circle cx="1540.5" cy="522.5" r="1.9"/><circle cx="1523.2" cy="526.8" r="1.9"/><circle cx="1538.5" cy="525.6" r="1.9"/><circle cx="1543.0" cy="530.9" r="1.9"/><circle cx="1556.4" cy="530.4" r="1.9"/><circle cx="1567.0" cy="529.2" r="1.9"/><circle cx="1575.7" cy="522.8" r="1.9"/><circle cx="1578.1" cy="524.4" r="1.9"/><circle cx="1588.0" cy="520.8" r="1.9"/><circle cx="1590.0" cy="524.0" r="1.9"/><circle cx="1612.8" cy="527.3" r="1.9"/><circle cx="1489.8" cy="567.4" r="1.9"/><circle cx="1340.6" cy="507.7" r="1.9"/><circle cx="1381.4" cy="499.4" r="1.9"/><circle cx="1393.8" cy="494.6" r="1.9"/><circle cx="1435.9" cy="489.8" r="1.9"/><circle cx="1475.9" cy="498.7" r="1.9"/><circle cx="1412.8" cy="505.3" r="1.9"/><circle cx="1414.3" cy="509.4" r="1.9"/><circle cx="1436.3" cy="509.6" r="1.9"/><circle cx="1394.3" cy="510.1" r="1.9"/><circle cx="1354.2" cy="515.6" r="1.9"/><circle cx="1383.1" cy="516.1" r="1.9"/><circle cx="1375.7" cy="522.0" r="1.9"/><circle cx="1388.8" cy="524.0" r="1.9"/><circle cx="1407.4" cy="523.2" r="1.9"/><circle cx="1419.0" cy="520.8" r="1.9"/><circle cx="1418.0" cy="523.2" r="1.9"/><circle cx="1367.8" cy="527.3" r="1.9"/><circle cx="1351.0" cy="530.4" r="1.9"/><circle cx="1379.7" cy="531.1" r="1.9"/><circle cx="1373.3" cy="534.7" r="1.9"/><circle cx="1388.8" cy="537.1" r="1.9"/><circle cx="1395.0" cy="535.9" r="1.9"/><circle cx="1401.2" cy="538.7" r="1.9"/><circle cx="1397.5" cy="541.1" r="1.9"/><circle cx="1408.6" cy="532.8" r="1.9"/><circle cx="1416.1" cy="530.4" r="1.9"/><circle cx="1422.2" cy="529.2" r="1.9"/><circle cx="1419.8" cy="537.1" r="1.9"/><circle cx="1352.5" cy="540.4" r="1.9"/><circle cx="1454.4" cy="532.1" r="1.9"/><circle cx="1484.1" cy="535.2" r="1.9"/><circle cx="1489.5" cy="530.4" r="1.9"/><circle cx="1501.9" cy="535.6" r="1.9"/><circle cx="1513.3" cy="535.2" r="1.9"/><circle cx="1515.5" cy="530.4" r="1.9"/><circle cx="1522.5" cy="533.3" r="1.9"/><circle cx="1526.7" cy="533.3" r="1.9"/><circle cx="1536.1" cy="529.9" r="1.9"/><circle cx="1494.0" cy="571.0" r="1.9"/><circle cx="1614.0" cy="600.1" r="1.9"/><circle cx="1499.0" cy="513.7" r="1.9"/><circle cx="1502.2" cy="524.9" r="1.9"/><circle cx="1504.6" cy="579.8" r="1.9"/><circle cx="1529.4" cy="583.4" r="1.9"/><circle cx="1520.7" cy="587.7" r="1.9"/><circle cx="1523.2" cy="591.2" r="1.9"/><circle cx="1516.3" cy="592.4" r="1.9"/><circle cx="1517.5" cy="595.5" r="1.9"/><circle cx="1530.6" cy="595.5" r="1.9"/><circle cx="1530.6" cy="599.6" r="1.9"/><circle cx="1502.7" cy="596.7" r="1.9"/><circle cx="1494.0" cy="603.2" r="1.9"/><circle cx="1482.9" cy="609.1" r="1.9"/><circle cx="1489.1" cy="616.3" r="1.9"/><circle cx="1530.6" cy="604.4" r="1.9"/><circle cx="1529.1" cy="611.5" r="1.9"/><circle cx="1535.6" cy="615.1" r="1.9"/><circle cx="1533.1" cy="618.7" r="1.9"/><circle cx="1546.0" cy="613.9" r="1.9"/><circle cx="1541.0" cy="621.1" r="1.9"/><circle cx="1544.7" cy="622.3" r="1.9"/><circle cx="1536.8" cy="624.7" r="1.9"/><circle cx="1527.4" cy="629.4" r="1.9"/><circle cx="1566.5" cy="597.9" r="1.9"/><circle cx="1583.8" cy="598.9" r="1.9"/><circle cx="1586.1" cy="611.1" r="1.9"/><circle cx="1602.1" cy="610.3" r="1.9"/><circle cx="1607.1" cy="616.3" r="1.9"/><circle cx="1600.9" cy="622.8" r="1.9"/><circle cx="1583.1" cy="621.8" r="1.9"/><circle cx="1571.9" cy="621.6" r="1.9"/><circle cx="1570.7" cy="624.7" r="1.9"/><circle cx="1558.3" cy="628.7" r="1.9"/><circle cx="1574.4" cy="629.9" r="1.9"/><circle cx="1570.2" cy="633.0" r="1.9"/><circle cx="1587.5" cy="630.1" r="1.9"/><circle cx="1571.9" cy="639.0" r="1.9"/><circle cx="1560.3" cy="650.9" r="1.9"/><circle cx="1564.5" cy="650.9" r="1.9"/><circle cx="1558.3" cy="654.5" r="1.9"/><circle cx="1567.0" cy="655.7" r="1.9"/><circle cx="1570.7" cy="655.2" r="1.9"/><circle cx="1566.3" cy="659.3" r="1.9"/><circle cx="1551.4" cy="658.8" r="1.9"/><circle cx="1558.8" cy="660.5" r="1.9"/><circle cx="1559.6" cy="664.0" r="1.9"/><circle cx="1583.1" cy="661.7" r="1.9"/><circle cx="1577.6" cy="663.3" r="1.9"/><circle cx="1544.7" cy="668.8" r="1.9"/><circle cx="1547.2" cy="670.0" r="1.9"/><circle cx="1555.9" cy="668.8" r="1.9"/><circle cx="1557.8" cy="671.2" r="1.9"/><circle cx="1583.1" cy="670.0" r="1.9"/><circle cx="1590.0" cy="668.3" r="1.9"/><circle cx="1550.2" cy="676.4" r="1.9"/><circle cx="1557.1" cy="676.0" r="1.9"/><circle cx="1535.3" cy="680.7" r="1.9"/>
</g>
<circle cx="1367.9" cy="527.9" r="2.1" fill="#f26a4a"/>
<circle cx="1530.8" cy="605.6" r="2.1" fill="#f26a4a"/>
<circle cx="1546.1" cy="613.8" r="2.1" fill="#f26a4a"/>
<circle cx="1547.3" cy="621.1" r="2.1" fill="#f26a4a"/>
<circle cx="1613.7" cy="600.1" r="2.1" fill="#f26a4a"/>
<circle cx="1602.5" cy="611.1" r="2.1" fill="#f26a4a"/>
<circle cx="1601.2" cy="622.6" r="2.1" fill="#6e0a0c"/>
<circle cx="1572.1" cy="621.9" r="2.1" fill="#f26a4a"/>
<circle cx="1573.4" cy="630.1" r="2.1" fill="#d42a25"/>
<circle cx="1571.1" cy="633.6" r="2.1" fill="#f26a4a"/>
<circle cx="1571.6" cy="639.4" r="2.1" fill="#f9a27e"/>
<circle cx="1558.4" cy="638.6" r="2.1" fill="#6e0a0c"/>
<circle cx="1559.1" cy="651.4" r="2.1" fill="#a5121a"/>
<circle cx="1564.1" cy="650.7" r="2.1" fill="#6e0a0c"/>
<circle cx="1557.9" cy="658.9" r="2.1" fill="#6e0a0c"/>
<circle cx="1558.6" cy="663.2" r="2.1" fill="#d42a25"/>
<circle cx="1566.6" cy="659.4" r="2.1" fill="#d42a25"/>
<circle cx="1570.9" cy="655.7" r="2.1" fill="#f26a4a"/>
<circle cx="1577.4" cy="663.2" r="2.1" fill="#f26a4a"/>
<circle cx="1582.9" cy="661.5" r="2.1" fill="#f26a4a"/>
<circle cx="1589.9" cy="668.7" r="2.1" fill="#f26a4a"/>
<circle cx="1544.6" cy="668.7" r="2.1" fill="#a5121a"/>
<circle cx="1556.6" cy="669.5" r="2.1" fill="#f26a4a"/>
<circle cx="1535.3" cy="680.8" r="2.1" fill="#f26a4a"/>
<g fill="#cacaca">
<circle cx="506.3" cy="828.8" r="2.0"/><circle cx="501.7" cy="831.5" r="2.0"/><circle cx="501.8" cy="835.3" r="2.0"/><circle cx="502.6" cy="835.7" r="2.0"/><circle cx="504.0" cy="835.2" r="2.0"/><circle cx="499.8" cy="837.7" r="2.0"/><circle cx="503.3" cy="840.0" r="2.0"/><circle cx="500.0" cy="844.2" r="2.0"/><circle cx="501.2" cy="842.9" r="2.0"/><circle cx="499.3" cy="846.6" r="2.0"/><circle cx="500.3" cy="849.1" r="2.0"/><circle cx="497.5" cy="846.9" r="2.0"/><circle cx="498.6" cy="849.5" r="2.0"/><circle cx="498.5" cy="853.7" r="2.0"/><circle cx="496.8" cy="853.5" r="2.0"/><circle cx="495.6" cy="857.0" r="2.0"/><circle cx="497.9" cy="857.6" r="2.0"/><circle cx="498.0" cy="859.2" r="2.0"/><circle cx="494.5" cy="860.2" r="2.0"/><circle cx="493.6" cy="863.9" r="2.0"/><circle cx="493.8" cy="863.9" r="2.0"/><circle cx="491.4" cy="867.6" r="2.0"/><circle cx="492.4" cy="871.7" r="2.0"/><circle cx="493.4" cy="876.4" r="2.0"/><circle cx="491.0" cy="880.8" r="2.0"/><circle cx="490.7" cy="886.4" r="2.0"/><circle cx="493.0" cy="898.1" r="2.0"/><circle cx="497.6" cy="889.5" r="2.0"/><circle cx="491.6" cy="896.0" r="2.0"/><circle cx="499.6" cy="896.4" r="2.0"/><circle cx="488.7" cy="899.2" r="2.0"/><circle cx="492.8" cy="890.2" r="2.0"/><circle cx="495.8" cy="902.5" r="2.0"/><circle cx="497.9" cy="895.0" r="2.0"/><circle cx="504.1" cy="892.7" r="2.0"/><circle cx="493.4" cy="888.9" r="2.0"/><circle cx="495.9" cy="897.0" r="2.0"/><circle cx="491.5" cy="901.5" r="2.0"/><circle cx="501.4" cy="889.0" r="2.0"/><circle cx="496.8" cy="894.7" r="2.0"/><circle cx="502.3" cy="895.3" r="2.0"/><circle cx="500.1" cy="902.4" r="2.0"/><circle cx="494.5" cy="900.6" r="2.0"/><circle cx="497.0" cy="903.6" r="2.0"/><circle cx="494.0" cy="902.1" r="2.0"/><circle cx="489.2" cy="894.3" r="2.0"/><circle cx="490.1" cy="895.8" r="2.0"/><circle cx="498.1" cy="893.2" r="2.0"/><circle cx="498.8" cy="898.7" r="2.0"/><circle cx="499.2" cy="897.2" r="2.0"/><circle cx="499.1" cy="909.8" r="2.0"/><circle cx="500.9" cy="908.4" r="2.0"/><circle cx="501.8" cy="914.4" r="2.0"/><circle cx="499.3" cy="913.8" r="2.0"/><circle cx="501.5" cy="917.6" r="2.0"/><circle cx="503.3" cy="920.9" r="2.0"/><circle cx="504.5" cy="922.8" r="2.0"/><circle cx="505.0" cy="923.0" r="2.0"/><circle cx="502.6" cy="927.9" r="2.0"/><circle cx="503.2" cy="928.5" r="2.0"/><circle cx="503.1" cy="931.1" r="2.0"/><circle cx="501.4" cy="934.1" r="2.0"/><circle cx="501.4" cy="937.4" r="2.0"/><circle cx="499.2" cy="940.0" r="2.0"/><circle cx="478.8" cy="925.4" r="2.0"/><circle cx="470.8" cy="923.7" r="2.0"/><circle cx="478.0" cy="920.3" r="2.0"/><circle cx="471.7" cy="916.5" r="2.0"/><circle cx="466.9" cy="921.2" r="2.0"/><circle cx="467.7" cy="915.1" r="2.0"/><circle cx="473.7" cy="913.7" r="2.0"/><circle cx="471.9" cy="924.0" r="2.0"/><circle cx="474.7" cy="926.2" r="2.0"/><circle cx="478.6" cy="912.6" r="2.0"/><circle cx="507.6" cy="963.9" r="2.0"/><circle cx="497.3" cy="956.4" r="2.0"/><circle cx="504.7" cy="946.0" r="2.0"/><circle cx="498.9" cy="953.5" r="2.0"/><circle cx="502.9" cy="953.4" r="2.0"/><circle cx="492.2" cy="948.0" r="2.0"/><circle cx="490.3" cy="947.0" r="2.0"/><circle cx="491.4" cy="955.4" r="2.0"/><circle cx="496.2" cy="951.3" r="2.0"/><circle cx="496.0" cy="943.7" r="2.0"/><circle cx="506.0" cy="956.9" r="2.0"/><circle cx="499.3" cy="954.5" r="2.0"/><circle cx="501.5" cy="957.8" r="2.0"/><circle cx="495.7" cy="954.1" r="2.0"/><circle cx="500.3" cy="949.3" r="2.0"/><circle cx="504.3" cy="941.5" r="2.0"/><circle cx="506.4" cy="953.5" r="2.0"/><circle cx="508.7" cy="950.2" r="2.0"/><circle cx="502.2" cy="941.1" r="2.0"/><circle cx="506.3" cy="951.1" r="2.0"/><circle cx="503.1" cy="943.8" r="2.0"/><circle cx="497.3" cy="958.1" r="2.0"/><circle cx="493.9" cy="961.1" r="2.0"/><circle cx="500.1" cy="942.5" r="2.0"/><circle cx="495.4" cy="954.4" r="2.0"/><circle cx="496.0" cy="957.1" r="2.0"/><circle cx="509.4" cy="962.6" r="2.0"/><circle cx="508.8" cy="963.8" r="2.0"/><circle cx="511.5" cy="964.1" r="2.0"/><circle cx="514.2" cy="967.8" r="2.0"/><circle cx="518.0" cy="968.4" r="2.0"/><circle cx="516.7" cy="972.3" r="2.0"/><circle cx="567.3" cy="995.5" r="2.0"/><circle cx="552.2" cy="989.8" r="2.0"/><circle cx="557.9" cy="976.5" r="2.0"/><circle cx="535.5" cy="984.3" r="2.0"/><circle cx="548.6" cy="1000.7" r="2.0"/><circle cx="544.8" cy="983.6" r="2.0"/><circle cx="522.9" cy="971.2" r="2.0"/><circle cx="540.6" cy="974.2" r="2.0"/><circle cx="547.7" cy="997.5" r="2.0"/><circle cx="560.1" cy="998.6" r="2.0"/><circle cx="584.8" cy="983.9" r="2.0"/><circle cx="595.4" cy="990.7" r="2.0"/><circle cx="551.0" cy="979.1" r="2.0"/><circle cx="562.1" cy="987.4" r="2.0"/><circle cx="528.9" cy="979.0" r="2.0"/><circle cx="562.9" cy="979.4" r="2.0"/><circle cx="536.6" cy="976.9" r="2.0"/><circle cx="568.0" cy="984.8" r="2.0"/><circle cx="578.7" cy="996.9" r="2.0"/><circle cx="593.0" cy="988.2" r="2.0"/><circle cx="559.3" cy="984.0" r="2.0"/><circle cx="586.0" cy="1001.8" r="2.0"/><circle cx="601.2" cy="988.0" r="2.0"/><circle cx="576.9" cy="982.6" r="2.0"/><circle cx="588.4" cy="991.2" r="2.0"/><circle cx="542.3" cy="987.4" r="2.0"/><circle cx="533.8" cy="971.7" r="2.0"/><circle cx="578.5" cy="987.7" r="2.0"/><circle cx="569.1" cy="993.5" r="2.0"/><circle cx="532.9" cy="993.7" r="2.0"/><circle cx="581.5" cy="979.0" r="2.0"/><circle cx="521.2" cy="976.4" r="2.0"/><circle cx="524.2" cy="979.7" r="2.0"/><circle cx="572.9" cy="990.6" r="2.0"/><circle cx="552.1" cy="972.8" r="2.0"/><circle cx="538.6" cy="987.0" r="2.0"/><circle cx="554.2" cy="985.4" r="2.0"/><circle cx="588.1" cy="999.7" r="2.0"/><circle cx="546.5" cy="991.6" r="2.0"/><circle cx="578.2" cy="994.7" r="2.0"/><circle cx="527.1" cy="971.9" r="2.0"/><circle cx="568.8" cy="982.4" r="2.0"/><circle cx="560.2" cy="995.6" r="2.0"/><circle cx="573.8" cy="997.8" r="2.0"/><circle cx="555.2" cy="997.3" r="2.0"/><circle cx="526.1" cy="980.9" r="2.0"/><circle cx="601.8" cy="988.3" r="2.0"/><circle cx="552.9" cy="993.2" r="2.0"/><circle cx="538.5" cy="990.5" r="2.0"/><circle cx="571.9" cy="975.0" r="2.0"/><circle cx="527.2" cy="985.2" r="2.0"/><circle cx="573.4" cy="999.6" r="2.0"/><circle cx="529.9" cy="987.7" r="2.0"/><circle cx="587.6" cy="992.4" r="2.0"/><circle cx="597.3" cy="988.7" r="2.0"/><circle cx="571.2" cy="986.5" r="2.0"/><circle cx="542.9" cy="977.1" r="2.0"/><circle cx="525.7" cy="976.2" r="2.0"/><circle cx="528.0" cy="977.5" r="2.0"/><circle cx="568.3" cy="999.1" r="2.0"/><circle cx="584.9" cy="988.7" r="2.0"/><circle cx="541.4" cy="991.0" r="2.0"/><circle cx="533.3" cy="979.7" r="2.0"/><circle cx="551.9" cy="990.0" r="2.0"/><circle cx="576.8" cy="991.1" r="2.0"/><circle cx="550.0" cy="987.4" r="2.0"/><circle cx="552.8" cy="976.6" r="2.0"/><circle cx="549.4" cy="995.8" r="2.0"/><circle cx="532.6" cy="979.8" r="2.0"/><circle cx="548.7" cy="984.8" r="2.0"/><circle cx="547.1" cy="976.9" r="2.0"/><circle cx="595.8" cy="987.2" r="2.0"/><circle cx="541.0" cy="998.3" r="2.0"/><circle cx="556.5" cy="980.4" r="2.0"/><circle cx="533.8" cy="995.4" r="2.0"/><circle cx="529.6" cy="986.8" r="2.0"/><circle cx="562.8" cy="983.8" r="2.0"/><circle cx="550.5" cy="996.0" r="2.0"/><circle cx="537.1" cy="985.2" r="2.0"/><circle cx="556.3" cy="987.3" r="2.0"/><circle cx="583.3" cy="989.2" r="2.0"/><circle cx="557.9" cy="994.2" r="2.0"/><circle cx="563.7" cy="985.7" r="2.0"/><circle cx="596.2" cy="991.3" r="2.0"/><circle cx="514.6" cy="836.0" r="2.0"/><circle cx="480.0" cy="938.9" r="2.0"/><circle cx="542.9" cy="1001.9" r="2.0"/><circle cx="567.3" cy="1005.8" r="2.0"/><circle cx="497.9" cy="847.1" r="2.0"/><circle cx="696.6" cy="762.4" r="2.0"/><circle cx="684.9" cy="766.1" r="2.0"/><circle cx="682.4" cy="770.1" r="2.0"/><circle cx="682.0" cy="777.8" r="2.0"/><circle cx="724.1" cy="773.3" r="2.0"/><circle cx="738.3" cy="769.3" r="2.0"/><circle cx="744.2" cy="775.2" r="2.0"/><circle cx="747.5" cy="779.5" r="2.0"/><circle cx="750.0" cy="780.8" r="2.0"/><circle cx="697.9" cy="779.1" r="2.0"/><circle cx="705.4" cy="778.2" r="2.0"/><circle cx="712.0" cy="776.9" r="2.0"/><circle cx="711.2" cy="779.5" r="2.0"/><circle cx="691.2" cy="779.9" r="2.0"/><circle cx="694.1" cy="784.2" r="2.0"/><circle cx="682.4" cy="785.5" r="2.0"/><circle cx="688.7" cy="788.5" r="2.0"/><circle cx="700.4" cy="788.0" r="2.0"/><circle cx="719.6" cy="786.3" r="2.0"/><circle cx="735.0" cy="787.2" r="2.0"/><circle cx="727.1" cy="788.9" r="2.0"/><circle cx="749.2" cy="789.3" r="2.0"/><circle cx="682.8" cy="792.3" r="2.0"/><circle cx="692.0" cy="794.0" r="2.0"/><circle cx="717.9" cy="792.3" r="2.0"/><circle cx="676.2" cy="795.7" r="2.0"/><circle cx="701.6" cy="794.0" r="2.0"/><circle cx="706.6" cy="793.6" r="2.0"/><circle cx="703.7" cy="797.0" r="2.0"/><circle cx="710.8" cy="796.1" r="2.0"/><circle cx="730.0" cy="794.9" r="2.0"/><circle cx="738.3" cy="797.4" r="2.0"/><circle cx="741.7" cy="799.1" r="2.0"/><circle cx="705.0" cy="800.4" r="2.0"/><circle cx="734.2" cy="799.5" r="2.0"/><circle cx="702.4" cy="803.8" r="2.0"/><circle cx="721.6" cy="801.7" r="2.0"/><circle cx="721.6" cy="804.2" r="2.0"/><circle cx="726.6" cy="802.1" r="2.0"/><circle cx="731.7" cy="802.1" r="2.0"/><circle cx="735.0" cy="803.0" r="2.0"/><circle cx="740.4" cy="804.2" r="2.0"/><circle cx="750.4" cy="805.1" r="2.0"/><circle cx="676.2" cy="807.6" r="2.0"/><circle cx="675.3" cy="811.5" r="2.0"/><circle cx="694.5" cy="807.6" r="2.0"/><circle cx="698.3" cy="807.2" r="2.0"/><circle cx="693.7" cy="812.3" r="2.0"/><circle cx="706.6" cy="809.8" r="2.0"/><circle cx="731.7" cy="808.9" r="2.0"/><circle cx="734.6" cy="811.9" r="2.0"/><circle cx="700.4" cy="812.8" r="2.0"/><circle cx="699.5" cy="816.2" r="2.0"/><circle cx="705.0" cy="815.7" r="2.0"/><circle cx="702.4" cy="818.7" r="2.0"/><circle cx="706.6" cy="820.9" r="2.0"/><circle cx="704.1" cy="820.9" r="2.0"/><circle cx="683.7" cy="819.6" r="2.0"/><circle cx="673.2" cy="820.9" r="2.0"/><circle cx="694.1" cy="821.3" r="2.0"/><circle cx="716.2" cy="823.4" r="2.0"/><circle cx="727.1" cy="822.1" r="2.0"/><circle cx="730.4" cy="820.9" r="2.0"/><circle cx="738.7" cy="825.5" r="2.0"/><circle cx="725.4" cy="829.0" r="2.0"/><circle cx="681.2" cy="826.8" r="2.0"/><circle cx="679.5" cy="830.7" r="2.0"/><circle cx="644.0" cy="831.1" r="2.0"/><circle cx="687.4" cy="834.5" r="2.0"/><circle cx="697.0" cy="837.1" r="2.0"/><circle cx="670.7" cy="837.5" r="2.0"/><circle cx="638.6" cy="839.2" r="2.0"/><circle cx="635.3" cy="842.6" r="2.0"/><circle cx="630.7" cy="846.0" r="2.0"/><circle cx="634.0" cy="849.8" r="2.0"/><circle cx="652.8" cy="839.6" r="2.0"/><circle cx="651.1" cy="842.6" r="2.0"/><circle cx="647.4" cy="849.0" r="2.0"/><circle cx="651.6" cy="849.0" r="2.0"/><circle cx="680.8" cy="840.9" r="2.0"/><circle cx="683.3" cy="843.5" r="2.0"/><circle cx="675.8" cy="844.7" r="2.0"/><circle cx="691.6" cy="843.9" r="2.0"/><circle cx="690.8" cy="847.7" r="2.0"/><circle cx="704.5" cy="843.0" r="2.0"/><circle cx="707.5" cy="847.7" r="2.0"/><circle cx="724.1" cy="845.2" r="2.0"/><circle cx="694.9" cy="851.6" r="2.0"/><circle cx="701.2" cy="855.0" r="2.0"/><circle cx="641.1" cy="855.8" r="2.0"/><circle cx="683.3" cy="856.2" r="2.0"/><circle cx="734.2" cy="815.9" r="2.0"/><circle cx="748.3" cy="846.4" r="2.0"/><circle cx="744.2" cy="852.0" r="2.0"/><circle cx="747.1" cy="855.8" r="2.0"/><circle cx="738.7" cy="857.5" r="2.0"/><circle cx="739.2" cy="764.4" r="2.0"/><circle cx="753.3" cy="769.3" r="2.0"/><circle cx="755.8" cy="771.8" r="2.0"/><circle cx="758.7" cy="774.0" r="2.0"/><circle cx="753.7" cy="783.8" r="2.0"/><circle cx="756.6" cy="801.7" r="2.0"/><circle cx="762.9" cy="818.3" r="2.0"/><circle cx="762.9" cy="785.5" r="2.0"/><circle cx="762.1" cy="793.1" r="2.0"/><circle cx="766.7" cy="792.3" r="2.0"/><circle cx="771.2" cy="794.0" r="2.0"/><circle cx="765.0" cy="798.7" r="2.0"/><circle cx="763.7" cy="805.5" r="2.0"/><circle cx="760.8" cy="809.3" r="2.0"/><circle cx="758.3" cy="811.5" r="2.0"/><circle cx="788.8" cy="816.6" r="2.0"/><circle cx="785.0" cy="818.7" r="2.0"/><circle cx="781.3" cy="823.4" r="2.0"/><circle cx="760.8" cy="825.1" r="2.0"/><circle cx="762.9" cy="827.3" r="2.0"/><circle cx="759.2" cy="848.1" r="2.0"/><circle cx="746.6" cy="852.4" r="2.0"/><circle cx="757.1" cy="857.1" r="2.0"/><circle cx="785.4" cy="847.7" r="2.0"/><circle cx="787.5" cy="851.6" r="2.0"/><circle cx="782.5" cy="852.8" r="2.0"/><circle cx="791.3" cy="857.1" r="2.0"/><circle cx="801.3" cy="846.9" r="2.0"/><circle cx="807.5" cy="849.4" r="2.0"/><circle cx="810.0" cy="852.0" r="2.0"/><circle cx="801.3" cy="857.5" r="2.0"/><circle cx="805.5" cy="857.5" r="2.0"/><circle cx="686.2" cy="861.0" r="2.0"/><circle cx="680.8" cy="861.5" r="2.0"/><circle cx="676.6" cy="862.3" r="2.0"/><circle cx="702.9" cy="861.9" r="2.0"/><circle cx="710.4" cy="861.0" r="2.0"/><circle cx="724.6" cy="862.3" r="2.0"/><circle cx="727.1" cy="867.0" r="2.0"/><circle cx="662.0" cy="868.3" r="2.0"/><circle cx="679.9" cy="867.9" r="2.0"/><circle cx="672.8" cy="867.4" r="2.0"/><circle cx="669.5" cy="869.6" r="2.0"/><circle cx="669.5" cy="873.8" r="2.0"/><circle cx="676.6" cy="881.9" r="2.0"/><circle cx="669.5" cy="884.1" r="2.0"/><circle cx="680.3" cy="886.6" r="2.0"/><circle cx="672.8" cy="890.0" r="2.0"/><circle cx="667.0" cy="892.6" r="2.0"/><circle cx="667.8" cy="896.4" r="2.0"/><circle cx="638.2" cy="894.7" r="2.0"/><circle cx="700.4" cy="893.9" r="2.0"/><circle cx="696.6" cy="895.1" r="2.0"/><circle cx="693.3" cy="896.4" r="2.0"/><circle cx="712.5" cy="891.7" r="2.0"/><circle cx="710.0" cy="893.9" r="2.0"/><circle cx="720.4" cy="894.7" r="2.0"/><circle cx="684.5" cy="902.4" r="2.0"/><circle cx="729.6" cy="900.7" r="2.0"/><circle cx="722.5" cy="902.4" r="2.0"/><circle cx="726.2" cy="904.1" r="2.0"/><circle cx="722.5" cy="906.7" r="2.0"/><circle cx="725.8" cy="907.9" r="2.0"/><circle cx="669.1" cy="906.7" r="2.0"/><circle cx="678.3" cy="911.8" r="2.0"/><circle cx="716.2" cy="912.6" r="2.0"/><circle cx="734.2" cy="912.2" r="2.0"/><circle cx="723.3" cy="922.4" r="2.0"/><circle cx="647.0" cy="930.1" r="2.0"/><circle cx="666.6" cy="929.7" r="2.0"/><circle cx="674.1" cy="931.0" r="2.0"/><circle cx="648.6" cy="934.4" r="2.0"/><circle cx="652.8" cy="936.5" r="2.0"/><circle cx="650.3" cy="939.1" r="2.0"/><circle cx="657.4" cy="940.8" r="2.0"/><circle cx="662.0" cy="938.6" r="2.0"/><circle cx="661.6" cy="942.5" r="2.0"/><circle cx="670.7" cy="938.6" r="2.0"/><circle cx="668.2" cy="942.5" r="2.0"/><circle cx="665.7" cy="945.9" r="2.0"/><circle cx="679.9" cy="940.8" r="2.0"/><circle cx="660.3" cy="948.4" r="2.0"/><circle cx="677.0" cy="946.3" r="2.0"/><circle cx="679.9" cy="948.0" r="2.0"/><circle cx="684.1" cy="947.2" r="2.0"/><circle cx="688.3" cy="949.7" r="2.0"/><circle cx="704.5" cy="940.3" r="2.0"/><circle cx="720.8" cy="933.9" r="2.0"/><circle cx="682.0" cy="958.2" r="2.0"/><circle cx="674.1" cy="906.2" r="2.0"/><circle cx="678.3" cy="907.1" r="2.0"/><circle cx="681.6" cy="908.4" r="2.0"/><circle cx="684.9" cy="909.2" r="2.0"/><circle cx="688.3" cy="909.2" r="2.0"/><circle cx="696.6" cy="913.1" r="2.0"/><circle cx="715.4" cy="861.9" r="2.0"/><circle cx="738.3" cy="866.6" r="2.0"/><circle cx="744.6" cy="863.6" r="2.0"/><circle cx="735.0" cy="875.5" r="2.0"/><circle cx="738.3" cy="878.5" r="2.0"/><circle cx="743.3" cy="871.7" r="2.0"/><circle cx="747.1" cy="873.0" r="2.0"/><circle cx="750.0" cy="869.1" r="2.0"/><circle cx="733.3" cy="907.1" r="2.0"/><circle cx="739.2" cy="910.5" r="2.0"/><circle cx="748.8" cy="910.9" r="2.0"/><circle cx="740.4" cy="928.0" r="2.0"/><circle cx="740.4" cy="934.8" r="2.0"/><circle cx="732.1" cy="939.9" r="2.0"/><circle cx="749.2" cy="941.6" r="2.0"/><circle cx="749.2" cy="887.9" r="2.0"/><circle cx="737.5" cy="928.8" r="2.0"/><circle cx="747.5" cy="931.8" r="2.0"/><circle cx="733.7" cy="936.1" r="2.0"/><circle cx="721.6" cy="942.5" r="2.0"/><circle cx="722.9" cy="945.5" r="2.0"/><circle cx="737.1" cy="944.2" r="2.0"/><circle cx="672.8" cy="947.6" r="2.0"/><circle cx="672.4" cy="951.0" r="2.0"/><circle cx="672.0" cy="954.0" r="2.0"/><circle cx="709.1" cy="947.2" r="2.0"/><circle cx="713.3" cy="948.4" r="2.0"/><circle cx="732.9" cy="948.0" r="2.0"/><circle cx="730.8" cy="951.0" r="2.0"/><circle cx="720.0" cy="951.4" r="2.0"/><circle cx="724.1" cy="951.9" r="2.0"/><circle cx="697.9" cy="954.4" r="2.0"/><circle cx="705.0" cy="953.6" r="2.0"/><circle cx="707.9" cy="953.1" r="2.0"/><circle cx="714.5" cy="956.5" r="2.0"/><circle cx="725.8" cy="956.1" r="2.0"/><circle cx="735.4" cy="954.8" r="2.0"/><circle cx="745.8" cy="952.7" r="2.0"/><circle cx="760.0" cy="867.9" r="2.0"/><circle cx="787.1" cy="864.5" r="2.0"/><circle cx="796.7" cy="865.3" r="2.0"/><circle cx="792.5" cy="868.7" r="2.0"/><circle cx="799.6" cy="868.3" r="2.0"/><circle cx="794.2" cy="872.1" r="2.0"/><circle cx="800.5" cy="871.3" r="2.0"/><circle cx="810.5" cy="863.6" r="2.0"/><circle cx="808.4" cy="866.6" r="2.0"/><circle cx="807.5" cy="869.6" r="2.0"/><circle cx="813.0" cy="871.7" r="2.0"/><circle cx="785.8" cy="875.1" r="2.0"/><circle cx="779.2" cy="876.4" r="2.0"/><circle cx="804.6" cy="879.4" r="2.0"/><circle cx="807.1" cy="881.5" r="2.0"/><circle cx="815.1" cy="881.1" r="2.0"/><circle cx="781.3" cy="882.4" r="2.0"/><circle cx="791.3" cy="884.5" r="2.0"/><circle cx="750.4" cy="887.9" r="2.0"/><circle cx="775.4" cy="886.6" r="2.0"/><circle cx="769.2" cy="888.8" r="2.0"/><circle cx="769.6" cy="892.2" r="2.0"/><circle cx="785.0" cy="889.2" r="2.0"/><circle cx="787.5" cy="893.0" r="2.0"/><circle cx="797.1" cy="891.3" r="2.0"/><circle cx="775.0" cy="896.0" r="2.0"/><circle cx="813.8" cy="896.4" r="2.0"/><circle cx="763.7" cy="899.0" r="2.0"/><circle cx="781.7" cy="899.0" r="2.0"/><circle cx="775.8" cy="902.0" r="2.0"/><circle cx="780.4" cy="903.2" r="2.0"/><circle cx="789.2" cy="905.4" r="2.0"/><circle cx="775.4" cy="906.7" r="2.0"/><circle cx="782.9" cy="909.2" r="2.0"/><circle cx="800.5" cy="908.4" r="2.0"/><circle cx="811.3" cy="909.2" r="2.0"/><circle cx="793.4" cy="914.3" r="2.0"/><circle cx="819.6" cy="919.0" r="2.0"/><circle cx="801.3" cy="922.9" r="2.0"/><circle cx="804.6" cy="923.3" r="2.0"/><circle cx="791.3" cy="926.7" r="2.0"/><circle cx="765.0" cy="925.4" r="2.0"/><circle cx="768.7" cy="929.3" r="2.0"/><circle cx="765.8" cy="928.0" r="2.0"/><circle cx="826.3" cy="928.4" r="2.0"/><circle cx="826.7" cy="933.5" r="2.0"/><circle cx="783.3" cy="931.4" r="2.0"/><circle cx="763.3" cy="932.7" r="2.0"/><circle cx="759.6" cy="934.8" r="2.0"/><circle cx="764.6" cy="936.1" r="2.0"/><circle cx="773.8" cy="937.4" r="2.0"/><circle cx="757.9" cy="939.1" r="2.0"/><circle cx="796.3" cy="933.9" r="2.0"/><circle cx="800.0" cy="933.5" r="2.0"/><circle cx="793.8" cy="938.2" r="2.0"/><circle cx="766.2" cy="907.5" r="2.0"/><circle cx="779.6" cy="913.9" r="2.0"/><circle cx="773.3" cy="916.5" r="2.0"/><circle cx="780.0" cy="922.9" r="2.0"/><circle cx="821.7" cy="927.6" r="2.0"/><circle cx="813.8" cy="931.0" r="2.0"/><circle cx="800.9" cy="940.3" r="2.0"/><circle cx="808.8" cy="939.9" r="2.0"/><circle cx="818.8" cy="939.1" r="2.0"/><circle cx="817.6" cy="943.3" r="2.0"/><circle cx="755.4" cy="945.5" r="2.0"/><circle cx="766.2" cy="945.9" r="2.0"/><circle cx="762.9" cy="948.4" r="2.0"/><circle cx="780.8" cy="946.3" r="2.0"/><circle cx="797.5" cy="947.6" r="2.0"/><circle cx="812.1" cy="949.3" r="2.0"/><circle cx="805.0" cy="951.0" r="2.0"/><circle cx="818.0" cy="952.3" r="2.0"/><circle cx="824.6" cy="951.4" r="2.0"/><circle cx="833.0" cy="952.3" r="2.0"/><circle cx="773.3" cy="952.7" r="2.0"/><circle cx="780.8" cy="954.0" r="2.0"/><circle cx="786.7" cy="954.4" r="2.0"/><circle cx="767.9" cy="955.7" r="2.0"/><circle cx="827.1" cy="955.3" r="2.0"/><circle cx="808.4" cy="955.7" r="2.0"/><circle cx="627.8" cy="964.8" r="2.0"/><circle cx="663.2" cy="991.6" r="2.0"/><circle cx="660.3" cy="998.0" r="2.0"/><circle cx="666.2" cy="998.0" r="2.0"/><circle cx="664.1" cy="1005.3" r="2.0"/><circle cx="662.8" cy="1008.2" r="2.0"/><circle cx="671.2" cy="1012.5" r="2.0"/><circle cx="659.1" cy="1016.8" r="2.0"/><circle cx="666.6" cy="1018.5" r="2.0"/><circle cx="674.5" cy="1011.9" r="2.0"/><circle cx="669.5" cy="1019.1" r="2.0"/><circle cx="702.9" cy="994.9" r="2.0"/><circle cx="731.2" cy="960.9" r="2.0"/><circle cx="722.1" cy="963.5" r="2.0"/><circle cx="689.5" cy="964.3" r="2.0"/><circle cx="692.9" cy="966.9" r="2.0"/><circle cx="749.6" cy="968.2" r="2.0"/><circle cx="719.6" cy="976.7" r="2.0"/><circle cx="727.5" cy="975.0" r="2.0"/><circle cx="731.7" cy="978.0" r="2.0"/><circle cx="750.0" cy="983.5" r="2.0"/><circle cx="728.3" cy="989.5" r="2.0"/><circle cx="726.2" cy="993.3" r="2.0"/><circle cx="728.3" cy="996.3" r="2.0"/><circle cx="707.9" cy="998.0" r="2.0"/><circle cx="736.2" cy="1001.8" r="2.0"/><circle cx="742.1" cy="1010.4" r="2.0"/><circle cx="745.4" cy="1011.6" r="2.0"/><circle cx="733.7" cy="1017.2" r="2.0"/><circle cx="737.9" cy="1016.8" r="2.0"/><circle cx="747.1" cy="1016.3" r="2.0"/><circle cx="734.2" cy="1021.0" r="2.0"/><circle cx="739.6" cy="1023.6" r="2.0"/><circle cx="730.0" cy="1027.0" r="2.0"/><circle cx="770.4" cy="955.4" r="2.0"/><circle cx="783.3" cy="960.5" r="2.0"/><circle cx="806.7" cy="960.5" r="2.0"/><circle cx="814.2" cy="960.9" r="2.0"/><circle cx="819.6" cy="960.5" r="2.0"/><circle cx="827.6" cy="960.1" r="2.0"/><circle cx="780.0" cy="966.5" r="2.0"/><circle cx="790.0" cy="966.9" r="2.0"/><circle cx="752.9" cy="966.9" r="2.0"/><circle cx="809.6" cy="967.7" r="2.0"/><circle cx="802.5" cy="970.3" r="2.0"/><circle cx="805.0" cy="974.1" r="2.0"/><circle cx="812.1" cy="974.1" r="2.0"/><circle cx="816.3" cy="974.1" r="2.0"/><circle cx="826.7" cy="972.4" r="2.0"/><circle cx="778.8" cy="977.1" r="2.0"/><circle cx="782.1" cy="977.1" r="2.0"/><circle cx="791.7" cy="981.0" r="2.0"/><circle cx="799.2" cy="980.5" r="2.0"/><circle cx="801.3" cy="978.8" r="2.0"/><circle cx="812.1" cy="978.8" r="2.0"/><circle cx="820.9" cy="982.7" r="2.0"/><circle cx="824.2" cy="982.7" r="2.0"/><circle cx="828.0" cy="982.7" r="2.0"/><circle cx="767.1" cy="983.1" r="2.0"/><circle cx="808.8" cy="986.1" r="2.0"/><circle cx="777.9" cy="988.6" r="2.0"/><circle cx="785.4" cy="990.8" r="2.0"/><circle cx="789.6" cy="987.8" r="2.0"/><circle cx="795.0" cy="990.8" r="2.0"/><circle cx="797.5" cy="989.1" r="2.0"/><circle cx="807.5" cy="990.8" r="2.0"/><circle cx="809.6" cy="995.4" r="2.0"/><circle cx="820.5" cy="989.1" r="2.0"/><circle cx="758.3" cy="989.9" r="2.0"/><circle cx="760.0" cy="992.9" r="2.0"/><circle cx="769.2" cy="993.7" r="2.0"/><circle cx="776.3" cy="995.9" r="2.0"/><circle cx="802.1" cy="997.2" r="2.0"/><circle cx="787.1" cy="1000.1" r="2.0"/><circle cx="822.1" cy="999.7" r="2.0"/><circle cx="763.3" cy="1002.7" r="2.0"/><circle cx="805.5" cy="1004.4" r="2.0"/><circle cx="797.1" cy="1006.1" r="2.0"/><circle cx="817.1" cy="1006.5" r="2.0"/><circle cx="758.3" cy="1007.8" r="2.0"/><circle cx="760.8" cy="1007.8" r="2.0"/><circle cx="813.8" cy="1012.5" r="2.0"/><circle cx="747.1" cy="1013.8" r="2.0"/><circle cx="758.7" cy="1015.9" r="2.0"/><circle cx="800.5" cy="1015.1" r="2.0"/><circle cx="822.1" cy="1017.6" r="2.0"/><circle cx="795.4" cy="1021.0" r="2.0"/><circle cx="799.6" cy="1021.5" r="2.0"/><circle cx="803.8" cy="1021.9" r="2.0"/><circle cx="755.4" cy="1021.0" r="2.0"/><circle cx="752.9" cy="1024.9" r="2.0"/><circle cx="762.9" cy="1023.2" r="2.0"/><circle cx="769.2" cy="1025.7" r="2.0"/><circle cx="763.3" cy="1028.3" r="2.0"/><circle cx="813.8" cy="1024.9" r="2.0"/><circle cx="780.8" cy="1027.4" r="2.0"/><circle cx="777.9" cy="1029.6" r="2.0"/><circle cx="774.6" cy="1030.8" r="2.0"/><circle cx="819.6" cy="1029.1" r="2.0"/><circle cx="793.4" cy="1029.1" r="2.0"/><circle cx="796.7" cy="1033.4" r="2.0"/><circle cx="819.2" cy="1033.0" r="2.0"/><circle cx="818.0" cy="1036.4" r="2.0"/><circle cx="757.5" cy="1031.7" r="2.0"/><circle cx="764.2" cy="1032.5" r="2.0"/><circle cx="758.7" cy="1036.4" r="2.0"/><circle cx="768.3" cy="1035.9" r="2.0"/><circle cx="787.9" cy="1038.5" r="2.0"/><circle cx="775.4" cy="1037.7" r="2.0"/><circle cx="779.6" cy="1038.1" r="2.0"/><circle cx="774.6" cy="1040.2" r="2.0"/><circle cx="782.5" cy="1041.9" r="2.0"/><circle cx="777.1" cy="1042.8" r="2.0"/><circle cx="780.4" cy="1044.5" r="2.0"/><circle cx="699.2" cy="764.5" r="2.0"/><circle cx="688.0" cy="767.5" r="2.0"/><circle cx="735.3" cy="768.5" r="2.0"/><circle cx="746.5" cy="777.1" r="2.0"/><circle cx="710.7" cy="780.5" r="2.0"/><circle cx="679.5" cy="783.1" r="2.0"/><circle cx="697.6" cy="788.5" r="2.0"/><circle cx="728.6" cy="798.7" r="2.0"/><circle cx="741.9" cy="798.5" r="2.0"/><circle cx="738.3" cy="798.4" r="2.0"/><circle cx="699.9" cy="805.4" r="2.0"/><circle cx="719.2" cy="807.4" r="2.0"/><circle cx="743.2" cy="805.4" r="2.0"/><circle cx="673.9" cy="814.1" r="2.0"/><circle cx="696.9" cy="803.2" r="2.0"/><circle cx="733.5" cy="816.1" r="2.0"/><circle cx="705.3" cy="824.1" r="2.0"/><circle cx="680.6" cy="822.5" r="2.0"/><circle cx="696.9" cy="822.1" r="2.0"/><circle cx="733.9" cy="823.4" r="2.0"/><circle cx="728.0" cy="830.0" r="2.0"/><circle cx="679.9" cy="824.2" r="2.0"/><circle cx="676.4" cy="830.8" r="2.0"/><circle cx="683.6" cy="833.8" r="2.0"/><circle cx="633.0" cy="844.1" r="2.0"/><circle cx="637.1" cy="847.2" r="2.0"/><circle cx="651.1" cy="845.7" r="2.0"/><circle cx="647.9" cy="853.1" r="2.0"/><circle cx="655.5" cy="850.3" r="2.0"/><circle cx="695.9" cy="855.6" r="2.0"/><circle cx="762.5" cy="771.9" r="2.0"/><circle cx="757.9" cy="783.0" r="2.0"/><circle cx="765.2" cy="816.6" r="2.0"/><circle cx="768.5" cy="795.6" r="2.0"/><circle cx="765.0" cy="809.4" r="2.0"/><circle cx="760.4" cy="809.4" r="2.0"/><circle cx="757.6" cy="845.3" r="2.0"/><circle cx="786.1" cy="853.6" r="2.0"/><circle cx="807.5" cy="855.0" r="2.0"/><circle cx="807.6" cy="854.0" r="2.0"/><circle cx="683.0" cy="860.1" r="2.0"/><circle cx="698.6" cy="862.3" r="2.0"/><circle cx="713.1" cy="863.5" r="2.0"/><circle cx="671.7" cy="867.5" r="2.0"/><circle cx="674.9" cy="887.9" r="2.0"/><circle cx="663.8" cy="892.7" r="2.0"/><circle cx="695.3" cy="898.5" r="2.0"/><circle cx="720.5" cy="898.9" r="2.0"/><circle cx="653.2" cy="933.2" r="2.0"/><circle cx="659.9" cy="942.2" r="2.0"/><circle cx="664.2" cy="940.5" r="2.0"/><circle cx="676.5" cy="943.2" r="2.0"/><circle cx="658.5" cy="945.7" r="2.0"/><circle cx="684.1" cy="948.6" r="2.0"/><circle cx="679.0" cy="956.5" r="2.0"/><circle cx="736.1" cy="875.4" r="2.0"/><circle cx="747.5" cy="891.2" r="2.0"/><circle cx="734.8" cy="945.6" r="2.0"/><circle cx="669.2" cy="946.6" r="2.0"/><circle cx="736.8" cy="949.8" r="2.0"/><circle cx="704.8" cy="956.6" r="2.0"/><circle cx="735.6" cy="958.0" r="2.0"/><circle cx="760.9" cy="864.1" r="2.0"/><circle cx="789.6" cy="868.3" r="2.0"/><circle cx="802.7" cy="868.9" r="2.0"/><circle cx="798.2" cy="873.8" r="2.0"/><circle cx="803.4" cy="868.8" r="2.0"/><circle cx="793.2" cy="881.6" r="2.0"/><circle cx="752.4" cy="891.5" r="2.0"/><circle cx="772.5" cy="889.1" r="2.0"/><circle cx="799.0" cy="889.4" r="2.0"/><circle cx="816.0" cy="899.9" r="2.0"/><circle cx="778.4" cy="897.8" r="2.0"/><circle cx="782.4" cy="899.3" r="2.0"/><circle cx="798.2" cy="920.0" r="2.0"/><circle cx="763.7" cy="925.7" r="2.0"/><circle cx="813.0" cy="927.5" r="2.0"/><circle cx="819.7" cy="941.8" r="2.0"/><circle cx="766.9" cy="947.9" r="2.0"/><circle cx="799.6" cy="944.5" r="2.0"/><circle cx="804.7" cy="948.2" r="2.0"/><circle cx="822.0" cy="954.7" r="2.0"/><circle cx="778.1" cy="956.4" r="2.0"/><circle cx="783.1" cy="956.7" r="2.0"/><circle cx="806.9" cy="951.9" r="2.0"/><circle cx="707.0" cy="995.3" r="2.0"/><circle cx="722.2" cy="960.1" r="2.0"/><circle cx="724.8" cy="974.8" r="2.0"/><circle cx="730.7" cy="982.1" r="2.0"/><circle cx="750.2" cy="980.6" r="2.0"/><circle cx="728.7" cy="995.0" r="2.0"/><circle cx="743.6" cy="1014.6" r="2.0"/><circle cx="738.1" cy="1020.9" r="2.0"/><circle cx="750.2" cy="1015.8" r="2.0"/><circle cx="772.1" cy="952.9" r="2.0"/><circle cx="807.0" cy="957.5" r="2.0"/><circle cx="817.3" cy="961.6" r="2.0"/><circle cx="810.6" cy="972.0" r="2.0"/><circle cx="819.4" cy="971.9" r="2.0"/><circle cx="783.0" cy="979.9" r="2.0"/><circle cx="768.8" cy="985.6" r="2.0"/><circle cx="806.1" cy="984.7" r="2.0"/><circle cx="805.1" cy="994.3" r="2.0"/><circle cx="812.6" cy="996.0" r="2.0"/><circle cx="774.9" cy="999.6" r="2.0"/><circle cx="784.7" cy="1002.6" r="2.0"/><circle cx="809.3" cy="1005.2" r="2.0"/><circle cx="757.3" cy="1011.3" r="2.0"/><circle cx="797.7" cy="1012.6" r="2.0"/><circle cx="795.9" cy="1023.0" r="2.0"/><circle cx="806.6" cy="1022.7" r="2.0"/><circle cx="752.5" cy="1022.3" r="2.0"/><circle cx="760.8" cy="1026.3" r="2.0"/><circle cx="779.0" cy="1030.5" r="2.0"/><circle cx="790.5" cy="1029.7" r="2.0"/><circle cx="756.6" cy="1028.1" r="2.0"/><circle cx="765.9" cy="1028.8" r="2.0"/><circle cx="762.4" cy="1034.9" r="2.0"/><circle cx="778.6" cy="1038.9" r="2.0"/><circle cx="771.5" cy="1040.8" r="2.0"/><circle cx="682.7" cy="838.9" r="2.0"/><circle cx="685.8" cy="847.3" r="2.0"/><circle cx="683.7" cy="855.7" r="2.0"/><circle cx="768.8" cy="865.1" r="2.0"/><circle cx="774.9" cy="873.5" r="2.0"/><circle cx="771.8" cy="881.9" r="2.0"/><circle cx="776.9" cy="886.1" r="2.0"/><circle cx="761.6" cy="978.2" r="2.0"/><circle cx="768.8" cy="985.5" r="2.0"/><circle cx="764.7" cy="992.8" r="2.0"/><circle cx="772.9" cy="996.0" r="2.0"/><circle cx="759.5" cy="997.0" r="2.0"/>
</g>
<circle cx="504.7" cy="840.0" r="1.8" fill="#f26a4a"/>
<circle cx="780.8" cy="824.7" r="2.4" fill="#c81010"/>
<circle cx="496.6" cy="961.1" r="2.1" fill="#6e0a0c"/>
<circle cx="509.2" cy="956.3" r="2.1" fill="#a5121a"/>
<circle cx="508.4" cy="965.8" r="2.1" fill="#6e0a0c"/>
<circle cx="503.4" cy="963.7" r="2.1" fill="#f26a4a"/>
<circle cx="512.6" cy="968.4" r="2.1" fill="#f26a4a"/>
<circle cx="528.9" cy="980.0" r="2.1" fill="#f26a4a"/>
<circle cx="534.7" cy="978.2" r="2.1" fill="#f26a4a"/>
<circle cx="541.3" cy="978.2" r="2.1" fill="#a5121a"/>
<circle cx="525.0" cy="986.1" r="2.1" fill="#f26a4a"/>
<circle cx="528.2" cy="991.3" r="2.1" fill="#a5121a"/>
<circle cx="537.4" cy="983.4" r="2.1" fill="#f26a4a"/>
<circle cx="537.4" cy="990.0" r="2.1" fill="#f26a4a"/>
<circle cx="546.8" cy="988.7" r="2.1" fill="#d42a25"/>
<circle cx="552.6" cy="982.1" r="2.1" fill="#d42a25"/>
<circle cx="555.3" cy="986.1" r="2.1" fill="#f26a4a"/>
<circle cx="557.9" cy="990.0" r="2.1" fill="#f26a4a"/>
<circle cx="563.2" cy="983.4" r="2.1" fill="#f26a4a"/>
<circle cx="542.9" cy="1004.5" r="2.1" fill="#d42a25"/>
<circle cx="571.6" cy="996.6" r="2.1" fill="#f26a4a"/>
<circle cx="575.0" cy="1000.0" r="2.1" fill="#f26a4a"/>
<circle cx="580.8" cy="986.6" r="2.1" fill="#f26a4a"/>
<circle cx="583.4" cy="993.9" r="2.1" fill="#f26a4a"/>
<circle cx="588.2" cy="1001.3" r="2.1" fill="#f26a4a"/>
<circle cx="592.1" cy="987.4" r="2.5" fill="#a5121a"/>
<circle cx="598.7" cy="991.8" r="2.1" fill="#f26a4a"/>
<g fill="#cacaca">
<circle cx="929.0" cy="832.1" r="2.0"/><circle cx="924.4" cy="834.7" r="2.0"/><circle cx="924.4" cy="838.4" r="2.0"/><circle cx="925.2" cy="838.8" r="2.0"/><circle cx="926.6" cy="838.3" r="2.0"/><circle cx="922.4" cy="840.7" r="2.0"/><circle cx="926.0" cy="843.0" r="2.0"/><circle cx="922.6" cy="847.1" r="2.0"/><circle cx="923.9" cy="845.8" r="2.0"/><circle cx="922.0" cy="849.4" r="2.0"/><circle cx="923.0" cy="851.8" r="2.0"/><circle cx="920.2" cy="849.7" r="2.0"/><circle cx="921.2" cy="852.2" r="2.0"/><circle cx="921.2" cy="856.3" r="2.0"/><circle cx="919.4" cy="856.1" r="2.0"/><circle cx="918.3" cy="859.6" r="2.0"/><circle cx="920.6" cy="860.1" r="2.0"/><circle cx="920.6" cy="861.6" r="2.0"/><circle cx="917.2" cy="862.6" r="2.0"/><circle cx="916.3" cy="866.2" r="2.0"/><circle cx="916.5" cy="866.2" r="2.0"/><circle cx="914.1" cy="869.8" r="2.0"/><circle cx="915.0" cy="873.8" r="2.0"/><circle cx="916.1" cy="878.3" r="2.0"/><circle cx="913.6" cy="882.7" r="2.0"/><circle cx="913.3" cy="888.1" r="2.0"/><circle cx="915.7" cy="899.5" r="2.0"/><circle cx="920.2" cy="891.1" r="2.0"/><circle cx="914.2" cy="897.4" r="2.0"/><circle cx="922.2" cy="897.9" r="2.0"/><circle cx="911.4" cy="900.6" r="2.0"/><circle cx="915.5" cy="891.9" r="2.0"/><circle cx="918.5" cy="903.8" r="2.0"/><circle cx="920.5" cy="896.5" r="2.0"/><circle cx="926.7" cy="894.2" r="2.0"/><circle cx="916.0" cy="890.6" r="2.0"/><circle cx="918.6" cy="898.4" r="2.0"/><circle cx="914.1" cy="902.8" r="2.0"/><circle cx="924.0" cy="890.6" r="2.0"/><circle cx="919.4" cy="896.2" r="2.0"/><circle cx="924.9" cy="896.7" r="2.0"/><circle cx="922.7" cy="903.6" r="2.0"/><circle cx="917.2" cy="901.9" r="2.0"/><circle cx="919.6" cy="904.9" r="2.0"/><circle cx="916.7" cy="903.4" r="2.0"/><circle cx="911.9" cy="895.8" r="2.0"/><circle cx="912.8" cy="897.3" r="2.0"/><circle cx="920.7" cy="894.8" r="2.0"/><circle cx="921.5" cy="900.0" r="2.0"/><circle cx="921.9" cy="898.6" r="2.0"/><circle cx="921.8" cy="910.9" r="2.0"/><circle cx="923.6" cy="909.6" r="2.0"/><circle cx="924.4" cy="915.3" r="2.0"/><circle cx="922.0" cy="914.7" r="2.0"/><circle cx="924.1" cy="918.5" r="2.0"/><circle cx="926.0" cy="921.6" r="2.0"/><circle cx="927.2" cy="923.5" r="2.0"/><circle cx="927.7" cy="923.7" r="2.0"/><circle cx="925.2" cy="928.5" r="2.0"/><circle cx="925.8" cy="929.1" r="2.0"/><circle cx="925.8" cy="931.6" r="2.0"/><circle cx="924.0" cy="934.5" r="2.0"/><circle cx="924.1" cy="937.7" r="2.0"/><circle cx="921.8" cy="940.3" r="2.0"/><circle cx="901.4" cy="926.1" r="2.0"/><circle cx="893.5" cy="924.4" r="2.0"/><circle cx="900.7" cy="921.1" r="2.0"/><circle cx="894.4" cy="917.4" r="2.0"/><circle cx="889.6" cy="921.9" r="2.0"/><circle cx="890.4" cy="916.0" r="2.0"/><circle cx="896.4" cy="914.7" r="2.0"/><circle cx="894.6" cy="924.7" r="2.0"/><circle cx="897.4" cy="926.8" r="2.0"/><circle cx="901.3" cy="913.6" r="2.0"/><circle cx="930.2" cy="963.5" r="2.0"/><circle cx="920.0" cy="956.2" r="2.0"/><circle cx="927.3" cy="946.1" r="2.0"/><circle cx="921.5" cy="953.4" r="2.0"/><circle cx="925.5" cy="953.3" r="2.0"/><circle cx="914.8" cy="948.0" r="2.0"/><circle cx="912.9" cy="947.0" r="2.0"/><circle cx="914.1" cy="955.3" r="2.0"/><circle cx="918.9" cy="951.3" r="2.0"/><circle cx="918.6" cy="943.9" r="2.0"/><circle cx="928.6" cy="956.7" r="2.0"/><circle cx="921.9" cy="954.3" r="2.0"/><circle cx="924.1" cy="957.6" r="2.0"/><circle cx="918.3" cy="953.9" r="2.0"/><circle cx="922.9" cy="949.3" r="2.0"/><circle cx="926.9" cy="941.7" r="2.0"/><circle cx="929.0" cy="953.4" r="2.0"/><circle cx="931.4" cy="950.2" r="2.0"/><circle cx="924.9" cy="941.4" r="2.0"/><circle cx="929.0" cy="951.1" r="2.0"/><circle cx="925.7" cy="943.9" r="2.0"/><circle cx="919.9" cy="957.9" r="2.0"/><circle cx="916.5" cy="960.8" r="2.0"/><circle cx="922.7" cy="942.7" r="2.0"/><circle cx="918.1" cy="954.3" r="2.0"/><circle cx="918.6" cy="956.9" r="2.0"/><circle cx="932.1" cy="962.3" r="2.0"/><circle cx="931.4" cy="963.4" r="2.0"/><circle cx="934.1" cy="963.7" r="2.0"/><circle cx="936.8" cy="967.3" r="2.0"/><circle cx="940.6" cy="967.9" r="2.0"/><circle cx="939.3" cy="971.7" r="2.0"/><circle cx="989.9" cy="994.2" r="2.0"/><circle cx="974.8" cy="988.7" r="2.0"/><circle cx="980.4" cy="975.8" r="2.0"/><circle cx="958.1" cy="983.3" r="2.0"/><circle cx="971.2" cy="999.4" r="2.0"/><circle cx="967.4" cy="982.7" r="2.0"/><circle cx="945.5" cy="970.6" r="2.0"/><circle cx="963.1" cy="973.6" r="2.0"/><circle cx="970.2" cy="996.2" r="2.0"/><circle cx="982.6" cy="997.3" r="2.0"/><circle cx="1007.3" cy="983.0" r="2.0"/><circle cx="1017.9" cy="989.6" r="2.0"/><circle cx="973.5" cy="978.3" r="2.0"/><circle cx="984.7" cy="986.4" r="2.0"/><circle cx="951.5" cy="978.2" r="2.0"/><circle cx="985.4" cy="978.6" r="2.0"/><circle cx="959.2" cy="976.1" r="2.0"/><circle cx="990.5" cy="983.9" r="2.0"/><circle cx="1001.2" cy="995.6" r="2.0"/><circle cx="1015.5" cy="987.1" r="2.0"/><circle cx="981.8" cy="983.1" r="2.0"/><circle cx="1008.5" cy="1000.4" r="2.0"/><circle cx="1023.7" cy="987.0" r="2.0"/><circle cx="999.5" cy="981.7" r="2.0"/><circle cx="1010.9" cy="990.0" r="2.0"/><circle cx="964.8" cy="986.3" r="2.0"/><circle cx="956.4" cy="971.1" r="2.0"/><circle cx="1001.0" cy="986.6" r="2.0"/><circle cx="991.7" cy="992.3" r="2.0"/><circle cx="955.5" cy="992.5" r="2.0"/><circle cx="1004.0" cy="978.2" r="2.0"/><circle cx="943.8" cy="975.7" r="2.0"/><circle cx="946.8" cy="978.8" r="2.0"/><circle cx="995.4" cy="989.5" r="2.0"/><circle cx="974.6" cy="972.2" r="2.0"/><circle cx="961.2" cy="986.0" r="2.0"/><circle cx="976.8" cy="984.4" r="2.0"/><circle cx="1010.6" cy="998.3" r="2.0"/><circle cx="969.1" cy="990.5" r="2.0"/><circle cx="1000.7" cy="993.5" r="2.0"/><circle cx="949.7" cy="971.3" r="2.0"/><circle cx="991.3" cy="981.5" r="2.0"/><circle cx="982.8" cy="994.4" r="2.0"/><circle cx="996.4" cy="996.5" r="2.0"/><circle cx="977.7" cy="996.0" r="2.0"/><circle cx="948.7" cy="980.0" r="2.0"/><circle cx="1024.3" cy="987.2" r="2.0"/><circle cx="975.5" cy="992.0" r="2.0"/><circle cx="961.1" cy="989.4" r="2.0"/><circle cx="994.5" cy="974.3" r="2.0"/><circle cx="949.8" cy="984.2" r="2.0"/><circle cx="996.0" cy="998.3" r="2.0"/><circle cx="952.5" cy="986.7" r="2.0"/><circle cx="1010.1" cy="991.3" r="2.0"/><circle cx="1019.8" cy="987.6" r="2.0"/><circle cx="993.7" cy="985.5" r="2.0"/><circle cx="965.5" cy="976.3" r="2.0"/><circle cx="948.3" cy="975.4" r="2.0"/><circle cx="950.6" cy="976.7" r="2.0"/><circle cx="990.9" cy="997.8" r="2.0"/><circle cx="1007.4" cy="987.6" r="2.0"/><circle cx="964.0" cy="989.9" r="2.0"/><circle cx="955.8" cy="978.9" r="2.0"/><circle cx="974.5" cy="988.9" r="2.0"/><circle cx="999.3" cy="989.9" r="2.0"/><circle cx="972.6" cy="986.4" r="2.0"/><circle cx="975.4" cy="975.8" r="2.0"/><circle cx="971.9" cy="994.6" r="2.0"/><circle cx="955.2" cy="978.9" r="2.0"/><circle cx="971.3" cy="983.9" r="2.0"/><circle cx="969.6" cy="976.1" r="2.0"/><circle cx="1018.2" cy="986.2" r="2.0"/><circle cx="963.6" cy="997.0" r="2.0"/><circle cx="979.1" cy="979.5" r="2.0"/><circle cx="956.4" cy="994.1" r="2.0"/><circle cx="952.2" cy="985.8" r="2.0"/><circle cx="985.3" cy="982.8" r="2.0"/><circle cx="973.0" cy="994.7" r="2.0"/><circle cx="959.7" cy="984.2" r="2.0"/><circle cx="978.9" cy="986.2" r="2.0"/><circle cx="1005.8" cy="988.1" r="2.0"/><circle cx="980.5" cy="993.0" r="2.0"/><circle cx="986.2" cy="984.7" r="2.0"/><circle cx="1018.7" cy="990.1" r="2.0"/><circle cx="937.3" cy="839.1" r="2.0"/><circle cx="902.7" cy="939.2" r="2.0"/><circle cx="965.5" cy="1000.4" r="2.0"/><circle cx="989.8" cy="1004.3" r="2.0"/><circle cx="920.6" cy="849.8" r="2.0"/><circle cx="1118.9" cy="767.5" r="2.0"/><circle cx="1107.3" cy="771.1" r="2.0"/><circle cx="1104.8" cy="775.0" r="2.0"/><circle cx="1104.4" cy="782.5" r="2.0"/><circle cx="1146.4" cy="778.1" r="2.0"/><circle cx="1160.6" cy="774.2" r="2.0"/><circle cx="1166.4" cy="780.0" r="2.0"/><circle cx="1169.7" cy="784.1" r="2.0"/><circle cx="1172.2" cy="785.4" r="2.0"/><circle cx="1120.2" cy="783.7" r="2.0"/><circle cx="1127.7" cy="782.9" r="2.0"/><circle cx="1134.3" cy="781.6" r="2.0"/><circle cx="1133.5" cy="784.1" r="2.0"/><circle cx="1113.5" cy="784.5" r="2.0"/><circle cx="1116.4" cy="788.7" r="2.0"/><circle cx="1104.8" cy="789.9" r="2.0"/><circle cx="1111.0" cy="792.8" r="2.0"/><circle cx="1122.7" cy="792.4" r="2.0"/><circle cx="1141.8" cy="790.8" r="2.0"/><circle cx="1157.2" cy="791.6" r="2.0"/><circle cx="1149.3" cy="793.2" r="2.0"/><circle cx="1171.4" cy="793.7" r="2.0"/><circle cx="1105.2" cy="796.6" r="2.0"/><circle cx="1114.3" cy="798.2" r="2.0"/><circle cx="1140.2" cy="796.6" r="2.0"/><circle cx="1098.5" cy="799.9" r="2.0"/><circle cx="1123.9" cy="798.2" r="2.0"/><circle cx="1128.9" cy="797.8" r="2.0"/><circle cx="1126.0" cy="801.1" r="2.0"/><circle cx="1133.1" cy="800.3" r="2.0"/><circle cx="1152.2" cy="799.0" r="2.0"/><circle cx="1160.6" cy="801.5" r="2.0"/><circle cx="1163.9" cy="803.2" r="2.0"/><circle cx="1127.3" cy="804.4" r="2.0"/><circle cx="1156.4" cy="803.6" r="2.0"/><circle cx="1124.8" cy="807.8" r="2.0"/><circle cx="1143.9" cy="805.7" r="2.0"/><circle cx="1143.9" cy="808.2" r="2.0"/><circle cx="1148.9" cy="806.1" r="2.0"/><circle cx="1153.9" cy="806.1" r="2.0"/><circle cx="1157.2" cy="806.9" r="2.0"/><circle cx="1162.7" cy="808.2" r="2.0"/><circle cx="1172.7" cy="809.0" r="2.0"/><circle cx="1098.5" cy="811.5" r="2.0"/><circle cx="1097.7" cy="815.2" r="2.0"/><circle cx="1116.8" cy="811.5" r="2.0"/><circle cx="1120.6" cy="811.1" r="2.0"/><circle cx="1116.0" cy="816.1" r="2.0"/><circle cx="1128.9" cy="813.6" r="2.0"/><circle cx="1153.9" cy="812.7" r="2.0"/><circle cx="1156.8" cy="815.6" r="2.0"/><circle cx="1122.7" cy="816.5" r="2.0"/><circle cx="1121.8" cy="819.8" r="2.0"/><circle cx="1127.3" cy="819.4" r="2.0"/><circle cx="1124.8" cy="822.3" r="2.0"/><circle cx="1128.9" cy="824.3" r="2.0"/><circle cx="1126.4" cy="824.3" r="2.0"/><circle cx="1106.0" cy="823.1" r="2.0"/><circle cx="1095.6" cy="824.3" r="2.0"/><circle cx="1116.4" cy="824.8" r="2.0"/><circle cx="1138.5" cy="826.8" r="2.0"/><circle cx="1149.3" cy="825.6" r="2.0"/><circle cx="1152.7" cy="824.3" r="2.0"/><circle cx="1161.0" cy="828.9" r="2.0"/><circle cx="1147.7" cy="832.2" r="2.0"/><circle cx="1103.5" cy="830.2" r="2.0"/><circle cx="1101.9" cy="833.9" r="2.0"/><circle cx="1066.5" cy="834.3" r="2.0"/><circle cx="1109.8" cy="837.6" r="2.0"/><circle cx="1119.3" cy="840.1" r="2.0"/><circle cx="1093.1" cy="840.5" r="2.0"/><circle cx="1061.0" cy="842.2" r="2.0"/><circle cx="1057.7" cy="845.5" r="2.0"/><circle cx="1053.1" cy="848.8" r="2.0"/><circle cx="1056.5" cy="852.6" r="2.0"/><circle cx="1075.2" cy="842.6" r="2.0"/><circle cx="1073.5" cy="845.5" r="2.0"/><circle cx="1069.8" cy="851.7" r="2.0"/><circle cx="1074.0" cy="851.7" r="2.0"/><circle cx="1103.1" cy="843.8" r="2.0"/><circle cx="1105.6" cy="846.3" r="2.0"/><circle cx="1098.1" cy="847.6" r="2.0"/><circle cx="1113.9" cy="846.7" r="2.0"/><circle cx="1113.1" cy="850.5" r="2.0"/><circle cx="1126.8" cy="845.9" r="2.0"/><circle cx="1129.8" cy="850.5" r="2.0"/><circle cx="1146.4" cy="848.0" r="2.0"/><circle cx="1117.3" cy="854.2" r="2.0"/><circle cx="1123.5" cy="857.5" r="2.0"/><circle cx="1063.5" cy="858.4" r="2.0"/><circle cx="1105.6" cy="858.8" r="2.0"/><circle cx="1156.4" cy="819.5" r="2.0"/><circle cx="1170.6" cy="849.2" r="2.0"/><circle cx="1166.4" cy="854.6" r="2.0"/><circle cx="1169.3" cy="858.4" r="2.0"/><circle cx="1161.0" cy="860.0" r="2.0"/><circle cx="1161.4" cy="769.4" r="2.0"/><circle cx="1175.5" cy="774.2" r="2.0"/><circle cx="1178.0" cy="776.7" r="2.0"/><circle cx="1181.0" cy="778.7" r="2.0"/><circle cx="1176.0" cy="788.3" r="2.0"/><circle cx="1178.9" cy="805.7" r="2.0"/><circle cx="1185.1" cy="821.9" r="2.0"/><circle cx="1185.1" cy="789.9" r="2.0"/><circle cx="1184.3" cy="797.4" r="2.0"/><circle cx="1188.9" cy="796.6" r="2.0"/><circle cx="1193.4" cy="798.2" r="2.0"/><circle cx="1187.2" cy="802.8" r="2.0"/><circle cx="1185.9" cy="809.4" r="2.0"/><circle cx="1183.0" cy="813.2" r="2.0"/><circle cx="1180.5" cy="815.2" r="2.0"/><circle cx="1210.9" cy="820.2" r="2.0"/><circle cx="1207.2" cy="822.3" r="2.0"/><circle cx="1203.4" cy="826.8" r="2.0"/><circle cx="1183.0" cy="828.5" r="2.0"/><circle cx="1185.1" cy="830.6" r="2.0"/><circle cx="1181.4" cy="850.9" r="2.0"/><circle cx="1168.9" cy="855.0" r="2.0"/><circle cx="1179.3" cy="859.6" r="2.0"/><circle cx="1207.6" cy="850.5" r="2.0"/><circle cx="1209.7" cy="854.2" r="2.0"/><circle cx="1204.7" cy="855.5" r="2.0"/><circle cx="1213.4" cy="859.6" r="2.0"/><circle cx="1223.4" cy="849.6" r="2.0"/><circle cx="1229.7" cy="852.1" r="2.0"/><circle cx="1232.2" cy="854.6" r="2.0"/><circle cx="1223.4" cy="860.0" r="2.0"/><circle cx="1227.6" cy="860.0" r="2.0"/><circle cx="1108.5" cy="863.4" r="2.0"/><circle cx="1103.1" cy="863.9" r="2.0"/><circle cx="1098.9" cy="864.7" r="2.0"/><circle cx="1125.2" cy="864.3" r="2.0"/><circle cx="1132.7" cy="863.4" r="2.0"/><circle cx="1146.8" cy="864.7" r="2.0"/><circle cx="1149.3" cy="869.3" r="2.0"/><circle cx="1084.4" cy="870.5" r="2.0"/><circle cx="1102.3" cy="870.1" r="2.0"/><circle cx="1095.2" cy="869.7" r="2.0"/><circle cx="1091.9" cy="871.7" r="2.0"/><circle cx="1091.9" cy="875.9" r="2.0"/><circle cx="1098.9" cy="883.8" r="2.0"/><circle cx="1091.9" cy="885.8" r="2.0"/><circle cx="1102.7" cy="888.3" r="2.0"/><circle cx="1095.2" cy="891.6" r="2.0"/><circle cx="1089.4" cy="894.1" r="2.0"/><circle cx="1090.2" cy="897.9" r="2.0"/><circle cx="1060.6" cy="896.2" r="2.0"/><circle cx="1122.7" cy="895.4" r="2.0"/><circle cx="1118.9" cy="896.6" r="2.0"/><circle cx="1115.6" cy="897.9" r="2.0"/><circle cx="1134.8" cy="893.3" r="2.0"/><circle cx="1132.3" cy="895.4" r="2.0"/><circle cx="1142.7" cy="896.2" r="2.0"/><circle cx="1106.9" cy="903.7" r="2.0"/><circle cx="1151.8" cy="902.0" r="2.0"/><circle cx="1144.8" cy="903.7" r="2.0"/><circle cx="1148.5" cy="905.3" r="2.0"/><circle cx="1144.8" cy="907.8" r="2.0"/><circle cx="1148.1" cy="909.1" r="2.0"/><circle cx="1091.4" cy="907.8" r="2.0"/><circle cx="1100.6" cy="912.8" r="2.0"/><circle cx="1138.5" cy="913.6" r="2.0"/><circle cx="1156.4" cy="913.2" r="2.0"/><circle cx="1145.6" cy="923.2" r="2.0"/><circle cx="1069.4" cy="930.6" r="2.0"/><circle cx="1088.9" cy="930.2" r="2.0"/><circle cx="1096.4" cy="931.5" r="2.0"/><circle cx="1071.0" cy="934.8" r="2.0"/><circle cx="1075.2" cy="936.9" r="2.0"/><circle cx="1072.7" cy="939.3" r="2.0"/><circle cx="1079.8" cy="941.0" r="2.0"/><circle cx="1084.4" cy="938.9" r="2.0"/><circle cx="1083.9" cy="942.7" r="2.0"/><circle cx="1093.1" cy="938.9" r="2.0"/><circle cx="1090.6" cy="942.7" r="2.0"/><circle cx="1088.1" cy="946.0" r="2.0"/><circle cx="1102.3" cy="941.0" r="2.0"/><circle cx="1082.7" cy="948.5" r="2.0"/><circle cx="1099.4" cy="946.4" r="2.0"/><circle cx="1102.3" cy="948.1" r="2.0"/><circle cx="1106.4" cy="947.2" r="2.0"/><circle cx="1110.6" cy="949.7" r="2.0"/><circle cx="1126.8" cy="940.6" r="2.0"/><circle cx="1143.1" cy="934.4" r="2.0"/><circle cx="1104.4" cy="958.0" r="2.0"/><circle cx="1096.4" cy="907.4" r="2.0"/><circle cx="1100.6" cy="908.2" r="2.0"/><circle cx="1103.9" cy="909.5" r="2.0"/><circle cx="1107.3" cy="910.3" r="2.0"/><circle cx="1110.6" cy="910.3" r="2.0"/><circle cx="1118.9" cy="914.0" r="2.0"/><circle cx="1137.7" cy="864.3" r="2.0"/><circle cx="1160.6" cy="868.8" r="2.0"/><circle cx="1166.8" cy="865.9" r="2.0"/><circle cx="1157.2" cy="877.5" r="2.0"/><circle cx="1160.6" cy="880.5" r="2.0"/><circle cx="1165.6" cy="873.8" r="2.0"/><circle cx="1169.3" cy="875.1" r="2.0"/><circle cx="1172.2" cy="871.3" r="2.0"/><circle cx="1155.6" cy="908.2" r="2.0"/><circle cx="1161.4" cy="911.6" r="2.0"/><circle cx="1171.0" cy="912.0" r="2.0"/><circle cx="1162.7" cy="928.6" r="2.0"/><circle cx="1162.7" cy="935.2" r="2.0"/><circle cx="1154.3" cy="940.2" r="2.0"/><circle cx="1171.4" cy="941.8" r="2.0"/><circle cx="1171.4" cy="889.6" r="2.0"/><circle cx="1159.7" cy="929.4" r="2.0"/><circle cx="1169.7" cy="932.3" r="2.0"/><circle cx="1156.0" cy="936.4" r="2.0"/><circle cx="1143.9" cy="942.7" r="2.0"/><circle cx="1145.2" cy="945.6" r="2.0"/><circle cx="1159.3" cy="944.3" r="2.0"/><circle cx="1095.2" cy="947.6" r="2.0"/><circle cx="1094.8" cy="951.0" r="2.0"/><circle cx="1094.4" cy="953.9" r="2.0"/><circle cx="1131.4" cy="947.2" r="2.0"/><circle cx="1135.6" cy="948.5" r="2.0"/><circle cx="1155.2" cy="948.1" r="2.0"/><circle cx="1153.1" cy="951.0" r="2.0"/><circle cx="1142.3" cy="951.4" r="2.0"/><circle cx="1146.4" cy="951.8" r="2.0"/><circle cx="1120.2" cy="954.3" r="2.0"/><circle cx="1127.3" cy="953.4" r="2.0"/><circle cx="1130.2" cy="953.0" r="2.0"/><circle cx="1136.8" cy="956.4" r="2.0"/><circle cx="1148.1" cy="955.9" r="2.0"/><circle cx="1157.7" cy="954.7" r="2.0"/><circle cx="1168.1" cy="952.6" r="2.0"/><circle cx="1182.2" cy="870.1" r="2.0"/><circle cx="1209.3" cy="866.8" r="2.0"/><circle cx="1218.9" cy="867.6" r="2.0"/><circle cx="1214.7" cy="870.9" r="2.0"/><circle cx="1221.8" cy="870.5" r="2.0"/><circle cx="1216.4" cy="874.2" r="2.0"/><circle cx="1222.6" cy="873.4" r="2.0"/><circle cx="1232.6" cy="865.9" r="2.0"/><circle cx="1230.5" cy="868.8" r="2.0"/><circle cx="1229.7" cy="871.7" r="2.0"/><circle cx="1235.1" cy="873.8" r="2.0"/><circle cx="1208.0" cy="877.1" r="2.0"/><circle cx="1201.4" cy="878.4" r="2.0"/><circle cx="1226.8" cy="881.3" r="2.0"/><circle cx="1229.3" cy="883.4" r="2.0"/><circle cx="1237.2" cy="882.9" r="2.0"/><circle cx="1203.4" cy="884.2" r="2.0"/><circle cx="1213.4" cy="886.3" r="2.0"/><circle cx="1172.6" cy="889.6" r="2.0"/><circle cx="1197.6" cy="888.3" r="2.0"/><circle cx="1191.4" cy="890.4" r="2.0"/><circle cx="1191.8" cy="893.7" r="2.0"/><circle cx="1207.2" cy="890.8" r="2.0"/><circle cx="1209.7" cy="894.6" r="2.0"/><circle cx="1219.3" cy="892.9" r="2.0"/><circle cx="1197.2" cy="897.5" r="2.0"/><circle cx="1235.9" cy="897.9" r="2.0"/><circle cx="1185.9" cy="900.4" r="2.0"/><circle cx="1203.9" cy="900.4" r="2.0"/><circle cx="1198.0" cy="903.3" r="2.0"/><circle cx="1202.6" cy="904.5" r="2.0"/><circle cx="1211.4" cy="906.6" r="2.0"/><circle cx="1197.6" cy="907.8" r="2.0"/><circle cx="1205.1" cy="910.3" r="2.0"/><circle cx="1222.6" cy="909.5" r="2.0"/><circle cx="1233.4" cy="910.3" r="2.0"/><circle cx="1215.5" cy="915.3" r="2.0"/><circle cx="1241.8" cy="919.9" r="2.0"/><circle cx="1223.4" cy="923.6" r="2.0"/><circle cx="1226.8" cy="924.0" r="2.0"/><circle cx="1213.4" cy="927.3" r="2.0"/><circle cx="1187.2" cy="926.1" r="2.0"/><circle cx="1190.9" cy="929.8" r="2.0"/><circle cx="1188.0" cy="928.6" r="2.0"/><circle cx="1248.4" cy="929.0" r="2.0"/><circle cx="1248.8" cy="934.0" r="2.0"/><circle cx="1205.5" cy="931.9" r="2.0"/><circle cx="1185.5" cy="933.1" r="2.0"/><circle cx="1181.8" cy="935.2" r="2.0"/><circle cx="1186.8" cy="936.4" r="2.0"/><circle cx="1195.9" cy="937.7" r="2.0"/><circle cx="1180.1" cy="939.3" r="2.0"/><circle cx="1218.4" cy="934.4" r="2.0"/><circle cx="1222.2" cy="934.0" r="2.0"/><circle cx="1215.9" cy="938.5" r="2.0"/><circle cx="1188.4" cy="908.7" r="2.0"/><circle cx="1201.8" cy="914.9" r="2.0"/><circle cx="1195.5" cy="917.4" r="2.0"/><circle cx="1202.2" cy="923.6" r="2.0"/><circle cx="1243.8" cy="928.1" r="2.0"/><circle cx="1235.9" cy="931.5" r="2.0"/><circle cx="1223.0" cy="940.6" r="2.0"/><circle cx="1230.9" cy="940.2" r="2.0"/><circle cx="1240.9" cy="939.3" r="2.0"/><circle cx="1239.7" cy="943.5" r="2.0"/><circle cx="1177.6" cy="945.6" r="2.0"/><circle cx="1188.4" cy="946.0" r="2.0"/><circle cx="1185.1" cy="948.5" r="2.0"/><circle cx="1203.0" cy="946.4" r="2.0"/><circle cx="1219.7" cy="947.6" r="2.0"/><circle cx="1234.3" cy="949.3" r="2.0"/><circle cx="1227.2" cy="951.0" r="2.0"/><circle cx="1240.1" cy="952.2" r="2.0"/><circle cx="1246.8" cy="951.4" r="2.0"/><circle cx="1255.1" cy="952.2" r="2.0"/><circle cx="1195.5" cy="952.6" r="2.0"/><circle cx="1203.0" cy="953.9" r="2.0"/><circle cx="1208.9" cy="954.3" r="2.0"/><circle cx="1190.1" cy="955.5" r="2.0"/><circle cx="1249.3" cy="955.1" r="2.0"/><circle cx="1230.5" cy="955.5" r="2.0"/><circle cx="1050.2" cy="964.3" r="2.0"/><circle cx="1085.6" cy="990.5" r="2.0"/><circle cx="1082.7" cy="996.7" r="2.0"/><circle cx="1088.5" cy="996.7" r="2.0"/><circle cx="1086.4" cy="1003.7" r="2.0"/><circle cx="1085.2" cy="1006.6" r="2.0"/><circle cx="1093.5" cy="1010.8" r="2.0"/><circle cx="1081.4" cy="1014.9" r="2.0"/><circle cx="1088.9" cy="1016.6" r="2.0"/><circle cx="1096.9" cy="1010.2" r="2.0"/><circle cx="1091.9" cy="1017.2" r="2.0"/><circle cx="1125.2" cy="993.6" r="2.0"/><circle cx="1153.5" cy="960.6" r="2.0"/><circle cx="1144.3" cy="963.1" r="2.0"/><circle cx="1111.8" cy="963.9" r="2.0"/><circle cx="1115.2" cy="966.4" r="2.0"/><circle cx="1171.8" cy="967.7" r="2.0"/><circle cx="1141.8" cy="976.0" r="2.0"/><circle cx="1149.7" cy="974.3" r="2.0"/><circle cx="1153.9" cy="977.2" r="2.0"/><circle cx="1172.2" cy="982.6" r="2.0"/><circle cx="1150.6" cy="988.4" r="2.0"/><circle cx="1148.5" cy="992.1" r="2.0"/><circle cx="1150.6" cy="995.0" r="2.0"/><circle cx="1130.2" cy="996.7" r="2.0"/><circle cx="1158.5" cy="1000.4" r="2.0"/><circle cx="1164.3" cy="1008.7" r="2.0"/><circle cx="1167.7" cy="1010.0" r="2.0"/><circle cx="1156.0" cy="1015.4" r="2.0"/><circle cx="1160.2" cy="1014.9" r="2.0"/><circle cx="1169.3" cy="1014.5" r="2.0"/><circle cx="1156.4" cy="1019.1" r="2.0"/><circle cx="1161.8" cy="1021.6" r="2.0"/><circle cx="1152.2" cy="1024.9" r="2.0"/><circle cx="1192.6" cy="955.2" r="2.0"/><circle cx="1205.5" cy="960.2" r="2.0"/><circle cx="1228.8" cy="960.2" r="2.0"/><circle cx="1236.3" cy="960.6" r="2.0"/><circle cx="1241.8" cy="960.2" r="2.0"/><circle cx="1249.7" cy="959.8" r="2.0"/><circle cx="1202.2" cy="966.0" r="2.0"/><circle cx="1212.2" cy="966.4" r="2.0"/><circle cx="1175.1" cy="966.4" r="2.0"/><circle cx="1231.8" cy="967.2" r="2.0"/><circle cx="1224.7" cy="969.7" r="2.0"/><circle cx="1227.2" cy="973.5" r="2.0"/><circle cx="1234.3" cy="973.5" r="2.0"/><circle cx="1238.4" cy="973.5" r="2.0"/><circle cx="1248.8" cy="971.8" r="2.0"/><circle cx="1200.9" cy="976.4" r="2.0"/><circle cx="1204.3" cy="976.4" r="2.0"/><circle cx="1213.9" cy="980.1" r="2.0"/><circle cx="1221.4" cy="979.7" r="2.0"/><circle cx="1223.4" cy="978.0" r="2.0"/><circle cx="1234.3" cy="978.0" r="2.0"/><circle cx="1243.0" cy="981.8" r="2.0"/><circle cx="1246.3" cy="981.8" r="2.0"/><circle cx="1250.1" cy="981.8" r="2.0"/><circle cx="1189.3" cy="982.2" r="2.0"/><circle cx="1230.9" cy="985.1" r="2.0"/><circle cx="1200.1" cy="987.6" r="2.0"/><circle cx="1207.6" cy="989.6" r="2.0"/><circle cx="1211.8" cy="986.7" r="2.0"/><circle cx="1217.2" cy="989.6" r="2.0"/><circle cx="1219.7" cy="988.0" r="2.0"/><circle cx="1229.7" cy="989.6" r="2.0"/><circle cx="1231.8" cy="994.2" r="2.0"/><circle cx="1242.6" cy="988.0" r="2.0"/><circle cx="1180.5" cy="988.8" r="2.0"/><circle cx="1182.2" cy="991.7" r="2.0"/><circle cx="1191.4" cy="992.5" r="2.0"/><circle cx="1198.4" cy="994.6" r="2.0"/><circle cx="1224.3" cy="995.9" r="2.0"/><circle cx="1209.3" cy="998.8" r="2.0"/><circle cx="1244.3" cy="998.4" r="2.0"/><circle cx="1185.5" cy="1001.3" r="2.0"/><circle cx="1227.6" cy="1002.9" r="2.0"/><circle cx="1219.3" cy="1004.6" r="2.0"/><circle cx="1239.3" cy="1005.0" r="2.0"/><circle cx="1180.5" cy="1006.2" r="2.0"/><circle cx="1183.0" cy="1006.2" r="2.0"/><circle cx="1235.9" cy="1010.8" r="2.0"/><circle cx="1169.3" cy="1012.0" r="2.0"/><circle cx="1181.0" cy="1014.1" r="2.0"/><circle cx="1222.6" cy="1013.3" r="2.0"/><circle cx="1244.3" cy="1015.8" r="2.0"/><circle cx="1217.6" cy="1019.1" r="2.0"/><circle cx="1221.8" cy="1019.5" r="2.0"/><circle cx="1225.9" cy="1019.9" r="2.0"/><circle cx="1177.6" cy="1019.1" r="2.0"/><circle cx="1175.1" cy="1022.8" r="2.0"/><circle cx="1185.1" cy="1021.2" r="2.0"/><circle cx="1191.4" cy="1023.7" r="2.0"/><circle cx="1185.5" cy="1026.1" r="2.0"/><circle cx="1235.9" cy="1022.8" r="2.0"/><circle cx="1203.0" cy="1025.3" r="2.0"/><circle cx="1200.1" cy="1027.4" r="2.0"/><circle cx="1196.8" cy="1028.6" r="2.0"/><circle cx="1241.8" cy="1027.0" r="2.0"/><circle cx="1215.5" cy="1027.0" r="2.0"/><circle cx="1218.9" cy="1031.1" r="2.0"/><circle cx="1241.3" cy="1030.7" r="2.0"/><circle cx="1240.1" cy="1034.0" r="2.0"/><circle cx="1179.7" cy="1029.5" r="2.0"/><circle cx="1186.4" cy="1030.3" r="2.0"/><circle cx="1181.0" cy="1034.0" r="2.0"/><circle cx="1190.5" cy="1033.6" r="2.0"/><circle cx="1210.1" cy="1036.1" r="2.0"/><circle cx="1197.6" cy="1035.3" r="2.0"/><circle cx="1201.8" cy="1035.7" r="2.0"/><circle cx="1196.8" cy="1037.8" r="2.0"/><circle cx="1204.7" cy="1039.4" r="2.0"/><circle cx="1199.3" cy="1040.2" r="2.0"/><circle cx="1202.6" cy="1041.9" r="2.0"/><circle cx="1121.6" cy="769.5" r="2.0"/><circle cx="1110.3" cy="772.4" r="2.0"/><circle cx="1157.5" cy="773.5" r="2.0"/><circle cx="1168.8" cy="781.8" r="2.0"/><circle cx="1133.0" cy="785.0" r="2.0"/><circle cx="1101.8" cy="787.6" r="2.0"/><circle cx="1119.9" cy="792.9" r="2.0"/><circle cx="1150.9" cy="802.8" r="2.0"/><circle cx="1164.1" cy="802.6" r="2.0"/><circle cx="1160.6" cy="802.5" r="2.0"/><circle cx="1122.2" cy="809.3" r="2.0"/><circle cx="1141.5" cy="811.2" r="2.0"/><circle cx="1165.5" cy="809.3" r="2.0"/><circle cx="1096.3" cy="817.8" r="2.0"/><circle cx="1119.3" cy="807.2" r="2.0"/><circle cx="1155.8" cy="819.7" r="2.0"/><circle cx="1127.6" cy="827.5" r="2.0"/><circle cx="1102.9" cy="826.0" r="2.0"/><circle cx="1119.3" cy="825.6" r="2.0"/><circle cx="1156.2" cy="826.8" r="2.0"/><circle cx="1150.2" cy="833.2" r="2.0"/><circle cx="1102.2" cy="827.6" r="2.0"/><circle cx="1098.8" cy="834.1" r="2.0"/><circle cx="1105.9" cy="836.9" r="2.0"/><circle cx="1055.4" cy="846.9" r="2.0"/><circle cx="1059.5" cy="850.0" r="2.0"/><circle cx="1073.5" cy="848.5" r="2.0"/><circle cx="1070.3" cy="855.8" r="2.0"/><circle cx="1077.9" cy="853.0" r="2.0"/><circle cx="1118.3" cy="858.2" r="2.0"/><circle cx="1184.7" cy="776.8" r="2.0"/><circle cx="1180.1" cy="787.5" r="2.0"/><circle cx="1187.4" cy="820.2" r="2.0"/><circle cx="1190.7" cy="799.8" r="2.0"/><circle cx="1187.2" cy="813.2" r="2.0"/><circle cx="1182.6" cy="813.2" r="2.0"/><circle cx="1179.9" cy="848.1" r="2.0"/><circle cx="1208.2" cy="856.2" r="2.0"/><circle cx="1229.6" cy="857.6" r="2.0"/><circle cx="1229.7" cy="856.6" r="2.0"/><circle cx="1105.4" cy="862.6" r="2.0"/><circle cx="1121.0" cy="864.6" r="2.0"/><circle cx="1135.4" cy="865.9" r="2.0"/><circle cx="1094.0" cy="869.7" r="2.0"/><circle cx="1097.3" cy="889.6" r="2.0"/><circle cx="1086.1" cy="894.3" r="2.0"/><circle cx="1117.6" cy="899.9" r="2.0"/><circle cx="1142.8" cy="900.2" r="2.0"/><circle cx="1075.6" cy="933.6" r="2.0"/><circle cx="1082.3" cy="942.4" r="2.0"/><circle cx="1086.6" cy="940.8" r="2.0"/><circle cx="1098.8" cy="943.4" r="2.0"/><circle cx="1080.9" cy="945.9" r="2.0"/><circle cx="1106.4" cy="948.6" r="2.0"/><circle cx="1101.4" cy="956.3" r="2.0"/><circle cx="1158.4" cy="877.4" r="2.0"/><circle cx="1169.7" cy="892.8" r="2.0"/><circle cx="1157.1" cy="945.7" r="2.0"/><circle cx="1091.5" cy="946.7" r="2.0"/><circle cx="1159.0" cy="949.8" r="2.0"/><circle cx="1127.1" cy="956.5" r="2.0"/><circle cx="1157.9" cy="957.8" r="2.0"/><circle cx="1183.1" cy="866.4" r="2.0"/><circle cx="1211.8" cy="870.5" r="2.0"/><circle cx="1224.9" cy="871.1" r="2.0"/><circle cx="1220.3" cy="875.8" r="2.0"/><circle cx="1225.5" cy="871.0" r="2.0"/><circle cx="1215.4" cy="883.4" r="2.0"/><circle cx="1174.6" cy="893.1" r="2.0"/><circle cx="1194.7" cy="890.7" r="2.0"/><circle cx="1221.2" cy="891.0" r="2.0"/><circle cx="1238.2" cy="901.2" r="2.0"/><circle cx="1200.6" cy="899.2" r="2.0"/><circle cx="1204.6" cy="900.7" r="2.0"/><circle cx="1220.4" cy="920.8" r="2.0"/><circle cx="1186.0" cy="926.3" r="2.0"/><circle cx="1235.1" cy="928.1" r="2.0"/><circle cx="1241.8" cy="942.0" r="2.0"/><circle cx="1189.1" cy="947.9" r="2.0"/><circle cx="1221.7" cy="944.6" r="2.0"/><circle cx="1226.9" cy="948.3" r="2.0"/><circle cx="1244.1" cy="954.5" r="2.0"/><circle cx="1200.2" cy="956.2" r="2.0"/><circle cx="1205.2" cy="956.5" r="2.0"/><circle cx="1229.1" cy="951.9" r="2.0"/><circle cx="1129.3" cy="994.1" r="2.0"/><circle cx="1144.5" cy="959.8" r="2.0"/><circle cx="1147.0" cy="974.1" r="2.0"/><circle cx="1153.0" cy="981.2" r="2.0"/><circle cx="1172.4" cy="979.8" r="2.0"/><circle cx="1151.0" cy="993.8" r="2.0"/><circle cx="1165.8" cy="1012.8" r="2.0"/><circle cx="1160.3" cy="1019.0" r="2.0"/><circle cx="1172.4" cy="1014.0" r="2.0"/><circle cx="1194.3" cy="952.8" r="2.0"/><circle cx="1229.2" cy="957.3" r="2.0"/><circle cx="1239.5" cy="961.3" r="2.0"/><circle cx="1232.7" cy="971.3" r="2.0"/><circle cx="1241.6" cy="971.3" r="2.0"/><circle cx="1205.2" cy="979.1" r="2.0"/><circle cx="1191.0" cy="984.6" r="2.0"/><circle cx="1228.3" cy="983.8" r="2.0"/><circle cx="1227.2" cy="993.1" r="2.0"/><circle cx="1234.7" cy="994.7" r="2.0"/><circle cx="1197.1" cy="998.2" r="2.0"/><circle cx="1206.8" cy="1001.2" r="2.0"/><circle cx="1231.5" cy="1003.6" r="2.0"/><circle cx="1179.5" cy="1009.6" r="2.0"/><circle cx="1219.9" cy="1010.9" r="2.0"/><circle cx="1218.1" cy="1021.0" r="2.0"/><circle cx="1228.8" cy="1020.7" r="2.0"/><circle cx="1174.7" cy="1020.3" r="2.0"/><circle cx="1183.0" cy="1024.3" r="2.0"/><circle cx="1201.2" cy="1028.3" r="2.0"/><circle cx="1212.7" cy="1027.5" r="2.0"/><circle cx="1178.8" cy="1025.9" r="2.0"/><circle cx="1188.1" cy="1026.6" r="2.0"/><circle cx="1184.6" cy="1032.6" r="2.0"/><circle cx="1200.8" cy="1036.5" r="2.0"/><circle cx="1193.7" cy="1038.3" r="2.0"/><circle cx="1105.1" cy="841.9" r="2.0"/><circle cx="1108.1" cy="850.1" r="2.0"/><circle cx="1106.1" cy="858.2" r="2.0"/><circle cx="1191.0" cy="867.4" r="2.0"/><circle cx="1197.1" cy="875.6" r="2.0"/><circle cx="1194.0" cy="883.7" r="2.0"/><circle cx="1199.1" cy="887.8" r="2.0"/><circle cx="1183.8" cy="977.4" r="2.0"/><circle cx="1191.0" cy="984.5" r="2.0"/><circle cx="1186.9" cy="991.7" r="2.0"/><circle cx="1195.0" cy="994.7" r="2.0"/><circle cx="1181.8" cy="995.7" r="2.0"/>
</g>
<circle cx="927.1" cy="843.9" r="2.1" fill="#f26a4a"/>
<circle cx="1203.7" cy="828.2" r="2.4" fill="#b81010"/>
<circle cx="1096.8" cy="908.9" r="2.1" fill="#f06040"/>
<circle cx="931.8" cy="955.8" r="2.1" fill="#6e0a0c"/>
<circle cx="918.7" cy="959.7" r="2.1" fill="#f26a4a"/>
<circle cx="931.3" cy="964.5" r="2.1" fill="#6e0a0c"/>
<circle cx="935.3" cy="966.8" r="2.1" fill="#d42a25"/>
<circle cx="942.9" cy="986.6" r="2.1" fill="#f26a4a"/>
<circle cx="947.6" cy="983.4" r="2.1" fill="#f26a4a"/>
<circle cx="952.4" cy="978.2" r="2.1" fill="#f26a4a"/>
<circle cx="950.8" cy="989.2" r="2.1" fill="#f26a4a"/>
<circle cx="959.5" cy="980.0" r="2.1" fill="#6e0a0c"/>
<circle cx="963.9" cy="976.1" r="2.1" fill="#f26a4a"/>
<circle cx="968.7" cy="980.8" r="2.1" fill="#f26a4a"/>
<circle cx="960.8" cy="988.2" r="2.1" fill="#f26a4a"/>
<circle cx="956.1" cy="996.1" r="2.1" fill="#6e0a0c"/>
<circle cx="969.5" cy="987.4" r="2.1" fill="#f26a4a"/>
<circle cx="975.3" cy="980.8" r="2.6" fill="#f26a4a"/>
<circle cx="980.0" cy="987.4" r="2.1" fill="#f26a4a"/>
<circle cx="980.5" cy="993.9" r="2.1" fill="#d42a25"/>
<circle cx="985.8" cy="981.6" r="2.1" fill="#f26a4a"/>
<circle cx="990.5" cy="1000.5" r="2.1" fill="#f26a4a"/>
<circle cx="995.8" cy="982.1" r="2.1" fill="#f26a4a"/>
<circle cx="998.2" cy="997.4" r="2.1" fill="#a5121a"/>
<circle cx="1000.3" cy="988.7" r="2.1" fill="#f26a4a"/>
<circle cx="1005.5" cy="987.4" r="2.1" fill="#d42a25"/>
<circle cx="1006.8" cy="993.2" r="2.1" fill="#d42a25"/>
<circle cx="1010.8" cy="999.7" r="2.1" fill="#d42a25"/>
<circle cx="1014.2" cy="986.1" r="2.1" fill="#a5121a"/>
<circle cx="1016.1" cy="992.1" r="2.1" fill="#6e0a0c"/>
<circle cx="1021.3" cy="989.5" r="2.1" fill="#f26a4a"/>
<circle cx="1085.8" cy="992.1" r="2.1" fill="#d42a25"/>
<circle cx="1083.7" cy="997.9" r="2.1" fill="#d42a25"/>
<circle cx="1086.3" cy="1005.8" r="2.1" fill="#d42a25"/>
<circle cx="1094.2" cy="1011.8" r="2.1" fill="#d42a25"/>
<g fill="#cacaca">
<circle cx="1371.0" cy="838.8" r="1.7"/><circle cx="1366.4" cy="841.5" r="1.7"/><circle cx="1366.4" cy="845.2" r="1.7"/><circle cx="1367.2" cy="845.6" r="1.7"/><circle cx="1368.6" cy="845.1" r="1.7"/><circle cx="1364.4" cy="847.5" r="1.7"/><circle cx="1368.0" cy="849.9" r="1.7"/><circle cx="1364.6" cy="854.0" r="1.7"/><circle cx="1365.9" cy="852.7" r="1.7"/><circle cx="1363.9" cy="856.4" r="1.7"/><circle cx="1365.0" cy="858.8" r="1.7"/><circle cx="1362.2" cy="856.6" r="1.7"/><circle cx="1363.2" cy="859.2" r="1.7"/><circle cx="1363.2" cy="863.3" r="1.7"/><circle cx="1361.4" cy="863.1" r="1.7"/><circle cx="1360.2" cy="866.6" r="1.7"/><circle cx="1362.6" cy="867.2" r="1.7"/><circle cx="1362.6" cy="868.7" r="1.7"/><circle cx="1359.1" cy="869.7" r="1.7"/><circle cx="1358.2" cy="873.4" r="1.7"/><circle cx="1358.4" cy="873.4" r="1.7"/><circle cx="1356.0" cy="877.0" r="1.7"/><circle cx="1357.0" cy="881.0" r="1.7"/><circle cx="1358.0" cy="885.6" r="1.7"/><circle cx="1336.3" cy="925.2" r="1.7"/><circle cx="1331.4" cy="929.7" r="1.7"/><circle cx="1338.3" cy="922.4" r="1.7"/><circle cx="1336.4" cy="932.5" r="1.7"/><circle cx="1432.2" cy="1002.9" r="1.7"/><circle cx="1417.0" cy="997.2" r="1.7"/><circle cx="1409.6" cy="991.2" r="1.7"/><circle cx="1424.9" cy="1006.0" r="1.7"/><circle cx="1449.8" cy="991.5" r="1.7"/><circle cx="1460.4" cy="998.2" r="1.7"/><circle cx="1415.8" cy="986.8" r="1.7"/><circle cx="1427.0" cy="994.9" r="1.7"/><circle cx="1427.7" cy="987.1" r="1.7"/><circle cx="1401.4" cy="984.6" r="1.7"/><circle cx="1432.9" cy="992.4" r="1.7"/><circle cx="1443.6" cy="1004.2" r="1.7"/><circle cx="1458.0" cy="995.7" r="1.7"/><circle cx="1424.1" cy="991.6" r="1.7"/><circle cx="1450.9" cy="1009.1" r="1.7"/><circle cx="1466.2" cy="995.5" r="1.7"/><circle cx="1453.4" cy="998.6" r="1.7"/><circle cx="1443.4" cy="995.2" r="1.7"/><circle cx="1434.0" cy="1000.9" r="1.7"/><circle cx="1446.5" cy="986.6" r="1.7"/><circle cx="1437.8" cy="998.1" r="1.7"/><circle cx="1416.9" cy="980.6" r="1.7"/><circle cx="1419.0" cy="992.9" r="1.7"/><circle cx="1453.1" cy="1007.0" r="1.7"/><circle cx="1411.3" cy="999.0" r="1.7"/><circle cx="1443.1" cy="1002.1" r="1.7"/><circle cx="1433.7" cy="990.0" r="1.7"/><circle cx="1425.1" cy="1003.0" r="1.7"/><circle cx="1438.7" cy="1005.2" r="1.7"/><circle cx="1420.0" cy="1004.6" r="1.7"/><circle cx="1466.8" cy="995.8" r="1.7"/><circle cx="1417.8" cy="1000.6" r="1.7"/><circle cx="1436.8" cy="982.7" r="1.7"/><circle cx="1438.3" cy="1007.0" r="1.7"/><circle cx="1452.6" cy="999.9" r="1.7"/><circle cx="1462.3" cy="996.2" r="1.7"/><circle cx="1436.1" cy="994.0" r="1.7"/><circle cx="1433.2" cy="1006.4" r="1.7"/><circle cx="1449.8" cy="996.2" r="1.7"/><circle cx="1416.7" cy="997.5" r="1.7"/><circle cx="1441.7" cy="998.5" r="1.7"/><circle cx="1414.8" cy="994.9" r="1.7"/><circle cx="1417.7" cy="984.2" r="1.7"/><circle cx="1414.2" cy="1003.2" r="1.7"/><circle cx="1411.9" cy="984.6" r="1.7"/><circle cx="1460.7" cy="994.7" r="1.7"/><circle cx="1421.4" cy="988.0" r="1.7"/><circle cx="1398.6" cy="1002.7" r="1.7"/><circle cx="1427.6" cy="991.3" r="1.7"/><circle cx="1415.3" cy="1003.4" r="1.7"/><circle cx="1421.2" cy="994.8" r="1.7"/><circle cx="1448.2" cy="996.7" r="1.7"/><circle cx="1422.8" cy="1001.6" r="1.7"/><circle cx="1428.5" cy="993.2" r="1.7"/><circle cx="1461.2" cy="998.7" r="1.7"/><circle cx="1379.3" cy="846.0" r="1.7"/><circle cx="1407.7" cy="1009.1" r="1.7"/><circle cx="1432.1" cy="1013.0" r="1.7"/><circle cx="1362.6" cy="856.8" r="1.7"/><circle cx="1562.0" cy="773.5" r="1.7"/><circle cx="1550.2" cy="777.1" r="1.7"/><circle cx="1547.7" cy="781.1" r="1.7"/><circle cx="1547.3" cy="788.6" r="1.7"/><circle cx="1589.6" cy="784.2" r="1.7"/><circle cx="1603.8" cy="780.2" r="1.7"/><circle cx="1609.7" cy="786.1" r="1.7"/><circle cx="1613.0" cy="790.3" r="1.7"/><circle cx="1615.5" cy="791.6" r="1.7"/><circle cx="1563.2" cy="789.9" r="1.7"/><circle cx="1570.7" cy="789.0" r="1.7"/><circle cx="1577.4" cy="787.8" r="1.7"/><circle cx="1576.6" cy="790.3" r="1.7"/><circle cx="1556.5" cy="790.7" r="1.7"/><circle cx="1559.4" cy="794.9" r="1.7"/><circle cx="1547.7" cy="796.2" r="1.7"/><circle cx="1554.0" cy="799.1" r="1.7"/><circle cx="1565.7" cy="798.7" r="1.7"/><circle cx="1585.0" cy="797.0" r="1.7"/><circle cx="1600.5" cy="797.9" r="1.7"/><circle cx="1592.5" cy="799.5" r="1.7"/><circle cx="1614.7" cy="799.9" r="1.7"/><circle cx="1548.1" cy="802.9" r="1.7"/><circle cx="1557.3" cy="804.6" r="1.7"/><circle cx="1583.3" cy="802.9" r="1.7"/><circle cx="1541.4" cy="806.2" r="1.7"/><circle cx="1567.0" cy="804.6" r="1.7"/><circle cx="1572.0" cy="804.1" r="1.7"/><circle cx="1569.1" cy="807.5" r="1.7"/><circle cx="1576.2" cy="806.7" r="1.7"/><circle cx="1595.4" cy="805.4" r="1.7"/><circle cx="1603.8" cy="807.9" r="1.7"/><circle cx="1607.2" cy="809.6" r="1.7"/><circle cx="1570.3" cy="810.9" r="1.7"/><circle cx="1599.6" cy="810.0" r="1.7"/><circle cx="1567.8" cy="814.2" r="1.7"/><circle cx="1587.1" cy="812.1" r="1.7"/><circle cx="1587.1" cy="814.6" r="1.7"/><circle cx="1592.1" cy="812.5" r="1.7"/><circle cx="1597.1" cy="812.5" r="1.7"/><circle cx="1600.5" cy="813.4" r="1.7"/><circle cx="1605.9" cy="814.6" r="1.7"/><circle cx="1616.0" cy="815.5" r="1.7"/><circle cx="1541.4" cy="818.0" r="1.7"/><circle cx="1540.6" cy="821.8" r="1.7"/><circle cx="1559.9" cy="818.0" r="1.7"/><circle cx="1563.6" cy="817.6" r="1.7"/><circle cx="1559.0" cy="822.6" r="1.7"/><circle cx="1572.0" cy="820.1" r="1.7"/><circle cx="1597.1" cy="819.3" r="1.7"/><circle cx="1600.0" cy="822.2" r="1.7"/><circle cx="1565.7" cy="823.0" r="1.7"/><circle cx="1564.9" cy="826.4" r="1.7"/><circle cx="1570.3" cy="826.0" r="1.7"/><circle cx="1567.8" cy="828.9" r="1.7"/><circle cx="1572.0" cy="831.0" r="1.7"/><circle cx="1569.5" cy="831.0" r="1.7"/><circle cx="1549.0" cy="829.7" r="1.7"/><circle cx="1538.5" cy="831.0" r="1.7"/><circle cx="1559.4" cy="831.4" r="1.7"/><circle cx="1581.6" cy="833.5" r="1.7"/><circle cx="1592.5" cy="832.3" r="1.7"/><circle cx="1595.9" cy="831.0" r="1.7"/><circle cx="1604.2" cy="835.6" r="1.7"/><circle cx="1590.8" cy="839.0" r="1.7"/><circle cx="1546.5" cy="836.9" r="1.7"/><circle cx="1544.8" cy="840.7" r="1.7"/><circle cx="1509.2" cy="841.1" r="1.7"/><circle cx="1552.7" cy="844.4" r="1.7"/><circle cx="1562.4" cy="846.9" r="1.7"/><circle cx="1536.0" cy="847.4" r="1.7"/><circle cx="1503.8" cy="849.0" r="1.7"/><circle cx="1500.4" cy="852.4" r="1.7"/><circle cx="1495.8" cy="855.8" r="1.7"/><circle cx="1499.1" cy="859.5" r="1.7"/><circle cx="1518.0" cy="849.5" r="1.7"/><circle cx="1516.3" cy="852.4" r="1.7"/><circle cx="1512.5" cy="858.7" r="1.7"/><circle cx="1516.7" cy="858.7" r="1.7"/><circle cx="1546.0" cy="850.7" r="1.7"/><circle cx="1548.6" cy="853.2" r="1.7"/><circle cx="1541.0" cy="854.5" r="1.7"/><circle cx="1556.9" cy="853.7" r="1.7"/><circle cx="1556.1" cy="857.4" r="1.7"/><circle cx="1569.9" cy="852.8" r="1.7"/><circle cx="1572.8" cy="857.4" r="1.7"/><circle cx="1589.6" cy="854.9" r="1.7"/><circle cx="1560.3" cy="861.2" r="1.7"/><circle cx="1566.6" cy="864.6" r="1.7"/><circle cx="1506.3" cy="865.4" r="1.7"/><circle cx="1548.6" cy="865.8" r="1.7"/><circle cx="1599.6" cy="826.1" r="1.7"/><circle cx="1613.9" cy="856.2" r="1.7"/><circle cx="1609.7" cy="861.6" r="1.7"/><circle cx="1612.6" cy="865.4" r="1.7"/><circle cx="1604.2" cy="867.1" r="1.7"/><circle cx="1604.7" cy="775.4" r="1.7"/><circle cx="1618.9" cy="780.2" r="1.7"/><circle cx="1621.4" cy="782.7" r="1.7"/><circle cx="1624.3" cy="784.8" r="1.7"/><circle cx="1619.3" cy="794.5" r="1.7"/><circle cx="1622.2" cy="812.1" r="1.7"/><circle cx="1628.5" cy="828.5" r="1.7"/><circle cx="1628.5" cy="796.2" r="1.7"/><circle cx="1627.6" cy="803.7" r="1.7"/><circle cx="1632.3" cy="802.9" r="1.7"/><circle cx="1636.9" cy="804.6" r="1.7"/><circle cx="1630.6" cy="809.2" r="1.7"/><circle cx="1629.3" cy="815.9" r="1.7"/><circle cx="1626.4" cy="819.7" r="1.7"/><circle cx="1623.9" cy="821.8" r="1.7"/><circle cx="1654.4" cy="826.8" r="1.7"/><circle cx="1650.7" cy="828.9" r="1.7"/><circle cx="1646.9" cy="833.5" r="1.7"/><circle cx="1626.4" cy="835.2" r="1.7"/><circle cx="1628.5" cy="837.3" r="1.7"/><circle cx="1624.7" cy="857.9" r="1.7"/><circle cx="1612.2" cy="862.1" r="1.7"/><circle cx="1622.6" cy="866.7" r="1.7"/><circle cx="1651.1" cy="857.4" r="1.7"/><circle cx="1653.2" cy="861.2" r="1.7"/><circle cx="1648.2" cy="862.5" r="1.7"/><circle cx="1657.0" cy="866.7" r="1.7"/><circle cx="1667.0" cy="856.6" r="1.7"/><circle cx="1673.3" cy="859.1" r="1.7"/><circle cx="1675.8" cy="861.6" r="1.7"/><circle cx="1667.0" cy="867.1" r="1.7"/><circle cx="1671.2" cy="867.1" r="1.7"/><circle cx="1551.5" cy="870.6" r="1.7"/><circle cx="1546.0" cy="871.0" r="1.7"/><circle cx="1541.9" cy="871.8" r="1.7"/><circle cx="1568.2" cy="871.4" r="1.7"/><circle cx="1575.8" cy="870.6" r="1.7"/><circle cx="1590.0" cy="871.8" r="1.7"/><circle cx="1592.5" cy="876.4" r="1.7"/><circle cx="1527.2" cy="877.7" r="1.7"/><circle cx="1545.2" cy="877.3" r="1.7"/><circle cx="1538.1" cy="876.8" r="1.7"/><circle cx="1534.7" cy="878.9" r="1.7"/><circle cx="1534.7" cy="883.1" r="1.7"/><circle cx="1541.9" cy="891.1" r="1.7"/><circle cx="1534.7" cy="893.2" r="1.7"/><circle cx="1545.6" cy="895.7" r="1.7"/><circle cx="1538.1" cy="899.1" r="1.7"/><circle cx="1532.2" cy="901.6" r="1.7"/><circle cx="1533.1" cy="905.4" r="1.7"/><circle cx="1503.3" cy="903.7" r="1.7"/><circle cx="1565.7" cy="902.9" r="1.7"/><circle cx="1562.0" cy="904.1" r="1.7"/><circle cx="1558.6" cy="905.4" r="1.7"/><circle cx="1577.9" cy="900.8" r="1.7"/><circle cx="1575.3" cy="902.9" r="1.7"/><circle cx="1585.8" cy="903.7" r="1.7"/><circle cx="1549.8" cy="911.3" r="1.7"/><circle cx="1595.0" cy="909.6" r="1.7"/><circle cx="1587.9" cy="911.3" r="1.7"/><circle cx="1591.7" cy="912.9" r="1.7"/><circle cx="1587.9" cy="915.5" r="1.7"/><circle cx="1591.3" cy="916.7" r="1.7"/><circle cx="1534.3" cy="915.5" r="1.7"/><circle cx="1543.5" cy="920.5" r="1.7"/><circle cx="1581.6" cy="921.3" r="1.7"/><circle cx="1599.6" cy="920.9" r="1.7"/><circle cx="1588.7" cy="931.0" r="1.7"/><circle cx="1512.1" cy="938.5" r="1.7"/><circle cx="1531.8" cy="938.1" r="1.7"/><circle cx="1539.3" cy="939.4" r="1.7"/><circle cx="1513.8" cy="942.7" r="1.7"/><circle cx="1518.0" cy="944.8" r="1.7"/><circle cx="1515.5" cy="947.3" r="1.7"/><circle cx="1522.6" cy="949.0" r="1.7"/><circle cx="1527.2" cy="946.9" r="1.7"/><circle cx="1526.8" cy="950.7" r="1.7"/><circle cx="1536.0" cy="946.9" r="1.7"/><circle cx="1533.5" cy="950.7" r="1.7"/><circle cx="1531.0" cy="954.1" r="1.7"/><circle cx="1545.2" cy="949.0" r="1.7"/><circle cx="1525.5" cy="956.6" r="1.7"/><circle cx="1542.3" cy="954.5" r="1.7"/><circle cx="1545.2" cy="956.2" r="1.7"/><circle cx="1549.4" cy="955.3" r="1.7"/><circle cx="1553.6" cy="957.8" r="1.7"/><circle cx="1569.9" cy="948.6" r="1.7"/><circle cx="1586.2" cy="942.3" r="1.7"/><circle cx="1547.3" cy="966.2" r="1.7"/><circle cx="1539.3" cy="915.0" r="1.7"/><circle cx="1543.5" cy="915.9" r="1.7"/><circle cx="1546.9" cy="917.1" r="1.7"/><circle cx="1550.2" cy="918.0" r="1.7"/><circle cx="1553.6" cy="918.0" r="1.7"/><circle cx="1562.0" cy="921.7" r="1.7"/><circle cx="1580.8" cy="871.4" r="1.7"/><circle cx="1603.8" cy="876.0" r="1.7"/><circle cx="1610.1" cy="873.1" r="1.7"/><circle cx="1600.5" cy="884.8" r="1.7"/><circle cx="1603.8" cy="887.8" r="1.7"/><circle cx="1608.8" cy="881.0" r="1.7"/><circle cx="1612.6" cy="882.3" r="1.7"/><circle cx="1615.5" cy="878.5" r="1.7"/><circle cx="1598.8" cy="915.9" r="1.7"/><circle cx="1604.7" cy="919.2" r="1.7"/><circle cx="1614.3" cy="919.6" r="1.7"/><circle cx="1605.9" cy="936.4" r="1.7"/><circle cx="1605.9" cy="943.1" r="1.7"/><circle cx="1597.5" cy="948.2" r="1.7"/><circle cx="1614.7" cy="949.9" r="1.7"/><circle cx="1614.7" cy="897.0" r="1.7"/><circle cx="1603.0" cy="937.3" r="1.7"/><circle cx="1613.0" cy="940.2" r="1.7"/><circle cx="1599.2" cy="944.4" r="1.7"/><circle cx="1587.1" cy="950.7" r="1.7"/><circle cx="1588.3" cy="953.6" r="1.7"/><circle cx="1602.6" cy="952.4" r="1.7"/><circle cx="1538.1" cy="955.7" r="1.7"/><circle cx="1537.7" cy="959.1" r="1.7"/><circle cx="1537.2" cy="962.0" r="1.7"/><circle cx="1574.5" cy="955.3" r="1.7"/><circle cx="1578.7" cy="956.6" r="1.7"/><circle cx="1598.4" cy="956.2" r="1.7"/><circle cx="1596.3" cy="959.1" r="1.7"/><circle cx="1585.4" cy="959.5" r="1.7"/><circle cx="1589.6" cy="959.9" r="1.7"/><circle cx="1563.2" cy="962.4" r="1.7"/><circle cx="1570.3" cy="961.6" r="1.7"/><circle cx="1573.3" cy="961.2" r="1.7"/><circle cx="1580.0" cy="964.5" r="1.7"/><circle cx="1591.3" cy="964.1" r="1.7"/><circle cx="1600.9" cy="962.9" r="1.7"/><circle cx="1611.4" cy="960.8" r="1.7"/><circle cx="1625.6" cy="877.3" r="1.7"/><circle cx="1652.8" cy="873.9" r="1.7"/><circle cx="1662.4" cy="874.7" r="1.7"/><circle cx="1658.2" cy="878.1" r="1.7"/><circle cx="1665.3" cy="877.7" r="1.7"/><circle cx="1659.9" cy="881.5" r="1.7"/><circle cx="1666.2" cy="880.6" r="1.7"/><circle cx="1676.2" cy="873.1" r="1.7"/><circle cx="1674.1" cy="876.0" r="1.7"/><circle cx="1673.3" cy="878.9" r="1.7"/><circle cx="1678.7" cy="881.0" r="1.7"/><circle cx="1651.5" cy="884.4" r="1.7"/><circle cx="1644.8" cy="885.7" r="1.7"/><circle cx="1670.4" cy="888.6" r="1.7"/><circle cx="1672.9" cy="890.7" r="1.7"/><circle cx="1680.8" cy="890.3" r="1.7"/><circle cx="1646.9" cy="891.5" r="1.7"/><circle cx="1657.0" cy="893.6" r="1.7"/><circle cx="1615.9" cy="897.0" r="1.7"/><circle cx="1641.0" cy="895.7" r="1.7"/><circle cx="1634.8" cy="897.8" r="1.7"/><circle cx="1635.2" cy="901.2" r="1.7"/><circle cx="1650.7" cy="898.2" r="1.7"/><circle cx="1653.2" cy="902.0" r="1.7"/><circle cx="1662.8" cy="900.3" r="1.7"/><circle cx="1640.6" cy="905.0" r="1.7"/><circle cx="1679.6" cy="905.4" r="1.7"/><circle cx="1629.3" cy="907.9" r="1.7"/><circle cx="1647.3" cy="907.9" r="1.7"/><circle cx="1641.5" cy="910.8" r="1.7"/><circle cx="1646.1" cy="912.1" r="1.7"/><circle cx="1654.9" cy="914.2" r="1.7"/><circle cx="1641.0" cy="915.5" r="1.7"/><circle cx="1648.6" cy="918.0" r="1.7"/><circle cx="1666.2" cy="917.1" r="1.7"/><circle cx="1677.1" cy="918.0" r="1.7"/><circle cx="1659.0" cy="923.0" r="1.7"/><circle cx="1685.4" cy="927.6" r="1.7"/><circle cx="1667.0" cy="931.4" r="1.7"/><circle cx="1670.4" cy="931.8" r="1.7"/><circle cx="1657.0" cy="935.2" r="1.7"/><circle cx="1630.6" cy="933.9" r="1.7"/><circle cx="1634.3" cy="937.7" r="1.7"/><circle cx="1631.4" cy="936.4" r="1.7"/><circle cx="1692.1" cy="936.9" r="1.7"/><circle cx="1692.5" cy="941.9" r="1.7"/><circle cx="1649.0" cy="939.8" r="1.7"/><circle cx="1628.9" cy="941.0" r="1.7"/><circle cx="1625.1" cy="943.1" r="1.7"/><circle cx="1630.2" cy="944.4" r="1.7"/><circle cx="1639.4" cy="945.7" r="1.7"/><circle cx="1623.5" cy="947.3" r="1.7"/><circle cx="1662.0" cy="942.3" r="1.7"/><circle cx="1665.7" cy="941.9" r="1.7"/><circle cx="1659.5" cy="946.5" r="1.7"/><circle cx="1631.8" cy="916.3" r="1.7"/><circle cx="1645.2" cy="922.6" r="1.7"/><circle cx="1639.0" cy="925.1" r="1.7"/><circle cx="1645.7" cy="931.4" r="1.7"/><circle cx="1687.5" cy="936.0" r="1.7"/><circle cx="1679.6" cy="939.4" r="1.7"/><circle cx="1666.6" cy="948.6" r="1.7"/><circle cx="1674.5" cy="948.2" r="1.7"/><circle cx="1684.6" cy="947.3" r="1.7"/><circle cx="1683.3" cy="951.5" r="1.7"/><circle cx="1621.0" cy="953.6" r="1.7"/><circle cx="1631.8" cy="954.1" r="1.7"/><circle cx="1628.5" cy="956.6" r="1.7"/><circle cx="1646.5" cy="954.5" r="1.7"/><circle cx="1663.2" cy="955.7" r="1.7"/><circle cx="1677.9" cy="957.4" r="1.7"/><circle cx="1670.8" cy="959.1" r="1.7"/><circle cx="1683.8" cy="960.3" r="1.7"/><circle cx="1690.5" cy="959.5" r="1.7"/><circle cx="1698.8" cy="960.3" r="1.7"/><circle cx="1639.0" cy="960.8" r="1.7"/><circle cx="1646.5" cy="962.0" r="1.7"/><circle cx="1652.4" cy="962.4" r="1.7"/><circle cx="1633.5" cy="963.7" r="1.7"/><circle cx="1693.0" cy="963.3" r="1.7"/><circle cx="1674.1" cy="963.7" r="1.7"/><circle cx="1492.9" cy="972.6" r="1.7"/><circle cx="1528.5" cy="999.1" r="1.7"/><circle cx="1525.5" cy="1005.4" r="1.7"/><circle cx="1531.4" cy="1005.4" r="1.7"/><circle cx="1529.3" cy="1012.5" r="1.7"/><circle cx="1528.0" cy="1015.4" r="1.7"/><circle cx="1536.4" cy="1019.6" r="1.7"/><circle cx="1524.3" cy="1023.8" r="1.7"/><circle cx="1531.8" cy="1025.5" r="1.7"/><circle cx="1539.8" cy="1019.0" r="1.7"/><circle cx="1534.7" cy="1026.1" r="1.7"/><circle cx="1568.2" cy="1002.3" r="1.7"/><circle cx="1596.7" cy="968.9" r="1.7"/><circle cx="1587.5" cy="971.4" r="1.7"/><circle cx="1554.8" cy="972.2" r="1.7"/><circle cx="1558.2" cy="974.7" r="1.7"/><circle cx="1615.1" cy="976.0" r="1.7"/><circle cx="1585.0" cy="984.4" r="1.7"/><circle cx="1592.9" cy="982.7" r="1.7"/><circle cx="1597.1" cy="985.6" r="1.7"/><circle cx="1615.5" cy="991.1" r="1.7"/><circle cx="1593.8" cy="997.0" r="1.7"/><circle cx="1591.7" cy="1000.7" r="1.7"/><circle cx="1593.8" cy="1003.7" r="1.7"/><circle cx="1573.3" cy="1005.4" r="1.7"/><circle cx="1601.7" cy="1009.1" r="1.7"/><circle cx="1607.6" cy="1017.5" r="1.7"/><circle cx="1610.9" cy="1018.8" r="1.7"/><circle cx="1599.2" cy="1024.2" r="1.7"/><circle cx="1603.4" cy="1023.8" r="1.7"/><circle cx="1612.6" cy="1023.4" r="1.7"/><circle cx="1599.6" cy="1028.0" r="1.7"/><circle cx="1605.1" cy="1030.5" r="1.7"/><circle cx="1595.4" cy="1033.9" r="1.7"/><circle cx="1636.0" cy="963.4" r="1.7"/><circle cx="1649.0" cy="968.4" r="1.7"/><circle cx="1672.4" cy="968.4" r="1.7"/><circle cx="1680.0" cy="968.9" r="1.7"/><circle cx="1685.4" cy="968.4" r="1.7"/><circle cx="1693.4" cy="968.0" r="1.7"/><circle cx="1645.7" cy="974.3" r="1.7"/><circle cx="1655.7" cy="974.7" r="1.7"/><circle cx="1618.4" cy="974.7" r="1.7"/><circle cx="1675.4" cy="975.6" r="1.7"/><circle cx="1668.3" cy="978.1" r="1.7"/><circle cx="1670.8" cy="981.9" r="1.7"/><circle cx="1677.9" cy="981.9" r="1.7"/><circle cx="1682.1" cy="981.9" r="1.7"/><circle cx="1692.5" cy="980.2" r="1.7"/><circle cx="1644.4" cy="984.8" r="1.7"/><circle cx="1647.7" cy="984.8" r="1.7"/><circle cx="1657.4" cy="988.6" r="1.7"/><circle cx="1664.9" cy="988.2" r="1.7"/><circle cx="1667.0" cy="986.5" r="1.7"/><circle cx="1677.9" cy="986.5" r="1.7"/><circle cx="1686.7" cy="990.3" r="1.7"/><circle cx="1690.0" cy="990.3" r="1.7"/><circle cx="1693.8" cy="990.3" r="1.7"/><circle cx="1632.7" cy="990.7" r="1.7"/><circle cx="1674.5" cy="993.6" r="1.7"/><circle cx="1643.6" cy="996.1" r="1.7"/><circle cx="1651.1" cy="998.2" r="1.7"/><circle cx="1655.3" cy="995.3" r="1.7"/><circle cx="1660.7" cy="998.2" r="1.7"/><circle cx="1663.2" cy="996.5" r="1.7"/><circle cx="1673.3" cy="998.2" r="1.7"/><circle cx="1675.4" cy="1002.8" r="1.7"/><circle cx="1686.3" cy="996.5" r="1.7"/><circle cx="1623.9" cy="997.4" r="1.7"/><circle cx="1625.6" cy="1000.3" r="1.7"/><circle cx="1634.8" cy="1001.2" r="1.7"/><circle cx="1641.9" cy="1003.3" r="1.7"/><circle cx="1667.8" cy="1004.5" r="1.7"/><circle cx="1652.8" cy="1007.5" r="1.7"/><circle cx="1687.9" cy="1007.0" r="1.7"/><circle cx="1628.9" cy="1010.0" r="1.7"/><circle cx="1671.2" cy="1011.7" r="1.7"/><circle cx="1662.8" cy="1013.3" r="1.7"/><circle cx="1682.9" cy="1013.7" r="1.7"/><circle cx="1623.9" cy="1015.0" r="1.7"/><circle cx="1626.4" cy="1015.0" r="1.7"/><circle cx="1679.6" cy="1019.6" r="1.7"/><circle cx="1612.6" cy="1020.9" r="1.7"/><circle cx="1624.3" cy="1023.0" r="1.7"/><circle cx="1666.2" cy="1022.1" r="1.7"/><circle cx="1687.9" cy="1024.7" r="1.7"/><circle cx="1661.1" cy="1028.0" r="1.7"/><circle cx="1665.3" cy="1028.4" r="1.7"/><circle cx="1669.5" cy="1028.9" r="1.7"/><circle cx="1621.0" cy="1028.0" r="1.7"/><circle cx="1618.4" cy="1031.8" r="1.7"/><circle cx="1628.5" cy="1030.1" r="1.7"/><circle cx="1634.8" cy="1032.6" r="1.7"/><circle cx="1628.9" cy="1035.1" r="1.7"/><circle cx="1679.6" cy="1031.8" r="1.7"/><circle cx="1646.5" cy="1034.3" r="1.7"/><circle cx="1643.6" cy="1036.4" r="1.7"/><circle cx="1640.2" cy="1037.7" r="1.7"/><circle cx="1685.4" cy="1036.0" r="1.7"/><circle cx="1659.0" cy="1036.0" r="1.7"/><circle cx="1662.4" cy="1040.2" r="1.7"/><circle cx="1685.0" cy="1039.8" r="1.7"/><circle cx="1683.8" cy="1043.1" r="1.7"/><circle cx="1623.0" cy="1038.5" r="1.7"/><circle cx="1629.7" cy="1039.3" r="1.7"/><circle cx="1624.3" cy="1043.1" r="1.7"/><circle cx="1633.9" cy="1042.7" r="1.7"/><circle cx="1653.6" cy="1045.2" r="1.7"/><circle cx="1641.0" cy="1044.4" r="1.7"/><circle cx="1645.2" cy="1044.8" r="1.7"/><circle cx="1640.2" cy="1046.9" r="1.7"/><circle cx="1648.2" cy="1048.6" r="1.7"/><circle cx="1642.7" cy="1049.4" r="1.7"/><circle cx="1646.1" cy="1051.1" r="1.7"/><circle cx="1564.6" cy="775.5" r="1.7"/><circle cx="1553.3" cy="778.5" r="1.7"/><circle cx="1600.8" cy="779.5" r="1.7"/><circle cx="1612.1" cy="788.0" r="1.7"/><circle cx="1576.1" cy="791.2" r="1.7"/><circle cx="1544.7" cy="793.8" r="1.7"/><circle cx="1562.9" cy="799.2" r="1.7"/><circle cx="1594.1" cy="809.2" r="1.7"/><circle cx="1607.4" cy="809.0" r="1.7"/><circle cx="1603.8" cy="808.9" r="1.7"/><circle cx="1565.2" cy="815.8" r="1.7"/><circle cx="1584.7" cy="817.7" r="1.7"/><circle cx="1608.7" cy="815.8" r="1.7"/><circle cx="1539.2" cy="824.4" r="1.7"/><circle cx="1562.3" cy="813.6" r="1.7"/><circle cx="1599.0" cy="826.3" r="1.7"/><circle cx="1570.7" cy="834.2" r="1.7"/><circle cx="1545.8" cy="832.6" r="1.7"/><circle cx="1562.3" cy="832.2" r="1.7"/><circle cx="1599.4" cy="833.5" r="1.7"/><circle cx="1593.4" cy="840.0" r="1.7"/><circle cx="1545.2" cy="834.3" r="1.7"/><circle cx="1541.7" cy="840.8" r="1.7"/><circle cx="1548.9" cy="843.7" r="1.7"/><circle cx="1498.1" cy="853.9" r="1.7"/><circle cx="1502.3" cy="856.9" r="1.7"/><circle cx="1516.2" cy="855.5" r="1.7"/><circle cx="1513.0" cy="862.8" r="1.7"/><circle cx="1520.7" cy="860.0" r="1.7"/><circle cx="1561.3" cy="865.2" r="1.7"/><circle cx="1628.1" cy="782.9" r="1.7"/><circle cx="1623.5" cy="793.7" r="1.7"/><circle cx="1630.8" cy="826.8" r="1.7"/><circle cx="1634.1" cy="806.1" r="1.7"/><circle cx="1630.6" cy="819.8" r="1.7"/><circle cx="1625.9" cy="819.8" r="1.7"/><circle cx="1623.2" cy="855.0" r="1.7"/><circle cx="1651.7" cy="863.2" r="1.7"/><circle cx="1673.2" cy="864.6" r="1.7"/><circle cx="1673.3" cy="863.6" r="1.7"/><circle cx="1548.3" cy="869.7" r="1.7"/><circle cx="1564.0" cy="871.7" r="1.7"/><circle cx="1578.5" cy="873.0" r="1.7"/><circle cx="1536.9" cy="876.9" r="1.7"/><circle cx="1540.2" cy="897.0" r="1.7"/><circle cx="1529.0" cy="901.7" r="1.7"/><circle cx="1560.6" cy="907.4" r="1.7"/><circle cx="1585.9" cy="907.8" r="1.7"/><circle cx="1518.4" cy="941.6" r="1.7"/><circle cx="1525.1" cy="950.5" r="1.7"/><circle cx="1529.5" cy="948.8" r="1.7"/><circle cx="1541.8" cy="951.4" r="1.7"/><circle cx="1523.7" cy="953.9" r="1.7"/><circle cx="1549.4" cy="956.7" r="1.7"/><circle cx="1544.3" cy="964.5" r="1.7"/><circle cx="1601.6" cy="884.7" r="1.7"/><circle cx="1613.0" cy="900.3" r="1.7"/><circle cx="1600.3" cy="953.8" r="1.7"/><circle cx="1534.4" cy="954.8" r="1.7"/><circle cx="1602.3" cy="957.9" r="1.7"/><circle cx="1570.2" cy="964.6" r="1.7"/><circle cx="1601.1" cy="966.0" r="1.7"/><circle cx="1626.5" cy="873.6" r="1.7"/><circle cx="1655.3" cy="877.7" r="1.7"/><circle cx="1668.5" cy="878.3" r="1.7"/><circle cx="1663.9" cy="883.1" r="1.7"/><circle cx="1669.1" cy="878.2" r="1.7"/><circle cx="1658.9" cy="890.7" r="1.7"/><circle cx="1618.0" cy="900.6" r="1.7"/><circle cx="1638.1" cy="898.1" r="1.7"/><circle cx="1664.7" cy="898.4" r="1.7"/><circle cx="1681.8" cy="908.8" r="1.7"/><circle cx="1644.1" cy="906.8" r="1.7"/><circle cx="1648.0" cy="908.2" r="1.7"/><circle cx="1663.9" cy="928.5" r="1.7"/><circle cx="1629.3" cy="934.1" r="1.7"/><circle cx="1678.8" cy="936.0" r="1.7"/><circle cx="1685.4" cy="950.0" r="1.7"/><circle cx="1632.5" cy="956.0" r="1.7"/><circle cx="1665.3" cy="952.7" r="1.7"/><circle cx="1670.5" cy="956.4" r="1.7"/><circle cx="1687.8" cy="962.7" r="1.7"/><circle cx="1643.7" cy="964.4" r="1.7"/><circle cx="1648.7" cy="964.7" r="1.7"/><circle cx="1672.7" cy="960.0" r="1.7"/><circle cx="1572.3" cy="1002.7" r="1.7"/><circle cx="1587.6" cy="968.0" r="1.7"/><circle cx="1590.2" cy="982.5" r="1.7"/><circle cx="1596.2" cy="989.7" r="1.7"/><circle cx="1615.7" cy="988.3" r="1.7"/><circle cx="1594.2" cy="1002.4" r="1.7"/><circle cx="1609.1" cy="1021.7" r="1.7"/><circle cx="1603.5" cy="1027.9" r="1.7"/><circle cx="1615.7" cy="1022.8" r="1.7"/><circle cx="1637.7" cy="961.0" r="1.7"/><circle cx="1672.8" cy="965.5" r="1.7"/><circle cx="1683.1" cy="969.5" r="1.7"/><circle cx="1676.3" cy="979.7" r="1.7"/><circle cx="1685.2" cy="979.7" r="1.7"/><circle cx="1648.6" cy="987.6" r="1.7"/><circle cx="1634.4" cy="993.2" r="1.7"/><circle cx="1671.9" cy="992.3" r="1.7"/><circle cx="1670.8" cy="1001.7" r="1.7"/><circle cx="1678.3" cy="1003.3" r="1.7"/><circle cx="1640.6" cy="1006.9" r="1.7"/><circle cx="1650.3" cy="1009.9" r="1.7"/><circle cx="1675.1" cy="1012.4" r="1.7"/><circle cx="1622.9" cy="1018.5" r="1.7"/><circle cx="1663.4" cy="1019.7" r="1.7"/><circle cx="1661.6" cy="1030.0" r="1.7"/><circle cx="1672.4" cy="1029.6" r="1.7"/><circle cx="1618.0" cy="1029.3" r="1.7"/><circle cx="1626.3" cy="1033.2" r="1.7"/><circle cx="1644.7" cy="1037.4" r="1.7"/><circle cx="1656.2" cy="1036.5" r="1.7"/><circle cx="1622.2" cy="1035.0" r="1.7"/><circle cx="1631.5" cy="1035.6" r="1.7"/><circle cx="1628.0" cy="1041.7" r="1.7"/><circle cx="1644.3" cy="1045.6" r="1.7"/><circle cx="1637.1" cy="1047.4" r="1.7"/><circle cx="1548.0" cy="848.8" r="1.7"/><circle cx="1551.1" cy="857.0" r="1.7"/><circle cx="1549.0" cy="865.3" r="1.7"/><circle cx="1634.4" cy="874.6" r="1.7"/><circle cx="1640.5" cy="882.8" r="1.7"/><circle cx="1637.4" cy="891.0" r="1.7"/><circle cx="1642.6" cy="895.2" r="1.7"/><circle cx="1627.2" cy="985.8" r="1.7"/><circle cx="1634.4" cy="993.0" r="1.7"/><circle cx="1630.2" cy="1000.3" r="1.7"/><circle cx="1638.5" cy="1003.3" r="1.7"/><circle cx="1625.1" cy="1004.4" r="1.7"/>
</g>
<g fill="#d42a25">
<circle cx="1355.6" cy="890.0" r="1.7"/><circle cx="1355.3" cy="895.5" r="1.7"/><circle cx="1357.6" cy="907.1" r="1.7"/><circle cx="1358.0" cy="898.0" r="1.7"/><circle cx="1358.6" cy="911.0" r="1.7"/><circle cx="1365.6" cy="917.2" r="1.7"/><circle cx="1366.1" cy="926.2" r="1.7"/><circle cx="1366.1" cy="945.7" r="1.7"/><circle cx="1363.5" cy="961.6" r="1.7"/><circle cx="1356.8" cy="956.1" r="1.7"/><circle cx="1354.9" cy="955.1" r="1.7"/><circle cx="1360.6" cy="951.9" r="1.7"/><circle cx="1370.6" cy="964.9" r="1.7"/><circle cx="1364.9" cy="957.4" r="1.7"/><circle cx="1371.0" cy="959.2" r="1.7"/><circle cx="1361.9" cy="966.1" r="1.7"/><circle cx="1364.7" cy="950.8" r="1.7"/><circle cx="1360.0" cy="962.5" r="1.7"/><circle cx="1397.6" cy="1001.1" r="1.7"/><circle cx="1403.2" cy="998.0" r="1.7"/><circle cx="1390.4" cy="983.9" r="1.7"/><circle cx="1406.2" cy="998.5" r="1.7"/><circle cx="1398.0" cy="987.3" r="1.7"/><circle cx="1405.8" cy="1005.7" r="1.7"/><circle cx="1394.3" cy="994.3" r="1.7"/><circle cx="1401.9" cy="992.7" r="1.7"/>
</g>
<g fill="#f26a4a">
<circle cx="1362.2" cy="898.6" r="1.7"/><circle cx="1356.2" cy="904.9" r="1.7"/><circle cx="1364.2" cy="905.4" r="1.7"/><circle cx="1353.3" cy="908.1" r="1.7"/><circle cx="1360.4" cy="911.3" r="1.7"/><circle cx="1362.5" cy="904.0" r="1.7"/><circle cx="1360.5" cy="905.9" r="1.7"/><circle cx="1356.1" cy="910.4" r="1.7"/><circle cx="1366.0" cy="898.0" r="1.7"/><circle cx="1361.4" cy="903.7" r="1.7"/><circle cx="1361.6" cy="912.5" r="1.7"/><circle cx="1362.7" cy="902.2" r="1.7"/><circle cx="1363.4" cy="907.6" r="1.7"/><circle cx="1363.8" cy="918.5" r="1.7"/><circle cx="1343.3" cy="933.9" r="1.7"/><circle cx="1335.3" cy="932.2" r="1.7"/><circle cx="1342.6" cy="928.9" r="1.7"/><circle cx="1332.2" cy="923.7" r="1.7"/><circle cx="1339.2" cy="934.7" r="1.7"/><circle cx="1343.2" cy="921.3" r="1.7"/><circle cx="1367.5" cy="961.5" r="1.7"/><circle cx="1366.9" cy="949.4" r="1.7"/><circle cx="1367.7" cy="952.0" r="1.7"/><circle cx="1422.7" cy="984.2" r="1.7"/><circle cx="1400.2" cy="991.8" r="1.7"/><circle cx="1387.6" cy="978.9" r="1.7"/><circle cx="1405.3" cy="982.0" r="1.7"/><circle cx="1412.5" cy="1004.8" r="1.7"/><circle cx="1441.9" cy="990.2" r="1.7"/><circle cx="1385.9" cy="984.1" r="1.7"/><circle cx="1388.9" cy="987.3" r="1.7"/><circle cx="1391.8" cy="979.6" r="1.7"/><circle cx="1390.8" cy="988.5" r="1.7"/><circle cx="1392.0" cy="992.7" r="1.7"/><circle cx="1394.7" cy="995.2" r="1.7"/><circle cx="1407.7" cy="984.8" r="1.7"/><circle cx="1392.8" cy="985.1" r="1.7"/><circle cx="1397.3" cy="987.4" r="1.7"/><circle cx="1344.5" cy="947.2" r="1.7"/>
</g>
<g fill="#f9a27e">
<circle cx="1357.5" cy="899.3" r="1.7"/><circle cx="1368.7" cy="901.7" r="1.7"/><circle cx="1366.9" cy="904.2" r="1.7"/><circle cx="1364.7" cy="911.2" r="1.7"/><circle cx="1359.1" cy="909.5" r="1.7"/><circle cx="1353.8" cy="903.3" r="1.7"/><circle cx="1354.7" cy="904.8" r="1.7"/><circle cx="1363.8" cy="906.1" r="1.7"/><circle cx="1378.9" cy="975.7" r="1.7"/><circle cx="1381.4" cy="980.0" r="1.7"/><circle cx="1413.4" cy="1008.1" r="1.7"/><circle cx="1403.4" cy="994.6" r="1.7"/><circle cx="1413.6" cy="992.4" r="1.7"/>
</g>
<g fill="#a5121a">
<circle cx="1366.4" cy="923.1" r="1.7"/><circle cx="1364.0" cy="922.4" r="1.7"/><circle cx="1369.2" cy="931.3" r="1.7"/><circle cx="1367.8" cy="936.9" r="1.7"/><circle cx="1367.8" cy="939.5" r="1.7"/><circle cx="1366.0" cy="942.5" r="1.7"/><circle cx="1363.8" cy="948.3" r="1.7"/><circle cx="1372.2" cy="971.8" r="1.7"/><circle cx="1369.3" cy="954.1" r="1.7"/><circle cx="1356.0" cy="963.4" r="1.7"/><circle cx="1360.8" cy="959.4" r="1.7"/><circle cx="1366.1" cy="965.8" r="1.7"/><circle cx="1368.9" cy="949.7" r="1.7"/><circle cx="1371.0" cy="961.5" r="1.7"/><circle cx="1373.4" cy="958.3" r="1.7"/><circle cx="1358.5" cy="969.0" r="1.7"/><circle cx="1360.6" cy="965.1" r="1.7"/><circle cx="1374.1" cy="970.5" r="1.7"/><circle cx="1373.4" cy="971.7" r="1.7"/><circle cx="1376.2" cy="972.0" r="1.7"/><circle cx="1382.7" cy="976.2" r="1.7"/><circle cx="1393.6" cy="986.7" r="1.7"/><circle cx="1407.0" cy="994.9" r="1.7"/><circle cx="1398.6" cy="979.5" r="1.7"/>
</g>
<g fill="#6e0a0c">
<circle cx="1368.0" cy="929.4" r="1.7"/><circle cx="1369.7" cy="931.6" r="1.7"/><circle cx="1367.2" cy="936.4" r="1.7"/><circle cx="1361.9" cy="964.4" r="1.7"/><circle cx="1363.9" cy="962.5" r="1.7"/><circle cx="1360.3" cy="962.1" r="1.7"/>
</g>
<circle cx="1655.2" cy="828.9" r="2.2" fill="#c81028"/>
<circle cx="1667.1" cy="858.4" r="1.7" fill="#f26a4a"/>
<circle cx="1673.6" cy="879.5" r="1.7" fill="#f9a27e"/>
<circle cx="1688.1" cy="936.8" r="1.7" fill="#f26a4a"/>
<circle cx="1674.2" cy="994.7" r="1.7" fill="#f26a4a"/>
<circle cx="1524.4" cy="1025.5" r="2.3" fill="#b01010"/>
<circle cx="1532.8" cy="1026.8" r="2.2" fill="#d42a25"/>
<circle cx="1534.9" cy="1025.3" r="1.8" fill="#f26a4a"/>
<circle cx="1528.1" cy="1015.5" r="1.7" fill="#f26a4a"/>
<text x="66" y="32" font-size="27">AC.1</text>
<text x="487" y="64.2" font-size="27">Venus</text>
<text x="895.5" y="63.7" font-size="27.5" font-style="italic">KNU</text>
<text x="1329.2" y="65" font-size="27" font-style="italic">ASY1</text>
<text x="60.3" y="400.4" font-size="27.2">MMC1.10</text>
<text x="486.3" y="412" font-size="27">Venus</text>
<text x="893.8" y="415" font-size="27.5" font-style="italic">KNU</text>
<text x="1333.5" y="413" font-size="27" font-style="italic">ASY1</text>
<text x="62" y="770" font-size="27.1">MMC2.6</text>
<text x="488.2" y="771.6" font-size="27">Venus</text>
<text x="893.7" y="772.9" font-size="27.5" font-style="italic">KNU</text>
<text x="1335.5" y="769" font-size="27" font-style="italic">ASY1</text>
<text x="132.5" y="194.5" font-size="40" text-anchor="middle">1</text>
<text x="270.5" y="124" font-size="40" text-anchor="middle">5</text>
<text x="378.5" y="148" font-size="40" text-anchor="middle">2</text>
<text x="270.6" y="236.8" font-size="40" text-anchor="middle">3</text>
<text x="378.5" y="236.8" font-size="40" text-anchor="middle">4</text>
<text x="179.7" y="479" font-size="33.5" text-anchor="middle">2</text>
<text x="315" y="511.5" font-size="33.5" text-anchor="middle">1</text>
<text x="121.7" y="550.4" font-size="33.5" text-anchor="middle">4</text>
<text x="272.8" y="666.9" font-size="33.5" text-anchor="middle">3</text>
<text x="269.8" y="866.5" font-size="37" text-anchor="middle">1</text>
<text x="356" y="891.6" font-size="37" text-anchor="middle">4</text>
<text x="85.6" y="930.5" font-size="37" text-anchor="middle">3</text>
<text x="350.3" y="998.1" font-size="37" text-anchor="middle">2</text>
<defs><linearGradient id="hg" x1="0" x2="1" y1="0" y2="0"><stop offset="0" stop-color="#ffff00"/><stop offset="1" stop-color="#ff0000"/></linearGradient><linearGradient id="fc" x1="0" x2="0" y1="0" y2="1"><stop offset="0" stop-color="#ff0000"/><stop offset="0.04" stop-color="#ff0008"/><stop offset="0.36" stop-color="#e0005a"/><stop offset="0.67" stop-color="#a800b0"/><stop offset="0.82" stop-color="#6a00e0"/><stop offset="0.95" stop-color="#1000ff"/><stop offset="1" stop-color="#0000ff"/></linearGradient></defs>
<text x="6.5" y="29" font-size="64">a</text>
<text x="27" y="1109.5" font-size="60">b</text>
<text x="584.5" y="1116" font-size="62" font-weight="bold">c</text>
<text x="1156" y="1118.6" font-size="62">d</text>
<text x="47.5" y="1694" font-size="62.5">e</text>
<rect x="160.50" y="1212.30" width="58.50" height="58.44" fill="#ffb900"/>
<rect x="218.60" y="1212.30" width="58.50" height="58.44" fill="#ffa500"/>
<rect x="276.70" y="1212.30" width="58.50" height="58.44" fill="#ffcb00"/>
<rect x="334.80" y="1212.30" width="58.50" height="58.44" fill="#ff9000"/>
<rect x="392.90" y="1212.30" width="58.50" height="58.44" fill="#ff0000"/>
<rect x="160.50" y="1270.34" width="58.50" height="58.44" fill="#ffff00"/>
<rect x="218.60" y="1270.34" width="58.50" height="58.44" fill="#ffa500"/>
<rect x="276.70" y="1270.34" width="58.50" height="58.44" fill="#ffb900"/>
<rect x="334.80" y="1270.34" width="58.50" height="58.44" fill="#ff0000"/>
<rect x="392.90" y="1270.34" width="58.50" height="58.44" fill="#ff9000"/>
<rect x="160.50" y="1328.38" width="58.50" height="58.44" fill="#ffa500"/>
<rect x="218.60" y="1328.38" width="58.50" height="58.44" fill="#ffcb00"/>
<rect x="276.70" y="1328.38" width="58.50" height="58.44" fill="#ff0000"/>
<rect x="334.80" y="1328.38" width="58.50" height="58.44" fill="#ffb900"/>
<rect x="392.90" y="1328.38" width="58.50" height="58.44" fill="#ffcb00"/>
<rect x="160.50" y="1386.42" width="58.50" height="58.44" fill="#ff9000"/>
<rect x="218.60" y="1386.42" width="58.50" height="58.44" fill="#ff0000"/>
<rect x="276.70" y="1386.42" width="58.50" height="58.44" fill="#ffcb00"/>
<rect x="334.80" y="1386.42" width="58.50" height="58.44" fill="#ffa500"/>
<rect x="392.90" y="1386.42" width="58.50" height="58.44" fill="#ffa500"/>
<rect x="160.50" y="1444.46" width="58.50" height="58.44" fill="#ff0000"/>
<rect x="218.60" y="1444.46" width="58.50" height="58.44" fill="#ff9000"/>
<rect x="276.70" y="1444.46" width="58.50" height="58.44" fill="#ffa500"/>
<rect x="334.80" y="1444.46" width="58.50" height="58.44" fill="#ffff00"/>
<rect x="392.90" y="1444.46" width="58.50" height="58.44" fill="#ffb900"/>
<path d="M188.7 1209.6V1176.5H247V1209.6 M363.5 1209.6V1177.3H421.8V1209.6 M305.3 1209.6V1172.8H392.9V1177.3 M218 1176.5V1166.8H349.6V1172.8" fill="none" stroke="#3a3a3a" stroke-width="1.1"/>
<path d="M156 1240.8H88.3V1299H156 M88.3 1269.8H79.3V1357.4H156 M156 1415.3H86.8V1473.5H156 M79.3 1313.8H65.8V1444.2H86.8" fill="none" stroke="#3a3a3a" stroke-width="1.1"/>
<text x="460.5" y="1243.0" font-size="23.6">subcluster 4</text>
<text x="460.5" y="1301.1" font-size="23.6">subcluster 2</text>
<text x="460.5" y="1359.2" font-size="23.6">subcluster 5</text>
<text x="460.5" y="1417.3" font-size="23.6">subcluster 3</text>
<text x="460.5" y="1475.4" font-size="23.6">subcluster 1</text>
<text transform="translate(193 1628) rotate(-90)" font-size="23.6">subcluster 1</text>
<text transform="translate(252 1628) rotate(-90)" font-size="23.6">subcluster 3</text>
<text transform="translate(311 1628) rotate(-90)" font-size="23.6">subcluster 5</text>
<text transform="translate(370 1628) rotate(-90)" font-size="23.6">subcluster 2</text>
<text transform="translate(429 1628) rotate(-90)" font-size="23.6">subcluster 4</text>
<rect x="98.5" y="1132.5" width="53.0" height="32.799999999999955" fill="url(#hg)" stroke="#666" stroke-width="0.6"/>
<text x="90" y="1128.6" font-size="17" font-weight="bold">Color key</text>
<line x1="100.4" y1="1165.3" x2="100.4" y2="1169.3" stroke="#333" stroke-width="1"/>
<line x1="110.2" y1="1165.3" x2="110.2" y2="1169.3" stroke="#333" stroke-width="1"/>
<line x1="120.3" y1="1165.3" x2="120.3" y2="1169.3" stroke="#333" stroke-width="1"/>
<line x1="130.8" y1="1165.3" x2="130.8" y2="1169.3" stroke="#333" stroke-width="1"/>
<line x1="141" y1="1165.3" x2="141" y2="1169.3" stroke="#333" stroke-width="1"/>
<line x1="150.8" y1="1165.3" x2="150.8" y2="1169.3" stroke="#333" stroke-width="1"/>
<text x="85.7" y="1185" font-size="14" font-weight="bold">0.9</text>
<text x="111" y="1185" font-size="14" font-weight="bold">0.94</text>
<text x="147.4" y="1185" font-size="14" font-weight="bold">1</text>
<text x="102" y="1201" font-size="16.5" font-weight="bold">Value</text>
<rect x="736.20" y="1208.50" width="72.95" height="72.95" fill="#ffff00"/>
<rect x="808.75" y="1208.50" width="72.95" height="72.95" fill="#ff7f00"/>
<rect x="881.30" y="1208.50" width="72.95" height="72.95" fill="#ff6a00"/>
<rect x="953.85" y="1208.50" width="72.95" height="72.95" fill="#ff0000"/>
<rect x="736.20" y="1281.05" width="72.95" height="72.95" fill="#ffff00"/>
<rect x="808.75" y="1281.05" width="72.95" height="72.95" fill="#ff6a00"/>
<rect x="881.30" y="1281.05" width="72.95" height="72.95" fill="#ff0000"/>
<rect x="953.85" y="1281.05" width="72.95" height="72.95" fill="#ff6a00"/>
<rect x="736.20" y="1353.60" width="72.95" height="72.95" fill="#ffea00"/>
<rect x="808.75" y="1353.60" width="72.95" height="72.95" fill="#ff0000"/>
<rect x="881.30" y="1353.60" width="72.95" height="72.95" fill="#ff6a00"/>
<rect x="953.85" y="1353.60" width="72.95" height="72.95" fill="#ff7f00"/>
<rect x="736.20" y="1426.15" width="72.95" height="72.95" fill="#ff0000"/>
<rect x="808.75" y="1426.15" width="72.95" height="72.95" fill="#ffea00"/>
<rect x="881.30" y="1426.15" width="72.95" height="72.95" fill="#ffff00"/>
<rect x="953.85" y="1426.15" width="72.95" height="72.95" fill="#ffff00"/>
<path d="M917.4 1206.6V1177.7H990.3V1206.6 M844.8 1206.6V1175H953.7V1177.7 M772.3 1206.6V1162.6H899.7V1175" fill="none" stroke="#3a3a3a" stroke-width="1.1"/>
<path d="M732.4 1245H672.6V1317.5H732.4 M672.6 1281H666.6V1390H732.4 M666.6 1335.6H641.4V1462.6H732.4" fill="none" stroke="#3a3a3a" stroke-width="1.1"/>
<text x="1037" y="1241.2" font-size="23.6">subcluster 4</text>
<text x="1037" y="1310.0" font-size="23.6">subcluster 2</text>
<text x="1037" y="1378.8" font-size="23.6">subcluster 1</text>
<text x="1037" y="1447.6" font-size="23.6">subcluster 3</text>
<text transform="translate(780.5 1621) rotate(-90)" font-size="23.6">subcluster 3</text>
<text transform="translate(853.1 1621) rotate(-90)" font-size="23.6">subcluster 1</text>
<text transform="translate(925.7 1621) rotate(-90)" font-size="23.6">subcluster 2</text>
<text transform="translate(998.3 1621) rotate(-90)" font-size="23.6">subcluster 4</text>
<rect x="674.5" y="1129.5" width="52.5" height="32.799999999999955" fill="url(#hg)" stroke="#666" stroke-width="0.6"/>
<text x="664" y="1125.8" font-size="17" font-weight="bold">Color key</text>
<line x1="675.5" y1="1162.3" x2="675.5" y2="1166.3" stroke="#333" stroke-width="1"/>
<line x1="688.3" y1="1162.3" x2="688.3" y2="1166.3" stroke="#333" stroke-width="1"/>
<line x1="701" y1="1162.3" x2="701" y2="1166.3" stroke="#333" stroke-width="1"/>
<line x1="714" y1="1162.3" x2="714" y2="1166.3" stroke="#333" stroke-width="1"/>
<line x1="726.5" y1="1162.3" x2="726.5" y2="1166.3" stroke="#333" stroke-width="1"/>
<text x="667" y="1179.5" font-size="14" font-weight="bold">0.8</text>
<text x="694" y="1179.5" font-size="14" font-weight="bold">0.9</text>
<text x="723.4" y="1179.5" font-size="14" font-weight="bold">1</text>
<text x="680" y="1194.6" font-size="16.5" font-weight="bold">Value</text>
<rect x="1301.00" y="1212.30" width="73.22" height="73.22" fill="#ffff00"/>
<rect x="1373.83" y="1212.30" width="73.22" height="73.22" fill="#ff4800"/>
<rect x="1446.65" y="1212.30" width="73.22" height="73.22" fill="#ff2800"/>
<rect x="1519.47" y="1212.30" width="73.22" height="73.22" fill="#ff0000"/>
<rect x="1301.00" y="1285.12" width="73.22" height="73.22" fill="#ffff00"/>
<rect x="1373.83" y="1285.12" width="73.22" height="73.22" fill="#ff6a00"/>
<rect x="1446.65" y="1285.12" width="73.22" height="73.22" fill="#ff0000"/>
<rect x="1519.47" y="1285.12" width="73.22" height="73.22" fill="#ff2800"/>
<rect x="1301.00" y="1357.95" width="73.22" height="73.22" fill="#ffea00"/>
<rect x="1373.83" y="1357.95" width="73.22" height="73.22" fill="#ff0000"/>
<rect x="1446.65" y="1357.95" width="73.22" height="73.22" fill="#ff6a00"/>
<rect x="1519.47" y="1357.95" width="73.22" height="73.22" fill="#ff4800"/>
<rect x="1301.00" y="1430.77" width="73.22" height="73.22" fill="#ff0000"/>
<rect x="1373.83" y="1430.77" width="73.22" height="73.22" fill="#ffea00"/>
<rect x="1446.65" y="1430.77" width="73.22" height="73.22" fill="#ffff00"/>
<rect x="1519.47" y="1430.77" width="73.22" height="73.22" fill="#ffff00"/>
<path d="M1482.9 1211V1192.7H1555.8V1211 M1410.4 1211V1182.6H1519.4V1192.7 M1337.4 1211V1167.5H1464.9V1182.6" fill="none" stroke="#3a3a3a" stroke-width="1.1"/>
<path d="M1298.3 1249H1259.6V1321.3H1298.3 M1259.6 1285.2H1238.6V1393.8H1298.3 M1238.6 1339.5H1206.6V1466.8H1298.3" fill="none" stroke="#3a3a3a" stroke-width="1.1"/>
<text x="1601.7" y="1265.0" font-size="23.6">subcluster 4</text>
<text x="1601.7" y="1333.9" font-size="23.6">subcluster 2</text>
<text x="1601.7" y="1402.8" font-size="23.6">subcluster 1</text>
<text x="1601.7" y="1471.7" font-size="23.6">subcluster 3</text>
<text transform="translate(1347.2 1625) rotate(-90)" font-size="23.6">subcluster 3</text>
<text transform="translate(1420.0 1625) rotate(-90)" font-size="23.6">subcluster 1</text>
<text transform="translate(1492.8 1625) rotate(-90)" font-size="23.6">subcluster 2</text>
<text transform="translate(1565.6 1625) rotate(-90)" font-size="23.6">subcluster 4</text>
<rect x="1240" y="1133.3" width="52.700000000000045" height="32.700000000000045" fill="url(#hg)" stroke="#666" stroke-width="0.6"/>
<text x="1229.5" y="1128.6" font-size="17" font-weight="bold">Color key</text>
<line x1="1241" y1="1166" x2="1241" y2="1170" stroke="#333" stroke-width="1"/>
<line x1="1254" y1="1166" x2="1254" y2="1170" stroke="#333" stroke-width="1"/>
<line x1="1266.5" y1="1166" x2="1266.5" y2="1170" stroke="#333" stroke-width="1"/>
<line x1="1279.5" y1="1166" x2="1279.5" y2="1170" stroke="#333" stroke-width="1"/>
<line x1="1292" y1="1166" x2="1292" y2="1170" stroke="#333" stroke-width="1"/>
<text x="1232.5" y="1184" font-size="14" font-weight="bold">0.8</text>
<text x="1259" y="1184" font-size="14" font-weight="bold">0.9</text>
<text x="1289" y="1184" font-size="14" font-weight="bold">1</text>
<text x="1245.7" y="1197.2" font-size="16.5" font-weight="bold">Value</text>
<path d="M179 1695V2380.4H903" fill="none" stroke="#000" stroke-width="3"/>
<path d="M179 1696H902V2380.4" fill="none" stroke="#000" stroke-width="2"/>
<line x1="456.5" y1="1708" x2="456.5" y2="2380.4" stroke="#222" stroke-width="2.5" stroke-dasharray="11.5 10.5"/>
<line x1="678.6" y1="1708" x2="678.6" y2="2380.4" stroke="#222" stroke-width="2.5" stroke-dasharray="11.5 10.5"/>
<line x1="169" y1="1720.2" x2="179" y2="1720.2" stroke="#000" stroke-width="2.5"/>
<text x="165.8" y="1729.6" font-size="28.3" text-anchor="end" font-style="italic">SPL</text>
<line x1="169" y1="1773.9" x2="179" y2="1773.9" stroke="#000" stroke-width="2.5"/>
<text x="165.8" y="1783.3" font-size="28.3" text-anchor="end" font-style="italic">WUS</text>
<line x1="169" y1="1827.5" x2="179" y2="1827.5" stroke="#000" stroke-width="2.5"/>
<text x="165.8" y="1836.9" font-size="28.3" text-anchor="end" font-style="italic">PIN1</text>
<line x1="169" y1="1881.2" x2="179" y2="1881.2" stroke="#000" stroke-width="2.5"/>
<text x="165.8" y="1890.6" font-size="28.3" text-anchor="end" font-style="italic">WIH1</text>
<line x1="169" y1="1934.9" x2="179" y2="1934.9" stroke="#000" stroke-width="2.5"/>
<text x="165.8" y="1944.3" font-size="28.3" text-anchor="end" font-style="italic">WIH2</text>
<line x1="169" y1="1988.6" x2="179" y2="1988.6" stroke="#000" stroke-width="2.5"/>
<text x="165.8" y="1998.0" font-size="28.3" text-anchor="end" font-style="italic">WRKY28</text>
<line x1="169" y1="2042.2" x2="179" y2="2042.2" stroke="#000" stroke-width="2.5"/>
<text x="165.8" y="2051.6" font-size="28.3" text-anchor="end">Venus</text>
<line x1="169" y1="2095.9" x2="179" y2="2095.9" stroke="#000" stroke-width="2.5"/>
<text x="165.8" y="2105.3" font-size="28.3" text-anchor="end" font-style="italic">KNU</text>
<line x1="169" y1="2149.6" x2="179" y2="2149.6" stroke="#000" stroke-width="2.5"/>
<text x="165.8" y="2159.0" font-size="28.3" text-anchor="end" font-style="italic">AGO9</text>
<line x1="169" y1="2203.2" x2="179" y2="2203.2" stroke="#000" stroke-width="2.5"/>
<text x="165.8" y="2212.6" font-size="28.3" text-anchor="end" font-style="italic">DMC1</text>
<line x1="169" y1="2256.9" x2="179" y2="2256.9" stroke="#000" stroke-width="2.5"/>
<text x="165.8" y="2266.3" font-size="28.3" text-anchor="end" font-style="italic">ASY1</text>
<line x1="169" y1="2310.6" x2="179" y2="2310.6" stroke="#000" stroke-width="2.5"/>
<text x="165.8" y="2320.0" font-size="28.3" text-anchor="end" font-style="italic">SDS</text>
<line x1="169" y1="2364.2" x2="179" y2="2364.2" stroke="#000" stroke-width="2.5"/>
<text x="165.8" y="2373.6" font-size="28.3" text-anchor="end" font-style="italic">SWI1</text>
<line x1="210" y1="2380.4" x2="210" y2="2390.9" stroke="#000" stroke-width="2.6"/>
<text x="211" y="2417" font-size="26.5" text-anchor="middle">1</text>
<line x1="265" y1="2380.4" x2="265" y2="2390.9" stroke="#000" stroke-width="2.6"/>
<text x="266" y="2417" font-size="26.5" text-anchor="middle">2</text>
<line x1="320" y1="2380.4" x2="320" y2="2390.9" stroke="#000" stroke-width="2.6"/>
<text x="321" y="2417" font-size="26.5" text-anchor="middle">3</text>
<line x1="375.4" y1="2380.4" x2="375.4" y2="2390.9" stroke="#000" stroke-width="2.6"/>
<text x="376.4" y="2417" font-size="26.5" text-anchor="middle">4</text>
<line x1="430" y1="2380.4" x2="430" y2="2390.9" stroke="#000" stroke-width="2.6"/>
<text x="431" y="2417" font-size="26.5" text-anchor="middle">5</text>
<line x1="485.5" y1="2380.4" x2="485.5" y2="2390.9" stroke="#000" stroke-width="2.6"/>
<text x="486.5" y="2417" font-size="26.5" text-anchor="middle">1</text>
<line x1="540" y1="2380.4" x2="540" y2="2390.9" stroke="#000" stroke-width="2.6"/>
<text x="541" y="2417" font-size="26.5" text-anchor="middle">2</text>
<line x1="595.5" y1="2380.4" x2="595.5" y2="2390.9" stroke="#000" stroke-width="2.6"/>
<text x="596.5" y="2417" font-size="26.5" text-anchor="middle">3</text>
<line x1="650" y1="2380.4" x2="650" y2="2390.9" stroke="#000" stroke-width="2.6"/>
<text x="651" y="2417" font-size="26.5" text-anchor="middle">4</text>
<line x1="705" y1="2380.4" x2="705" y2="2390.9" stroke="#000" stroke-width="2.6"/>
<text x="706" y="2417" font-size="26.5" text-anchor="middle">1</text>
<line x1="760.5" y1="2380.4" x2="760.5" y2="2390.9" stroke="#000" stroke-width="2.6"/>
<text x="761.5" y="2417" font-size="26.5" text-anchor="middle">2</text>
<line x1="815.5" y1="2380.4" x2="815.5" y2="2390.9" stroke="#000" stroke-width="2.6"/>
<text x="816.5" y="2417" font-size="26.5" text-anchor="middle">3</text>
<line x1="870" y1="2380.4" x2="870" y2="2390.9" stroke="#000" stroke-width="2.6"/>
<text x="871" y="2417" font-size="26.5" text-anchor="middle">4</text>
<text x="313.5" y="1684" font-size="30" text-anchor="middle">AC.1</text>
<text x="563.5" y="1683.5" font-size="31" text-anchor="middle">MMC1.10</text>
<text x="785.7" y="1683.5" font-size="31" text-anchor="middle">MMC2.6</text>
<text x="534" y="2468.5" font-size="37.7" text-anchor="middle">subclusters</text>
<text transform="translate(37 2024) rotate(-90)" font-size="36.8" text-anchor="middle">Genes</text>
<circle cx="210" cy="1723.2" r="2.88" fill="#98206a"/>
<circle cx="485.5" cy="1723.2" r="2.79" fill="#5a10b0"/>
<circle cx="540" cy="1723.2" r="2.79" fill="#7a18a0"/>
<circle cx="705" cy="1723.2" r="2.33" fill="#a02080"/>
<circle cx="870" cy="1723.2" r="2.33" fill="#70209a"/>
<circle cx="210" cy="1775.3" r="2.88" fill="#b0205a"/>
<circle cx="485.5" cy="1775.3" r="3.26" fill="#5010c0"/>
<circle cx="540" cy="1775.3" r="2.79" fill="#80208a"/>
<circle cx="705" cy="1775.3" r="2.33" fill="#5a18b0"/>
<circle cx="870" cy="1775.3" r="2.33" fill="#7a209a"/>
<circle cx="210" cy="1829.8" r="3.72" fill="#6a10c0"/>
<circle cx="265" cy="1829.8" r="3.26" fill="#2a08c8"/>
<circle cx="430" cy="1829.8" r="3.72" fill="#8a18a8"/>
<circle cx="540" cy="1829.8" r="5.12" fill="#8a10c0"/>
<circle cx="650" cy="1829.8" r="3.72" fill="#2808e0"/>
<circle cx="705" cy="1829.8" r="3.72" fill="#8010b8"/>
<circle cx="870" cy="1829.8" r="3.72" fill="#3a08d8"/>
<circle cx="210" cy="1881.8" r="5.58" fill="#1008f0"/>
<circle cx="265" cy="1881.8" r="5.12" fill="#4808d0"/>
<circle cx="430" cy="1881.8" r="5.12" fill="#4a08e0"/>
<circle cx="540" cy="1881.8" r="4.65" fill="#3a08e8"/>
<circle cx="650" cy="1881.8" r="5.12" fill="#2a08f0"/>
<circle cx="760.5" cy="1881.8" r="6.51" fill="#4a08e8"/>
<circle cx="870" cy="1881.8" r="6.98" fill="#7a10d0"/>
<circle cx="265" cy="1935.6" r="7.91" fill="#5a08e0"/>
<circle cx="320" cy="1935.6" r="7.44" fill="#3808e8"/>
<circle cx="375.4" cy="1935.6" r="7.44" fill="#2808f0"/>
<circle cx="540" cy="1935.6" r="7.44" fill="#7a10d0"/>
<circle cx="760.5" cy="1935.6" r="7.91" fill="#4808f0"/>
<circle cx="870" cy="1935.6" r="7.91" fill="#5a08e8"/>
<circle cx="265" cy="1989.8" r="5.12" fill="#b01080"/>
<circle cx="650" cy="1989.8" r="3.26" fill="#a0207a"/>
<circle cx="760.5" cy="1989.8" r="4.65" fill="#5a08d8"/>
<circle cx="870" cy="1989.8" r="5.58" fill="#9010b8"/>
<circle cx="210" cy="2043.5" r="2.42" fill="#b0306a"/>
<circle cx="595.5" cy="2043.5" r="4.19" fill="#e0103a"/>
<circle cx="815.5" cy="2043.5" r="4.65" fill="#e81030"/>
<circle cx="210" cy="2097.2" r="2.70" fill="#b8205a"/>
<circle cx="595.5" cy="2097.2" r="4.19" fill="#e0184a"/>
<circle cx="815.5" cy="2097.2" r="4.65" fill="#e01840"/>
<circle cx="210" cy="2151.9" r="6.51" fill="#a010b0"/>
<circle cx="595.5" cy="2151.9" r="6.51" fill="#5008e0"/>
<circle cx="650" cy="2151.9" r="6.04" fill="#3808e8"/>
<circle cx="815.5" cy="2151.9" r="6.98" fill="#6008e0"/>
<circle cx="375.4" cy="2204.2" r="3.72" fill="#9010a0"/>
<circle cx="430" cy="2204.2" r="3.72" fill="#4808c8"/>
<circle cx="595.5" cy="2204.2" r="5.58" fill="#c81868"/>
<circle cx="815.5" cy="2204.2" r="6.04" fill="#e01848"/>
<circle cx="210" cy="2257.9" r="2.60" fill="#b0206a"/>
<circle cx="375.4" cy="2257.9" r="1.86" fill="#70309a"/>
<circle cx="595.5" cy="2257.9" r="5.12" fill="#e81028"/>
<circle cx="815.5" cy="2257.9" r="5.58" fill="#e81028"/>
<circle cx="210" cy="2310.9" r="2.79" fill="#4010c0"/>
<circle cx="320" cy="2310.9" r="2.79" fill="#6a10b0"/>
<circle cx="430" cy="2310.9" r="2.33" fill="#7a30a0"/>
<circle cx="595.5" cy="2310.9" r="4.65" fill="#d81858"/>
<circle cx="815.5" cy="2310.9" r="5.12" fill="#e01848"/>
<circle cx="210" cy="2364.6" r="2.79" fill="#c81838"/>
<circle cx="595.5" cy="2364.6" r="4.65" fill="#e81818"/>
<circle cx="815.5" cy="2364.6" r="5.12" fill="#e01840"/>
<text x="917.6" y="1842.6" font-size="28.3">Log2 FC</text>
<rect x="928" y="1862.5" width="35" height="180.5" fill="url(#fc)"/>
<text x="970" y="1889.8" font-size="22.8">6</text>
<text x="970" y="1939" font-size="22.8">4</text>
<text x="970" y="1993" font-size="22.8">2</text>
<text x="921.8" y="2100.6" font-size="28.3">Percentage</text>
<circle cx="948.7" cy="2133.7" r="9.3" fill="#000"/>
<text x="967.3" y="2142.2000000000003" font-size="22.8" textLength="42.3" lengthAdjust="spacingAndGlyphs">0.25</text>
<circle cx="948.7" cy="2169.7" r="11.4" fill="#000"/>
<text x="967.3" y="2178.9" font-size="22.8" textLength="42.3" lengthAdjust="spacingAndGlyphs">0.50</text>
<circle cx="948.7" cy="2206" r="13.4" fill="#000"/>
<text x="967.3" y="2215.9" font-size="22.8" textLength="42.3" lengthAdjust="spacingAndGlyphs">0.75</text>
</svg>
</body></html>
